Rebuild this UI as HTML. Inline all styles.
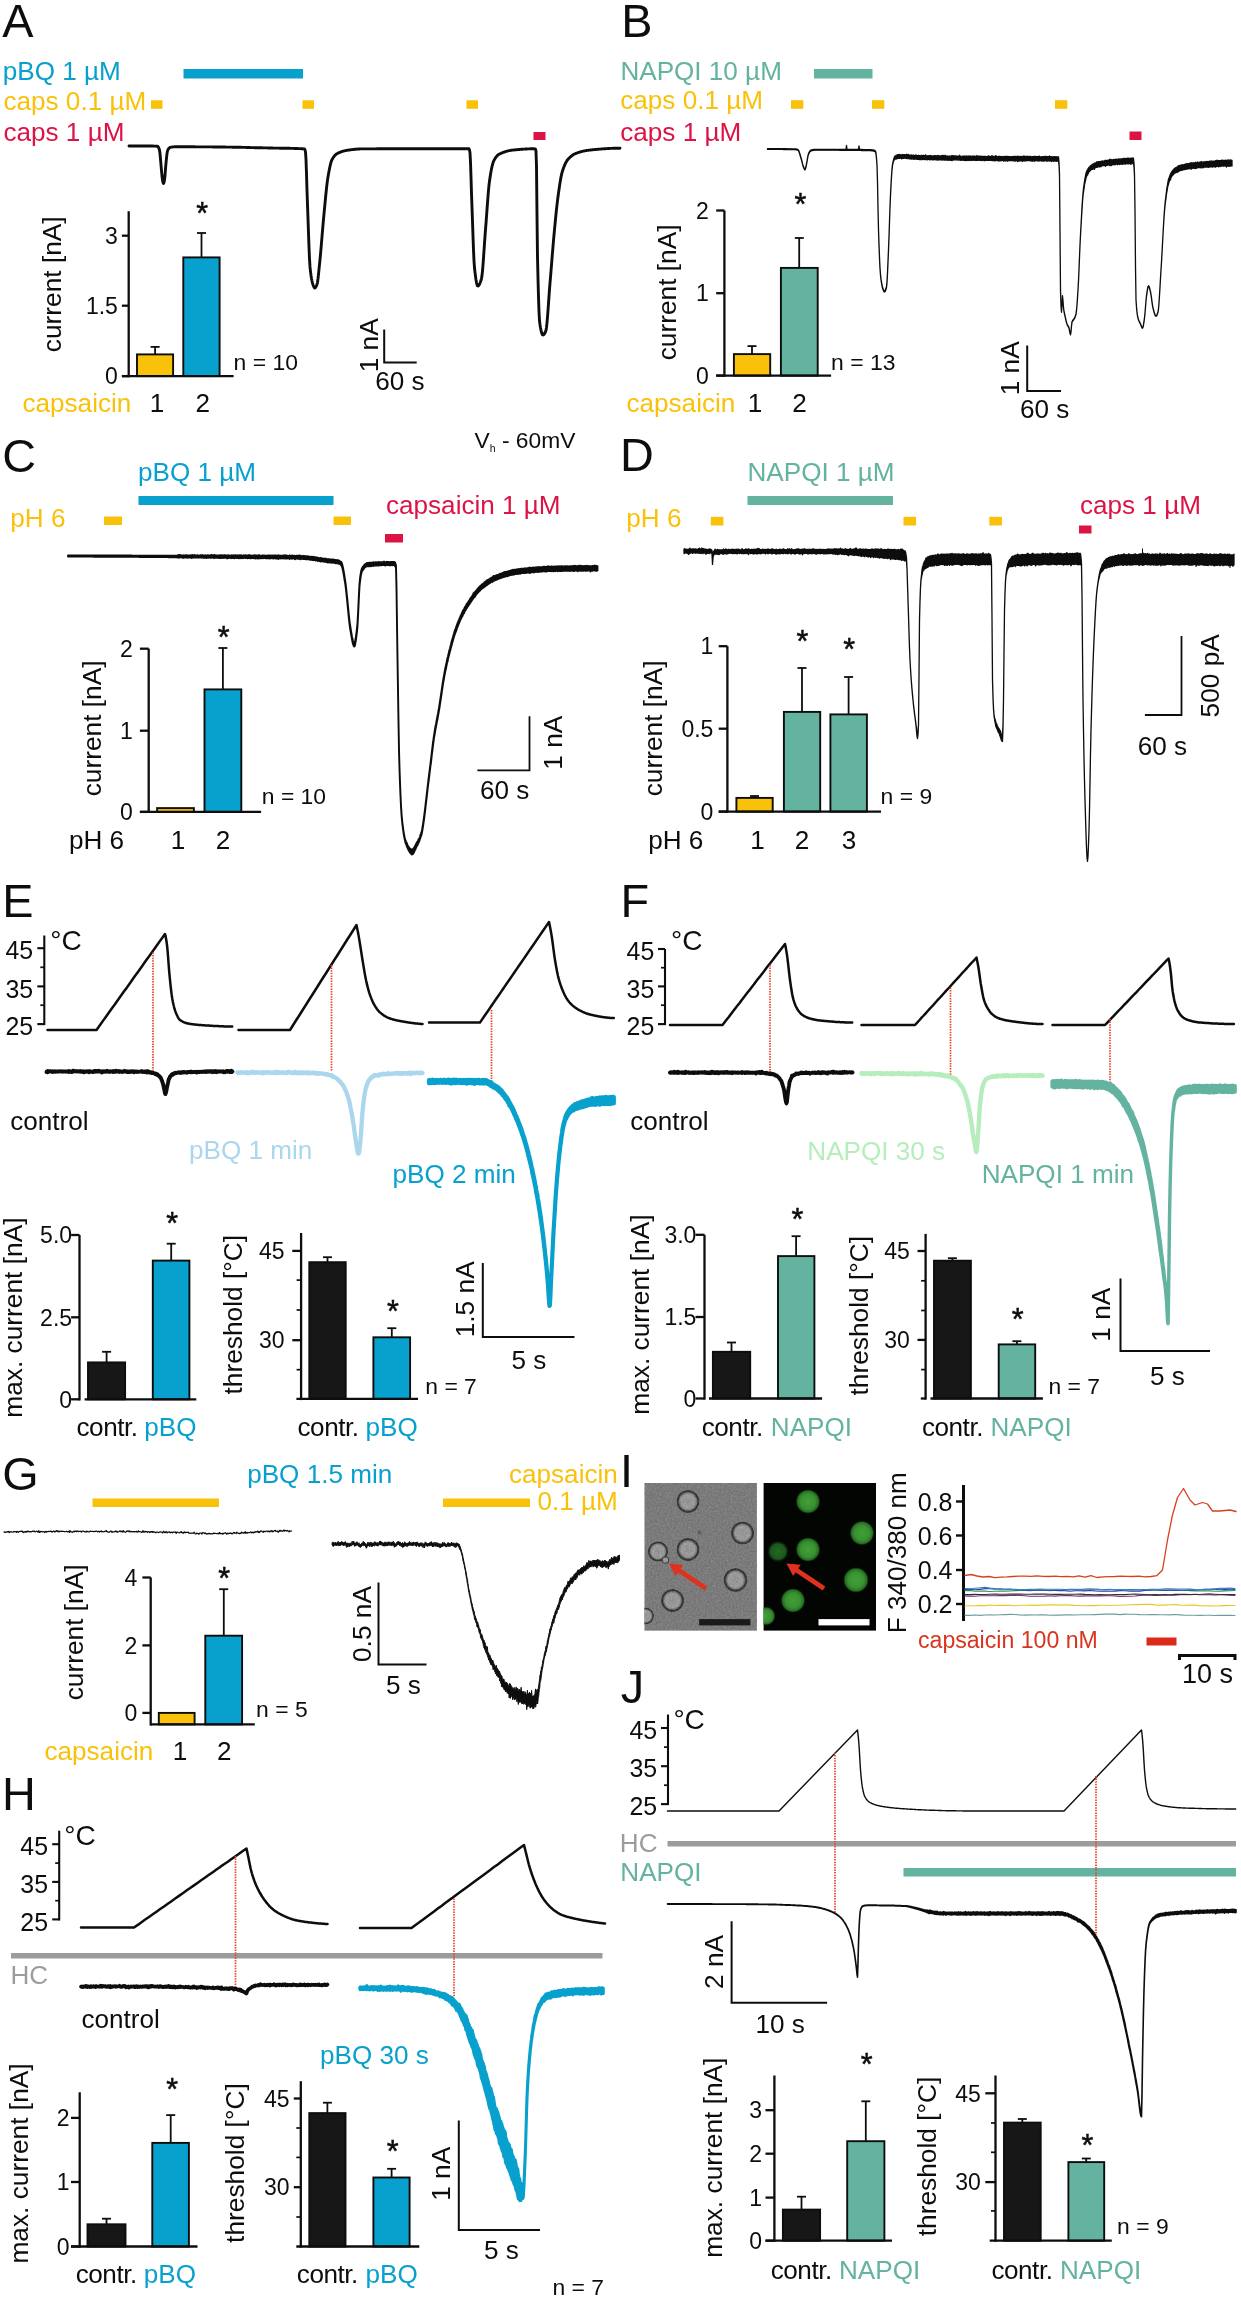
<!DOCTYPE html>
<html lang="en"><head><meta charset="utf-8"><title>Figure</title>
<style>html,body{margin:0;padding:0;background:#fff}svg{display:block;will-change:transform}text{font-family:"Liberation Sans",Arial,sans-serif}</style></head>
<body>
<svg width="1241" height="2300" viewBox="0 0 1241 2300">
<rect width="1241" height="2300" fill="#fff"/>
<g>
<text x="2.3" y="36.7" font-size="46.8" fill="#0d0d0d">A</text>
<text x="2.8" y="79.8" font-size="26.1" fill="#08a0cd">pBQ 1 µM</text>
<text x="3.5" y="109.5" font-size="26.1" fill="#f9c10a">caps 0.1 µM</text>
<text x="3.5" y="141.2" font-size="26.1" fill="#dc1446">caps 1 µM</text>
<rect x="183.5" y="69" width="119.5" height="9.5" fill="#08a0cd"/>
<rect x="151" y="100.3" width="11.5" height="8.5" fill="#f9c10a"/>
<rect x="302.5" y="100.3" width="11.5" height="8.5" fill="#f9c10a"/>
<rect x="466.5" y="100.3" width="11.5" height="8.5" fill="#f9c10a"/>
<rect x="533.5" y="132" width="12" height="8" fill="#dc1446"/>
<polyline points="129,146 129.5,146 130,146 130.5,146 131,146 131.5,146 132,146 132.5,146 133,146 133.5,146 134,146 134.5,146 135,146 135.5,146 136,146 136.5,146 137,146 137.5,146 138,146 138.5,146 139,146 139.5,146 140,146 140.5,146 141,146 141.5,146 142,146 142.5,146 143,146 143.5,146 144,146 144.5,146 145,146 145.5,146 146,146 146.5,146 147,146 147.5,146 148,146 148.5,146 149,146 149.5,146 150,146 150.5,146 151,146 151.5,146 152,146 152.5,146 153,146 153.5,146.1 154,146.1 154.5,146.1 155,146.1 155.5,146.1 156,146.2 156.5,146.2 157,146.3 157.5,146.3 158,146.6 158.5,147.4 159,148.5 159.5,150 160,153.5 160.5,159.2 161,165 161.5,170.6 162,176.1 162.5,180 163,182.4 163.5,183.5 164,182.4 164.5,180 165,175.5 165.5,168.9 166,163 166.5,158.1 167,153.6 167.5,151 168,149.8 168.5,148.9 169,148.2 169.5,147.8 170,147.5 170.5,147.4 171,147.2 171.5,147.1 172,147.1 172.5,147 173,146.9 173.5,146.9 174,146.8 174.5,146.8 175,146.8 175.5,146.8 176,146.8 176.5,146.8 177,146.8 177.5,146.8 178,146.8 178.5,146.8 179,146.8 179.5,146.8 180,146.8 180.5,146.8 181,146.8 181.5,146.8 182,146.8 182.5,146.8 183,146.8 183.5,146.8 184,146.8 184.5,146.8 185,146.8 185.5,146.8 186,146.8 186.5,146.8 187,146.8 187.5,146.8 188,146.8 188.5,146.8 189,146.8 189.5,146.8 190,146.8 190.5,146.8 191,146.8 191.5,146.8 192,146.8 192.5,146.8 193,146.8 193.5,146.8 194,146.8 194.5,146.8 195,146.8 195.5,146.9 196,146.9 196.5,146.9 197,146.9 197.5,146.9 198,146.9 198.5,146.9 199,146.9 199.5,146.9 200,146.9 200.5,146.9 201,146.9 201.5,146.9 202,146.9 202.5,146.9 203,146.9 203.5,146.9 204,146.9 204.5,146.9 205,146.9 205.5,146.9 206,146.9 206.5,146.9 207,146.9 207.5,146.9 208,146.9 208.5,146.9 209,146.9 209.5,146.9 210,146.9 210.5,146.9 211,146.9 211.5,146.9 212,146.9 212.5,146.9 213,147 213.5,147 214,147 214.5,147 215,147 215.5,147 216,147 216.5,147 217,147 217.5,147 218,147 218.5,147 219,147 219.5,147 220,147 220.5,147 221,147 221.5,147 222,147 222.5,147 223,147 223.5,147 224,147 224.5,147 225,147 225.5,147.1 226,147.1 226.5,147.1 227,147.1 227.5,147.1 228,147.1 228.5,147.1 229,147.1 229.5,147.1 230,147.1 230.5,147.1 231,147.1 231.5,147.1 232,147.2 232.5,147.2 233,147.2 233.5,147.2 234,147.2 234.5,147.2 235,147.2 235.5,147.2 236,147.2 236.5,147.2 237,147.2 237.5,147.3 238,147.3 238.5,147.3 239,147.3 239.5,147.3 240,147.3 240.5,147.3 241,147.3 241.5,147.3 242,147.4 242.5,147.4 243,147.4 243.5,147.4 244,147.4 244.5,147.4 245,147.4 245.5,147.4 246,147.4 246.5,147.5 247,147.5 247.5,147.5 248,147.5 248.5,147.5 249,147.5 249.5,147.5 250,147.5 250.5,147.6 251,147.6 251.5,147.6 252,147.6 252.5,147.6 253,147.6 253.5,147.6 254,147.6 254.5,147.7 255,147.7 255.5,147.7 256,147.7 256.5,147.7 257,147.7 257.5,147.7 258,147.7 258.5,147.7 259,147.8 259.5,147.8 260,147.8 260.5,147.8 261,147.8 261.5,147.8 262,147.8 262.5,147.8 263,147.9 263.5,147.9 264,147.9 264.5,147.9 265,147.9 265.5,147.9 266,147.9 266.5,147.9 267,147.9 267.5,147.9 268,148 268.5,148 269,148 269.5,148 270,148 270.5,148 271,148 271.5,148 272,148 272.5,148 273,148.1 273.5,148.1 274,148.1 274.5,148.1 275,148.1 275.5,148.1 276,148.1 276.5,148.1 277,148.1 277.5,148.1 278,148.1 278.5,148.1 279,148.1 279.5,148.2 280,148.2 280.5,148.2 281,148.2 281.5,148.2 282,148.2 282.5,148.2 283,148.2 283.5,148.2 284,148.2 284.5,148.2 285,148.2 285.5,148.3 286,148.3 286.5,148.3 287,148.3 287.5,148.3 288,148.3 288.5,148.3 289,148.3 289.5,148.3 290,148.3 290.5,148.4 291,148.4 291.5,148.4 292,148.4 292.5,148.4 293,148.4 293.5,148.4 294,148.4 294.5,148.5 295,148.5 295.5,148.5 296,148.5 296.5,148.5 297,148.5 297.5,148.5 298,148.6 298.5,148.6 299,148.6 299.5,148.6 300,148.6 300.5,148.6 301,148.7 301.5,148.7 302,148.7 302.5,148.8 303,148.8 303.5,148.9 304,148.9 304.5,149 305,149.9 305.5,152 306,159.5 306.5,173.8 307,190.3 307.5,204.6 308,218.6 308.5,233.2 309,247.1 309.5,258.9 310,266.9 310.5,271.6 311,275.4 311.5,278.5 312,281.1 312.5,283.1 313,284.7 313.5,286 314,287.2 314.5,287.9 315,288 315.5,287.5 316,286.7 316.5,285.7 317,284.4 317.5,282.2 318,278.7 318.5,274.3 319,269.4 319.5,264.4 320,259.6 320.5,254.3 321,248.7 321.5,242.7 322,236.7 322.5,230.7 323,224.8 323.5,219.2 324,213.9 324.5,208.7 325,203.3 325.5,198.1 326,193 326.5,188.3 327,183.9 327.5,180.1 328,176.9 328.5,174 329,171.2 329.5,168.7 330,166.3 330.5,164.2 331,162.3 331.5,160.8 332,159.7 332.5,158.8 333,158 333.5,157.2 334,156.5 334.5,155.9 335,155.3 335.5,154.8 336,154.4 336.5,154 337,153.7 337.5,153.4 338,153.2 338.5,152.9 339,152.7 339.5,152.5 340,152.3 340.5,152.1 341,151.9 341.5,151.7 342,151.5 342.5,151.4 343,151.2 343.5,151.1 344,151 344.5,150.8 345,150.7 345.5,150.6 346,150.5 346.5,150.4 347,150.3 347.5,150.3 348,150.2 348.5,150.1 349,150 349.5,150 350,149.9 350.5,149.8 351,149.8 351.5,149.7 352,149.6 352.5,149.6 353,149.5 353.5,149.5 354,149.4 354.5,149.3 355,149.3 355.5,149.2 356,149.2 356.5,149.2 357,149.1 357.5,149.1 358,149 358.5,149 359,149 359.5,149 360,148.9 360.5,148.9 361,148.9 361.5,148.9 362,148.9 362.5,148.9 363,148.9 363.5,148.9 364,148.9 364.5,148.9 365,148.9 365.5,148.9 366,148.9 366.5,148.9 367,148.9 367.5,148.9 368,148.9 368.5,148.9 369,148.9 369.5,148.9 370,148.9 370.5,148.9 371,148.9 371.5,148.9 372,148.9 372.5,148.9 373,148.9 373.5,148.9 374,148.9 374.5,148.9 375,148.9 375.5,148.9 376,148.9 376.5,148.8 377,148.8 377.5,148.8 378,148.8 378.5,148.8 379,148.8 379.5,148.8 380,148.8 380.5,148.8 381,148.8 381.5,148.8 382,148.8 382.5,148.8 383,148.8 383.5,148.8 384,148.8 384.5,148.8 385,148.8 385.5,148.8 386,148.8 386.5,148.8 387,148.8 387.5,148.8 388,148.8 388.5,148.8 389,148.8 389.5,148.8 390,148.8 390.5,148.8 391,148.8 391.5,148.8 392,148.8 392.5,148.8 393,148.8 393.5,148.8 394,148.8 394.5,148.8 395,148.8 395.5,148.8 396,148.8 396.5,148.8 397,148.8 397.5,148.8 398,148.8 398.5,148.8 399,148.8 399.5,148.8 400,148.8 400.5,148.8 401,148.8 401.5,148.8 402,148.8 402.5,148.8 403,148.8 403.5,148.8 404,148.8 404.5,148.8 405,148.8 405.5,148.8 406,148.8 406.5,148.8 407,148.8 407.5,148.8 408,148.8 408.5,148.8 409,148.8 409.5,148.8 410,148.8 410.5,148.8 411,148.8 411.5,148.8 412,148.8 412.5,148.8 413,148.8 413.5,148.8 414,148.8 414.5,148.8 415,148.8 415.5,148.8 416,148.8 416.5,148.8 417,148.8 417.5,148.8 418,148.8 418.5,148.8 419,148.8 419.5,148.8 420,148.8 420.5,148.8 421,148.8 421.5,148.8 422,148.8 422.5,148.8 423,148.8 423.5,148.8 424,148.8 424.5,148.8 425,148.8 425.5,148.8 426,148.8 426.5,148.8 427,148.8 427.5,148.8 428,148.8 428.5,148.8 429,148.8 429.5,148.8 430,148.8 430.5,148.8 431,148.8 431.5,148.8 432,148.8 432.5,148.8 433,148.8 433.5,148.8 434,148.8 434.5,148.8 435,148.8 435.5,148.8 436,148.8 436.5,148.8 437,148.8 437.5,148.8 438,148.8 438.5,148.8 439,148.8 439.5,148.8 440,148.8 440.5,148.8 441,148.8 441.5,148.8 442,148.8 442.5,148.8 443,148.8 443.5,148.8 444,148.8 444.5,148.8 445,148.8 445.5,148.8 446,148.8 446.5,148.8 447,148.8 447.5,148.8 448,148.8 448.5,148.8 449,148.8 449.5,148.8 450,148.8 450.5,148.8 451,148.8 451.5,148.8 452,148.8 452.5,148.8 453,148.8 453.5,148.8 454,148.8 454.5,148.8 455,148.8 455.5,148.8 456,148.8 456.5,148.8 457,148.8 457.5,148.8 458,148.8 458.5,148.8 459,148.8 459.5,148.8 460,148.8 460.5,148.8 461,148.8 461.5,148.8 462,148.8 462.5,148.8 463,148.8 463.5,148.8 464,148.8 464.5,148.8 465,148.8 465.5,148.8 466,148.8 466.5,148.8 467,148.8 467.5,148.8 468,148.8 468.5,148.8 469,148.8 469.5,150 470,152.8 470.5,162.1 471,177.2 471.5,193.5 472,207.3 472.5,221.5 473,236.2 473.5,249.9 474,260.9 474.5,268 475,272.4 475.5,276.4 476,279.8 476.5,282.6 477,284.7 477.5,285.8 478,286 478.5,285.7 479,285.1 479.5,284.2 480,283.1 480.5,281.8 481,280.3 481.5,278.6 482,275.6 482.5,270.9 483,264.9 483.5,258.1 484,250.7 484.5,243.3 485,236.1 485.5,229.6 486,223.3 486.5,216.6 487,209.7 487.5,202.9 488,196.4 488.5,190.4 489,185.2 489.5,181 490,177.7 490.5,174.5 491,171.6 491.5,169 492,166.6 492.5,164.5 493,162.8 493.5,161.4 494,160.4 494.5,159.5 495,158.6 495.5,157.9 496,157.2 496.5,156.5 497,155.9 497.5,155.4 498,155 498.5,154.6 499,154.3 499.5,154 500,153.8 500.5,153.5 501,153.3 501.5,153.1 502,152.9 502.5,152.7 503,152.5 503.5,152.3 504,152.1 504.5,151.9 505,151.8 505.5,151.6 506,151.4 506.5,151.3 507,151.2 507.5,151 508,150.9 508.5,150.8 509,150.7 509.5,150.6 510,150.5 510.5,150.4 511,150.3 511.5,150.3 512,150.2 512.5,150.1 513,150.1 513.5,150 514,150 514.5,149.9 515,149.9 515.5,149.8 516,149.8 516.5,149.7 517,149.7 517.5,149.6 518,149.6 518.5,149.5 519,149.5 519.5,149.5 520,149.4 520.5,149.4 521,149.3 521.5,149.3 522,149.3 522.5,149.2 523,149.2 523.5,149.1 524,149.1 524.5,149.1 525,149.1 525.5,149 526,149 526.5,149 527,149 527.5,148.9 528,148.9 528.5,148.9 529,148.9 529.5,148.9 530,148.8 530.5,148.8 531,148.8 531.5,148.8 532,148.8 532.5,148.8 533,148.8 533.5,148.8 534,148.8 534.5,148.9 535,148.9 535.5,149.1 536,151.4 536.5,166.2 537,215.2 537.5,257 538,278.5 538.5,297.1 539,311.6 539.5,320.8 540,324.7 540.5,327.7 541,330.3 541.5,332.3 542,333.8 542.5,334.7 543,335 543.5,334.8 544,334.4 544.5,333.7 545,332.8 545.5,331.7 546,330.3 546.5,327.4 547,322.8 547.5,317 548,310.4 548.5,303.3 549,296.2 549.5,289.4 550,283.2 550.5,277.2 551,271.1 551.5,264.8 552,258.5 552.5,252.4 553,246.3 553.5,240.5 554,235 554.5,229.7 555,224.4 555.5,219.2 556,214.2 556.5,209.3 557,204.8 557.5,200.6 558,196.7 558.5,193.1 559,189.5 559.5,186.1 560,182.9 560.5,179.9 561,177.1 561.5,174.7 562,172.7 562.5,171 563,169.5 563.5,168 564,166.7 564.5,165.4 565,164.3 565.5,163.2 566,162.3 566.5,161.4 567,160.6 567.5,159.9 568,159.4 568.5,158.8 569,158.3 569.5,157.7 570,157.3 570.5,156.8 571,156.4 571.5,156 572,155.6 572.5,155.2 573,154.9 573.5,154.6 574,154.3 574.5,154 575,153.8 575.5,153.6 576,153.4 576.5,153.2 577,153 577.5,152.8 578,152.6 578.5,152.5 579,152.3 579.5,152.2 580,152 580.5,151.9 581,151.7 581.5,151.6 582,151.5 582.5,151.3 583,151.2 583.5,151.1 584,151 584.5,150.9 585,150.8 585.5,150.7 586,150.6 586.5,150.5 587,150.4 587.5,150.4 588,150.3 588.5,150.2 589,150.2 589.5,150.1 590,150.1 590.5,150 591,150 591.5,149.9 592,149.8 592.5,149.8 593,149.7 593.5,149.7 594,149.6 594.5,149.6 595,149.5 595.5,149.5 596,149.5 596.5,149.4 597,149.4 597.5,149.3 598,149.3 598.5,149.2 599,149.2 599.5,149.1 600,149.1 600.5,149.1 601,149 601.5,149 602,148.9 602.5,148.9 603,148.9 603.5,148.8 604,148.8 604.5,148.8 605,148.7 605.5,148.7 606,148.7 606.5,148.6 607,148.6 607.5,148.6 608,148.5 608.5,148.5 609,148.5 609.5,148.5 610,148.4 610.5,148.4 611,148.4 611.5,148.4 612,148.4 612.5,148.3 613,148.3 613.5,148.3 614,148.3 614.5,148.3 615,148.3 615.5,148.3 616,148.2 616.5,148.2 617,148.2 617.5,148.2 618,148.2 618.5,148.2 619,148.2 619.5,148.2 620,148.2" fill="none" stroke="#0d0d0d" stroke-width="2.9" stroke-linejoin="round" stroke-linecap="round"/>
<line x1="128.7" y1="211.2" x2="128.7" y2="377.2" stroke="#0d0d0d" stroke-width="2.3"/>
<line x1="121.9" y1="235.7" x2="128.7" y2="235.7" stroke="#0d0d0d" stroke-width="2.3"/>
<line x1="121.9" y1="305.7" x2="128.7" y2="305.7" stroke="#0d0d0d" stroke-width="2.3"/>
<line x1="121.9" y1="376.1" x2="128.7" y2="376.1" stroke="#0d0d0d" stroke-width="2.3"/>
<text x="117.9" y="243.9" font-size="23" fill="#0d0d0d" text-anchor="end">3</text>
<text x="117.9" y="313.9" font-size="23" fill="#0d0d0d" text-anchor="end">1.5</text>
<text x="117.9" y="384.3" font-size="23" fill="#0d0d0d" text-anchor="end">0</text>
<line x1="155.1" y1="346.9" x2="155.1" y2="354.4" stroke="#0d0d0d" stroke-width="1.8"/>
<line x1="150.6" y1="346.9" x2="159.6" y2="346.9" stroke="#0d0d0d" stroke-width="1.8"/>
<rect x="137" y="354.4" width="36.1" height="21.7" fill="#f9c10a" stroke="#0d0d0d" stroke-width="1.9"/>
<line x1="201.5" y1="233" x2="201.5" y2="257.4" stroke="#0d0d0d" stroke-width="1.8"/>
<line x1="197" y1="233" x2="206" y2="233" stroke="#0d0d0d" stroke-width="1.8"/>
<rect x="183.3" y="257.4" width="36.3" height="118.7" fill="#08a0cd" stroke="#0d0d0d" stroke-width="1.9"/>
<line x1="121.9" y1="376.1" x2="233.6" y2="376.1" stroke="#0d0d0d" stroke-width="2.3"/>
<text transform="translate(61.2 284.3) rotate(-90)" font-size="26.3" fill="#0d0d0d" text-anchor="middle">current [nA]</text>
<text x="202.3" y="223.9" font-size="30.5" fill="#0d0d0d" stroke="#0d0d0d" stroke-width="0.5" text-anchor="middle">*</text>
<text x="233.6" y="369.9" font-size="22.9" fill="#0d0d0d">n = 10</text>
<text x="22.5" y="412.3" font-size="26.1" fill="#f9c10a">capsaicin</text>
<text x="156.9" y="412.3" font-size="26.1" fill="#0d0d0d" text-anchor="middle">1</text>
<text x="202.8" y="412.3" font-size="26.1" fill="#0d0d0d" text-anchor="middle">2</text>
<polyline points="384.2,329.5 384.2,362.5 416.7,362.5" fill="none" stroke="#0d0d0d" stroke-width="2"/>
<text transform="translate(378.3 345.3) rotate(-90)" font-size="26.3" fill="#0d0d0d" text-anchor="middle">1 nA</text>
<text x="375.2" y="389.8" font-size="26.1" fill="#0d0d0d">60 s</text>
<text x="474.5" y="447.8" font-size="22.8" fill="#0d0d0d">V<tspan font-size="10.5" dy="4.3">h</tspan><tspan dy="-4.3"> - 60mV</tspan></text>
</g>
<g>
<text x="621.2" y="36.7" font-size="46.8" fill="#0d0d0d">B</text>
<text x="620.4" y="79.6" font-size="26.1" fill="#64b2a0">NAPQI 10 µM</text>
<text x="620.3" y="108.9" font-size="26.1" fill="#f9c10a">caps 0.1 µM</text>
<text x="620.3" y="140.5" font-size="26.1" fill="#dc1446">caps 1 µM</text>
<rect x="814" y="69" width="58.5" height="9.5" fill="#64b2a0"/>
<rect x="791" y="100.2" width="12.3" height="8.6" fill="#f9c10a"/>
<rect x="872" y="100.2" width="12.3" height="8.6" fill="#f9c10a"/>
<rect x="1055" y="100.2" width="12.3" height="8.6" fill="#f9c10a"/>
<rect x="1129.5" y="131.5" width="12" height="8.5" fill="#dc1446"/>
<polygon points="767.5,148.6 768,148.6 768.5,148.6 769,148.6 769.5,148.6 770,148.6 770.5,148.6 771,148.6 771.5,148.6 772,148.6 772.5,148.6 773,148.6 773.5,148.6 774,148.7 774.5,148.7 775,148.7 775.5,148.7 776,148.7 776.5,148.7 777,148.7 777.5,148.7 778,148.7 778.5,148.7 779,148.7 779.5,148.7 780,148.7 780.5,148.7 781,148.7 781.5,148.7 782,148.7 782.5,148.7 783,148.7 783.5,148.7 784,148.7 784.5,148.7 785,148.7 785.5,148.7 786,148.7 786.5,148.7 787,148.7 787.5,148.8 788,148.8 788.5,148.8 789,148.8 789.5,148.8 790,148.8 790.5,148.8 791,148.8 791.5,148.8 792,148.8 792.5,148.9 793,148.9 793.5,148.9 794,148.9 794.5,148.9 795,148.9 795.5,148.9 796,149 796.5,149.1 797,149.2 797.5,149.4 798,149.6 798.5,150.1 799,151.2 799.5,152.6 800,154.3 800.5,156 801,157.6 801.5,159.3 802,161.3 802.5,163.4 803,165.2 803.5,166.6 804,167.7 804.5,168.7 805,169.1 805.5,168.1 806,166 806.5,163.6 807,161.1 807.5,158.1 808,155.4 808.5,153.6 809,152.5 809.5,151.6 810,150.9 810.5,150.4 811,150.1 811.5,149.9 812,149.8 812.5,149.7 813,149.6 813.5,149.5 814,149.4 814.5,149.4 815,149.4 815.5,149.4 816,149.4 816.5,149.4 817,149.4 817.5,149.4 818,149.4 818.5,149.4 819,149.4 819.5,149.4 820,149.4 820.5,149.4 821,149.4 821.5,149.4 822,149.4 822.5,149.4 823,149.4 823.5,149.4 824,149.4 824.5,149.4 825,149.4 825.5,149.4 826,149.4 826.5,149.4 827,149.4 827.5,149.4 828,149.4 828.5,149.4 829,149.4 829.5,149.4 830,149.4 830.5,149.4 831,149.4 831.5,149.4 832,149.4 832.5,149.4 833,149.4 833.5,149.4 834,149.4 834.5,149.4 835,149.4 835.5,149.4 836,149.4 836.5,149.4 837,149.4 837.5,149.4 838,149.4 838.5,149.4 839,149.4 839.5,149.3 840,149.3 840.5,149.3 841,149.3 841.5,149.3 842,149.3 842.5,149.3 843,149.3 843.5,149.3 844,149.3 844.5,149.3 845,149.3 845.5,149.3 846,149.3 846.5,145.5 847,149.3 847.5,149.3 848,149.3 848.5,149.3 849,149.3 849.5,149.3 850,149.3 850.5,149.3 851,149.3 851.5,149.3 852,149.3 852.5,149.3 853,149.3 853.5,149.3 854,149.3 854.5,149.3 855,149.3 855.5,149.3 856,149.3 856.5,149.3 857,149.3 857.5,149.3 858,149.3 858.5,149.3 859,146 859.5,149.3 860,149.4 860.5,149.4 861,149.5 861.5,149.5 862,149.5 862.5,149.5 863,149.6 863.5,149.6 864,149.6 864.5,149.6 865,149.6 865.5,149.6 866,149.6 866.5,149.6 867,149.6 867.5,149.6 868,149.6 868.5,149.6 869,149.7 869.5,149.7 870,149.7 870.5,149.7 871,149.7 871.5,149.8 872,149.8 872.5,149.9 873,149.9 873.5,150 874,150.2 874.5,150.4 875,150.7 875.5,151 876,153 876.5,157.8 877,164.5 877.5,181.3 878,207.6 878.5,229.5 879,244.1 879.5,257.2 880,267.7 880.5,274.5 881,278.7 881.5,282.1 882,284.8 882.5,286.9 883,288.5 883.5,289.6 884,290.6 884.5,290.9 885,290.6 885.5,289.7 886,288.3 886.5,286.4 887,281.6 887.5,272.5 888,261.1 888.5,249.4 889,236.4 889.5,221.2 890,206.4 890.5,194.4 891,184.7 891.5,175.8 892,168.7 892.5,164.4 893,162 893.5,159.9 894,158.1 894.5,157 895,156.1 895.5,156 896,155.5 896.5,155.6 897,155.1 897.5,154.7 898,154.8 898.5,154.4 899,154.9 899.5,154.4 900,155 900.5,154.8 901,154.9 901.5,154.8 902,154.8 902.5,155 903,154.5 903.5,154.9 904,154.8 904.5,154.9 905,154.7 905.5,154.9 906,155 906.5,154.3 907,154.9 907.5,155 908,154.4 908.5,154.6 909,155.3 909.5,155.1 910,155.4 910.5,155.3 911,155 911.5,155 912,155.2 912.5,155.4 913,155.6 913.5,155.1 914,155.3 914.5,155.5 915,155.3 915.5,155 916,155.8 916.5,155.2 917,155.6 917.5,155.7 918,155.8 918.5,155.3 919,155.8 919.5,155.6 920,155.9 920.5,155.9 921,155.4 921.5,155.5 922,155.4 922.5,155.7 923,155.5 923.5,155.5 924,155.9 924.5,155.7 925,155.8 925.5,154.9 926,155.8 926.5,155.8 927,156 927.5,155.8 928,156 928.5,155.8 929,155.7 929.5,155.9 930,156.1 930.5,155.5 931,155.7 931.5,155.9 932,156.1 932.5,156.1 933,156.1 933.5,155.9 934,155.7 934.5,156.1 935,155.6 935.5,156.1 936,155.7 936.5,156.2 937,156.2 937.5,155.5 938,155.8 938.5,155.7 939,156 939.5,155.8 940,156.1 940.5,156.1 941,156 941.5,155.6 942,156 942.5,155.3 943,155.5 943.5,156.3 944,155.4 944.5,156.3 945,156.3 945.5,155.4 946,156.3 946.5,156.3 947,156.1 947.5,156.1 948,156 948.5,156.2 949,156.3 949.5,156.1 950,156.1 950.5,156.4 951,156.2 951.5,156.2 952,155.5 952.5,156.2 953,155.8 953.5,156.4 954,155.7 954.5,156.5 955,156 955.5,155.9 956,156 956.5,156.5 957,156.3 957.5,156.1 958,156.5 958.5,156.4 959,156.1 959.5,155.3 960,155.9 960.5,156.5 961,156.4 961.5,156.4 962,156.5 962.5,156.5 963,156.2 963.5,156.2 964,156.4 964.5,155.9 965,156.2 965.5,156.5 966,156.4 966.5,155.9 967,156.1 967.5,156.5 968,156.3 968.5,156 969,156.4 969.5,156.5 970,155.9 970.5,156.1 971,156.3 971.5,156.3 972,156.4 972.5,156.2 973,156.1 973.5,156.3 974,156 974.5,156.6 975,156.3 975.5,156.5 976,156.4 976.5,156.4 977,155.5 977.5,156.4 978,156.1 978.5,156.5 979,156.4 979.5,156.2 980,156.5 980.5,156.1 981,156.7 981.5,156.4 982,156.5 982.5,156.4 983,156.3 983.5,156.6 984,156.5 984.5,156.5 985,156.4 985.5,156.5 986,156.6 986.5,156.6 987,156.6 987.5,156.5 988,156.4 988.5,155.8 989,156.4 989.5,156.5 990,156.6 990.5,156.4 991,156.6 991.5,156.3 992,155.6 992.5,156.5 993,156.4 993.5,156.7 994,156.5 994.5,156.5 995,156.5 995.5,156 996,155.6 996.5,156.7 997,156.7 997.5,156.8 998,156.7 998.5,156.3 999,156.4 999.5,156.5 1000,156.4 1000.5,156.8 1001,156.5 1001.5,156.8 1002,156.7 1002.5,156.6 1003,156.8 1003.5,156.6 1004,156.8 1004.5,156.4 1005,156.5 1005.5,156.4 1006,156.4 1006.5,156.7 1007,156.5 1007.5,156.4 1008,156.5 1008.5,156.8 1009,156.5 1009.5,156.7 1010,156.6 1010.5,156.6 1011,156.8 1011.5,156.7 1012,156.8 1012.5,156.6 1013,156.6 1013.5,156.5 1014,156.7 1014.5,156.3 1015,156.6 1015.5,156.4 1016,156.8 1016.5,156.4 1017,156.8 1017.5,156.3 1018,156.1 1018.5,156.7 1019,156.8 1019.5,156.5 1020,156.7 1020.5,156.4 1021,156.8 1021.5,156.4 1022,156.8 1022.5,156.5 1023,156.2 1023.5,156.4 1024,156.1 1024.5,156.2 1025,156.8 1025.5,156.5 1026,156.4 1026.5,156.5 1027,156.8 1027.5,156.4 1028,156.2 1028.5,156.6 1029,156.6 1029.5,156.8 1030,156.3 1030.5,156.4 1031,156.7 1031.5,156.8 1032,156.8 1032.5,156.7 1033,156.8 1033.5,156.5 1034,156.4 1034.5,156.8 1035,156.4 1035.5,156.4 1036,156.9 1036.5,156.5 1037,156.8 1037.5,156.7 1038,156.9 1038.5,156.5 1039,156.4 1039.5,156.2 1040,156.8 1040.5,156.9 1041,156.9 1041.5,156.8 1042,156.9 1042.5,156.6 1043,156.6 1043.5,156.9 1044,156.6 1044.5,156.5 1045,156.7 1045.5,156.8 1046,156.2 1046.5,156.5 1047,156.9 1047.5,156.6 1048,156.7 1048.5,156.9 1049,156.5 1049.5,156 1050,156.9 1050.5,156.7 1051,156.8 1051.5,156.7 1052,156.8 1052.5,156.9 1053,156.8 1053.5,157.1 1054,156.6 1054.5,156.8 1055,156.9 1055.5,156.9 1056,156.6 1056.5,157.1 1057,156.9 1057.5,157.1 1058,157 1058.5,156.8 1059,162.1 1059.5,174.3 1060,231.1 1060.5,289.7 1061,305.3 1061.5,311.7 1062,303.7 1062.5,295.7 1063,300.8 1063.5,307.7 1064,310.9 1064.5,313.4 1065,315.7 1065.5,318 1066,320.2 1066.5,322.1 1067,323.7 1067.5,324.8 1068,325.7 1068.5,326.5 1069,327.7 1069.5,330 1070,332.8 1070.5,334.2 1071,331.3 1071.5,325.5 1072,321.7 1072.5,320.7 1073,320 1073.5,319.4 1074,318.7 1074.5,317.8 1075,316.8 1075.5,315.5 1076,313.7 1076.5,310.2 1077,304.5 1077.5,297.4 1078,289.7 1078.5,280.5 1079,269.1 1079.5,256.8 1080,244.9 1080.5,234.6 1081,225.4 1081.5,216.3 1082,207.1 1082.5,199.9 1083,193.5 1083.5,188.2 1084,185 1084.5,181.4 1085,178.3 1085.5,175.9 1086,173.3 1086.5,172.1 1087,170.6 1087.5,170 1088,168.8 1088.5,168 1089,167.4 1089.5,166.9 1090,166.3 1090.5,165.9 1091,165.6 1091.5,165 1092,164.9 1092.5,164.7 1093,163.9 1093.5,163.9 1094,163.8 1094.5,163 1095,163.4 1095.5,163 1096,162.8 1096.5,162.1 1097,161.8 1097.5,162.1 1098,162 1098.5,161.6 1099,162 1099.5,161.9 1100,161.4 1100.5,161.7 1101,161.7 1101.5,161.3 1102,160.9 1102.5,161 1103,161.2 1103.5,161.1 1104,161.1 1104.5,161 1105,160.3 1105.5,160.9 1106,160.4 1106.5,160.7 1107,160.5 1107.5,160.4 1108,160.1 1108.5,160.1 1109,160.3 1109.5,160.1 1110,159.1 1110.5,160.2 1111,159.9 1111.5,159.7 1112,159.8 1112.5,159.8 1113,159.8 1113.5,159.6 1114,159.4 1114.5,159.8 1115,159.4 1115.5,159.7 1116,159.1 1116.5,159.5 1117,159.4 1117.5,159.5 1118,159.4 1118.5,159.1 1119,158.8 1119.5,159 1120,159.2 1120.5,159.2 1121,158.8 1121.5,159.2 1122,158.7 1122.5,159 1123,158.8 1123.5,158.6 1124,158.2 1124.5,158.8 1125,158.7 1125.5,158.8 1126,158.4 1126.5,158.8 1127,158.3 1127.5,158.1 1128,158.7 1128.5,158.1 1129,158.8 1129.5,158.4 1130,158.3 1130.5,158.6 1131,158.2 1131.5,158.7 1132,158.2 1132.5,158.2 1133,157.9 1133.5,158.9 1134,163.5 1134.5,174.2 1135,210.3 1135.5,266.1 1136,299.7 1136.5,306.9 1137,312 1137.5,315.4 1138,317.7 1138.5,319.4 1139,320.7 1139.5,321.7 1140,322.7 1140.5,323.7 1141,324.9 1141.5,326.2 1142,327.3 1142.5,327.7 1143,326.8 1143.5,324.4 1144,321.2 1144.5,317.7 1145,313 1145.5,306.7 1146,300.4 1146.5,295.7 1147,292.2 1147.5,289 1148,286.6 1148.5,285.7 1149,286.3 1149.5,287.7 1150,289.6 1150.5,291.7 1151,294.3 1151.5,297.9 1152,301.7 1152.5,305.1 1153,307.7 1153.5,309.6 1154,311.5 1154.5,313.1 1155,314.5 1155.5,315.4 1156,315.7 1156.5,315.4 1157,314.5 1157.5,313.3 1158,311.7 1158.5,308.5 1159,302.7 1159.5,295.1 1160,286.5 1160.5,277.8 1161,269.7 1161.5,261.7 1162,252.8 1162.5,243.5 1163,234.2 1163.5,225.2 1164,216.9 1164.5,209.7 1165,204 1165.5,199.4 1166,195.4 1166.5,191.3 1167,187.6 1167.5,184.8 1168,181.9 1168.5,179.2 1169,177.9 1169.5,176.5 1170,175.3 1170.5,174 1171,172.9 1171.5,172.2 1172,171.5 1172.5,170.8 1173,170.2 1173.5,169.5 1174,169.1 1174.5,168.8 1175,168.2 1175.5,167.8 1176,167.5 1176.5,167.2 1177,167.2 1177.5,166.9 1178,166.2 1178.5,166.1 1179,165.4 1179.5,165.9 1180,165.7 1180.5,165.3 1181,165.5 1181.5,165 1182,164.7 1182.5,164.8 1183,164.9 1183.5,164.9 1184,164.7 1184.5,164.4 1185,164.5 1185.5,164.1 1186,163.9 1186.5,164.3 1187,163.5 1187.5,163.9 1188,163.8 1188.5,163.7 1189,163.6 1189.5,163.8 1190,163.1 1190.5,162.9 1191,162.9 1191.5,163.2 1192,162.7 1192.5,163.2 1193,163.2 1193.5,162.7 1194,163 1194.5,163 1195,163.1 1195.5,162.3 1196,162.9 1196.5,162.9 1197,162.5 1197.5,162 1198,162.5 1198.5,162.6 1199,162.5 1199.5,162.6 1200,162.2 1200.5,162 1201,162 1201.5,161.6 1202,162.2 1202.5,162.4 1203,162.1 1203.5,162 1204,162 1204.5,161.8 1205,162 1205.5,161.9 1206,161.5 1206.5,161.9 1207,161.6 1207.5,161.7 1208,161.4 1208.5,161.6 1209,161.7 1209.5,161.4 1210,161.1 1210.5,161.2 1211,161.3 1211.5,160.9 1212,161.3 1212.5,161.3 1213,161.2 1213.5,161.1 1214,161.1 1214.5,161.3 1215,161.1 1215.5,160.7 1216,160.8 1216.5,160.7 1217,160.1 1217.5,160.9 1218,160.8 1218.5,160.7 1219,160.9 1219.5,160.6 1220,160.6 1220.5,160.7 1221,160.7 1221.5,160.2 1222,160.7 1222.5,160.2 1223,160.3 1223.5,160.7 1224,160.4 1224.5,160.5 1225,160.6 1225.5,160.1 1226,160.5 1226.5,160.5 1227,160.5 1227.5,160.2 1228,159.8 1228.5,160 1229,160.4 1229.5,160.2 1230,160.2 1230.5,160 1231,160.4 1231.5,160.2 1232,160.3 1232,166 1231.5,165.7 1231,165.9 1230.5,166 1230,166.2 1229.5,166.3 1229,166 1228.5,166.1 1228,166 1227.5,165.9 1227,166 1226.5,167.1 1226,166 1225.5,166 1225,165.8 1224.5,166 1224,165.9 1223.5,166.1 1223,166.1 1222.5,165.9 1222,165.9 1221.5,166 1221,166 1220.5,166 1220,166.7 1219.5,166.5 1219,166.2 1218.5,166.7 1218,166.3 1217.5,166.3 1217,166.4 1216.5,166.5 1216,166.7 1215.5,167.1 1215,166.4 1214.5,166.6 1214,166.9 1213.5,166.4 1213,166.6 1212.5,167 1212,166.5 1211.5,166.8 1211,166.9 1210.5,166.9 1210,166.7 1209.5,167.1 1209,166.9 1208.5,167.3 1208,167.1 1207.5,166.9 1207,167.1 1206.5,167 1206,167 1205.5,167 1205,167.2 1204.5,167.1 1204,167.1 1203.5,167.7 1203,167.8 1202.5,167.5 1202,167.4 1201.5,167.6 1201,167.9 1200.5,167.7 1200,167.6 1199.5,167.7 1199,167.6 1198.5,167.6 1198,167.7 1197.5,167.8 1197,167.9 1196.5,168 1196,168.4 1195.5,167.9 1195,168.6 1194.5,168 1194,168.2 1193.5,168.3 1193,168 1192.5,168.2 1192,168.5 1191.5,169 1191,168.3 1190.5,168.6 1190,168.8 1189.5,168.6 1189,168.7 1188.5,168.7 1188,168.9 1187.5,169 1187,168.9 1186.5,168.9 1186,169.3 1185.5,169.3 1185,169.3 1184.5,169.3 1184,169.8 1183.5,169.5 1183,169.7 1182.5,170.2 1182,169.9 1181.5,170.4 1181,170.4 1180.5,170.2 1180,170.7 1179.5,170.7 1179,171.3 1178.5,171 1178,171.9 1177.5,172 1177,172.5 1176.5,172.3 1176,172.3 1175.5,172.8 1175,173.1 1174.5,173.5 1174,173.7 1173.5,174.4 1173,174.8 1172.5,175.5 1172,176 1171.5,176.8 1171,177.6 1170.5,179.7 1170,180.2 1169.5,180.9 1169,182.1 1168.5,184.2 1168,185.5 1167.5,187.9 1167,191.2 1166.5,194 1166,197.9 1165.5,201.7 1165,205.9 1164.5,211.1 1164,218 1163.5,226 1163,234.8 1162.5,244.1 1162,253.4 1161.5,262.3 1161,270.3 1160.5,278.4 1160,287.1 1159.5,295.7 1159,303.3 1158.5,309.1 1158,312.3 1157.5,313.9 1157,315.1 1156.5,316 1156,316.3 1155.5,316 1155,315.1 1154.5,313.7 1154,312.1 1153.5,310.2 1153,308.3 1152.5,305.7 1152,302.3 1151.5,298.5 1151,294.9 1150.5,292.3 1150,290.2 1149.5,288.3 1149,286.9 1148.5,286.3 1148,287.2 1147.5,289.6 1147,292.8 1146.5,296.3 1146,301 1145.5,307.3 1145,313.6 1144.5,318.3 1144,321.8 1143.5,325 1143,327.4 1142.5,328.3 1142,327.9 1141.5,326.8 1141,325.5 1140.5,324.3 1140,323.3 1139.5,322.3 1139,321.3 1138.5,320 1138,318.3 1137.5,316 1137,312.6 1136.5,307.5 1136,300.3 1135.5,266.7 1135,210.9 1134.5,175.8 1134,167.3 1133.5,162.9 1133,163.3 1132.5,163.4 1132,163.6 1131.5,163.7 1131,164.2 1130.5,164.1 1130,163.4 1129.5,163.7 1129,163.6 1128.5,163.5 1128,164 1127.5,163.7 1127,163.7 1126.5,163.7 1126,163.8 1125.5,164.1 1125,163.9 1124.5,163.9 1124,164.1 1123.5,163.8 1123,164 1122.5,164 1122,164.4 1121.5,163.8 1121,164.1 1120.5,164.1 1120,164.1 1119.5,164.5 1119,164.2 1118.5,164.1 1118,164 1117.5,164.8 1117,164.2 1116.5,164.1 1116,164.2 1115.5,164.3 1115,164.8 1114.5,164.6 1114,164.3 1113.5,164.7 1113,164.4 1112.5,164.8 1112,164.8 1111.5,165.5 1111,164.8 1110.5,164.8 1110,165.6 1109.5,165 1109,165.1 1108.5,164.9 1108,164.9 1107.5,165.2 1107,165.1 1106.5,165.3 1106,165.5 1105.5,166.3 1105,165.2 1104.5,165.5 1104,165.6 1103.5,165.6 1103,165.7 1102.5,165.7 1102,165.8 1101.5,166 1101,166.6 1100.5,166.2 1100,166.7 1099.5,167 1099,166.6 1098.5,166.4 1098,167 1097.5,167.2 1097,167.1 1096.5,167.4 1096,167.2 1095.5,167.4 1095,167.7 1094.5,169.3 1094,168.1 1093.5,168.7 1093,169 1092.5,169.4 1092,169.2 1091.5,169.4 1091,170 1090.5,170.3 1090,170.9 1089.5,171.5 1089,171.9 1088.5,172.6 1088,173.9 1087.5,174.9 1087,175.5 1086.5,176.6 1086,178.1 1085.5,180.4 1085,182.3 1084.5,184.9 1084,188.7 1083.5,191.8 1083,196 1082.5,202 1082,209.6 1081.5,217.7 1081,226.5 1080.5,235.4 1080,245.5 1079.5,257.4 1079,269.7 1078.5,281.1 1078,290.3 1077.5,298 1077,305.1 1076.5,310.8 1076,314.3 1075.5,316.1 1075,317.4 1074.5,318.4 1074,319.3 1073.5,320 1073,320.6 1072.5,321.3 1072,322.3 1071.5,326.1 1071,331.9 1070.5,334.8 1070,333.4 1069.5,330.6 1069,328.3 1068.5,327.1 1068,326.3 1067.5,325.4 1067,324.3 1066.5,322.7 1066,320.8 1065.5,318.6 1065,316.3 1064.5,314 1064,311.5 1063.5,308.3 1063,301.4 1062.5,296.3 1062,304.3 1061.5,312.3 1061,305.9 1060.5,290.3 1060,231.7 1059.5,175.7 1059,164.8 1058.5,160.5 1058,161.1 1057.5,161 1057,161 1056.5,161.3 1056,161.2 1055.5,161 1055,161.1 1054.5,161 1054,160.7 1053.5,161.3 1053,160.9 1052.5,160.7 1052,160.7 1051.5,161.5 1051,160.9 1050.5,160.9 1050,161 1049.5,160.6 1049,160.9 1048.5,160.7 1048,160.8 1047.5,160.8 1047,161.2 1046.5,160.7 1046,160.6 1045.5,160.7 1045,160.8 1044.5,160.8 1044,161.2 1043.5,160.6 1043,160.7 1042.5,161.1 1042,160.5 1041.5,161.1 1041,160.7 1040.5,160.5 1040,160.5 1039.5,160.9 1039,160.6 1038.5,161.1 1038,160.5 1037.5,160.9 1037,160.6 1036.5,160.5 1036,160.8 1035.5,160.7 1035,160.7 1034.5,161.3 1034,160.5 1033.5,160.6 1033,161 1032.5,161 1032,161.2 1031.5,160.8 1031,160.8 1030.5,160.9 1030,160.6 1029.5,160.4 1029,160.6 1028.5,160.6 1028,160.4 1027.5,160.6 1027,160.6 1026.5,160.5 1026,160.4 1025.5,161 1025,160.4 1024.5,160.9 1024,160.7 1023.5,160.5 1023,161 1022.5,161.4 1022,160.7 1021.5,160.9 1021,160.5 1020.5,160.8 1020,161 1019.5,160.4 1019,160.8 1018.5,160.9 1018,161.4 1017.5,161.5 1017,160.4 1016.5,160.5 1016,160.7 1015.5,161.1 1015,160.8 1014.5,160.5 1014,161.1 1013.5,160.3 1013,160.4 1012.5,160.5 1012,160.9 1011.5,160.4 1011,160.3 1010.5,160.4 1010,160.8 1009.5,160.3 1009,160.6 1008.5,160.7 1008,160.4 1007.5,161.3 1007,160.8 1006.5,160.7 1006,160.6 1005.5,161 1005,160.9 1004.5,160.6 1004,160.7 1003.5,161 1003,160.3 1002.5,160.4 1002,160.5 1001.5,160.4 1001,160.7 1000.5,160.8 1000,160.5 999.5,160.4 999,161.1 998.5,160.5 998,160.2 997.5,160.7 997,160.3 996.5,160.4 996,160.4 995.5,160.4 995,161 994.5,160.4 994,160.2 993.5,160.3 993,160.8 992.5,160.4 992,160.2 991.5,160.6 991,160.2 990.5,160.2 990,160.4 989.5,160.1 989,160.1 988.5,160.4 988,160.1 987.5,160.4 987,160.2 986.5,160.3 986,160.3 985.5,160.4 985,160.5 984.5,160.5 984,160.7 983.5,160 983,160.2 982.5,160 982,160.5 981.5,160.1 981,160.3 980.5,160.3 980,160.4 979.5,160.3 979,160 978.5,160.1 978,160.5 977.5,160.1 977,160.4 976.5,160.3 976,160.1 975.5,159.9 975,160.5 974.5,160.3 974,160.1 973.5,160.1 973,160.1 972.5,160.4 972,160.3 971.5,160.3 971,160 970.5,160.2 970,160.5 969.5,159.9 969,160.2 968.5,160.4 968,160.4 967.5,160.4 967,160.1 966.5,160.5 966,160 965.5,160.4 965,160.5 964.5,159.9 964,160.4 963.5,160.1 963,159.9 962.5,160.1 962,159.8 961.5,160.3 961,160.4 960.5,160.2 960,159.8 959.5,159.8 959,160.2 958.5,159.9 958,160 957.5,159.8 957,159.8 956.5,160 956,159.7 955.5,159.8 955,159.8 954.5,159.9 954,159.7 953.5,159.9 953,160.1 952.5,159.8 952,160.5 951.5,160.4 951,160 950.5,160.1 950,160.3 949.5,159.6 949,160.2 948.5,160.2 948,160.1 947.5,159.7 947,160.3 946.5,159.9 946,159.7 945.5,159.9 945,160.1 944.5,160.2 944,159.7 943.5,159.6 943,160 942.5,160 942,159.6 941.5,159.9 941,160 940.5,159.8 940,159.5 939.5,159.6 939,160.1 938.5,159.7 938,159.6 937.5,160.1 937,159.7 936.5,159.6 936,160 935.5,159.7 935,159.6 934.5,159.7 934,159.6 933.5,159.4 933,160 932.5,159.6 932,159.5 931.5,159.6 931,159.4 930.5,159.6 930,159.9 929.5,159.6 929,159.5 928.5,159.3 928,159.4 927.5,159.6 927,159.9 926.5,159.4 926,159.4 925.5,159.3 925,159.8 924.5,159.4 924,159.2 923.5,159.3 923,159.2 922.5,159.6 922,159.5 921.5,159.7 921,159.5 920.5,159.2 920,159.8 919.5,159.1 919,159.2 918.5,159.4 918,159.2 917.5,159.3 917,159.2 916.5,159.2 916,158.9 915.5,159 915,158.9 914.5,158.9 914,159.3 913.5,158.8 913,159.1 912.5,158.9 912,158.6 911.5,159 911,159.1 910.5,158.5 910,158.8 909.5,158.9 909,158.9 908.5,158.4 908,158.4 907.5,158.5 907,158.7 906.5,158.4 906,158.4 905.5,158.2 905,158.2 904.5,158.2 904,158.1 903.5,158.4 903,158.1 902.5,158.5 902,158.1 901.5,158.8 901,158.1 900.5,158.2 900,158.1 899.5,158.4 899,158.3 898.5,158.3 898,158.2 897.5,158.3 897,158.8 896.5,158.7 896,159.1 895.5,158.6 895,159 894.5,159.8 894,160.2 893.5,161.3 893,163.2 892.5,165.6 892,169.9 891.5,177 891,185.9 890.5,195.6 890,207.6 889.5,222.4 889,237.6 888.5,250.6 888,262.2 887.5,273.6 887,282.7 886.5,287.6 886,289.4 885.5,290.8 885,291.7 884.5,292.1 884,291.7 883.5,290.7 883,289.5 882.5,288 882,285.9 881.5,283.2 881,279.7 880.5,275.5 880,268.7 879.5,258.3 879,245.2 878.5,230.5 878,208.6 877.5,182.3 877,165.5 876.5,158.8 876,154 875.5,152 875,151.7 874.5,151.4 874,151.2 873.5,151 873,150.9 872.5,150.8 872,150.8 871.5,150.8 871,150.7 870.5,150.7 870,150.7 869.5,150.7 869,150.6 868.5,150.6 868,150.6 867.5,150.6 867,150.6 866.5,150.6 866,150.6 865.5,150.6 865,150.6 864.5,150.6 864,150.6 863.5,150.5 863,150.5 862.5,150.5 862,150.5 861.5,150.5 861,150.4 860.5,150.4 860,150.3 859.5,150.3 859,147 858.5,150.3 858,150.3 857.5,150.3 857,150.3 856.5,150.3 856,150.3 855.5,150.3 855,150.3 854.5,150.3 854,150.3 853.5,150.3 853,150.3 852.5,150.3 852,150.3 851.5,150.3 851,150.3 850.5,150.3 850,150.3 849.5,150.3 849,150.3 848.5,150.3 848,150.3 847.5,150.3 847,150.3 846.5,146.5 846,150.3 845.5,150.3 845,150.3 844.5,150.3 844,150.3 843.5,150.3 843,150.3 842.5,150.3 842,150.3 841.5,150.3 841,150.3 840.5,150.3 840,150.3 839.5,150.3 839,150.2 838.5,150.2 838,150.2 837.5,150.2 837,150.2 836.5,150.2 836,150.2 835.5,150.2 835,150.2 834.5,150.2 834,150.2 833.5,150.2 833,150.2 832.5,150.2 832,150.2 831.5,150.2 831,150.2 830.5,150.2 830,150.2 829.5,150.2 829,150.2 828.5,150.2 828,150.2 827.5,150.2 827,150.2 826.5,150.2 826,150.2 825.5,150.2 825,150.2 824.5,150.2 824,150.2 823.5,150.2 823,150.2 822.5,150.2 822,150.2 821.5,150.2 821,150.2 820.5,150.2 820,150.2 819.5,150.2 819,150.2 818.5,150.2 818,150.2 817.5,150.2 817,150.2 816.5,150.2 816,150.2 815.5,150.2 815,150.2 814.5,150.2 814,150.3 813.5,150.3 813,150.4 812.5,150.5 812,150.6 811.5,150.8 811,150.9 810.5,151.2 810,151.7 809.5,152.5 809,153.4 808.5,154.4 808,156.2 807.5,158.9 807,161.9 806.5,164.4 806,166.8 805.5,168.9 805,169.9 804.5,169.5 804,168.5 803.5,167.4 803,166 802.5,164.2 802,162.1 801.5,160.1 801,158.4 800.5,156.8 800,155 799.5,153.4 799,152 798.5,150.9 798,150.4 797.5,150.2 797,150 796.5,149.9 796,149.8 795.5,149.7 795,149.7 794.5,149.7 794,149.7 793.5,149.6 793,149.6 792.5,149.6 792,149.6 791.5,149.6 791,149.6 790.5,149.6 790,149.6 789.5,149.6 789,149.5 788.5,149.5 788,149.5 787.5,149.5 787,149.5 786.5,149.5 786,149.5 785.5,149.5 785,149.5 784.5,149.5 784,149.5 783.5,149.5 783,149.4 782.5,149.4 782,149.4 781.5,149.4 781,149.4 780.5,149.4 780,149.4 779.5,149.4 779,149.4 778.5,149.4 778,149.4 777.5,149.4 777,149.4 776.5,149.4 776,149.4 775.5,149.4 775,149.4 774.5,149.4 774,149.4 773.5,149.4 773,149.4 772.5,149.4 772,149.4 771.5,149.4 771,149.4 770.5,149.4 770,149.4 769.5,149.4 769,149.4 768.5,149.4 768,149.4 767.5,149.4" fill="#0d0d0d" stroke="#0d0d0d" stroke-width="1.3" stroke-linejoin="round"/>
<line x1="724.4" y1="210.5" x2="724.4" y2="376.8" stroke="#0d0d0d" stroke-width="2.3"/>
<line x1="716.2" y1="210.5" x2="724.4" y2="210.5" stroke="#0d0d0d" stroke-width="2.3"/>
<line x1="716.2" y1="293.2" x2="724.4" y2="293.2" stroke="#0d0d0d" stroke-width="2.3"/>
<line x1="716.2" y1="375.6" x2="724.4" y2="375.6" stroke="#0d0d0d" stroke-width="2.3"/>
<text x="708.9" y="218.7" font-size="23" fill="#0d0d0d" text-anchor="end">2</text>
<text x="708.9" y="301.4" font-size="23" fill="#0d0d0d" text-anchor="end">1</text>
<text x="708.9" y="383.8" font-size="23" fill="#0d0d0d" text-anchor="end">0</text>
<line x1="752" y1="346.1" x2="752" y2="354.1" stroke="#0d0d0d" stroke-width="1.8"/>
<line x1="747.5" y1="346.1" x2="756.5" y2="346.1" stroke="#0d0d0d" stroke-width="1.8"/>
<rect x="733.9" y="354.1" width="36.3" height="21.5" fill="#f9c10a" stroke="#0d0d0d" stroke-width="1.9"/>
<line x1="799.2" y1="238" x2="799.2" y2="267.9" stroke="#0d0d0d" stroke-width="1.8"/>
<line x1="794.8" y1="238" x2="803.8" y2="238" stroke="#0d0d0d" stroke-width="1.8"/>
<rect x="780.9" y="267.9" width="36.8" height="107.7" fill="#64b2a0" stroke="#0d0d0d" stroke-width="1.9"/>
<line x1="716.2" y1="375.6" x2="831.1" y2="375.6" stroke="#0d0d0d" stroke-width="2.3"/>
<text transform="translate(676.2 292.4) rotate(-90)" font-size="26.3" fill="#0d0d0d" text-anchor="middle">current [nA]</text>
<text x="800.4" y="214.8" font-size="30.5" fill="#0d0d0d" stroke="#0d0d0d" stroke-width="0.5" text-anchor="middle">*</text>
<text x="831.1" y="369.9" font-size="22.9" fill="#0d0d0d">n = 13</text>
<text x="626.5" y="412.3" font-size="26.1" fill="#f9c10a">capsaicin</text>
<text x="754.9" y="412.3" font-size="26.1" fill="#0d0d0d" text-anchor="middle">1</text>
<text x="799.4" y="412.3" font-size="26.1" fill="#0d0d0d" text-anchor="middle">2</text>
<polyline points="1027.2,345.5 1027.2,391 1061,391" fill="none" stroke="#0d0d0d" stroke-width="2"/>
<text transform="translate(1018.6 368.3) rotate(-90)" font-size="26.3" fill="#0d0d0d" text-anchor="middle">1 nA</text>
<text x="1020" y="417.5" font-size="26.1" fill="#0d0d0d">60 s</text>
</g>
<g>
<text x="2.3" y="471.5" font-size="46.8" fill="#0d0d0d">C</text>
<text x="138" y="480.7" font-size="26.1" fill="#08a0cd">pBQ 1 µM</text>
<rect x="138.5" y="496" width="195" height="9" fill="#08a0cd"/>
<text x="10.3" y="527" font-size="26.1" fill="#f9c10a">pH 6</text>
<rect x="104" y="516.5" width="18" height="8.5" fill="#f9c10a"/>
<rect x="333.5" y="516.5" width="17.5" height="8.5" fill="#f9c10a"/>
<text x="386" y="514" font-size="26.1" fill="#dc1446">capsaicin 1 µM</text>
<rect x="385" y="534" width="18" height="8.5" fill="#dc1446"/>
<polygon points="68,555.5 68.5,555.5 69,555.5 69.5,555.5 70,555.5 70.5,555.5 71,555.5 71.5,555.5 72,555.5 72.5,555.5 73,555.5 73.5,555.5 74,555.5 74.5,555.5 75,555.5 75.5,555.5 76,555.5 76.5,555.5 77,555.5 77.5,555.5 78,555.5 78.5,555.5 79,555.5 79.5,555.5 80,555.5 80.5,555.5 81,555.5 81.5,555.5 82,555.5 82.5,555.5 83,555.5 83.5,555.5 84,555.5 84.5,555.5 85,555.5 85.5,555.5 86,555.5 86.5,555.5 87,555.5 87.5,555.5 88,555.5 88.5,555.5 89,555.5 89.5,555.5 90,555.5 90.5,555.5 91,555.5 91.5,555.5 92,555.5 92.5,555.5 93,555.5 93.5,555.5 94,555.5 94.5,555.5 95,555.5 95.5,555.5 96,555.5 96.5,555.5 97,555.5 97.5,555.5 98,555.5 98.5,555.5 99,555.5 99.5,555.5 100,555.5 100.5,555.5 101,555.5 101.5,555.5 102,555.5 102.5,555.5 103,555.5 103.5,555.5 104,555.5 104.5,555.5 105,555.5 105.5,555.5 106,555.5 106.5,555.5 107,555.5 107.5,555.5 108,555.5 108.5,555.5 109,555.5 109.5,555.5 110,555.5 110.5,555.5 111,555.5 111.5,555.5 112,555.5 112.5,555.5 113,555.5 113.5,555.5 114,555.5 114.5,555.5 115,555.5 115.5,555.5 116,555.5 116.5,555.5 117,555.5 117.5,555.5 118,555.5 118.5,555.5 119,555.5 119.5,555.5 120,555.5 120.5,555.5 121,555.5 121.5,555.5 122,555.5 122.5,555.5 123,555.5 123.5,555.5 124,555.5 124.5,555.5 125,555.5 125.5,555.5 126,555.5 126.5,555.5 127,555.5 127.5,555.5 128,555.5 128.5,555.5 129,555.5 129.5,555.5 130,555.5 130.5,555.5 131,555.5 131.5,555.5 132,555.6 132.5,555.6 133,555.6 133.5,555.6 134,555.6 134.5,555.6 135,555.6 135.5,555.6 136,555.6 136.5,555.6 137,555.6 137.5,555.6 138,555.6 138.5,555.6 139,555.6 139.5,555.6 140,555.6 140.5,555.6 141,555.6 141.5,555.6 142,555.6 142.5,555.6 143,555.6 143.5,555.6 144,555.6 144.5,555.6 145,555.6 145.5,555.6 146,555.6 146.5,555.6 147,555.6 147.5,555.6 148,555.6 148.5,555.6 149,555.6 149.5,555.6 150,555.6 150.5,555.6 151,555.6 151.5,555.6 152,555.6 152.5,555.6 153,555.6 153.5,555.6 154,555.6 154.5,555.6 155,555.6 155.5,555.6 156,555.6 156.5,555.6 157,555.6 157.5,555.6 158,555.6 158.5,555.6 159,555.6 159.5,555.6 160,555.6 160.5,555.6 161,555.6 161.5,555.6 162,555.6 162.5,555.6 163,555.6 163.5,555.6 164,555.6 164.5,555.6 165,555.6 165.5,555.6 166,555.6 166.5,555.6 167,555.6 167.5,555.6 168,555.6 168.5,555.6 169,555.6 169.5,555.6 170,555.6 170.5,555.6 171,555.6 171.5,555.6 172,555.6 172.5,555.6 173,555.6 173.5,555.6 174,555.6 174.5,555.6 175,555.6 175.5,555.6 176,555.6 176.5,555.6 177,555.6 177.5,555.5 178,555.2 178.5,555.1 179,555 179.5,555.5 180,554.9 180.5,555.6 181,555.3 181.5,555.5 182,555.5 182.5,555.6 183,555.5 183.5,555.2 184,555.5 184.5,555.4 185,555.5 185.5,555.3 186,555.3 186.5,555.3 187,555.6 187.5,555.6 188,555.3 188.5,555.6 189,555.6 189.5,555.4 190,555.4 190.5,555.4 191,555.2 191.5,555.5 192,555.5 192.5,554.9 193,555.6 193.5,555.5 194,555.4 194.5,555 195,555.4 195.5,555.6 196,555.5 196.5,555.6 197,555.4 197.5,555.3 198,555.3 198.5,555.6 199,555.6 199.5,555.6 200,555.4 200.5,555.2 201,555.3 201.5,555.6 202,555.6 202.5,555 203,555.4 203.5,555.6 204,555.6 204.5,555.6 205,555.2 205.5,555.6 206,555.6 206.5,555.4 207,555.5 207.5,555.2 208,555.3 208.5,555.4 209,555.4 209.5,555.5 210,555.5 210.5,555.5 211,555.6 211.5,554.8 212,555.6 212.5,555.4 213,555.6 213.5,555.2 214,555.5 214.5,555 215,555.2 215.5,555.6 216,555.6 216.5,555.5 217,555.4 217.5,555.4 218,555.4 218.5,555.6 219,555.5 219.5,555.7 220,555.4 220.5,555.7 221,555.1 221.5,555.5 222,555.6 222.5,555.4 223,555.7 223.5,555.3 224,555.6 224.5,555.1 225,555.6 225.5,555.5 226,555.6 226.5,555.6 227,555.3 227.5,555.7 228,555.4 228.5,555.7 229,555.3 229.5,555.5 230,555.6 230.5,555.6 231,555.5 231.5,555.3 232,555.4 232.5,555.6 233,555.5 233.5,555.6 234,555.2 234.5,555.6 235,555.5 235.5,555.7 236,555.3 236.5,555.5 237,555.7 237.5,555.4 238,555.3 238.5,555.7 239,555.7 239.5,555.3 240,555.4 240.5,555.8 241,555.1 241.5,555.3 242,555.8 242.5,555.6 243,555.7 243.5,555.5 244,555.3 244.5,555.5 245,555.7 245.5,555.1 246,555.3 246.5,555.5 247,555.6 247.5,555.7 248,555.2 248.5,555.7 249,555.1 249.5,555.7 250,555.5 250.5,555.8 251,555.3 251.5,555.8 252,555.8 252.5,555.7 253,555.6 253.5,555.8 254,555.4 254.5,555.3 255,555.7 255.5,555.5 256,555.6 256.5,555.4 257,555.6 257.5,555.7 258,555.5 258.5,555.4 259,555.1 259.5,555.4 260,555.6 260.5,555.7 261,555.7 261.5,555.7 262,555.6 262.5,555.4 263,555.6 263.5,555.8 264,555.4 264.5,555.6 265,555.8 265.5,555.8 266,555.6 266.5,555.8 267,555.7 267.5,555.7 268,555.5 268.5,555.7 269,555.4 269.5,555.6 270,555.7 270.5,555.4 271,555.5 271.5,555.6 272,555.7 272.5,555.9 273,555.5 273.5,555.6 274,555.8 274.5,555.4 275,555.7 275.5,555.4 276,555.7 276.5,555.6 277,555.7 277.5,555.5 278,555.9 278.5,555.2 279,555.6 279.5,555.8 280,555.7 280.5,555.6 281,555.8 281.5,555.6 282,555.6 282.5,555.7 283,555.8 283.5,555.7 284,555.3 284.5,555.7 285,555.5 285.5,555.5 286,555.8 286.5,555.5 287,555.6 287.5,555.9 288,556 288.5,555.9 289,555.9 289.5,555.4 290,555.7 290.5,555.7 291,555.7 291.5,556 292,555.5 292.5,555.7 293,555.8 293.5,555.9 294,555.9 294.5,555.7 295,556 295.5,556 296,555.9 296.5,555.7 297,555.7 297.5,556 298,555.9 298.5,555.5 299,555.8 299.5,555.9 300,555.6 300.5,556.1 301,555.8 301.5,556 302,556.1 302.5,556.1 303,556 303.5,555.8 304,556 304.5,556.3 305,556.3 305.5,556.3 306,556.1 306.5,556.2 307,556.5 307.5,556.4 308,556.2 308.5,556.6 309,556.6 309.5,556.7 310,556.9 310.5,556.8 311,557 311.5,556.7 312,556.7 312.5,557.2 313,557 313.5,556.7 314,557.4 314.5,557.3 315,557.3 315.5,557.3 316,557.6 316.5,557.6 317,557.4 317.5,557.9 318,557.7 318.5,558 319,558.2 319.5,558.2 320,558.3 320.5,557.9 321,558.2 321.5,558.1 322,558.3 322.5,558.5 323,558.6 323.5,558.8 324,558.8 324.5,558.8 325,559 325.5,558.4 326,559 326.5,559.2 327,559.1 327.5,559.1 328,559.4 328.5,559.1 329,559.3 329.5,559.5 330,559.3 330.5,559.5 331,559.7 331.5,559.5 332,559.7 332.5,559.7 333,559.4 333.5,559.6 334,559.6 334.5,560 335,560.1 335.5,560 336,560 336.5,560.3 337,560.1 337.5,560.5 338,560.6 338.5,560.2 339,560.6 339.5,560.9 340,561.4 340.5,561.8 341,561.7 341.5,562.3 342,563.6 342.5,565.5 343,567.7 343.5,570.5 344,573.2 344.5,576.5 345,579.6 345.5,582.9 346,586.8 346.5,591.5 347,596.4 347.5,601.2 348,606.3 348.5,611.6 349,616.2 349.5,620.8 350,624.4 350.5,627.7 351,630.9 351.5,633.7 352,636.7 352.5,638.7 353,641 353.5,642.7 354,643.5 354.5,643.3 355,641.8 355.5,639.1 356,636.1 356.5,632.3 357,628.3 357.5,622.8 358,613.6 358.5,603.3 359,592.2 359.5,583.5 360,578.5 360.5,574.9 361,571.8 361.5,569.6 362,568.4 362.5,567.3 363,566.6 363.5,566 364,565.3 364.5,564.9 365,564.5 365.5,563.7 366,563.8 366.5,563.5 367,562.9 367.5,563.2 368,562.9 368.5,563.2 369,562.7 369.5,562.6 370,563 370.5,562.7 371,562.8 371.5,562.9 372,562.8 372.5,562.5 373,562.5 373.5,562.3 374,562.4 374.5,562.5 375,562.5 375.5,562.4 376,562.1 376.5,562.5 377,562.6 377.5,562.4 378,562.3 378.5,562 379,562.2 379.5,562.3 380,562.3 380.5,562.4 381,562.3 381.5,562.3 382,562.3 382.5,562.3 383,562.3 383.5,562.3 384,561.5 384.5,562.1 385,562.2 385.5,562.3 386,562.3 386.5,561.8 387,562 387.5,562 388,562.2 388.5,562 389,562.1 389.5,562.2 390,562.1 390.5,562 391,561.9 391.5,562 392,561.9 392.5,562.2 393,562 393.5,562 394,561.9 394.5,562.2 395,562.4 395.5,563.6 396,565.8 396.5,587.2 397,623.5 397.5,658.4 398,689.6 398.5,721.8 399,749.4 399.5,767.7 400,782.2 400.5,794.8 401,805.2 401.5,813.3 402,819.1 402.5,823.6 403,827.7 403.5,831.2 404,834.3 404.5,836.8 405,839 405.5,840.3 406,841.6 406.5,842.5 407,843.7 407.5,844.9 408,845.9 408.5,846.8 409,847.4 409.5,848.1 410,848.8 410.5,849 411,849.5 411.5,849.5 412,849.7 412.5,849.8 413,849.2 413.5,848.6 414,847.7 414.5,847 415,846.3 415.5,845.2 416,844.3 416.5,843.1 417,842.4 417.5,841.4 418,841 418.5,839.3 419,839.1 419.5,837.9 420,836.5 420.5,834.7 421,833.6 421.5,831.9 422,830 422.5,827.2 423,824.1 423.5,820.8 424,817.2 424.5,813.4 425,809.3 425.5,805.1 426,800.6 426.5,796.4 427,792.1 427.5,787.7 428,783.5 428.5,779.2 429,775.3 429.5,771.4 430,767.3 430.5,763.4 431,759 431.5,755 432,750.6 432.5,746.7 433,742.4 433.5,739.2 434,735.5 434.5,732.5 435,728.9 435.5,726.2 436,723.9 436.5,721.2 437,718.7 437.5,715.9 438,713.5 438.5,710.5 439,707.8 439.5,704.7 440,701.4 440.5,697.9 441,694.7 441.5,691.3 442,687.9 442.5,684.4 443,681.3 443.5,678.2 444,675.3 444.5,672.6 445,669.8 445.5,667.4 446,665 446.5,662.8 447,660.3 447.5,658 448,656.2 448.5,654 449,652 449.5,649.8 450,648.2 450.5,646.2 451,644.3 451.5,642 452,640.4 452.5,638.6 453,637.1 453.5,635.1 454,633.5 454.5,631.6 455,630.2 455.5,629.1 456,627.5 456.5,626 457,624.9 457.5,623.2 458,622.2 458.5,620.9 459,619.8 459.5,618.4 460,617.3 460.5,616 461,615.1 461.5,613.9 462,612.9 462.5,612 463,610.5 463.5,610.1 464,609.2 464.5,608.2 465,606.8 465.5,606.3 466,605.6 466.5,604.3 467,603.6 467.5,603 468,602.4 468.5,601.6 469,600.7 469.5,599.9 470,599 470.5,598.5 471,597.7 471.5,596.9 472,596.3 472.5,595.5 473,594.8 473.5,593.3 474,593.4 474.5,592.2 475,592.2 475.5,591.4 476,591 476.5,590.1 477,589.7 477.5,589.2 478,588.3 478.5,588 479,587.2 479.5,587 480,586.2 480.5,585.8 481,585.5 481.5,585 482,584.4 482.5,584.3 483,583.8 483.5,583.4 484,583.1 484.5,582.4 485,581.8 485.5,581.7 486,581.4 486.5,580.7 487,580.3 487.5,580.2 488,579.9 488.5,579.8 489,579.3 489.5,579 490,578.7 490.5,578.2 491,578.1 491.5,577.6 492,577.5 492.5,577.2 493,577.1 493.5,575.9 494,576.3 494.5,576.4 495,576 495.5,576 496,575.4 496.5,575.3 497,575.2 497.5,575 498,574.8 498.5,574.8 499,574.5 499.5,574.2 500,573.7 500.5,573.7 501,573.7 501.5,573.6 502,573.3 502.5,572.9 503,573 503.5,572.7 504,572.2 504.5,572.6 505,571.9 505.5,572.1 506,571.9 506.5,572 507,571.6 507.5,571.6 508,571.4 508.5,571.3 509,571.2 509.5,571 510,570.8 510.5,570.6 511,570.6 511.5,570.3 512,570.3 512.5,570.3 513,569.7 513.5,570.1 514,569.9 514.5,569.7 515,569.8 515.5,569.6 516,569.7 516.5,569.6 517,569.2 517.5,569.5 518,569.3 518.5,569 519,569.3 519.5,569.2 520,568.9 520.5,569.1 521,568.7 521.5,568.7 522,568.8 522.5,568.6 523,568.7 523.5,568.8 524,568.5 524.5,568.5 525,568.5 525.5,568.3 526,568.5 526.5,568.4 527,568.4 527.5,568.2 528,568.3 528.5,568.1 529,567.9 529.5,567.5 530,568 530.5,567.9 531,568.1 531.5,568 532,568 532.5,567.6 533,567.5 533.5,567.9 534,567.4 534.5,567.6 535,567.7 535.5,567.6 536,567.3 536.5,567.6 537,567.4 537.5,567.4 538,567.3 538.5,567 539,567.1 539.5,567.5 540,567.3 540.5,567.3 541,567.1 541.5,567.1 542,567.2 542.5,567.2 543,567 543.5,567.2 544,566.6 544.5,567 545,567.1 545.5,567 546,566.7 546.5,566.9 547,566.9 547.5,567 548,566.2 548.5,566.4 549,566.9 549.5,566.8 550,566.6 550.5,566.8 551,566.7 551.5,566.5 552,566.7 552.5,566.8 553,566.8 553.5,566.7 554,566.4 554.5,566.6 555,566.7 555.5,566.7 556,566.4 556.5,566.6 557,566.5 557.5,566.7 558,566.3 558.5,566.5 559,566.7 559.5,566.2 560,566.3 560.5,566.4 561,566.6 561.5,566.1 562,566.6 562.5,566.5 563,566.3 563.5,566.5 564,566.5 564.5,566.6 565,566.3 565.5,566.4 566,566.2 566.5,566.5 567,566.5 567.5,566.2 568,566.4 568.5,566.4 569,566.5 569.5,566.5 570,566.1 570.5,566.3 571,566.5 571.5,566.1 572,566.2 572.5,566.2 573,566.1 573.5,565.8 574,566.1 574.5,566.4 575,565.7 575.5,566.4 576,566.3 576.5,566.3 577,566.4 577.5,566.3 578,565.8 578.5,566.2 579,566.2 579.5,566.3 580,565.5 580.5,566.2 581,566 581.5,566.2 582,566.3 582.5,566 583,566.1 583.5,566.3 584,566.3 584.5,566.1 585,565.9 585.5,566.1 586,565.8 586.5,566.2 587,566.3 587.5,566 588,565.8 588.5,566.2 589,566.2 589.5,566.3 590,566.1 590.5,566.3 591,566.2 591.5,566.2 592,566.2 592.5,566.1 593,565.8 593.5,566.3 594,566.1 594.5,565.5 595,565.6 595.5,566.1 596,566 596.5,566.2 597,566 597.5,566.3 597.5,570.6 597,570.4 596.5,570.9 596,570.7 595.5,570.6 595,570.5 594.5,570.5 594,570.4 593.5,570.4 593,570.3 592.5,570.8 592,570.4 591.5,570.7 591,570.5 590.5,571.4 590,570.7 589.5,570.4 589,570.4 588.5,570.5 588,570.4 587.5,570.6 587,570.6 586.5,570.8 586,570.9 585.5,570.8 585,570.3 584.5,570.6 584,570.6 583.5,570.7 583,570.9 582.5,570.5 582,570.4 581.5,570.8 581,570.7 580.5,570.8 580,570.5 579.5,570.5 579,570.7 578.5,570.6 578,571.2 577.5,570.8 577,570.5 576.5,570.6 576,570.8 575.5,570.5 575,570.6 574.5,570.7 574,570.6 573.5,571 573,570.5 572.5,570.9 572,570.7 571.5,570.5 571,570.6 570.5,570.9 570,571 569.5,570.9 569,570.6 568.5,570.6 568,570.9 567.5,570.6 567,570.7 566.5,570.8 566,570.7 565.5,570.7 565,570.6 564.5,570.7 564,570.6 563.5,570.8 563,570.8 562.5,570.8 562,571 561.5,570.8 561,571 560.5,570.8 560,570.8 559.5,571.1 559,570.8 558.5,570.8 558,570.8 557.5,571.2 557,570.8 556.5,570.9 556,570.8 555.5,571 555,571.2 554.5,571 554,571 553.5,571.3 553,570.9 552.5,571.1 552,571.2 551.5,571 551,571.3 550.5,571 550,571.1 549.5,570.9 549,571 548.5,571.1 548,571.1 547.5,571.2 547,571.1 546.5,571.4 546,571.4 545.5,571.7 545,571.2 544.5,571.3 544,571.3 543.5,571.4 543,571.4 542.5,571.4 542,571.6 541.5,571.5 541,571.7 540.5,571.4 540,571.6 539.5,571.9 539,571.7 538.5,571.9 538,571.6 537.5,572.1 537,571.8 536.5,571.8 536,571.9 535.5,571.9 535,572 534.5,571.8 534,572.4 533.5,572 533,572.2 532.5,572 532,572.3 531.5,572.2 531,572.4 530.5,572.7 530,573 529.5,572.6 529,572.4 528.5,572.7 528,572.4 527.5,572.5 527,572.8 526.5,572.7 526,572.9 525.5,573 525,572.7 524.5,573 524,573.1 523.5,572.9 523,572.9 522.5,573 522,573.1 521.5,573.1 521,573.2 520.5,573.6 520,573.8 519.5,573.5 519,573.6 518.5,573.6 518,574 517.5,573.9 517,573.6 516.5,573.8 516,574 515.5,574 515,574 514.5,574.2 514,574.7 513.5,574.5 513,574.6 512.5,574.7 512,574.7 511.5,574.9 511,575 510.5,575 510,575.1 509.5,575.3 509,575.6 508.5,575.8 508,575.6 507.5,576.2 507,576.1 506.5,576.1 506,576.2 505.5,576.3 505,576.8 504.5,576.7 504,577 503.5,577 503,577.2 502.5,577.5 502,577.4 501.5,577.6 501,578 500.5,577.9 500,578.2 499.5,578.5 499,578.7 498.5,578.7 498,579 497.5,579.1 497,579.6 496.5,579.7 496,579.8 495.5,580 495,580.3 494.5,580.6 494,580.8 493.5,580.8 493,581 492.5,581.9 492,581.6 491.5,582 491,582.3 490.5,582.5 490,582.9 489.5,583.2 489,583.3 488.5,584.1 488,584.1 487.5,584.7 487,585.1 486.5,585.2 486,585.6 485.5,586.1 485,586.1 484.5,586.9 484,587.4 483.5,587.4 483,587.9 482.5,588.2 482,588.6 481.5,589 481,589.4 480.5,589.9 480,590.7 479.5,590.9 479,591.3 478.5,591.9 478,592.7 477.5,593.2 477,593.5 476.5,594.2 476,594.9 475.5,595.3 475,596.5 474.5,597.3 474,597.3 473.5,598 473,598.7 472.5,599.5 472,600 471.5,601 471,601.5 470.5,602.5 470,603 469.5,604.1 469,604.7 468.5,605.4 468,606.4 467.5,606.9 467,607.8 466.5,608.4 466,609.3 465.5,610.2 465,610.9 464.5,611.8 464,613.4 463.5,613.6 463,614.5 462.5,616 462,616.5 461.5,617.7 461,618.6 460.5,619.6 460,620.7 459.5,622.1 459,623.2 458.5,624.4 458,625.6 457.5,627.1 457,628.1 456.5,629.9 456,631.3 455.5,632.5 455,633.7 454.5,635.3 454,636.8 453.5,638.5 453,640.2 452.5,642 452,643.8 451.5,645.8 451,647.4 450.5,649.5 450,651.2 449.5,653.1 449,655.2 448.5,657.1 448,659.1 447.5,661.8 447,663.3 446.5,665.7 446,668.6 445.5,670.2 445,673.1 444.5,675.2 444,678.6 443.5,681.1 443,684.1 442.5,687.4 442,690.6 441.5,694.3 441,697.5 440.5,701.1 440,704.1 439.5,707.6 439,710.5 438.5,713.4 438,716 437.5,719.1 437,721.3 436.5,724 436,726.6 435.5,729.1 435,732.4 434.5,735 434,738.2 433.5,741.6 433,745.6 432.5,749.6 432,753.3 431.5,757.7 431,762.5 430.5,765.7 430,770 429.5,774 429,778.1 428.5,782.1 428,785.9 427.5,790.1 427,794.4 426.5,798.8 426,803.1 425.5,807.4 425,811.7 424.5,815.7 424,819.6 423.5,823.2 423,826.5 422.5,829.6 422,832.4 421.5,834.8 421,836 420.5,837.6 420,838.9 419.5,840.4 419,842 418.5,842.6 418,843.8 417.5,845.1 417,845.8 416.5,846.8 416,847.6 415.5,849.3 415,849.9 414.5,851 414,852.3 413.5,852.9 413,853.9 412.5,854.2 412,854.5 411.5,854.3 411,853.6 410.5,853.2 410,852.5 409.5,851.8 409,850.8 408.5,850 408,848.9 407.5,847.9 407,846.6 406.5,845.3 406,843.9 405.5,842.8 405,840.6 404.5,838.4 404,835.8 403.5,832.7 403,829.2 402.5,825.1 402,820.5 401.5,814.8 401,806.6 400.5,796.2 400,783.6 399.5,769 399,750.7 398.5,723.1 398,690.8 397.5,659.6 397,624.7 396.5,588.7 396,568.5 395.5,566.1 395,566.1 394.5,565 394,565 393.5,564.8 393,564.8 392.5,565.2 392,564.9 391.5,564.9 391,565.1 390.5,565.4 390,564.9 389.5,565.2 389,565.1 388.5,565.1 388,565 387.5,565 387,565.2 386.5,565 386,565.1 385.5,565.3 385,565.5 384.5,565.2 384,565 383.5,565.1 383,565.1 382.5,565.1 382,565 381.5,565.2 381,565.2 380.5,565.4 380,565.3 379.5,565.2 379,565.3 378.5,565.5 378,565.3 377.5,565.5 377,565.4 376.5,565.2 376,565.7 375.5,565.4 375,565.3 374.5,565.6 374,565.4 373.5,566 373,565.4 372.5,565.6 372,565.9 371.5,565.9 371,566.3 370.5,565.7 370,565.9 369.5,566.2 369,566.2 368.5,566.2 368,566.3 367.5,566.2 367,566.3 366.5,566.4 366,566.6 365.5,566.9 365,567.4 364.5,567.8 364,568.1 363.5,569.4 363,569.7 362.5,570.7 362,571.2 361.5,572.7 361,574.7 360.5,578 360,581.7 359.5,586.4 359,595.8 358.5,606.4 358,617 357.5,625.8 357,631.6 356.5,635.4 356,639.4 355.5,642.4 355,645.3 354.5,646.5 354,646.3 353.5,645.5 353,644 352.5,642 352,639.3 351.5,636.6 351,633.7 350.5,630.8 350,628 349.5,623.8 349,619.7 348.5,614.6 348,609.5 347.5,604.5 347,599.1 346.5,594.2 346,590 345.5,585.7 345,582.3 344.5,579.6 344,576.2 343.5,573.4 343,570.7 342.5,568.5 342,566.9 341.5,565.7 341,565.1 340.5,564.5 340,564.1 339.5,563.9 339,563.8 338.5,563.6 338,563.5 337.5,563.2 337,563.4 336.5,563 336,563 335.5,563.2 335,563.1 334.5,562.7 334,562.8 333.5,562.8 333,562.5 332.5,562.7 332,562.5 331.5,562.7 331,562.3 330.5,562.6 330,562.6 329.5,562.1 329,562.3 328.5,562.1 328,562.5 327.5,562.5 327,562.2 326.5,562 326,561.9 325.5,561.7 325,561.8 324.5,561.8 324,561.6 323.5,561.6 323,561.3 322.5,561.4 322,561.2 321.5,561.3 321,561.6 320.5,561.4 320,561.3 319.5,560.9 319,561 318.5,560.7 318,561 317.5,560.8 317,560.4 316.5,560.4 316,560.2 315.5,560.6 315,560 314.5,560.1 314,560 313.5,560.1 313,559.9 312.5,560 312,559.9 311.5,559.6 311,559.9 310.5,559.6 310,559.8 309.5,559.3 309,559.3 308.5,559.2 308,559.1 307.5,559.4 307,559.1 306.5,559.1 306,559.4 305.5,559 305,559 304.5,559 304,559.1 303.5,559.1 303,559 302.5,558.9 302,558.8 301.5,558.6 301,558.8 300.5,559.3 300,558.7 299.5,558.9 299,558.7 298.5,558.9 298,558.9 297.5,558.6 297,558.6 296.5,558.4 296,558.6 295.5,558.8 295,559.3 294.5,559 294,558.4 293.5,558.4 293,558.4 292.5,558.3 292,558.8 291.5,558.5 291,558.5 290.5,558.5 290,558.3 289.5,558.9 289,558.3 288.5,558.3 288,558.3 287.5,558.3 287,558.5 286.5,558.3 286,558.5 285.5,558.4 285,558.6 284.5,558.3 284,558.2 283.5,558.2 283,558.6 282.5,558.2 282,558.2 281.5,558.3 281,558.4 280.5,558.5 280,558.2 279.5,558.3 279,558.3 278.5,559.1 278,558.2 277.5,558.5 277,558.6 276.5,558.4 276,558.6 275.5,558.3 275,558.3 274.5,558.2 274,558.2 273.5,558.5 273,558.3 272.5,558.1 272,558.2 271.5,558.1 271,558.1 270.5,558 270,558.6 269.5,558.3 269,558.1 268.5,558.3 268,558 267.5,558.4 267,558.1 266.5,558.1 266,558.2 265.5,558.3 265,558 264.5,558 264,558 263.5,558.3 263,558 262.5,557.9 262,558.3 261.5,558.3 261,558 260.5,558 260,558.4 259.5,558.2 259,558.5 258.5,558.4 258,558.2 257.5,558.5 257,558.1 256.5,557.9 256,558.4 255.5,558.5 255,558.1 254.5,557.9 254,558.3 253.5,557.9 253,558 252.5,557.9 252,558.1 251.5,557.9 251,558.3 250.5,557.9 250,558.3 249.5,558 249,558 248.5,558.1 248,558.1 247.5,558.3 247,558 246.5,557.8 246,557.9 245.5,558.1 245,557.8 244.5,557.8 244,557.9 243.5,557.9 243,558.2 242.5,557.8 242,557.8 241.5,558 241,558 240.5,557.7 240,558.3 239.5,557.8 239,557.8 238.5,558.2 238,557.7 237.5,557.8 237,558 236.5,557.8 236,557.8 235.5,557.8 235,557.8 234.5,558.3 234,557.7 233.5,557.8 233,558 232.5,557.6 232,558 231.5,557.9 231,558.2 230.5,557.6 230,557.6 229.5,557.7 229,557.9 228.5,558.1 228,557.7 227.5,558 227,558.4 226.5,557.6 226,557.7 225.5,557.7 225,557.7 224.5,557.9 224,557.7 223.5,557.7 223,558.1 222.5,557.6 222,557.8 221.5,557.8 221,558 220.5,558 220,557.6 219.5,558.1 219,558 218.5,557.7 218,557.6 217.5,557.7 217,557.7 216.5,557.6 216,557.9 215.5,557.8 215,557.7 214.5,557.7 214,558.2 213.5,557.7 213,557.5 212.5,557.7 212,557.5 211.5,557.6 211,557.8 210.5,557.6 210,557.8 209.5,557.6 209,557.5 208.5,557.7 208,557.8 207.5,557.5 207,557.8 206.5,558 206,557.7 205.5,557.7 205,557.8 204.5,557.6 204,557.4 203.5,557.9 203,557.8 202.5,557.6 202,557.6 201.5,557.6 201,557.4 200.5,557.4 200,557.5 199.5,557.4 199,557.5 198.5,557.8 198,557.5 197.5,557.5 197,557.6 196.5,557.4 196,557.4 195.5,557.6 195,557.6 194.5,557.5 194,557.4 193.5,557.5 193,557.5 192.5,557.7 192,557.3 191.5,557.9 191,557.5 190.5,557.3 190,557.3 189.5,557.5 189,557.6 188.5,557.5 188,557.3 187.5,557.8 187,557.5 186.5,557.4 186,557.6 185.5,557.5 185,557.5 184.5,557.4 184,557.4 183.5,557.8 183,557.4 182.5,557.7 182,557.3 181.5,557.4 181,557.3 180.5,557.3 180,557.4 179.5,557.6 179,557.7 178.5,557.5 178,557.4 177.5,557.6 177,557.2 176.5,557.2 176,557.2 175.5,557.2 175,557.2 174.5,557.2 174,557.2 173.5,557.2 173,557.2 172.5,557.2 172,557.2 171.5,557.2 171,557.2 170.5,557.2 170,557.2 169.5,557.2 169,557.2 168.5,557.2 168,557.1 167.5,557.1 167,557.1 166.5,557.1 166,557.1 165.5,557.1 165,557.1 164.5,557.1 164,557.1 163.5,557.1 163,557.1 162.5,557.1 162,557.1 161.5,557.1 161,557.1 160.5,557.1 160,557.1 159.5,557.1 159,557.1 158.5,557.1 158,557.1 157.5,557.1 157,557.1 156.5,557.1 156,557.1 155.5,557.1 155,557.1 154.5,557.1 154,557.1 153.5,557 153,557 152.5,557 152,557 151.5,557 151,557 150.5,557 150,557 149.5,557 149,557 148.5,557 148,557 147.5,557 147,557 146.5,557 146,557 145.5,557 145,557 144.5,557 144,557 143.5,557 143,557 142.5,557 142,557 141.5,557 141,557 140.5,557 140,557 139.5,557 139,556.9 138.5,556.9 138,556.9 137.5,556.9 137,556.9 136.5,556.9 136,556.9 135.5,556.9 135,556.9 134.5,556.9 134,556.9 133.5,556.9 133,556.9 132.5,556.9 132,556.9 131.5,556.9 131,556.9 130.5,556.9 130,556.9 129.5,556.9 129,556.9 128.5,556.9 128,556.9 127.5,556.9 127,556.9 126.5,556.9 126,556.9 125.5,556.9 125,556.9 124.5,556.9 124,556.8 123.5,556.8 123,556.8 122.5,556.8 122,556.8 121.5,556.8 121,556.8 120.5,556.8 120,556.8 119.5,556.8 119,556.8 118.5,556.8 118,556.8 117.5,556.8 117,556.8 116.5,556.8 116,556.8 115.5,556.8 115,556.8 114.5,556.8 114,556.8 113.5,556.8 113,556.8 112.5,556.8 112,556.8 111.5,556.8 111,556.8 110.5,556.8 110,556.8 109.5,556.8 109,556.8 108.5,556.7 108,556.7 107.5,556.7 107,556.7 106.5,556.7 106,556.7 105.5,556.7 105,556.7 104.5,556.7 104,556.7 103.5,556.7 103,556.7 102.5,556.7 102,556.7 101.5,556.7 101,556.7 100.5,556.7 100,556.7 99.5,556.7 99,556.7 98.5,556.7 98,556.7 97.5,556.7 97,556.7 96.5,556.7 96,556.7 95.5,556.7 95,556.7 94.5,556.7 94,556.7 93.5,556.7 93,556.6 92.5,556.6 92,556.6 91.5,556.6 91,556.6 90.5,556.6 90,556.6 89.5,556.6 89,556.6 88.5,556.6 88,556.6 87.5,556.6 87,556.6 86.5,556.6 86,556.6 85.5,556.6 85,556.6 84.5,556.6 84,556.6 83.5,556.6 83,556.6 82.5,556.6 82,556.6 81.5,556.6 81,556.6 80.5,556.6 80,556.6 79.5,556.6 79,556.6 78.5,556.6 78,556.6 77.5,556.6 77,556.6 76.5,556.5 76,556.5 75.5,556.5 75,556.5 74.5,556.5 74,556.5 73.5,556.5 73,556.5 72.5,556.5 72,556.5 71.5,556.5 71,556.5 70.5,556.5 70,556.5 69.5,556.5 69,556.5 68.5,556.5 68,556.5" fill="#0d0d0d" stroke="#0d0d0d" stroke-width="1.9" stroke-linejoin="round"/>
<line x1="148.7" y1="648.7" x2="148.7" y2="813" stroke="#0d0d0d" stroke-width="2.3"/>
<line x1="139.9" y1="648.7" x2="148.7" y2="648.7" stroke="#0d0d0d" stroke-width="2.3"/>
<line x1="139.9" y1="730.7" x2="148.7" y2="730.7" stroke="#0d0d0d" stroke-width="2.3"/>
<line x1="139.9" y1="811.9" x2="148.7" y2="811.9" stroke="#0d0d0d" stroke-width="2.3"/>
<text x="132.9" y="656.9" font-size="23" fill="#0d0d0d" text-anchor="end">2</text>
<text x="132.9" y="738.9" font-size="23" fill="#0d0d0d" text-anchor="end">1</text>
<text x="132.9" y="820.1" font-size="23" fill="#0d0d0d" text-anchor="end">0</text>
<rect x="157.1" y="808.1" width="36.8" height="3.8" fill="#f9c10a" stroke="#0d0d0d" stroke-width="1.9"/>
<line x1="222.9" y1="648" x2="222.9" y2="689.4" stroke="#0d0d0d" stroke-width="1.8"/>
<line x1="218.4" y1="648" x2="227.4" y2="648" stroke="#0d0d0d" stroke-width="1.8"/>
<rect x="204.5" y="689.4" width="36.8" height="122.5" fill="#08a0cd" stroke="#0d0d0d" stroke-width="1.9"/>
<line x1="139.9" y1="811.9" x2="261.1" y2="811.9" stroke="#0d0d0d" stroke-width="2.3"/>
<text transform="translate(100.5 728.4) rotate(-90)" font-size="26.3" fill="#0d0d0d" text-anchor="middle">current [nA]</text>
<text x="223.6" y="647.8" font-size="30.5" fill="#0d0d0d" stroke="#0d0d0d" stroke-width="0.5" text-anchor="middle">*</text>
<text x="261.8" y="803.6" font-size="22.9" fill="#0d0d0d">n = 10</text>
<text x="69" y="848.6" font-size="26.1" fill="#0d0d0d">pH 6</text>
<text x="177.9" y="848.6" font-size="26.1" fill="#0d0d0d" text-anchor="middle">1</text>
<text x="223.1" y="848.6" font-size="26.1" fill="#0d0d0d" text-anchor="middle">2</text>
<polyline points="477.4,770.3 529.5,770.3 529.5,716.2" fill="none" stroke="#0d0d0d" stroke-width="1.8"/>
<text x="480" y="798.5" font-size="26.1" fill="#0d0d0d">60 s</text>
<text transform="translate(561.7 742.7) rotate(-90)" font-size="26.3" fill="#0d0d0d" text-anchor="middle">1 nA</text>
</g>
<g>
<text x="620" y="471.3" font-size="46.8" fill="#0d0d0d">D</text>
<text x="747.5" y="480.7" font-size="26.1" fill="#64b2a0">NAPQI 1 µM</text>
<rect x="747.5" y="496" width="145.5" height="9" fill="#64b2a0"/>
<text x="626.3" y="527" font-size="26.1" fill="#f9c10a">pH 6</text>
<rect x="710.8" y="516.8" width="12.6" height="8.7" fill="#f9c10a"/>
<rect x="903.5" y="516.8" width="12.6" height="8.7" fill="#f9c10a"/>
<rect x="989.3" y="516.8" width="12.6" height="8.7" fill="#f9c10a"/>
<text x="1080" y="514" font-size="26.1" fill="#dc1446">caps 1 µM</text>
<rect x="1079" y="525.5" width="12.5" height="8" fill="#dc1446"/>
<polygon points="684,549.3 684.5,548.8 685,549.6 685.5,549.1 686,549.1 686.5,549.5 687,549.5 687.5,549.5 688,549.5 688.5,549.4 689,549.6 689.5,548.8 690,548.3 690.5,548.9 691,549.5 691.5,549.4 692,549 692.5,549 693,548.9 693.5,548.9 694,549.4 694.5,549.5 695,548.7 695.5,549 696,549.2 696.5,549.1 697,549.6 697.5,549.4 698,549.4 698.5,548.6 699,549.4 699.5,548.2 700,549.6 700.5,549.2 701,549.6 701.5,548.2 702,549.6 702.5,549.4 703,548.3 703.5,549.3 704,548.9 704.5,549.6 705,548.9 705.5,549.6 706,549.3 706.5,549.6 707,549.6 707.5,549.6 708,549.1 708.5,549.7 709,549.8 709.5,549.2 710,548.8 710.5,549.8 711,549.8 711.5,549.7 712,550.5 712.5,561 713,554.4 713.5,551.5 714,551 714.5,550.6 715,549.2 715.5,549.9 716,550.3 716.5,549.9 717,550.2 717.5,549.5 718,549.5 718.5,550.3 719,550 719.5,550 720,549.9 720.5,550.2 721,549.9 721.5,549.9 722,549.8 722.5,550.1 723,549.9 723.5,549 724,549.9 724.5,549.9 725,549.9 725.5,549 726,549.9 726.5,549.2 727,550 727.5,549.8 728,549.7 728.5,549.3 729,550 729.5,549.6 730,549.8 730.5,549.6 731,549.5 731.5,549.7 732,549.1 732.5,549.7 733,549.4 733.5,549.3 734,549.3 734.5,550 735,549.5 735.5,549.8 736,549.3 736.5,549.4 737,549.2 737.5,549.8 738,549.3 738.5,549.6 739,549.1 739.5,549.9 740,549.9 740.5,549.9 741,549.8 741.5,550 742,548.6 742.5,549.9 743,550 743.5,549.9 744,549.8 744.5,549.6 745,550 745.5,549.2 746,548.8 746.5,549.9 747,549.8 747.5,549.3 748,549.7 748.5,549 749,549.1 749.5,549.5 750,549.7 750.5,549.7 751,549.5 751.5,549.4 752,549.6 752.5,549.4 753,549.9 753.5,549.9 754,549.1 754.5,549.9 755,549.1 755.5,549.6 756,549.6 756.5,549.3 757,548.8 757.5,550 758,548.4 758.5,549.5 759,548.6 759.5,549.6 760,549.7 760.5,549.5 761,549.7 761.5,549.7 762,549.9 762.5,549.1 763,550 763.5,550 764,549.4 764.5,549.4 765,549.4 765.5,549.6 766,549.8 766.5,549.5 767,549.8 767.5,549.2 768,548.9 768.5,549.7 769,549.6 769.5,549.3 770,549.3 770.5,549.9 771,549.7 771.5,549.1 772,548.9 772.5,549 773,550 773.5,549.4 774,549.7 774.5,550 775,549.5 775.5,550 776,549.5 776.5,549.2 777,550 777.5,549.9 778,549.9 778.5,549.6 779,549.9 779.5,549.1 780,549.2 780.5,549.9 781,549.7 781.5,549.6 782,549.6 782.5,549.2 783,549.9 783.5,548.9 784,549.7 784.5,549.4 785,549.9 785.5,549.7 786,549.8 786.5,549.9 787,549.3 787.5,549.2 788,548.9 788.5,549.9 789,549.8 789.5,548.8 790,549.5 790.5,549.8 791,549.9 791.5,548.8 792,549.2 792.5,549.8 793,550 793.5,549.7 794,550 794.5,549.7 795,549.5 795.5,549.7 796,549.4 796.5,549.4 797,548.8 797.5,549.7 798,549.6 798.5,548.7 799,549.7 799.5,549.4 800,549.4 800.5,549.6 801,549.9 801.5,549.3 802,549.7 802.5,549.5 803,549.1 803.5,549.1 804,549.9 804.5,548.7 805,549.6 805.5,549.7 806,549.2 806.5,549.8 807,549.9 807.5,549.6 808,549.1 808.5,550 809,549.9 809.5,550 810,549 810.5,549.8 811,549.4 811.5,549.9 812,549.4 812.5,548.9 813,550 813.5,548.8 814,549.6 814.5,549.8 815,549.2 815.5,549.7 816,549.8 816.5,549.4 817,549.7 817.5,549.5 818,549.8 818.5,549.5 819,549.8 819.5,549.3 820,549.8 820.5,549.7 821,549.3 821.5,549.8 822,549.6 822.5,549.9 823,549.4 823.5,549.5 824,549.8 824.5,549.5 825,549.7 825.5,549.6 826,549.5 826.5,549.3 827,549.8 827.5,549.8 828,548.9 828.5,549 829,549.9 829.5,549.2 830,549 830.5,549.5 831,549.6 831.5,549.7 832,549 832.5,549.8 833,549.1 833.5,549.8 834,549.1 834.5,548.6 835,549.8 835.5,549.6 836,548.8 836.5,549.3 837,548.9 837.5,549.1 838,549.3 838.5,549.5 839,548.8 839.5,549.5 840,549.6 840.5,548.1 841,549.1 841.5,549.5 842,549.4 842.5,548.9 843,549.5 843.5,549.4 844,549.4 844.5,549.3 845,549 845.5,548.7 846,549.6 846.5,549.4 847,549.4 847.5,549.4 848,549.3 848.5,549.6 849,549.5 849.5,549.1 850,549.7 850.5,548.5 851,549.6 851.5,549.6 852,549.6 852.5,549.4 853,549.5 853.5,549.1 854,549.5 854.5,548.9 855,549 855.5,548.2 856,549.1 856.5,548.1 857,549.5 857.5,549.6 858,549.6 858.5,549.4 859,549.6 859.5,549.7 860,548.6 860.5,549.1 861,549.7 861.5,549.4 862,549.5 862.5,549.1 863,549.2 863.5,549.4 864,549.4 864.5,549.8 865,549.3 865.5,549 866,549.5 866.5,549.5 867,549.6 867.5,549.5 868,549.5 868.5,549.6 869,549.7 869.5,549.6 870,549.6 870.5,549.5 871,549.8 871.5,549.4 872,548.8 872.5,549.4 873,549.3 873.5,549.5 874,549.4 874.5,549.7 875,549.1 875.5,549.2 876,548.7 876.5,549.8 877,549.5 877.5,549.2 878,549 878.5,549.5 879,549.2 879.5,549.8 880,549.6 880.5,549.9 881,548.6 881.5,549.7 882,549.4 882.5,549.6 883,549.9 883.5,549.8 884,549.8 884.5,549.4 885,549.5 885.5,549.7 886,550 886.5,549.7 887,549.5 887.5,550.1 888,548.9 888.5,549.7 889,550 889.5,549.3 890,549.5 890.5,549.6 891,549.9 891.5,549.5 892,549.5 892.5,549.8 893,549.8 893.5,550.1 894,549.5 894.5,549.4 895,550.2 895.5,549.7 896,549.8 896.5,550.3 897,550.2 897.5,549.8 898,550.3 898.5,549.7 899,549.7 899.5,550.2 900,550.3 900.5,549.4 901,548.9 901.5,550.2 902,549.5 902.5,549.2 903,550.3 903.5,550.3 904,550.6 904.5,550.8 905,550.9 905.5,552 906,554.5 906.5,558 907,568.1 907.5,583.7 908,599.7 908.5,615.2 909,632 909.5,647.6 910,659.7 910.5,668.5 911,676.2 911.5,683 912,689 912.5,694.5 913,699.7 913.5,704.5 914,708.9 914.5,713 915,716.9 915.5,720.7 916,724.7 916.5,727.9 917,733.1 917.5,734.1 918,733 918.5,724.7 919,675 919.5,619.6 920,600.3 920.5,586.9 921,579.5 921.5,575 922,570 922.5,567.1 923,565.9 923.5,563.7 924,562.6 924.5,561.3 925,560.6 925.5,559.8 926,558 926.5,558.4 927,557.9 927.5,557 928,557.1 928.5,556.6 929,556.7 929.5,556.2 930,555.9 930.5,556.3 931,556 931.5,556 932,555.4 932.5,555.6 933,555.6 933.5,555.3 934,555.8 934.5,555.3 935,555.4 935.5,554.9 936,555 936.5,555.3 937,555.2 937.5,554.9 938,553.9 938.5,555.2 939,555.1 939.5,554.8 940,554.8 940.5,554.8 941,554.3 941.5,553.9 942,554.4 942.5,554.3 943,554.1 943.5,554.5 944,554.3 944.5,554.4 945,554.1 945.5,554.5 946,554.7 946.5,554.8 947,553.8 947.5,554.5 948,554.3 948.5,554.5 949,554.1 949.5,554.5 950,554 950.5,553.7 951,554.3 951.5,554.7 952,553.3 952.5,554 953,554 953.5,554.2 954,554 954.5,553.9 955,554.2 955.5,554.3 956,553.9 956.5,554.4 957,554.1 957.5,554.5 958,553.9 958.5,554 959,554.2 959.5,554 960,554.6 960.5,554.2 961,554.7 961.5,554.4 962,554 962.5,554.5 963,554.6 963.5,553.6 964,554.3 964.5,554.3 965,554.5 965.5,554.6 966,554.5 966.5,554 967,554.4 967.5,553.9 968,554.1 968.5,554.4 969,554.4 969.5,554.3 970,554.4 970.5,554.5 971,553.9 971.5,553.8 972,553.8 972.5,553.8 973,553.8 973.5,554.1 974,554.3 974.5,554 975,554.5 975.5,554.3 976,553.8 976.5,554 977,554.5 977.5,554.3 978,554.4 978.5,554.2 979,554.2 979.5,554.4 980,553.9 980.5,554.4 981,553.7 981.5,554.1 982,554.5 982.5,554.4 983,552.7 983.5,554 984,554.4 984.5,554.1 985,554.4 985.5,554.2 986,554.5 986.5,553.9 987,554.3 987.5,554.3 988,554.4 988.5,553.4 989,553.8 989.5,554 990,554.3 990.5,554.5 991,558.1 991.5,563.6 992,618.5 992.5,679.6 993,696.8 993.5,708.3 994,714.4 994.5,717.6 995,719.1 995.5,720.9 996,722.7 996.5,723.6 997,724.9 997.5,726.7 998,727.1 998.5,728.3 999,728.5 999.5,729.9 1000,730.4 1000.5,731.2 1001,733.2 1001.5,734.7 1002,735.5 1002.5,735.8 1003,724.7 1003.5,699.7 1004,652.7 1004.5,609.6 1005,592.7 1005.5,580.9 1006,574.5 1006.5,570.9 1007,567.7 1007.5,565.6 1008,563.5 1008.5,562.4 1009,560.8 1009.5,559.8 1010,559.7 1010.5,558.9 1011,558.2 1011.5,557.4 1012,556.5 1012.5,556.6 1013,556.2 1013.5,556.1 1014,556 1014.5,555.6 1015,555.3 1015.5,555.4 1016,555 1016.5,555.4 1017,555.5 1017.5,554.1 1018,554.9 1018.5,554.6 1019,555 1019.5,555.2 1020,555.1 1020.5,555.1 1021,554.7 1021.5,554.9 1022,554.7 1022.5,554.4 1023,554.9 1023.5,554.6 1024,554.7 1024.5,554.5 1025,554.9 1025.5,554.8 1026,554.6 1026.5,554.9 1027,553.8 1027.5,553.3 1028,553.5 1028.5,554.2 1029,554.6 1029.5,554.4 1030,554.5 1030.5,554.8 1031,554.6 1031.5,554.5 1032,553.6 1032.5,553.4 1033,553.4 1033.5,554.1 1034,554.5 1034.5,554.4 1035,554.7 1035.5,554.4 1036,554.4 1036.5,554.2 1037,554 1037.5,554.3 1038,554.2 1038.5,554.4 1039,554.1 1039.5,554.3 1040,554.4 1040.5,554.4 1041,554.5 1041.5,553.8 1042,554.2 1042.5,554.4 1043,553.2 1043.5,553.8 1044,553.8 1044.5,554.2 1045,554.3 1045.5,553.4 1046,554.3 1046.5,553.9 1047,554.3 1047.5,553.8 1048,554.2 1048.5,554.1 1049,554.2 1049.5,553.2 1050,554.1 1050.5,553.3 1051,553.2 1051.5,554.1 1052,553.8 1052.5,553.4 1053,553.8 1053.5,554.1 1054,554.2 1054.5,554.1 1055,554.1 1055.5,554.2 1056,553.6 1056.5,553.8 1057,554.1 1057.5,553.5 1058,552.9 1058.5,554.2 1059,554 1059.5,554.1 1060,553.4 1060.5,554.2 1061,553.4 1061.5,554.2 1062,553.8 1062.5,554.2 1063,554.1 1063.5,553.9 1064,553.9 1064.5,553.7 1065,553.7 1065.5,554.1 1066,554.2 1066.5,552.6 1067,554.2 1067.5,553.1 1068,553.7 1068.5,553.8 1069,554 1069.5,554.1 1070,553.4 1070.5,554.2 1071,553.5 1071.5,554.1 1072,553.7 1072.5,553.4 1073,553.4 1073.5,554.1 1074,553.6 1074.5,553.9 1075,553.3 1075.5,553.7 1076,553.4 1076.5,554.1 1077,552.6 1077.5,554.2 1078,553.1 1078.5,553.8 1079,553.6 1079.5,554 1080,553.2 1080.5,553.9 1081,557.5 1081.5,563.3 1082,594.8 1082.5,651.4 1083,699.7 1083.5,730.5 1084,757.7 1084.5,780.8 1085,799.7 1085.5,816.7 1086,833.1 1086.5,847.2 1087,857 1087.5,860.7 1088,855.8 1088.5,844.1 1089,829.7 1089.5,809.5 1090,782 1090.5,753.3 1091,729.6 1091.5,711.2 1092,694.1 1092.5,678.4 1093,664 1093.5,651.1 1094,639.6 1094.5,629 1095,618.9 1095.5,609.5 1096,601.3 1096.5,594.6 1097,589.6 1097.5,585.8 1098,582.4 1098.5,579.1 1099,576.1 1099.5,573.5 1100,571.1 1100.5,569.4 1101,568.2 1101.5,567 1102,565.3 1102.5,563.8 1103,563.7 1103.5,562.8 1104,561.4 1104.5,561.2 1105,560.5 1105.5,560.1 1106,559.2 1106.5,558.9 1107,558.6 1107.5,558.3 1108,557.9 1108.5,557.9 1109,557.6 1109.5,557.4 1110,556.9 1110.5,556.9 1111,557.2 1111.5,557.1 1112,556.3 1112.5,556.5 1113,556.5 1113.5,556.5 1114,556.4 1114.5,556.2 1115,555.6 1115.5,555.6 1116,555.6 1116.5,555.8 1117,555.6 1117.5,555.4 1118,555.1 1118.5,554.7 1119,554.9 1119.5,555.3 1120,555.3 1120.5,555.2 1121,554.7 1121.5,555.2 1122,554.8 1122.5,554.7 1123,554.8 1123.5,554.8 1124,553.7 1124.5,554.8 1125,555 1125.5,554.8 1126,554.6 1126.5,554.9 1127,554.9 1127.5,555.1 1128,554.7 1128.5,553.9 1129,553.9 1129.5,554.9 1130,554.6 1130.5,555.1 1131,554.6 1131.5,554.7 1132,555 1132.5,555 1133,554.8 1133.5,554.3 1134,554.4 1134.5,554.8 1135,554 1135.5,553.9 1136,554.9 1136.5,554.7 1137,554.9 1137.5,554.9 1138,554.7 1138.5,554.4 1139,554.3 1139.5,553.9 1140,554.8 1140.5,554.3 1141,553.5 1141.5,554.4 1142,554.9 1142.5,554.5 1143,554.2 1143.5,553.3 1144,554.7 1144.5,553.9 1145,553.9 1145.5,553.6 1146,554.3 1146.5,554.4 1147,554.1 1147.5,553.5 1148,554.7 1148.5,554.6 1149,554 1149.5,554.1 1150,554.7 1150.5,554.8 1151,554.8 1151.5,554.2 1152,554.8 1152.5,554.2 1153,554 1153.5,554.8 1154,554.6 1154.5,554.3 1155,554.5 1155.5,554 1156,554.5 1156.5,554.4 1157,554 1157.5,554.7 1158,554.7 1158.5,554.5 1159,554.2 1159.5,554.8 1160,553.2 1160.5,554.1 1161,554.1 1161.5,554.8 1162,554.2 1162.5,554.3 1163,554.4 1163.5,554.7 1164,553.9 1164.5,553.9 1165,554.3 1165.5,554.5 1166,554.8 1166.5,554.4 1167,553.7 1167.5,553.7 1168,554.5 1168.5,554.5 1169,554.6 1169.5,554.1 1170,554.7 1170.5,554.8 1171,554.6 1171.5,553.8 1172,553.8 1172.5,554.6 1173,554.5 1173.5,554.1 1174,554.3 1174.5,554.4 1175,554.1 1175.5,554.7 1176,554.4 1176.5,554.7 1177,554.4 1177.5,554.7 1178,554.6 1178.5,554.6 1179,554.6 1179.5,554.8 1180,554.3 1180.5,553.6 1181,554.6 1181.5,554 1182,554.6 1182.5,554.8 1183,554.8 1183.5,554.8 1184,554.5 1184.5,554.2 1185,554.6 1185.5,554.2 1186,554.3 1186.5,554.2 1187,554.7 1187.5,554.8 1188,553.7 1188.5,554.5 1189,554.7 1189.5,554.2 1190,554.3 1190.5,554.8 1191,554.6 1191.5,554.8 1192,553.9 1192.5,554.6 1193,554.3 1193.5,554.3 1194,554.8 1194.5,554.8 1195,554.5 1195.5,554.6 1196,554.8 1196.5,554.5 1197,553.6 1197.5,554.8 1198,554.5 1198.5,554.1 1199,554 1199.5,554.7 1200,554.3 1200.5,553.6 1201,554.6 1201.5,554.8 1202,553.5 1202.5,554.7 1203,553.8 1203.5,554.8 1204,554.7 1204.5,554.6 1205,554.2 1205.5,554.6 1206,554.2 1206.5,554 1207,554.8 1207.5,554.2 1208,554.7 1208.5,554.6 1209,554.7 1209.5,554.6 1210,553.8 1210.5,554 1211,554.7 1211.5,554.6 1212,554.8 1212.5,554.9 1213,554.5 1213.5,554.3 1214,554.2 1214.5,554.2 1215,554.4 1215.5,554.4 1216,554.9 1216.5,554.3 1217,555 1217.5,554.7 1218,554.6 1218.5,554.3 1219,554.9 1219.5,554.5 1220,553.6 1220.5,554.5 1221,554.3 1221.5,554 1222,554.1 1222.5,554.9 1223,554.8 1223.5,554.4 1224,555 1224.5,554.6 1225,554 1225.5,554.9 1226,554.6 1226.5,554.9 1227,555 1227.5,554.2 1228,554.7 1228.5,554.9 1229,554 1229.5,554.6 1230,554.8 1230.5,555.1 1231,554.9 1231.5,555 1232,555.1 1232.5,554.9 1233,554.9 1233.5,554.6 1234,554.2 1234,565 1233.5,565.2 1233,566.3 1232.5,564.8 1232,565.2 1231.5,565 1231,565.1 1230.5,565.5 1230,565.5 1229.5,565.2 1229,565.4 1228.5,565.9 1228,564.8 1227.5,565 1227,564.9 1226.5,564.7 1226,565.4 1225.5,564.7 1225,564.7 1224.5,565.2 1224,564.9 1223.5,565.3 1223,565.7 1222.5,564.8 1222,564.6 1221.5,564.9 1221,565 1220.5,564.9 1220,565.5 1219.5,565.6 1219,564.7 1218.5,564.9 1218,564.7 1217.5,565.3 1217,564.6 1216.5,565.3 1216,565.5 1215.5,564.9 1215,564.7 1214.5,565.8 1214,564.5 1213.5,565.6 1213,564.9 1212.5,564.5 1212,565 1211.5,565 1211,565.3 1210.5,564.9 1210,564.7 1209.5,564.6 1209,565 1208.5,565.2 1208,565.6 1207.5,564.6 1207,565.4 1206.5,565.3 1206,564.9 1205.5,565.3 1205,565 1204.5,565.1 1204,565.3 1203.5,564.9 1203,564.7 1202.5,565 1202,564.6 1201.5,564.7 1201,564.7 1200.5,564.5 1200,564.9 1199.5,564.8 1199,565.2 1198.5,564.7 1198,565 1197.5,564.7 1197,564.6 1196.5,565.2 1196,564.3 1195.5,564.7 1195,564.5 1194.5,564.5 1194,564.4 1193.5,564.5 1193,564.4 1192.5,565.1 1192,564.7 1191.5,564.5 1191,565.3 1190.5,565 1190,564.9 1189.5,564.3 1189,565.3 1188.5,564.5 1188,564.7 1187.5,564.7 1187,564.4 1186.5,564.3 1186,564.4 1185.5,564.6 1185,564.9 1184.5,564.7 1184,564.5 1183.5,564.8 1183,564.4 1182.5,564.5 1182,564.4 1181.5,564.6 1181,564.7 1180.5,564.9 1180,564.9 1179.5,565.1 1179,564.4 1178.5,564.5 1178,565.1 1177.5,564.8 1177,564.5 1176.5,564.3 1176,564.9 1175.5,564.6 1175,564.6 1174.5,564.8 1174,564.8 1173.5,564.6 1173,565.1 1172.5,564.8 1172,564.2 1171.5,564.3 1171,564.4 1170.5,564.4 1170,564.4 1169.5,564.4 1169,564.5 1168.5,564.3 1168,564.4 1167.5,564.3 1167,564.5 1166.5,564.7 1166,564.5 1165.5,564.3 1165,565.3 1164.5,564.3 1164,564.3 1163.5,564.8 1163,565.2 1162.5,564.4 1162,564.4 1161.5,564.8 1161,565.8 1160.5,564.3 1160,564.6 1159.5,564.7 1159,564.6 1158.5,564.5 1158,565.2 1157.5,565.1 1157,564.3 1156.5,565.1 1156,564.3 1155.5,565.1 1155,564.8 1154.5,564.6 1154,564.4 1153.5,565.1 1153,564.4 1152.5,564.6 1152,564.5 1151.5,564.9 1151,564.9 1150.5,565 1150,564.2 1149.5,564.7 1149,564.2 1148.5,564.3 1148,564.9 1147.5,564.8 1147,564.6 1146.5,564.4 1146,564.4 1145.5,564.3 1145,564.5 1144.5,564.6 1144,564.9 1143.5,564.7 1143,565.3 1142.5,565.1 1142,565.2 1141.5,564.5 1141,564.6 1140.5,564.4 1140,564.5 1139.5,564.9 1139,565.5 1138.5,564.2 1138,564.6 1137.5,564.3 1137,564.3 1136.5,564.6 1136,564.6 1135.5,564.5 1135,564.5 1134.5,564.5 1134,564.7 1133.5,564.4 1133,564.4 1132.5,564.8 1132,565.2 1131.5,564.4 1131,564.9 1130.5,565 1130,564.8 1129.5,565 1129,564.4 1128.5,564.5 1128,564.6 1127.5,564.5 1127,565.4 1126.5,564.6 1126,564.7 1125.5,564.9 1125,564.6 1124.5,564.7 1124,564.6 1123.5,565.4 1123,564.9 1122.5,565.1 1122,564.8 1121.5,564.7 1121,564.9 1120.5,564.8 1120,564.8 1119.5,564.8 1119,565.1 1118.5,564.7 1118,565.5 1117.5,565 1117,565.1 1116.5,565.3 1116,565.6 1115.5,565.7 1115,565.4 1114.5,566.2 1114,565.3 1113.5,565.5 1113,565.6 1112.5,566.5 1112,566.5 1111.5,566.6 1111,565.8 1110.5,566.3 1110,567.2 1109.5,566.5 1109,567.4 1108.5,566.8 1108,566.7 1107.5,566.9 1107,567.9 1106.5,567.9 1106,568.3 1105.5,568 1105,567.9 1104.5,568.4 1104,569 1103.5,569.3 1103,570.6 1102.5,570.1 1102,571.7 1101.5,571.4 1101,572.7 1100.5,572.7 1100,574.3 1099.5,576.4 1099,578.6 1098.5,580.4 1098,583.2 1097.5,586.6 1097,590.4 1096.5,595.3 1096,602.1 1095.5,610.3 1095,619.6 1094.5,629.8 1094,640.4 1093.5,651.8 1093,664.8 1092.5,679.1 1092,694.8 1091.5,711.9 1091,730.4 1090.5,754 1090,782.7 1089.5,810.2 1089,830.3 1088.5,844.8 1088,856.5 1087.5,861.3 1087,857.6 1086.5,847.8 1086,833.8 1085.5,817.3 1085,800.3 1084.5,781.5 1084,758.3 1083.5,731.1 1083,700.3 1082.5,652 1082,595.4 1081.5,566.4 1081,563.3 1080.5,562.7 1080,564.7 1079.5,564 1079,564.2 1078.5,564.7 1078,564 1077.5,564.6 1077,564.3 1076.5,564.2 1076,564.2 1075.5,563.8 1075,564.2 1074.5,563.9 1074,564.5 1073.5,563.8 1073,564.3 1072.5,564.2 1072,564.2 1071.5,564.5 1071,565.7 1070.5,564.7 1070,564.2 1069.5,564 1069,564 1068.5,564.6 1068,563.9 1067.5,564.8 1067,564.4 1066.5,564.6 1066,564.1 1065.5,564.2 1065,564.6 1064.5,564.3 1064,564.6 1063.5,565 1063,563.9 1062.5,563.9 1062,564.7 1061.5,564.1 1061,564.2 1060.5,564.1 1060,564.1 1059.5,564.5 1059,564.3 1058.5,564.2 1058,564.2 1057.5,563.8 1057,564.6 1056.5,564.8 1056,564.6 1055.5,564 1055,564.5 1054.5,564.4 1054,564.4 1053.5,564 1053,564.1 1052.5,564.2 1052,563.9 1051.5,563.8 1051,564.8 1050.5,564.4 1050,564.8 1049.5,564.5 1049,563.9 1048.5,564.3 1048,565 1047.5,563.9 1047,564.1 1046.5,564.4 1046,564.6 1045.5,563.9 1045,563.9 1044.5,564 1044,564.3 1043.5,564.2 1043,564.6 1042.5,564 1042,564 1041.5,564.9 1041,564.4 1040.5,564.9 1040,564.2 1039.5,564.7 1039,564 1038.5,565 1038,564.3 1037.5,564.1 1037,564.7 1036.5,564 1036,565 1035.5,565.9 1035,564.3 1034.5,564.2 1034,564.4 1033.5,564.4 1033,564.1 1032.5,564.9 1032,564.3 1031.5,565.1 1031,565.3 1030.5,565.2 1030,564.2 1029.5,564.4 1029,564.5 1028.5,564.6 1028,564.6 1027.5,565.3 1027,565.9 1026.5,564.5 1026,564.9 1025.5,564.3 1025,565.5 1024.5,565.9 1024,565 1023.5,564.8 1023,564.5 1022.5,565.4 1022,564.8 1021.5,565.9 1021,564.8 1020.5,565.8 1020,565 1019.5,565.7 1019,565.1 1018.5,565.1 1018,565.4 1017.5,565.4 1017,564.9 1016.5,565 1016,565.5 1015.5,566.6 1015,565.3 1014.5,565.6 1014,565.5 1013.5,566.1 1013,566.3 1012.5,566 1012,566.7 1011.5,566.6 1011,566.1 1010.5,566.6 1010,566.7 1009.5,566.8 1009,566.9 1008.5,567.7 1008,568.2 1007.5,569.7 1007,570.7 1006.5,573.7 1006,575.5 1005.5,581.8 1005,593.5 1004.5,610.4 1004,653.4 1003.5,700.3 1003,727.5 1002.5,741.5 1002,741.2 1001.5,740.6 1001,738.9 1000.5,737.2 1000,736 999.5,734.3 999,733 998.5,732.3 998,731.6 997.5,730 997,729 996.5,727.4 996,727 995.5,724.2 995,721.9 994.5,719 994,715.6 993.5,709.3 993,697.7 992.5,680.4 992,619.1 991.5,566.5 991,563.4 990.5,563.1 990,564.6 989.5,564.4 989,564.7 988.5,564.2 988,564.5 987.5,564.8 987,564.5 986.5,564.2 986,564.4 985.5,564.9 985,564.5 984.5,564.6 984,564.5 983.5,564.3 983,564.5 982.5,564.4 982,564.5 981.5,564.7 981,564.5 980.5,564.6 980,564.9 979.5,565.4 979,564.2 978.5,564.1 978,565.4 977.5,564.3 977,564.5 976.5,564.6 976,564.1 975.5,565.1 975,564.3 974.5,564.4 974,564.4 973.5,564.3 973,564 972.5,564.6 972,564.1 971.5,564.2 971,564.6 970.5,564.5 970,564.4 969.5,564.6 969,564.4 968.5,564.1 968,564.3 967.5,564.7 967,564.2 966.5,564.6 966,564.1 965.5,564.1 965,564.4 964.5,564.2 964,564.4 963.5,564.4 963,564.5 962.5,565.3 962,564 961.5,565.5 961,564.4 960.5,565.1 960,564.5 959.5,564.2 959,564.6 958.5,564.1 958,564.2 957.5,564.4 957,564.2 956.5,564.1 956,564.2 955.5,564.5 955,564.1 954.5,564.4 954,564.5 953.5,564.1 953,564.9 952.5,564.7 952,565.2 951.5,564.4 951,564.1 950.5,564.7 950,564.7 949.5,565.2 949,564.1 948.5,564.1 948,564.4 947.5,565.2 947,565.4 946.5,564.6 946,565.1 945.5,564.4 945,564.6 944.5,565.4 944,564.4 943.5,564.2 943,564.2 942.5,564.7 942,564.5 941.5,564.3 941,564.7 940.5,564.3 940,564.4 939.5,564.7 939,565.2 938.5,564.6 938,565.3 937.5,565.4 937,564.6 936.5,565.6 936,564.7 935.5,564.7 935,564.8 934.5,565.3 934,566 933.5,565 933,565.1 932.5,565.9 932,566.2 931.5,565.6 931,566.1 930.5,565.9 930,566 929.5,566.1 929,566.1 928.5,566.2 928,567.2 927.5,566.8 927,567.6 926.5,568 926,568 925.5,568.5 925,568.3 924.5,568.8 924,570 923.5,570.2 923,570.9 922.5,572.9 922,574.8 921.5,577.2 921,580.5 920.5,587.8 920,601.2 919.5,620.4 919,675.7 918.5,725.3 918,734.4 917.5,738.5 917,736.3 916.5,730.9 916,725.3 915.5,721.3 915,717.5 914.5,713.6 914,709.5 913.5,705.1 913,700.3 912.5,695.1 912,689.6 911.5,683.6 911,676.8 910.5,669.1 910,660.3 909.5,648.2 909,632.6 908.5,615.8 908,600.3 907.5,584.3 907,568.7 906.5,561.6 906,560.1 905.5,560.1 905,561 904.5,560.8 904,559.9 903.5,560.2 903,559.8 902.5,560.1 902,559.7 901.5,560.3 901,559.8 900.5,559.3 900,559.5 899.5,559.6 899,559.4 898.5,559.5 898,559.3 897.5,559.1 897,559.1 896.5,559.2 896,559 895.5,559.4 895,559.1 894.5,558.9 894,559.1 893.5,558.7 893,558.8 892.5,558.8 892,559 891.5,558.4 891,558.3 890.5,559.6 890,558.3 889.5,558.2 889,558.1 888.5,558.1 888,558.5 887.5,558.5 887,557.8 886.5,557.9 886,558.3 885.5,557.9 885,558.1 884.5,558.1 884,558.3 883.5,558 883,558 882.5,557.7 882,557.9 881.5,557.4 881,557.3 880.5,557.4 880,557.9 879.5,558.1 879,557.6 878.5,557.6 878,557.2 877.5,557.6 877,557.2 876.5,556.9 876,556.8 875.5,557.3 875,556.9 874.5,556.9 874,556.6 873.5,557.6 873,556.5 872.5,556.5 872,556.6 871.5,556.6 871,557 870.5,557.5 870,556.3 869.5,556.4 869,556.3 868.5,556.9 868,556.2 867.5,556.7 867,556.1 866.5,556.4 866,556 865.5,555.8 865,555.9 864.5,556.7 864,556.2 863.5,555.9 863,555.6 862.5,556 862,556.1 861.5,556.3 861,556.3 860.5,555.9 860,555.4 859.5,555.3 859,555.8 858.5,555.3 858,555.6 857.5,555.3 857,555 856.5,555.3 856,555.3 855.5,554.9 855,555 854.5,555.2 854,555.6 853.5,555.2 853,555.1 852.5,554.7 852,554.8 851.5,554.7 851,554.9 850.5,554.6 850,554.7 849.5,554.6 849,555 848.5,555.7 848,555.4 847.5,554.2 847,554.5 846.5,554.5 846,554 845.5,554.2 845,554.4 844.5,554.7 844,554.1 843.5,554.4 843,554.1 842.5,554 842,553.9 841.5,554.3 841,553.8 840.5,553.6 840,553.7 839.5,553.6 839,554.4 838.5,553.7 838,553.7 837.5,554.7 837,554.1 836.5,554.1 836,553.3 835.5,554.3 835,554.2 834.5,553.9 834,553.4 833.5,553.3 833,554.1 832.5,553.8 832,553.3 831.5,553.1 831,553.5 830.5,553.5 830,553.4 829.5,553.3 829,553.6 828.5,553.5 828,553.8 827.5,553.1 827,553.5 826.5,553.8 826,553.7 825.5,553 825,554 824.5,553.7 824,553.5 823.5,553.8 823,553.8 822.5,553.5 822,553.1 821.5,553.3 821,553.3 820.5,553.9 820,553.6 819.5,553.3 819,553.4 818.5,553.4 818,553.6 817.5,553.6 817,553.8 816.5,553.5 816,554.2 815.5,553.2 815,553.1 814.5,553.6 814,553.3 813.5,553.4 813,553.6 812.5,553.3 812,553.3 811.5,553.8 811,553.7 810.5,553.3 810,553.1 809.5,553.6 809,553.1 808.5,553.1 808,554.1 807.5,553.5 807,553.1 806.5,553.3 806,553 805.5,553.2 805,553.6 804.5,553 804,553.3 803.5,553.1 803,553.5 802.5,554.9 802,553.5 801.5,553.5 801,553.1 800.5,553.4 800,554 799.5,553 799,553.9 798.5,553.3 798,553 797.5,553 797,553.4 796.5,553.3 796,553.2 795.5,553.4 795,554.3 794.5,553.5 794,553.4 793.5,553.4 793,553 792.5,553.3 792,553.5 791.5,553.3 791,554 790.5,553.1 790,553 789.5,553.2 789,553.2 788.5,553.1 788,553.9 787.5,553.1 787,553.1 786.5,553.5 786,553.3 785.5,553.6 785,553 784.5,553.2 784,553.2 783.5,553.2 783,553.9 782.5,553.4 782,553.1 781.5,553.2 781,553.4 780.5,553.1 780,554 779.5,553.6 779,553.1 778.5,553.7 778,553 777.5,553 777,553.8 776.5,553.2 776,554.3 775.5,553.1 775,553.4 774.5,553 774,553.4 773.5,553.3 773,553.2 772.5,553.3 772,553.9 771.5,553.9 771,553 770.5,553.1 770,553.1 769.5,553.3 769,553 768.5,553 768,553.8 767.5,553.4 767,553.1 766.5,553.2 766,553 765.5,553.9 765,553.5 764.5,553.2 764,553.1 763.5,553.2 763,553 762.5,553.3 762,553 761.5,553.4 761,553.9 760.5,553.1 760,553.6 759.5,553 759,553.2 758.5,553.6 758,553.5 757.5,553.4 757,554 756.5,553.7 756,553.2 755.5,553.3 755,553.8 754.5,553.2 754,553 753.5,554.1 753,553.8 752.5,553.4 752,553.2 751.5,553.5 751,553.3 750.5,553.6 750,553 749.5,553 749,553.2 748.5,554.6 748,553.7 747.5,553.5 747,553.3 746.5,553.5 746,553.2 745.5,553.5 745,553 744.5,553.4 744,553.7 743.5,553.4 743,553.6 742.5,553.3 742,553.7 741.5,553.3 741,553.4 740.5,553 740,553 739.5,553.6 739,553 738.5,553.1 738,553.1 737.5,553.5 737,553.9 736.5,553.4 736,553.5 735.5,553.3 735,553.4 734.5,553.5 734,553.5 733.5,553.2 733,553.3 732.5,553.6 732,553.4 731.5,553 731,553.4 730.5,553.1 730,553 729.5,553.2 729,553 728.5,553.5 728,553.2 727.5,553.1 727,554.1 726.5,553.2 726,553.9 725.5,553.3 725,553.3 724.5,553.6 724,554.1 723.5,554.2 723,553.4 722.5,554 722,553.6 721.5,553.2 721,553.6 720.5,553.4 720,553.4 719.5,554 719,554.6 718.5,553.3 718,554.4 717.5,554.1 717,553.5 716.5,554.1 716,553.8 715.5,554.2 715,553.4 714.5,553.8 714,554.9 713.5,554.6 713,557.9 712.5,564.4 712,554 711.5,552.8 711,552.8 710.5,553 710,553 709.5,553.5 709,552.8 708.5,552.8 708,553.3 707.5,553.4 707,552.9 706.5,552.9 706,554.4 705.5,552.9 705,552.6 704.5,553.1 704,553 703.5,552.8 703,553.5 702.5,552.7 702,552.7 701.5,553.5 701,552.6 700.5,553.2 700,552.8 699.5,553.1 699,553.4 698.5,552.8 698,553.2 697.5,552.9 697,552.7 696.5,552.9 696,553.1 695.5,553.2 695,553.1 694.5,552.7 694,552.9 693.5,552.8 693,552.5 692.5,553.4 692,553 691.5,552.6 691,552.4 690.5,552.8 690,553.3 689.5,553.9 689,552.6 688.5,554.3 688,553.6 687.5,552.6 687,553.2 686.5,552.4 686,552.9 685.5,552.6 685,553.1 684.5,553.6 684,553" fill="#0d0d0d" stroke="#0d0d0d" stroke-width="1.3" stroke-linejoin="round"/>
<line x1="1142.5" y1="559" x2="1142.5" y2="548.5" stroke="#0d0d0d" stroke-width="1"/>
<line x1="1230" y1="559" x2="1230" y2="568" stroke="#0d0d0d" stroke-width="1"/>
<line x1="1196" y1="559" x2="1196" y2="567" stroke="#0d0d0d" stroke-width="1"/>
<line x1="727.4" y1="646.2" x2="727.4" y2="812.8" stroke="#0d0d0d" stroke-width="2.3"/>
<line x1="718.7" y1="646.2" x2="727.4" y2="646.2" stroke="#0d0d0d" stroke-width="2.3"/>
<line x1="718.7" y1="728.7" x2="727.4" y2="728.7" stroke="#0d0d0d" stroke-width="2.3"/>
<line x1="718.7" y1="811.6" x2="727.4" y2="811.6" stroke="#0d0d0d" stroke-width="2.3"/>
<text x="713.4" y="654.4" font-size="23" fill="#0d0d0d" text-anchor="end">1</text>
<text x="713.4" y="736.9" font-size="23" fill="#0d0d0d" text-anchor="end">0.5</text>
<text x="713.4" y="819.8" font-size="23" fill="#0d0d0d" text-anchor="end">0</text>
<line x1="754.5" y1="796" x2="754.5" y2="797.9" stroke="#0d0d0d" stroke-width="1.8"/>
<line x1="750" y1="796" x2="759" y2="796" stroke="#0d0d0d" stroke-width="1.8"/>
<rect x="736.4" y="797.9" width="36.3" height="13.7" fill="#f9c10a" stroke="#0d0d0d" stroke-width="1.9"/>
<line x1="802" y1="668" x2="802" y2="711.9" stroke="#0d0d0d" stroke-width="1.8"/>
<line x1="797.5" y1="668" x2="806.5" y2="668" stroke="#0d0d0d" stroke-width="1.8"/>
<rect x="783.9" y="711.9" width="36.3" height="99.7" fill="#64b2a0" stroke="#0d0d0d" stroke-width="1.9"/>
<line x1="848.6" y1="677" x2="848.6" y2="714.4" stroke="#0d0d0d" stroke-width="1.8"/>
<line x1="844.1" y1="677" x2="853.1" y2="677" stroke="#0d0d0d" stroke-width="1.8"/>
<rect x="830.4" y="714.4" width="36.5" height="97.2" fill="#64b2a0" stroke="#0d0d0d" stroke-width="1.9"/>
<line x1="718.7" y1="811.6" x2="881" y2="811.6" stroke="#0d0d0d" stroke-width="2.3"/>
<text transform="translate(662 728.4) rotate(-90)" font-size="26.3" fill="#0d0d0d" text-anchor="middle">current [nA]</text>
<text x="802.4" y="651.5" font-size="30.5" fill="#0d0d0d" stroke="#0d0d0d" stroke-width="0.5" text-anchor="middle">*</text>
<text x="849.3" y="659.8" font-size="30.5" fill="#0d0d0d" stroke="#0d0d0d" stroke-width="0.5" text-anchor="middle">*</text>
<text x="880.6" y="803.6" font-size="22.9" fill="#0d0d0d">n = 9</text>
<text x="648.2" y="848.6" font-size="26.1" fill="#0d0d0d">pH 6</text>
<text x="757.4" y="848.6" font-size="26.1" fill="#0d0d0d" text-anchor="middle">1</text>
<text x="801.9" y="848.6" font-size="26.1" fill="#0d0d0d" text-anchor="middle">2</text>
<text x="849.1" y="848.6" font-size="26.1" fill="#0d0d0d" text-anchor="middle">3</text>
<polyline points="1144.9,715 1181.5,715 1181.5,636" fill="none" stroke="#0d0d0d" stroke-width="1.8"/>
<text transform="translate(1218.6 675.8) rotate(-90)" font-size="26.3" fill="#0d0d0d" text-anchor="middle">500 pA</text>
<text x="1137.8" y="754.9" font-size="26.1" fill="#0d0d0d">60 s</text>
</g>
<g>
<text x="2.3" y="917.2" font-size="46.8" fill="#0d0d0d">E</text>
<line x1="44.3" y1="935.5" x2="44.3" y2="1025.1" stroke="#0d0d0d" stroke-width="2.1"/>
<line x1="37.3" y1="948.2" x2="44.3" y2="948.2" stroke="#0d0d0d" stroke-width="2.1"/>
<line x1="37.3" y1="986.4" x2="44.3" y2="986.4" stroke="#0d0d0d" stroke-width="2.1"/>
<line x1="37.3" y1="1024.1" x2="44.3" y2="1024.1" stroke="#0d0d0d" stroke-width="2.1"/>
<line x1="40.3" y1="967.3" x2="44.3" y2="967.3" stroke="#0d0d0d" stroke-width="1.7"/>
<line x1="40.3" y1="1005.2" x2="44.3" y2="1005.2" stroke="#0d0d0d" stroke-width="1.7"/>
<text x="33.2" y="959.3" font-size="24.9" fill="#0d0d0d" text-anchor="end">45</text>
<text x="33.2" y="997.5" font-size="24.9" fill="#0d0d0d" text-anchor="end">35</text>
<text x="33.2" y="1035.2" font-size="24.9" fill="#0d0d0d" text-anchor="end">25</text>
<text x="50.3" y="950.2" font-size="28" fill="#0d0d0d">°C</text>
<polyline points="47.5,1030 96.5,1030 98.8,1026.8 101.1,1023.6 103.3,1020.4 105.6,1017.2 107.9,1014 110.2,1010.8 112.5,1007.6 114.8,1004.4 117,1001.2 119.3,998 121.6,994.8 123.9,991.6 126.2,988.4 128.5,985.2 130.8,982 133,978.8 135.3,975.6 137.6,972.4 139.9,969.2 142.2,966 144.4,962.8 146.7,959.6 149,956.4 151.3,953.2 153.6,950 155.9,946.8 158.2,943.6 160.4,940.4 162.7,937.2 165,934 165.6,936.2 166.2,939.5 166.8,943.5 167.4,948.6 168,955.9 168.6,964 169.2,971.7 169.8,978 170.4,983.8 171,989.3 171.6,994.2 172.2,998.3 172.8,1001.5 173.4,1004.3 174,1006.8 174.6,1009 175.2,1010.9 175.8,1012.5 176.4,1013.9 177,1015.3 177.6,1016.6 178.2,1017.7 178.8,1018.7 179.4,1019.4 180,1020 180.6,1020.4 181.2,1020.8 181.8,1021.2 182.4,1021.5 183,1021.8 183.6,1022.1 184.2,1022.4 184.8,1022.6 185.4,1022.8 186,1023 186.6,1023.2 187.2,1023.3 187.8,1023.5 188.4,1023.6 189,1023.7 189.6,1023.8 190.2,1023.9 190.8,1024 191.4,1024.1 192,1024.2 192.6,1024.3 193.2,1024.3 193.8,1024.4 194.4,1024.5 195,1024.6 195.6,1024.6 196.2,1024.7 196.8,1024.7 197.4,1024.8 198,1024.8 198.6,1024.9 199.2,1024.9 199.8,1025 200.4,1025 201,1025.1 201.6,1025.1 202.2,1025.2 202.8,1025.2 203.4,1025.2 204,1025.3 204.6,1025.3 205.2,1025.4 205.8,1025.4 206.4,1025.5 207,1025.5 207.6,1025.5 208.2,1025.6 208.8,1025.6 209.4,1025.6 210,1025.7 210.6,1025.7 211.2,1025.8 211.8,1025.8 212.4,1025.8 213,1025.9 213.6,1025.9 214.2,1025.9 214.8,1026 215.4,1026 216,1026 216.6,1026.1 217.2,1026.1 217.8,1026.1 218.4,1026.1 219,1026.2 219.6,1026.2 220.2,1026.2 220.8,1026.3 221.4,1026.3 222,1026.3 222.6,1026.3 223.2,1026.3 223.8,1026.4 224.4,1026.4 225,1026.4 225.6,1026.4 226.2,1026.4 226.8,1026.4 227.4,1026.4 228,1026.5 228.6,1026.5 229.2,1026.5 229.8,1026.5 230.4,1026.5 231,1026.5 231.6,1026.5 232.2,1026.5" fill="none" stroke="#0d0d0d" stroke-width="2.5" stroke-linejoin="round" stroke-linecap="round"/>
<polyline points="238.5,1030 290,1030 292.2,1026.5 294.4,1023 296.6,1019.5 298.9,1016 301.1,1012.5 303.3,1009 305.5,1005.5 307.7,1002 309.9,998.5 312.2,995 314.4,991.5 316.6,988 318.8,984.5 321,981 323.2,977.5 325.5,974 327.7,970.5 329.9,967 332.1,963.5 334.3,960 336.6,956.5 338.8,953 341,949.5 343.2,946 345.4,942.5 347.6,939 349.9,935.5 352.1,932 354.3,928.5 356.5,925 357.1,927.9 357.7,931 358.3,934.1 358.9,937.4 359.5,940.9 360.1,944.7 360.7,948.5 361.3,952.4 361.9,956.3 362.5,960 363.1,963.6 363.7,967.3 364.3,970.9 364.9,974.4 365.5,977.6 366.1,980.5 366.7,983.1 367.3,985.6 367.9,988 368.5,990.2 369.1,992.3 369.7,994.1 370.3,995.8 370.9,997.4 371.5,998.9 372.1,1000.3 372.7,1001.7 373.3,1002.9 373.9,1004.1 374.5,1005.2 375.1,1006.2 375.7,1007.1 376.3,1008 376.9,1008.9 377.5,1009.7 378.1,1010.5 378.7,1011.2 379.3,1011.8 379.9,1012.4 380.5,1012.9 381.1,1013.4 381.7,1013.9 382.3,1014.3 382.9,1014.8 383.5,1015.2 384.1,1015.6 384.7,1015.9 385.3,1016.3 385.9,1016.6 386.5,1017 387.1,1017.3 387.7,1017.6 388.3,1017.8 388.9,1018.1 389.5,1018.3 390.1,1018.5 390.7,1018.7 391.3,1018.9 391.9,1019.1 392.5,1019.3 393.1,1019.5 393.7,1019.6 394.3,1019.8 394.9,1019.9 395.5,1020.1 396.1,1020.2 396.7,1020.4 397.3,1020.5 397.9,1020.6 398.5,1020.7 399.1,1020.8 399.7,1020.9 400.3,1021.1 400.9,1021.2 401.5,1021.3 402.1,1021.4 402.7,1021.5 403.3,1021.6 403.9,1021.7 404.5,1021.8 405.1,1021.9 405.7,1022 406.3,1022.1 406.9,1022.2 407.5,1022.3 408.1,1022.4 408.7,1022.5 409.3,1022.6 409.9,1022.7 410.5,1022.8 411.1,1022.8 411.7,1022.9 412.3,1023 412.9,1023.1 413.5,1023.2 414.1,1023.2 414.7,1023.3 415.3,1023.4 415.9,1023.5 416.5,1023.5 417.1,1023.6 417.7,1023.6 418.3,1023.7 418.9,1023.7 419.5,1023.8 420.1,1023.8 420.7,1023.9 421.3,1023.9 421.9,1024 422.5,1024" fill="none" stroke="#0d0d0d" stroke-width="2.5" stroke-linejoin="round" stroke-linecap="round"/>
<polyline points="429,1022.5 480,1022.5 482.3,1019.1 484.6,1015.8 486.9,1012.5 489.2,1009.1 491.5,1005.8 493.8,1002.4 496.1,999 498.4,995.7 500.7,992.4 503,989 505.3,985.6 507.6,982.3 509.9,979 512.2,975.6 514.5,972.2 516.8,968.9 519.1,965.5 521.4,962.2 523.7,958.9 526,955.5 528.3,952.1 530.6,948.8 532.9,945.5 535.2,942.1 537.5,938.8 539.8,935.4 542.1,932 544.4,928.7 546.7,925.4 549,922 549.6,924.8 550.2,927.7 550.8,931 551.4,934.4 552,938.2 552.6,942.5 553.2,947.1 553.8,951.7 554.4,956.1 555,960 555.6,963.5 556.2,967 556.8,970.2 557.4,973.2 558,976 558.6,978.4 559.2,980.5 559.8,982.5 560.4,984.4 561,986.1 561.6,987.7 562.2,989.3 562.8,990.7 563.4,992.1 564,993.4 564.6,994.7 565.2,995.9 565.8,997 566.4,998.1 567,999 567.6,999.9 568.2,1000.7 568.8,1001.5 569.4,1002.3 570,1003 570.6,1003.6 571.2,1004.2 571.8,1004.8 572.4,1005.4 573,1005.9 573.6,1006.4 574.2,1006.8 574.8,1007.3 575.4,1007.7 576,1008.1 576.6,1008.5 577.2,1008.9 577.8,1009.3 578.4,1009.6 579,1010 579.6,1010.3 580.2,1010.6 580.8,1010.9 581.4,1011.2 582,1011.5 582.6,1011.8 583.2,1012.1 583.8,1012.3 584.4,1012.6 585,1012.9 585.6,1013.1 586.2,1013.3 586.8,1013.6 587.4,1013.8 588,1014 588.6,1014.1 589.2,1014.3 589.8,1014.5 590.4,1014.6 591,1014.7 591.6,1014.9 592.2,1015 592.8,1015.1 593.4,1015.3 594,1015.4 594.6,1015.5 595.2,1015.7 595.8,1015.8 596.4,1015.9 597,1016 597.6,1016.1 598.2,1016.3 598.8,1016.4 599.4,1016.5 600,1016.6 600.6,1016.7 601.2,1016.8 601.8,1016.9 602.4,1017 603,1017.1 603.6,1017.2 604.2,1017.3 604.8,1017.3 605.4,1017.4 606,1017.5 606.6,1017.6 607.2,1017.6 607.8,1017.7 608.4,1017.7 609,1017.8 609.6,1017.8 610.2,1017.9 610.8,1017.9 611.4,1017.9 612,1018 612.6,1018 613.2,1018 613.8,1018" fill="none" stroke="#0d0d0d" stroke-width="2.5" stroke-linejoin="round" stroke-linecap="round"/>
<line x1="153" y1="952.5" x2="153" y2="1070" stroke="#e8442c" stroke-width="1.7" stroke-dasharray="1.5 1.1"/>
<line x1="331.5" y1="965" x2="331.5" y2="1071" stroke="#e8442c" stroke-width="1.7" stroke-dasharray="1.5 1.1"/>
<line x1="491.5" y1="1010" x2="491.5" y2="1082" stroke="#e8442c" stroke-width="1.7" stroke-dasharray="1.5 1.1"/>
<polyline points="46.5,1071.9 47,1071.3 47.5,1072.2 48,1071.1 48.5,1071.4 49,1071.8 49.5,1071.4 50,1071.3 50.5,1071.1 51,1071.5 51.5,1071.7 52,1071.4 52.5,1071.2 53,1071.9 53.5,1071.7 54,1071.7 54.5,1071.4 55,1071.2 55.5,1071.8 56,1071.5 56.5,1071.4 57,1071.4 57.5,1071.6 58,1071.7 58.5,1071.5 59,1071.4 59.5,1071.1 60,1071.4 60.5,1071.4 61,1071.6 61.5,1071.5 62,1071.3 62.5,1071.5 63,1071.7 63.5,1071.5 64,1071.4 64.5,1071.4 65,1071.4 65.5,1071.6 66,1071.7 66.5,1071.4 67,1071.4 67.5,1071.6 68,1071.7 68.5,1071.9 69,1071.1 69.5,1071.7 70,1071.3 70.5,1071.7 71,1071.8 71.5,1072 72,1071.3 72.5,1071.8 73,1070.8 73.5,1071.5 74,1070.8 74.5,1071.3 75,1071.2 75.5,1071.1 76,1071.5 76.5,1071.2 77,1071.1 77.5,1071.2 78,1071.3 78.5,1071.6 79,1071.4 79.5,1071.2 80,1071 80.5,1071.7 81,1071.6 81.5,1071.7 82,1071.3 82.5,1071.8 83,1071.6 83.5,1072.2 84,1071.4 84.5,1071.7 85,1072 85.5,1071.4 86,1071.5 86.5,1071.3 87,1071.4 87.5,1071.7 88,1071.5 88.5,1071.2 89,1072.2 89.5,1071.3 90,1071.8 90.5,1071.5 91,1071.7 91.5,1071.7 92,1071.7 92.5,1071.7 93,1072 93.5,1071.3 94,1071.1 94.5,1071 95,1070.9 95.5,1071.6 96,1071 96.5,1071 97,1071.6 97.5,1071.4 98,1071.5 98.5,1070.7 99,1071.1 99.5,1071 100,1071.5 100.5,1071.5 101,1071.6 101.5,1071.8 102,1072.5 102.5,1071.3 103,1071.7 103.5,1071.8 104,1071.5 104.5,1071.2 105,1071.7 105.5,1071.8 106,1071.7 106.5,1071.3 107,1070.8 107.5,1071.2 108,1071.8 108.5,1071.8 109,1071.2 109.5,1071.6 110,1071.9 110.5,1071.9 111,1071.2 111.5,1071.4 112,1071.5 112.5,1071.2 113,1072 113.5,1071 114,1071.6 114.5,1071.8 115,1071.6 115.5,1071.7 116,1070.8 116.5,1071.5 117,1071.6 117.5,1071.6 118,1071.1 118.5,1071.4 119,1071.2 119.5,1071.9 120,1071.3 120.5,1071.5 121,1071.4 121.5,1071.4 122,1072 122.5,1071.9 123,1071.6 123.5,1071.4 124,1071.4 124.5,1070.9 125,1071.5 125.5,1071.6 126,1071.4 126.5,1071.2 127,1071.9 127.5,1071.7 128,1071.5 128.5,1072 129,1071.6 129.5,1072 130,1071.4 130.5,1071.5 131,1071.3 131.5,1071.8 132,1071.4 132.5,1071.6 133,1071.5 133.5,1071.3 134,1072.2 134.5,1071.8 135,1071.4 135.5,1071.8 136,1071.6 136.5,1071.4 137,1072 137.5,1071.8 138,1071.7 138.5,1071.7 139,1071.7 139.5,1071.7 140,1071.6 140.5,1071.6 141,1071.6 141.5,1071.1 142,1071.5 142.5,1071.9 143,1072.1 143.5,1071.7 144,1071.4 144.5,1072 145,1071.5 145.5,1071.5 146,1071.4 146.5,1071.3 147,1072.5 147.5,1072 148,1071.2 148.5,1071.9 149,1071.7 149.5,1072.5 150,1072.1 150.5,1072.1 151,1072.6 151.5,1073 152,1072.4 152.5,1072.8 153,1072.6 153.5,1073.3 154,1073.3 154.5,1073.4 155,1073.4 155.5,1074.2 156,1073.9 156.5,1074.6 157,1074.9 157.5,1074.4 158,1075.1 158.5,1075.6 159,1075.6 159.5,1076.5 160,1077.2 160.5,1077.3 161,1078.4 161.5,1079.6 162,1080.7 162.5,1082.3 163,1083.8 163.5,1086 164,1088.3 164.5,1090.8 165,1093.5 165.5,1094 166,1092.5 166.5,1090.3 167,1087.2 167.5,1085.1 168,1082.9 168.5,1080.3 169,1078.7 169.5,1078.4 170,1076.4 170.5,1076 171,1075.9 171.5,1074.7 172,1074.7 172.5,1074 173,1074.7 173.5,1073.7 174,1073.8 174.5,1073 175,1073.4 175.5,1073.3 176,1072.8 176.5,1073.1 177,1072.7 177.5,1072.9 178,1072.5 178.5,1072.5 179,1072.2 179.5,1072.7 180,1072.4 180.5,1072.2 181,1072.9 181.5,1072.4 182,1072.3 182.5,1072.1 183,1072.6 183.5,1072.3 184,1072 184.5,1072.1 185,1072.3 185.5,1072.2 186,1072.5 186.5,1072.4 187,1072.7 187.5,1071.9 188,1072 188.5,1072 189,1072 189.5,1072 190,1071.9 190.5,1072.3 191,1071.6 191.5,1072 192,1072.1 192.5,1072.2 193,1071.9 193.5,1072 194,1071.9 194.5,1072.1 195,1071.8 195.5,1072.1 196,1072.3 196.5,1072.5 197,1071.8 197.5,1072.1 198,1071.9 198.5,1072 199,1071.7 199.5,1071.9 200,1072 200.5,1071.8 201,1071.7 201.5,1072.1 202,1071.8 202.5,1071.7 203,1071.8 203.5,1071.7 204,1071.5 204.5,1071.9 205,1071.7 205.5,1071.3 206,1072 206.5,1071.6 207,1071.3 207.5,1071.7 208,1071.5 208.5,1071.7 209,1071.3 209.5,1071.5 210,1071.2 210.5,1071.2 211,1071.7 211.5,1071.5 212,1072.1 212.5,1071.4 213,1071.7 213.5,1071.2 214,1072 214.5,1071.6 215,1071.1 215.5,1071.7 216,1071.4 216.5,1072.2 217,1071.9 217.5,1071.3 218,1071.8 218.5,1071.7 219,1071.4 219.5,1071.5 220,1071.5 220.5,1071.3 221,1071.6 221.5,1071.4 222,1071.5 222.5,1071.4 223,1071.3 223.5,1072.1 224,1071.6 224.5,1071.7 225,1072.3 225.5,1071.5 226,1071.3 226.5,1071 227,1071.1 227.5,1071.7 228,1071.1 228.5,1070.9 229,1071.5 229.5,1071.5 230,1072 230.5,1071.1 231,1071.8 231.5,1070.8 232,1071.9 232.5,1071.6" fill="none" stroke="#0d0d0d" stroke-width="3.9" stroke-linejoin="round" stroke-linecap="round"/>
<polyline points="237.5,1072.2 238,1072.9 238.5,1072.6 239,1072.7 239.5,1072.5 240,1072.8 240.5,1072.7 241,1072.2 241.5,1072.2 242,1072.3 242.5,1072.7 243,1072.7 243.5,1072.6 244,1072.4 244.5,1072.3 245,1072.6 245.5,1072.8 246,1072.7 246.5,1073 247,1073 247.5,1072.4 248,1073.3 248.5,1073 249,1072.6 249.5,1072.6 250,1072.7 250.5,1072.4 251,1072.3 251.5,1072.5 252,1072.4 252.5,1071.7 253,1072.7 253.5,1072 254,1072.6 254.5,1072.4 255,1072.3 255.5,1072.7 256,1072.3 256.5,1072.2 257,1072.6 257.5,1072.6 258,1072.3 258.5,1072.3 259,1072.3 259.5,1072.6 260,1072.7 260.5,1072.8 261,1072.5 261.5,1072.3 262,1072.7 262.5,1073.3 263,1073 263.5,1072.2 264,1072.8 264.5,1072.5 265,1072.5 265.5,1072.5 266,1072.3 266.5,1072.1 267,1072.7 267.5,1072.2 268,1072.4 268.5,1072.4 269,1072.6 269.5,1072.4 270,1072.5 270.5,1072.4 271,1072.6 271.5,1072.7 272,1073 272.5,1072.7 273,1072.4 273.5,1072.7 274,1072.8 274.5,1072.4 275,1072.4 275.5,1071.9 276,1073 276.5,1072.6 277,1073 277.5,1072.1 278,1071.9 278.5,1072.7 279,1072.3 279.5,1072.6 280,1072.4 280.5,1072.8 281,1072.5 281.5,1072.6 282,1072.7 282.5,1072.5 283,1072.5 283.5,1073 284,1072.6 284.5,1072.7 285,1072.8 285.5,1072.7 286,1072.8 286.5,1073.2 287,1073 287.5,1072.2 288,1072 288.5,1072.4 289,1071.9 289.5,1071.8 290,1072.3 290.5,1072.4 291,1072.7 291.5,1072.8 292,1073.3 292.5,1072.5 293,1072.5 293.5,1072.7 294,1073 294.5,1072.6 295,1072.4 295.5,1071.9 296,1072.9 296.5,1072.6 297,1073.2 297.5,1073.2 298,1073.3 298.5,1072.8 299,1073 299.5,1072.3 300,1072.8 300.5,1072.6 301,1073 301.5,1072.6 302,1072.7 302.5,1072.5 303,1073.3 303.5,1072.8 304,1072.5 304.5,1072.6 305,1072.4 305.5,1073.1 306,1073.1 306.5,1072.8 307,1072.9 307.5,1072.3 308,1073.2 308.5,1072.8 309,1073.4 309.5,1072.6 310,1072.9 310.5,1073.1 311,1073.1 311.5,1072.8 312,1073.2 312.5,1073 313,1072.9 313.5,1072.6 314,1073.3 314.5,1073 315,1073.1 315.5,1073 316,1073.2 316.5,1073 317,1073.9 317.5,1073.7 318,1073.4 318.5,1073.3 319,1073.5 319.5,1073.1 320,1073.6 320.5,1073.4 321,1073.4 321.5,1073.4 322,1073.4 322.5,1073.8 323,1073.7 323.5,1073.6 324,1074 324.5,1074 325,1074 325.5,1074.5 326,1074.1 326.5,1073.9 327,1074.4 327.5,1074.2 328,1074.9 328.5,1074.9 329,1074.8 329.5,1075.2 330,1075.2 330.5,1075.3 331,1075.1 331.5,1075.2 332,1075.9 332.5,1076.8 333,1076.2 333.5,1076.7 334,1076.8 334.5,1077.4 335,1077.3 335.5,1077.7 336,1078.2 336.5,1078.3 337,1078.7 337.5,1079.1 338,1079.8 338.5,1080.2 339,1080.8 339.5,1081.2 340,1081.3 340.5,1082 341,1082.9 341.5,1083.4 342,1084.3 342.5,1084.3 343,1085.2 343.5,1086.1 344,1087.3 344.5,1088 345,1089 345.5,1090.5 346,1091.4 346.5,1092.5 347,1094.3 347.5,1095.5 348,1097.1 348.5,1098.8 349,1100.3 349.5,1102.5 350,1104.8 350.5,1107.4 351,1109.7 351.5,1112.6 352,1114.8 352.5,1117.9 353,1121.5 353.5,1124.1 354,1127.7 354.5,1131.7 355,1135.1 355.5,1138.3 356,1141.5 356.5,1145.1 357,1148.1 357.5,1151.2 358,1153.4 358.5,1153.6 359,1152.3 359.5,1149.2 360,1145.1 360.5,1140.2 361,1133.6 361.5,1126.1 362,1118.2 362.5,1112 363,1107.1 363.5,1102.4 364,1098 364.5,1095 365,1092.3 365.5,1089.5 366,1087.7 366.5,1086.3 367,1084.5 367.5,1083.2 368,1081.8 368.5,1081.4 369,1079.9 369.5,1079.8 370,1079.5 370.5,1078.2 371,1078.3 371.5,1077.7 372,1076.9 372.5,1076.8 373,1076.9 373.5,1076.1 374,1075.9 374.5,1075 375,1075.2 375.5,1075.4 376,1075.3 376.5,1075.4 377,1075.3 377.5,1075.5 378,1075 378.5,1075.6 379,1074.9 379.5,1075 380,1074.3 380.5,1074.6 381,1074.7 381.5,1074.6 382,1074.2 382.5,1074.2 383,1073.8 383.5,1074.2 384,1073.8 384.5,1074.3 385,1074.1 385.5,1074.2 386,1074.1 386.5,1074 387,1074.1 387.5,1073.9 388,1073.3 388.5,1074.1 389,1073.5 389.5,1074 390,1073.9 390.5,1073.8 391,1073.7 391.5,1073.7 392,1073.7 392.5,1073.6 393,1073.5 393.5,1073.6 394,1073.7 394.5,1073.4 395,1073.6 395.5,1073.1 396,1073.2 396.5,1073 397,1073.4 397.5,1073.5 398,1073.6 398.5,1073 399,1073.6 399.5,1073.1 400,1073.2 400.5,1073.2 401,1073.8 401.5,1073.4 402,1073.9 402.5,1073.6 403,1073.2 403.5,1073.4 404,1073.6 404.5,1073 405,1073.1 405.5,1073.2 406,1073.1 406.5,1073.1 407,1073.7 407.5,1073.2 408,1073.1 408.5,1073 409,1072.8 409.5,1073.4 410,1072.9 410.5,1074.1 411,1073.2 411.5,1072.9 412,1072.7 412.5,1072.9 413,1073.2 413.5,1072.9 414,1073.2 414.5,1073.3 415,1073.2 415.5,1073.2 416,1073 416.5,1072.8 417,1072.7 417.5,1072.6 418,1072.9 418.5,1073.2 419,1073 419.5,1072.7 420,1073.3 420.5,1072.7 421,1072.7 421.5,1072.7 422,1072.8 422.5,1073" fill="none" stroke="#aad6ee" stroke-width="4.3" stroke-linejoin="round" stroke-linecap="round"/>
<polygon points="428.9,1079.9 429.4,1079.8 429.9,1080.2 430.4,1080.3 430.9,1080.2 431.4,1080.1 431.9,1080.4 432.4,1079.7 432.9,1080.3 433.4,1080.4 433.9,1079.9 434.4,1080.2 434.9,1080.3 435.4,1080.4 435.9,1079.9 436.4,1080.1 436.9,1080.3 437.4,1080.2 437.9,1079.9 438.4,1080.1 438.9,1080.3 439.4,1080.2 439.9,1080.3 440.4,1079.7 440.9,1079.7 441.4,1080.2 441.9,1080.1 442.4,1080.2 442.9,1080.3 443.4,1080.3 443.9,1079.6 444.4,1080.3 444.9,1080 445.4,1080.2 445.9,1080.1 446.4,1080 446.9,1079.8 447.4,1080 447.9,1080.2 448.4,1079.5 448.9,1080.2 449.4,1080.3 449.9,1080.3 450.4,1079.9 450.9,1080.2 451.4,1080 451.9,1080 452.4,1080.2 452.9,1079.7 453.4,1080.2 453.9,1080.1 454.4,1079.5 454.9,1080.1 455.4,1080.3 455.9,1080 456.4,1079.5 456.9,1079.9 457.4,1080.1 457.9,1080.3 458.4,1080.2 458.9,1080.2 459.4,1079.8 459.9,1080.1 460.4,1080.1 460.9,1080 461.4,1080 461.9,1080.1 462.4,1080 462.9,1080.3 463.4,1080.2 463.9,1079.8 464.4,1080.3 464.9,1079.9 465.4,1080.1 465.9,1080 466.4,1080.2 466.9,1080.2 467.4,1079.7 467.9,1079.9 468.4,1079.8 468.9,1080.3 469.4,1080.4 469.9,1080.1 470.4,1079.8 470.9,1080.2 471.4,1080.3 471.9,1079.8 472.4,1080.3 472.9,1080.3 473.4,1079.8 473.9,1080.2 474.4,1080.2 474.9,1079.9 475.4,1080.1 475.9,1080.4 476.4,1079.9 476.9,1080 477.4,1080 477.9,1079.8 478.4,1079.8 478.9,1080.3 479.4,1079.8 479.9,1080.2 480.4,1080.2 480.9,1080.3 481.4,1080.4 481.9,1080 482.4,1080.4 482.9,1079.8 483.4,1079.9 483.9,1080.3 484.4,1080.2 484.9,1080.5 485.4,1079.9 485.9,1080.3 486.4,1080.7 486.9,1080.4 487.4,1081 487.9,1080.9 488.4,1081.2 488.9,1081.6 489.4,1082 489.9,1082.3 490.4,1082 490.9,1082.8 491.4,1082.5 491.9,1083.2 492.4,1083.6 492.9,1083.8 493.4,1084.2 493.9,1084.6 494.4,1085 494.9,1085.2 495.4,1085.5 495.9,1086 496.4,1086 496.9,1086.3 497.4,1086.9 497.9,1087.3 498.4,1087.3 498.9,1087.9 499.4,1088.3 499.9,1088.8 500.4,1089.1 500.9,1089.8 501.4,1090.4 501.9,1090.6 502.4,1091.6 502.9,1092.3 503.4,1092.9 503.9,1093.5 504.4,1094.2 504.9,1095 505.4,1095.6 505.9,1096.4 506.4,1096.9 506.9,1097.1 507.4,1098.5 507.9,1098.7 508.4,1100 508.9,1100.8 509.4,1101.9 509.9,1102.9 510.4,1103.4 510.9,1104.7 511.4,1105.6 511.9,1106.6 512.4,1106.8 512.9,1108.7 513.4,1109.4 513.9,1110.3 514.4,1111.9 514.9,1112.9 515.4,1114.1 515.9,1115.2 516.4,1116 516.9,1117.6 517.4,1118.6 517.9,1119.8 518.4,1121 518.9,1122.5 519.4,1123.6 519.9,1124.9 520.4,1126.4 520.9,1127.4 521.4,1128.8 521.9,1130.5 522.4,1132.1 522.9,1133.6 523.4,1134.9 523.9,1136.8 524.4,1137.9 524.9,1140.1 525.4,1141.7 525.9,1143.3 526.4,1145 526.9,1146.8 527.4,1148.9 527.9,1150.6 528.4,1152.6 528.9,1154.8 529.4,1156.2 529.9,1158.7 530.4,1160.8 530.9,1163 531.4,1165.4 531.9,1167.5 532.4,1169.2 532.9,1172.2 533.4,1174.5 533.9,1176.8 534.4,1179.2 534.9,1181.9 535.4,1184.7 535.9,1186.4 536.4,1190 536.9,1192.7 537.4,1194.4 537.9,1198.6 538.4,1201.1 538.9,1204.2 539.4,1207.7 539.9,1210.7 540.4,1214 540.9,1217 541.4,1221.1 541.9,1224.9 542.4,1228.7 542.9,1232.5 543.4,1236.6 543.9,1241.3 544.4,1245.3 544.9,1250 545.4,1254.9 545.9,1259.3 546.4,1264.7 546.9,1269.5 547.4,1274.9 547.9,1281.9 548.4,1290 548.9,1297.7 549.4,1302.5 549.9,1302 550.4,1294.6 550.9,1282.8 551.4,1272.3 551.9,1262.6 552.4,1252.2 552.9,1242.6 553.4,1232.6 553.9,1224.3 554.4,1216 554.9,1207.7 555.4,1199.6 555.9,1192.3 556.4,1185.5 556.9,1179 557.4,1173 557.9,1167.2 558.4,1161.9 558.9,1156.9 559.4,1151.9 559.9,1147.9 560.4,1143.7 560.9,1139.6 561.4,1136 561.9,1132.8 562.4,1128.7 562.9,1126.3 563.4,1123.9 563.9,1122 564.4,1120.2 564.9,1118.6 565.4,1116.6 565.9,1115.6 566.4,1114.2 566.9,1113.5 567.4,1112.4 567.9,1111.6 568.4,1110.8 568.9,1110.2 569.4,1109.1 569.9,1108.9 570.4,1108.4 570.9,1107.5 571.4,1107.1 571.9,1106.8 572.4,1106.4 572.9,1105.5 573.4,1105.6 573.9,1105.2 574.4,1105.1 574.9,1104 575.4,1104.1 575.9,1104.1 576.4,1103.8 576.9,1103.4 577.4,1103 577.9,1103.1 578.4,1102.9 578.9,1102.5 579.4,1102.5 579.9,1102.2 580.4,1101.9 580.9,1101.7 581.4,1101.6 581.9,1101.3 582.4,1101.4 582.9,1101.3 583.4,1101.3 583.9,1100.9 584.4,1100.8 584.9,1100.9 585.4,1100.7 585.9,1100.3 586.4,1100 586.9,1100.3 587.4,1099.9 587.9,1099.7 588.4,1099.4 588.9,1099.4 589.4,1099.7 589.9,1099.5 590.4,1099.4 590.9,1099.5 591.4,1098.2 591.9,1098.5 592.4,1099 592.9,1098.1 593.4,1098.5 593.9,1098.7 594.4,1098.8 594.9,1098.7 595.4,1098.5 595.9,1098.5 596.4,1097.9 596.9,1098.5 597.4,1098.2 597.9,1097.8 598.4,1098.4 598.9,1098.3 599.4,1097.9 599.9,1097.4 600.4,1098.2 600.9,1098.2 601.4,1097.6 601.9,1098.1 602.4,1097.4 602.9,1097.7 603.4,1097.6 603.9,1097.3 604.4,1097.4 604.9,1097.3 605.4,1097.8 605.9,1097.7 606.4,1096.9 606.9,1097.5 607.4,1097.2 607.9,1097.3 608.4,1097.3 608.9,1097.3 609.4,1097.4 609.9,1097.1 610.4,1097 610.9,1096.9 611.4,1097.3 611.9,1097.2 612.4,1096.7 612.9,1096.6 613.4,1097 613.9,1097 613.9,1103.4 613.4,1103.3 612.9,1103.4 612.4,1103.3 611.9,1103.6 611.4,1103.9 610.9,1103.4 610.4,1103.4 609.9,1104.1 609.4,1103.7 608.9,1103.3 608.4,1103.5 607.9,1104 607.4,1103.6 606.9,1103.6 606.4,1104 605.9,1104.1 605.4,1103.6 604.9,1103.8 604.4,1104.1 603.9,1103.6 603.4,1103.9 602.9,1104 602.4,1104 601.9,1104 601.4,1103.8 600.9,1104.2 600.4,1103.7 599.9,1104.7 599.4,1104 598.9,1104.1 598.4,1104.3 597.9,1104.5 597.4,1103.9 596.9,1104.1 596.4,1104.2 595.9,1104.5 595.4,1104.9 594.9,1104.9 594.4,1104.3 593.9,1104.6 593.4,1104.4 592.9,1104.5 592.4,1104.8 591.9,1104.8 591.4,1104.7 590.9,1104.8 590.4,1104.8 589.9,1105.1 589.4,1105.1 588.9,1105.1 588.4,1105.2 587.9,1105.4 587.4,1105.6 586.9,1105.9 586.4,1105.9 585.9,1105.9 585.4,1106.4 584.9,1106.6 584.4,1106.5 583.9,1106.4 583.4,1106.5 582.9,1107.2 582.4,1107 581.9,1107.2 581.4,1106.9 580.9,1107.4 580.4,1107.6 579.9,1107.8 579.4,1108.1 578.9,1107.8 578.4,1107.9 577.9,1108.4 577.4,1108.8 576.9,1108.4 576.4,1108.5 575.9,1109 575.4,1108.9 574.9,1109.2 574.4,1109.4 573.9,1110.3 573.4,1109.9 572.9,1110.6 572.4,1110.5 571.9,1111 571.4,1111.2 570.9,1112 570.4,1112.1 569.9,1112.9 569.4,1113.2 568.9,1113.8 568.4,1114.6 567.9,1115.5 567.4,1116 566.9,1116.5 566.4,1118.5 565.9,1118.6 565.4,1120.2 564.9,1121.3 564.4,1123.3 563.9,1125 563.4,1127.1 562.9,1129.6 562.4,1132.5 561.9,1135.3 561.4,1138.9 560.9,1142.9 560.4,1146.3 559.9,1150.7 559.4,1154.7 558.9,1159.7 558.4,1164.4 557.9,1170.4 557.4,1175.9 556.9,1181.3 556.4,1188.2 555.9,1194.7 555.4,1202.2 554.9,1210.6 554.4,1218.6 553.9,1226.8 553.4,1235.7 552.9,1245.4 552.4,1255.2 551.9,1265.6 551.4,1275.1 550.9,1285.9 550.4,1298.2 549.9,1305.7 549.4,1305.9 548.9,1300.8 548.4,1293.7 547.9,1285.4 547.4,1279.4 546.9,1273.3 546.4,1267.9 545.9,1263.1 545.4,1258.3 544.9,1253.5 544.4,1248.9 543.9,1245 543.4,1240.3 542.9,1236 542.4,1232.3 541.9,1228.1 541.4,1224.4 540.9,1220.9 540.4,1218.2 539.9,1214.4 539.4,1210.8 538.9,1208.1 538.4,1204.8 537.9,1201.6 537.4,1198.7 536.9,1196 536.4,1193.6 535.9,1190.8 535.4,1187.6 534.9,1185.4 534.4,1182.9 533.9,1180.3 533.4,1178 532.9,1175.4 532.4,1173.9 531.9,1170.6 531.4,1168.3 530.9,1166.1 530.4,1164.1 529.9,1162.1 529.4,1160.3 528.9,1157.9 528.4,1156.3 527.9,1153.9 527.4,1151.9 526.9,1150.2 526.4,1148.4 525.9,1146.4 525.4,1145.1 524.9,1142.9 524.4,1141.7 523.9,1139.6 523.4,1138.5 522.9,1136.6 522.4,1135.3 521.9,1134 521.4,1132.3 520.9,1130.7 520.4,1129.6 519.9,1127.9 519.4,1126.9 518.9,1125.3 518.4,1124.4 517.9,1122.7 517.4,1121.6 516.9,1120.3 516.4,1119.6 515.9,1118.5 515.4,1116.9 514.9,1115.7 514.4,1115 513.9,1113.5 513.4,1112.4 512.9,1111.5 512.4,1110.3 511.9,1109.4 511.4,1108.4 510.9,1107.5 510.4,1106.4 509.9,1105.7 509.4,1105.8 508.9,1103.9 508.4,1102.9 507.9,1102.7 507.4,1101.3 506.9,1100.5 506.4,1099.8 505.9,1099.4 505.4,1098.3 504.9,1098.2 504.4,1096.9 503.9,1096.6 503.4,1095.9 502.9,1095.3 502.4,1095.1 501.9,1093.7 501.4,1093.2 500.9,1093.3 500.4,1092.4 499.9,1091.9 499.4,1091.3 498.9,1091.5 498.4,1090.6 497.9,1090.4 497.4,1089.9 496.9,1089.4 496.4,1089 495.9,1088.5 495.4,1088.3 494.9,1088.2 494.4,1087.6 493.9,1087.7 493.4,1086.9 492.9,1087.3 492.4,1086.6 491.9,1086.4 491.4,1085.9 490.9,1086 490.4,1085.3 489.9,1085 489.4,1085 488.9,1084.4 488.4,1084 487.9,1084.1 487.4,1084 486.9,1083.9 486.4,1083.4 485.9,1083.4 485.4,1083.1 484.9,1083.2 484.4,1083.3 483.9,1082.9 483.4,1083.7 482.9,1083.4 482.4,1083.2 481.9,1082.9 481.4,1082.8 480.9,1082.9 480.4,1083.5 479.9,1082.9 479.4,1083.4 478.9,1082.9 478.4,1082.8 477.9,1083 477.4,1082.9 476.9,1083.1 476.4,1083 475.9,1083.3 475.4,1082.9 474.9,1083.8 474.4,1082.9 473.9,1082.9 473.4,1083.6 472.9,1082.7 472.4,1083.1 471.9,1082.9 471.4,1083.2 470.9,1082.9 470.4,1083.1 469.9,1083 469.4,1082.7 468.9,1082.8 468.4,1082.9 467.9,1082.7 467.4,1083.6 466.9,1083.3 466.4,1082.7 465.9,1083.5 465.4,1082.6 464.9,1083 464.4,1083 463.9,1082.9 463.4,1082.7 462.9,1083.2 462.4,1082.8 461.9,1083 461.4,1083.1 460.9,1083.1 460.4,1082.9 459.9,1083.1 459.4,1082.8 458.9,1082.8 458.4,1082.7 457.9,1082.8 457.4,1082.5 456.9,1082.9 456.4,1082.7 455.9,1082.8 455.4,1083.2 454.9,1082.5 454.4,1082.9 453.9,1082.7 453.4,1082.9 452.9,1082.8 452.4,1082.7 451.9,1082.8 451.4,1083.6 450.9,1083.1 450.4,1082.9 449.9,1082.7 449.4,1083.2 448.9,1082.7 448.4,1082.6 447.9,1082.6 447.4,1082.5 446.9,1082.8 446.4,1083 445.9,1082.5 445.4,1082.7 444.9,1082.7 444.4,1082.5 443.9,1082.6 443.4,1082.8 442.9,1082.5 442.4,1082.9 441.9,1082.9 441.4,1082.5 440.9,1082.5 440.4,1082.5 439.9,1082.7 439.4,1082.6 438.9,1082.9 438.4,1082.8 437.9,1082.6 437.4,1082.4 436.9,1082.5 436.4,1082.6 435.9,1083 435.4,1082.6 434.9,1082.9 434.4,1083.2 433.9,1082.5 433.4,1082.6 432.9,1083 432.4,1082.9 431.9,1082.5 431.4,1083.1 430.9,1082.8 430.4,1082.8 429.9,1083 429.4,1082.5 428.9,1083.3" fill="#08a0cd" stroke="#08a0cd" stroke-width="4" stroke-linejoin="round"/>
<text x="10.2" y="1130" font-size="26.1" fill="#0d0d0d">control</text>
<text x="189" y="1158.5" font-size="26.1" fill="#aad6ee">pBQ 1 min</text>
<text x="392.5" y="1182.5" font-size="26.1" fill="#08a0cd">pBQ 2 min</text>
<line x1="79.5" y1="1235" x2="79.5" y2="1400.5" stroke="#0d0d0d" stroke-width="2.3"/>
<line x1="71.1" y1="1235" x2="79.5" y2="1235" stroke="#0d0d0d" stroke-width="2.3"/>
<line x1="71.1" y1="1317.3" x2="79.5" y2="1317.3" stroke="#0d0d0d" stroke-width="2.3"/>
<line x1="71.1" y1="1399.3" x2="79.5" y2="1399.3" stroke="#0d0d0d" stroke-width="2.3"/>
<text x="72.1" y="1243.2" font-size="23" fill="#0d0d0d" text-anchor="end">5.0</text>
<text x="72.1" y="1325.5" font-size="23" fill="#0d0d0d" text-anchor="end">2.5</text>
<text x="72.1" y="1407.5" font-size="23" fill="#0d0d0d" text-anchor="end">0</text>
<line x1="106.6" y1="1351.8" x2="106.6" y2="1362.4" stroke="#0d0d0d" stroke-width="1.8"/>
<line x1="102.1" y1="1351.8" x2="111.1" y2="1351.8" stroke="#0d0d0d" stroke-width="1.8"/>
<rect x="88" y="1362.4" width="37.1" height="36.9" fill="#171717" stroke="#0d0d0d" stroke-width="1.9"/>
<line x1="171.2" y1="1243.7" x2="171.2" y2="1260.6" stroke="#0d0d0d" stroke-width="1.8"/>
<line x1="166.7" y1="1243.7" x2="175.7" y2="1243.7" stroke="#0d0d0d" stroke-width="1.8"/>
<rect x="152.8" y="1260.6" width="36.6" height="138.7" fill="#08a0cd" stroke="#0d0d0d" stroke-width="1.9"/>
<line x1="84.6" y1="1399.3" x2="196.3" y2="1399.3" stroke="#0d0d0d" stroke-width="2.3"/>
<text transform="translate(22 1317.6) rotate(-90)" font-size="26.3" fill="#0d0d0d" text-anchor="middle">max. current [nA]</text>
<text x="172.1" y="1234.2" font-size="30.5" fill="#0d0d0d" stroke="#0d0d0d" stroke-width="0.5" text-anchor="middle">*</text>
<text x="76.5" y="1435.5" font-size="26.1" fill="#0d0d0d" letter-spacing="-0.45">contr.</text>
<text x="144.3" y="1435.5" font-size="26.1" fill="#08a0cd">pBQ</text>
<line x1="301.1" y1="1233" x2="301.1" y2="1400.1" stroke="#0d0d0d" stroke-width="2.3"/>
<line x1="292.3" y1="1250.9" x2="301.1" y2="1250.9" stroke="#0d0d0d" stroke-width="2.3"/>
<line x1="292.3" y1="1340.2" x2="301.1" y2="1340.2" stroke="#0d0d0d" stroke-width="2.3"/>
<line x1="296.6" y1="1280.1" x2="301.1" y2="1280.1" stroke="#0d0d0d" stroke-width="1.7"/>
<line x1="296.6" y1="1310" x2="301.1" y2="1310" stroke="#0d0d0d" stroke-width="1.7"/>
<line x1="296.6" y1="1369.7" x2="301.1" y2="1369.7" stroke="#0d0d0d" stroke-width="1.7"/>
<text x="284.6" y="1259.1" font-size="23" fill="#0d0d0d" text-anchor="end">45</text>
<text x="284.6" y="1348.4" font-size="23" fill="#0d0d0d" text-anchor="end">30</text>
<line x1="327.5" y1="1257.2" x2="327.5" y2="1262.2" stroke="#0d0d0d" stroke-width="1.8"/>
<line x1="323" y1="1257.2" x2="332" y2="1257.2" stroke="#0d0d0d" stroke-width="1.8"/>
<rect x="309.3" y="1262.2" width="36.4" height="136.7" fill="#171717" stroke="#0d0d0d" stroke-width="1.9"/>
<line x1="391.8" y1="1328.2" x2="391.8" y2="1337.3" stroke="#0d0d0d" stroke-width="1.8"/>
<line x1="387.3" y1="1328.2" x2="396.3" y2="1328.2" stroke="#0d0d0d" stroke-width="1.8"/>
<rect x="373.4" y="1337.3" width="36.7" height="61.6" fill="#08a0cd" stroke="#0d0d0d" stroke-width="1.9"/>
<line x1="296.4" y1="1398.9" x2="418" y2="1398.9" stroke="#0d0d0d" stroke-width="2.3"/>
<text transform="translate(242.4 1314.7) rotate(-90)" font-size="26.3" fill="#0d0d0d" text-anchor="middle">threshold [°C]</text>
<text x="392.9" y="1321.5" font-size="30.5" fill="#0d0d0d" stroke="#0d0d0d" stroke-width="0.5" text-anchor="middle">*</text>
<text x="425.3" y="1394.2" font-size="22.9" fill="#0d0d0d">n = 7</text>
<text x="297.5" y="1435.5" font-size="26.1" fill="#0d0d0d" letter-spacing="-0.45">contr.</text>
<text x="365.5" y="1435.5" font-size="26.1" fill="#08a0cd">pBQ</text>
<polyline points="482.8,1262.9 482.8,1337 574.5,1337" fill="none" stroke="#0d0d0d" stroke-width="2"/>
<text transform="translate(474 1299.3) rotate(-90)" font-size="26.3" fill="#0d0d0d" text-anchor="middle">1.5 nA</text>
<text x="511.5" y="1368.5" font-size="26.1" fill="#0d0d0d">5 s</text>
</g>
<g>
<text x="620.5" y="917" font-size="46.8" fill="#0d0d0d">F</text>
<line x1="665" y1="949" x2="665" y2="1025.1" stroke="#0d0d0d" stroke-width="2.1"/>
<line x1="658" y1="949" x2="665" y2="949" stroke="#0d0d0d" stroke-width="2.1"/>
<line x1="658" y1="986.4" x2="665" y2="986.4" stroke="#0d0d0d" stroke-width="2.1"/>
<line x1="658" y1="1024.1" x2="665" y2="1024.1" stroke="#0d0d0d" stroke-width="2.1"/>
<line x1="661" y1="967.7" x2="665" y2="967.7" stroke="#0d0d0d" stroke-width="1.7"/>
<line x1="661" y1="1005.2" x2="665" y2="1005.2" stroke="#0d0d0d" stroke-width="1.7"/>
<text x="654.3" y="960.1" font-size="24.9" fill="#0d0d0d" text-anchor="end">45</text>
<text x="654.3" y="997.5" font-size="24.9" fill="#0d0d0d" text-anchor="end">35</text>
<text x="654.3" y="1035.2" font-size="24.9" fill="#0d0d0d" text-anchor="end">25</text>
<text x="671" y="950.2" font-size="28" fill="#0d0d0d">°C</text>
<polyline points="670,1025 722.5,1025 724.6,1022.3 726.7,1019.6 728.8,1016.9 730.8,1014.2 732.9,1011.5 735,1008.8 737.1,1006.1 739.2,1003.4 741.2,1000.7 743.3,998 745.4,995.3 747.5,992.6 749.6,989.9 751.7,987.2 753.8,984.5 755.8,981.8 757.9,979.1 760,976.4 762.1,973.7 764.2,971 766.2,968.3 768.3,965.6 770.4,962.9 772.5,960.2 774.6,957.5 776.7,954.8 778.8,952.1 780.8,949.4 782.9,946.7 785,944 785.6,946.8 786.2,950.1 786.8,953.7 787.4,957.9 788,962.8 788.6,968.2 789.2,973.6 789.8,978.5 790.4,982.8 791,986.9 791.6,990.8 792.2,994.3 792.8,997.2 793.4,999.4 794,1001.4 794.6,1003.2 795.2,1004.8 795.8,1006.2 796.4,1007.4 797,1008.5 797.6,1009.5 798.2,1010.4 798.8,1011.2 799.4,1012 800,1012.7 800.6,1013.4 801.2,1014 801.8,1014.5 802.4,1014.9 803,1015.3 803.6,1015.7 804.2,1016.1 804.8,1016.4 805.4,1016.7 806,1017 806.6,1017.3 807.2,1017.5 807.8,1017.8 808.4,1018 809,1018.2 809.6,1018.4 810.2,1018.6 810.8,1018.7 811.4,1018.9 812,1019 812.6,1019.2 813.2,1019.3 813.8,1019.5 814.4,1019.6 815,1019.7 815.6,1019.8 816.2,1020 816.8,1020.1 817.4,1020.2 818,1020.3 818.6,1020.3 819.2,1020.4 819.8,1020.5 820.4,1020.5 821,1020.6 821.6,1020.7 822.2,1020.7 822.8,1020.8 823.4,1020.8 824,1020.9 824.6,1021 825.2,1021 825.8,1021.1 826.4,1021.1 827,1021.2 827.6,1021.2 828.2,1021.3 828.8,1021.3 829.4,1021.4 830,1021.4 830.6,1021.5 831.2,1021.5 831.8,1021.6 832.4,1021.6 833,1021.7 833.6,1021.7 834.2,1021.8 834.8,1021.8 835.4,1021.9 836,1021.9 836.6,1021.9 837.2,1022 837.8,1022 838.4,1022.1 839,1022.1 839.6,1022.1 840.2,1022.2 840.8,1022.2 841.4,1022.2 842,1022.2 842.6,1022.3 843.2,1022.3 843.8,1022.3 844.4,1022.3 845,1022.4 845.6,1022.4 846.2,1022.4 846.8,1022.4 847.4,1022.4 848,1022.5 848.6,1022.5 849.2,1022.5 849.8,1022.5 850.4,1022.5 851,1022.5 851.6,1022.5 852.2,1022.5" fill="none" stroke="#0d0d0d" stroke-width="2.5" stroke-linejoin="round" stroke-linecap="round"/>
<polyline points="861.5,1025 915,1025 917,1022.8 919.1,1020.5 921.1,1018.2 923.2,1016 925.2,1013.8 927.3,1011.5 929.4,1009.2 931.4,1007 933.5,1004.8 935.5,1002.5 937.5,1000.2 939.6,998 941.6,995.8 943.7,993.5 945.8,991.2 947.8,989 949.9,986.8 951.9,984.5 954,982.2 956,980 958,977.8 960.1,975.5 962.1,973.2 964.2,971 966.2,968.8 968.3,966.5 970.4,964.2 972.4,962 974.5,959.8 976.5,957.5 977.1,960.4 977.7,963.5 978.3,966.8 978.9,970.5 979.5,974.7 980.1,979.1 980.7,983.2 981.3,986.7 981.9,990.2 982.5,993.5 983.1,996.5 983.7,999 984.3,1000.9 984.9,1002.6 985.5,1004.1 986.1,1005.4 986.7,1006.6 987.3,1007.7 987.9,1008.7 988.5,1009.6 989.1,1010.5 989.7,1011.4 990.3,1012.2 990.9,1012.9 991.5,1013.5 992.1,1014.1 992.7,1014.6 993.3,1015.1 993.9,1015.6 994.5,1016 995.1,1016.5 995.7,1016.8 996.3,1017.2 996.9,1017.5 997.5,1017.8 998.1,1018 998.7,1018.3 999.3,1018.5 999.9,1018.7 1000.5,1018.9 1001.1,1019.1 1001.7,1019.2 1002.3,1019.4 1002.9,1019.6 1003.5,1019.7 1004.1,1019.9 1004.7,1020 1005.3,1020.2 1005.9,1020.3 1006.5,1020.4 1007.1,1020.5 1007.7,1020.6 1008.3,1020.7 1008.9,1020.8 1009.5,1020.9 1010.1,1021 1010.7,1021.1 1011.3,1021.2 1011.9,1021.3 1012.5,1021.4 1013.1,1021.4 1013.7,1021.5 1014.3,1021.6 1014.9,1021.7 1015.5,1021.8 1016.1,1021.9 1016.7,1021.9 1017.3,1022 1017.9,1022.1 1018.5,1022.2 1019.1,1022.3 1019.7,1022.3 1020.3,1022.4 1020.9,1022.5 1021.5,1022.6 1022.1,1022.6 1022.7,1022.7 1023.3,1022.8 1023.9,1022.8 1024.5,1022.9 1025.1,1023 1025.7,1023 1026.3,1023.1 1026.9,1023.2 1027.5,1023.2 1028.1,1023.3 1028.7,1023.3 1029.3,1023.4 1029.9,1023.4 1030.5,1023.5 1031.1,1023.5 1031.7,1023.6 1032.3,1023.6 1032.9,1023.7 1033.5,1023.7 1034.1,1023.7 1034.7,1023.8 1035.3,1023.8 1035.9,1023.8 1036.5,1023.9 1037.1,1023.9 1037.7,1023.9 1038.3,1023.9 1038.9,1023.9 1039.5,1024 1040.1,1024 1040.7,1024 1041.3,1024 1041.9,1024 1042.5,1024" fill="none" stroke="#0d0d0d" stroke-width="2.5" stroke-linejoin="round" stroke-linecap="round"/>
<polyline points="1052.5,1025 1105,1025 1107.1,1022.8 1109.2,1020.6 1111.3,1018.4 1113.5,1016.1 1115.6,1013.9 1117.7,1011.7 1119.8,1009.5 1121.9,1007.3 1124,1005 1126.2,1002.8 1128.3,1000.6 1130.4,998.4 1132.5,996.2 1134.6,994 1136.8,991.8 1138.9,989.5 1141,987.3 1143.1,985.1 1145.2,982.9 1147.3,980.7 1149.5,978.5 1151.6,976.2 1153.7,974 1155.8,971.8 1157.9,969.6 1160,967.4 1162.2,965.1 1164.3,962.9 1166.4,960.7 1168.5,958.5 1169.1,961.1 1169.7,964.5 1170.3,968.6 1170.9,973.5 1171.5,980.1 1172.1,986.6 1172.7,991.4 1173.3,995.1 1173.9,998.3 1174.5,1001.1 1175.1,1003.4 1175.7,1005.3 1176.3,1007.1 1176.9,1008.7 1177.5,1010 1178.1,1011.2 1178.7,1012.2 1179.3,1013.2 1179.9,1014.1 1180.5,1014.9 1181.1,1015.6 1181.7,1016.2 1182.3,1016.7 1182.9,1017.2 1183.5,1017.7 1184.1,1018.1 1184.7,1018.5 1185.3,1018.8 1185.9,1019.1 1186.5,1019.4 1187.1,1019.7 1187.7,1019.9 1188.3,1020.1 1188.9,1020.3 1189.5,1020.5 1190.1,1020.6 1190.7,1020.8 1191.3,1021 1191.9,1021.1 1192.5,1021.3 1193.1,1021.4 1193.7,1021.5 1194.3,1021.7 1194.9,1021.8 1195.5,1021.9 1196.1,1022 1196.7,1022.1 1197.3,1022.2 1197.9,1022.3 1198.5,1022.4 1199.1,1022.4 1199.7,1022.5 1200.3,1022.5 1200.9,1022.6 1201.5,1022.6 1202.1,1022.7 1202.7,1022.7 1203.3,1022.8 1203.9,1022.8 1204.5,1022.8 1205.1,1022.9 1205.7,1022.9 1206.3,1023 1206.9,1023 1207.5,1023.1 1208.1,1023.1 1208.7,1023.1 1209.3,1023.2 1209.9,1023.2 1210.5,1023.2 1211.1,1023.3 1211.7,1023.3 1212.3,1023.4 1212.9,1023.4 1213.5,1023.4 1214.1,1023.5 1214.7,1023.5 1215.3,1023.5 1215.9,1023.5 1216.5,1023.6 1217.1,1023.6 1217.7,1023.6 1218.3,1023.7 1218.9,1023.7 1219.5,1023.7 1220.1,1023.7 1220.7,1023.7 1221.3,1023.8 1221.9,1023.8 1222.5,1023.8 1223.1,1023.8 1223.7,1023.8 1224.3,1023.9 1224.9,1023.9 1225.5,1023.9 1226.1,1023.9 1226.7,1023.9 1227.3,1023.9 1227.9,1023.9 1228.5,1024 1229.1,1024 1229.7,1024 1230.3,1024 1230.9,1024 1231.5,1024 1232.1,1024 1232.7,1024 1233.3,1024 1233.9,1024" fill="none" stroke="#0d0d0d" stroke-width="2.5" stroke-linejoin="round" stroke-linecap="round"/>
<line x1="770" y1="965" x2="770" y2="1072.5" stroke="#e8442c" stroke-width="1.7" stroke-dasharray="1.5 1.1"/>
<line x1="950.5" y1="987.5" x2="950.5" y2="1075" stroke="#e8442c" stroke-width="1.7" stroke-dasharray="1.5 1.1"/>
<line x1="1110" y1="1019" x2="1110" y2="1083" stroke="#e8442c" stroke-width="1.7" stroke-dasharray="1.5 1.1"/>
<polyline points="670,1072.7 670.5,1072.2 671,1072.8 671.5,1072.5 672,1072.2 672.5,1072.5 673,1072.5 673.5,1072.9 674,1072.7 674.5,1071.8 675,1072.1 675.5,1072.8 676,1072.6 676.5,1072.2 677,1072.4 677.5,1073 678,1071.8 678.5,1072.9 679,1072.8 679.5,1072.3 680,1072.4 680.5,1072.6 681,1072.5 681.5,1072.6 682,1072.9 682.5,1072.3 683,1072.5 683.5,1072.7 684,1072.4 684.5,1072.5 685,1073 685.5,1071.9 686,1072.6 686.5,1072.4 687,1072.2 687.5,1072.4 688,1072.6 688.5,1072.8 689,1072.3 689.5,1072.7 690,1073 690.5,1072.6 691,1072.7 691.5,1072.7 692,1072.7 692.5,1072.2 693,1072.9 693.5,1072.7 694,1073.1 694.5,1072.8 695,1072.3 695.5,1072.9 696,1072.9 696.5,1072.8 697,1072.4 697.5,1072.4 698,1072.9 698.5,1072.3 699,1072.8 699.5,1072.6 700,1072.3 700.5,1072.4 701,1072.4 701.5,1072.7 702,1072.3 702.5,1072.5 703,1072.5 703.5,1072.7 704,1072.8 704.5,1072.1 705,1072.7 705.5,1072.3 706,1072.5 706.5,1072.5 707,1073 707.5,1073 708,1072.5 708.5,1072.5 709,1073 709.5,1072.7 710,1073.1 710.5,1072.3 711,1072.9 711.5,1072.4 712,1071.7 712.5,1072.8 713,1072.3 713.5,1072.8 714,1072.5 714.5,1072.9 715,1072.1 715.5,1072.1 716,1073 716.5,1072.9 717,1072.6 717.5,1072.1 718,1072.8 718.5,1073.3 719,1072.4 719.5,1072.4 720,1072.3 720.5,1072.7 721,1072.5 721.5,1072.1 722,1072.3 722.5,1072.8 723,1072.2 723.5,1072.6 724,1072.9 724.5,1072.8 725,1072 725.5,1072.7 726,1072.2 726.5,1072 727,1072.7 727.5,1072.1 728,1072.5 728.5,1072.9 729,1072.7 729.5,1072.5 730,1072.9 730.5,1072.6 731,1072.8 731.5,1072.9 732,1072.3 732.5,1073.1 733,1072.5 733.5,1072.6 734,1072.6 734.5,1072.5 735,1072.5 735.5,1072.7 736,1072.4 736.5,1072.7 737,1072.8 737.5,1072.4 738,1072.5 738.5,1072.8 739,1072.6 739.5,1072.8 740,1072.6 740.5,1072.5 741,1072.5 741.5,1072.7 742,1073 742.5,1072.1 743,1072.5 743.5,1072.5 744,1072.4 744.5,1072.5 745,1073 745.5,1072.9 746,1072.4 746.5,1072.2 747,1072.8 747.5,1072.8 748,1072.3 748.5,1072.7 749,1072.8 749.5,1072.8 750,1072.5 750.5,1072.8 751,1072.6 751.5,1072.9 752,1072.7 752.5,1072.8 753,1072.7 753.5,1072.6 754,1072.7 754.5,1072.9 755,1072.6 755.5,1072.8 756,1073.4 756.5,1072.5 757,1072.3 757.5,1072.4 758,1072.6 758.5,1072.7 759,1072 759.5,1072.1 760,1072.9 760.5,1072.3 761,1072.9 761.5,1073.1 762,1071.8 762.5,1072.9 763,1072.8 763.5,1072.7 764,1073 764.5,1072.9 765,1073.1 765.5,1073.5 766,1073.1 766.5,1072.7 767,1073.5 767.5,1073.5 768,1073.7 768.5,1073.4 769,1073.6 769.5,1074 770,1073.5 770.5,1073.4 771,1074.1 771.5,1073.7 772,1074.2 772.5,1073.9 773,1074.1 773.5,1074.5 774,1074.7 774.5,1074.5 775,1075.5 775.5,1075.1 776,1075.7 776.5,1075.5 777,1075.8 777.5,1076.2 778,1076.8 778.5,1077.2 779,1077.8 779.5,1078.3 780,1079.2 780.5,1080 781,1080.4 781.5,1081.6 782,1083 782.5,1084.6 783,1086.3 783.5,1087.9 784,1089.9 784.5,1092.7 785,1096.4 785.5,1099.4 786,1102.1 786.5,1103.4 787,1101.3 787.5,1096.2 788,1091.9 788.5,1088.5 789,1085.8 789.5,1082.3 790,1081 790.5,1079.5 791,1078.5 791.5,1077.5 792,1075.7 792.5,1076.3 793,1075.7 793.5,1075.6 794,1075.1 794.5,1074.9 795,1074.5 795.5,1074.6 796,1073.6 796.5,1073.8 797,1073.4 797.5,1073.8 798,1073.6 798.5,1073.9 799,1073.4 799.5,1073.3 800,1073.2 800.5,1073 801,1072.6 801.5,1073.2 802,1073 802.5,1073 803,1072.7 803.5,1073.1 804,1072.7 804.5,1073.1 805,1072.9 805.5,1072.8 806,1072.4 806.5,1073 807,1073.1 807.5,1072.8 808,1072.7 808.5,1073 809,1073.1 809.5,1072.7 810,1073.6 810.5,1073.2 811,1073.2 811.5,1072.9 812,1072.9 812.5,1072.5 813,1072.7 813.5,1072.8 814,1073 814.5,1072.6 815,1072.5 815.5,1073.1 816,1072.8 816.5,1073 817,1072.7 817.5,1072.5 818,1072.7 818.5,1072 819,1073 819.5,1072.8 820,1073 820.5,1072.6 821,1073.2 821.5,1073 822,1072.1 822.5,1072.1 823,1072.7 823.5,1072.2 824,1072.6 824.5,1072.6 825,1072.5 825.5,1073.1 826,1072.8 826.5,1072.8 827,1072.7 827.5,1073.5 828,1073 828.5,1072.4 829,1072.8 829.5,1072.4 830,1072.5 830.5,1072.6 831,1072.2 831.5,1072 832,1072.2 832.5,1072.7 833,1071.7 833.5,1072.7 834,1071.9 834.5,1072.3 835,1072.4 835.5,1072.8 836,1072.5 836.5,1072.2 837,1072.4 837.5,1072.6 838,1072.9 838.5,1072.6 839,1072.5 839.5,1072.4 840,1073 840.5,1072.3 841,1072.4 841.5,1072.6 842,1072.9 842.5,1072 843,1072.8 843.5,1072.9 844,1072.6 844.5,1071.9 845,1072.3 845.5,1072.5 846,1072.6 846.5,1072.1 847,1072.4 847.5,1072.7 848,1072.3 848.5,1072.4 849,1072.4 849.5,1072.1 850,1072.4 850.5,1072.4 851,1072.7 851.5,1072.3 852,1072.1 852.5,1072.4" fill="none" stroke="#0d0d0d" stroke-width="3.9" stroke-linejoin="round" stroke-linecap="round"/>
<polyline points="861.5,1073.2 862,1073.7 862.5,1073.3 863,1073 863.5,1073.7 864,1073.5 864.5,1073.6 865,1073.6 865.5,1073.8 866,1073.2 866.5,1073.7 867,1073.5 867.5,1073.5 868,1073.5 868.5,1073.4 869,1073.6 869.5,1073.5 870,1073.7 870.5,1073.9 871,1073.2 871.5,1074.1 872,1073.8 872.5,1073.2 873,1073.5 873.5,1073.5 874,1073.9 874.5,1073.2 875,1074 875.5,1073.2 876,1073.4 876.5,1073.3 877,1073.1 877.5,1073.2 878,1073.3 878.5,1073.4 879,1073.3 879.5,1073.2 880,1072.8 880.5,1073.4 881,1074.1 881.5,1074 882,1073.9 882.5,1073.4 883,1073.7 883.5,1073.4 884,1073.4 884.5,1073.6 885,1073.9 885.5,1073.4 886,1073.4 886.5,1073.5 887,1073.1 887.5,1073.8 888,1073.9 888.5,1073.9 889,1073.8 889.5,1073.4 890,1073.5 890.5,1073.3 891,1073.7 891.5,1074.2 892,1073.3 892.5,1073.8 893,1074 893.5,1073.3 894,1074.2 894.5,1073.4 895,1073.6 895.5,1073.7 896,1073.9 896.5,1073.9 897,1073.5 897.5,1073.4 898,1072.9 898.5,1073.5 899,1074 899.5,1073.4 900,1073.8 900.5,1073.9 901,1073.7 901.5,1073.5 902,1073.5 902.5,1073.6 903,1073.1 903.5,1074.1 904,1073.4 904.5,1073.5 905,1073.5 905.5,1073.6 906,1073.8 906.5,1074.1 907,1073.8 907.5,1074.2 908,1073.6 908.5,1073.9 909,1074 909.5,1073.8 910,1073.9 910.5,1073.4 911,1074.1 911.5,1074 912,1073.8 912.5,1073.7 913,1074 913.5,1073.4 914,1074 914.5,1074.1 915,1074.5 915.5,1073.8 916,1074.2 916.5,1074 917,1073.3 917.5,1073.4 918,1073.7 918.5,1074.2 919,1074.3 919.5,1073.8 920,1074 920.5,1073.9 921,1073.1 921.5,1074.2 922,1074.3 922.5,1073.2 923,1073.6 923.5,1073.9 924,1073.9 924.5,1074.2 925,1074.3 925.5,1073.8 926,1074.1 926.5,1073.8 927,1073.9 927.5,1074 928,1074.1 928.5,1073.8 929,1074.6 929.5,1074.1 930,1074 930.5,1074.2 931,1073.8 931.5,1074.1 932,1073.3 932.5,1073.6 933,1074 933.5,1074 934,1074.1 934.5,1074 935,1074.4 935.5,1074.7 936,1074.2 936.5,1074.7 937,1074.5 937.5,1074.1 938,1074.1 938.5,1074.6 939,1075 939.5,1074.4 940,1074.1 940.5,1075.1 941,1075.3 941.5,1074.9 942,1075.4 942.5,1075.7 943,1074.9 943.5,1075.2 944,1075.2 944.5,1075.8 945,1075.3 945.5,1075.5 946,1076.1 946.5,1076.1 947,1076.2 947.5,1075.7 948,1076.3 948.5,1076.1 949,1076.7 949.5,1076.8 950,1077 950.5,1076.9 951,1077.2 951.5,1077.4 952,1077.5 952.5,1077.9 953,1077.7 953.5,1077.9 954,1078 954.5,1078.7 955,1079.3 955.5,1079.4 956,1079.1 956.5,1080.2 957,1080.5 957.5,1080.9 958,1081.6 958.5,1082.2 959,1083.1 959.5,1083.7 960,1084.6 960.5,1084.9 961,1085.3 961.5,1086.6 962,1086.7 962.5,1088.1 963,1088.5 963.5,1089.8 964,1091.5 964.5,1092.2 965,1094 965.5,1095.4 966,1096.7 966.5,1098.5 967,1100.2 967.5,1101.9 968,1103.8 968.5,1106.6 969,1108.8 969.5,1111.5 970,1114.4 970.5,1117.1 971,1120.1 971.5,1123.2 972,1126.6 972.5,1130.2 973,1134.1 973.5,1136.9 974,1139.9 974.5,1142.6 975,1145.3 975.5,1149 976,1150.9 976.5,1151.9 977,1148.2 977.5,1141.9 978,1134.8 978.5,1128.3 979,1119.6 979.5,1111.2 980,1105 980.5,1100.4 981,1095.6 981.5,1092.3 982,1088.9 982.5,1087 983,1085.6 983.5,1084 984,1082.5 984.5,1081.5 985,1081 985.5,1079.9 986,1079.1 986.5,1079 987,1078.6 987.5,1078.4 988,1078.1 988.5,1077.8 989,1077.5 989.5,1077.7 990,1077.4 990.5,1077.4 991,1077 991.5,1076.8 992,1076.9 992.5,1076.3 993,1076.3 993.5,1076.8 994,1076.4 994.5,1076.2 995,1076.1 995.5,1076.4 996,1075.9 996.5,1076.6 997,1076.2 997.5,1075.6 998,1075.9 998.5,1075.8 999,1076.2 999.5,1076.2 1000,1075.9 1000.5,1075.8 1001,1076.1 1001.5,1075.8 1002,1076.3 1002.5,1075.7 1003,1076 1003.5,1075.3 1004,1076 1004.5,1075.7 1005,1076 1005.5,1076.2 1006,1075.8 1006.5,1075.1 1007,1075.2 1007.5,1075.8 1008,1075.5 1008.5,1075.5 1009,1076.1 1009.5,1075.7 1010,1076 1010.5,1076 1011,1075.6 1011.5,1075.8 1012,1075.4 1012.5,1075.8 1013,1075.7 1013.5,1076.2 1014,1075.9 1014.5,1075.6 1015,1075.5 1015.5,1075.6 1016,1075.7 1016.5,1075.9 1017,1075.9 1017.5,1075.3 1018,1075.3 1018.5,1075.7 1019,1075.3 1019.5,1075.6 1020,1075.1 1020.5,1075.5 1021,1075.5 1021.5,1075.5 1022,1075.4 1022.5,1075.7 1023,1075.8 1023.5,1075.8 1024,1075.5 1024.5,1075.5 1025,1075.4 1025.5,1075.3 1026,1075.5 1026.5,1075.5 1027,1075.5 1027.5,1075.6 1028,1075.8 1028.5,1075.3 1029,1075.5 1029.5,1075.7 1030,1075.6 1030.5,1075.3 1031,1075.2 1031.5,1075.7 1032,1075.2 1032.5,1075.6 1033,1075.2 1033.5,1076 1034,1075.2 1034.5,1076 1035,1075.7 1035.5,1075.9 1036,1075.9 1036.5,1075.7 1037,1075.4 1037.5,1076.2 1038,1075.4 1038.5,1075.6 1039,1075.1 1039.5,1075.5 1040,1075.7 1040.5,1075.3 1041,1075.5 1041.5,1075.4 1042,1075.4 1042.5,1075.7" fill="none" stroke="#b6edbc" stroke-width="4.4" stroke-linejoin="round" stroke-linecap="round"/>
<polygon points="1052.1,1081.1 1052.6,1081.1 1053.1,1080.7 1053.6,1081.2 1054.1,1081 1054.6,1081.2 1055.1,1081.1 1055.6,1081 1056.1,1080.5 1056.6,1081.2 1057.1,1080.6 1057.6,1081.3 1058.1,1081.3 1058.6,1081 1059.1,1080.6 1059.6,1081.3 1060.1,1081.3 1060.6,1080.7 1061.1,1081.1 1061.6,1080.3 1062.1,1081.3 1062.6,1081.1 1063.1,1081.2 1063.6,1081.4 1064.1,1081.2 1064.6,1081.2 1065.1,1080.6 1065.6,1080.8 1066.1,1081.3 1066.6,1081.2 1067.1,1080.8 1067.6,1081 1068.1,1081 1068.6,1081.1 1069.1,1081 1069.6,1081.2 1070.1,1080.9 1070.6,1080.9 1071.1,1081.3 1071.6,1081.1 1072.1,1080.9 1072.6,1081 1073.1,1081.4 1073.6,1081 1074.1,1081 1074.6,1081 1075.1,1081.4 1075.6,1080.4 1076.1,1080.8 1076.6,1080.9 1077.1,1081 1077.6,1081.4 1078.1,1081.2 1078.6,1081.3 1079.1,1081.1 1079.6,1080.7 1080.1,1081.3 1080.6,1081.1 1081.1,1081.2 1081.6,1081.3 1082.1,1081.4 1082.6,1081.2 1083.1,1081.5 1083.6,1081.4 1084.1,1081.6 1084.6,1081.4 1085.1,1081.6 1085.6,1081.1 1086.1,1081.3 1086.6,1081.4 1087.1,1081.4 1087.6,1081.4 1088.1,1081.5 1088.6,1081.5 1089.1,1081.4 1089.6,1081.2 1090.1,1081.7 1090.6,1081.6 1091.1,1081.5 1091.6,1081.6 1092.1,1081.4 1092.6,1081.7 1093.1,1081.2 1093.6,1081.6 1094.1,1081.6 1094.6,1081.7 1095.1,1081.5 1095.6,1081.7 1096.1,1081.8 1096.6,1081.5 1097.1,1081.8 1097.6,1081.6 1098.1,1081.2 1098.6,1081.5 1099.1,1081.6 1099.6,1081.7 1100.1,1081.7 1100.6,1081.7 1101.1,1081.7 1101.6,1081.6 1102.1,1081.5 1102.6,1081.8 1103.1,1081.7 1103.6,1081.7 1104.1,1082.2 1104.6,1082.2 1105.1,1082.4 1105.6,1082.6 1106.1,1082.2 1106.6,1082.7 1107.1,1083 1107.6,1083.3 1108.1,1083.3 1108.6,1083.4 1109.1,1083.8 1109.6,1084 1110.1,1084.2 1110.6,1083.6 1111.1,1084.6 1111.6,1084.5 1112.1,1085.2 1112.6,1085.4 1113.1,1086 1113.6,1085.8 1114.1,1086.9 1114.6,1087.2 1115.1,1087.8 1115.6,1088.3 1116.1,1088.4 1116.6,1089.2 1117.1,1089.5 1117.6,1090.3 1118.1,1090.7 1118.6,1091.3 1119.1,1091.8 1119.6,1092 1120.1,1092.5 1120.6,1093.7 1121.1,1094.4 1121.6,1095 1122.1,1095.8 1122.6,1096.4 1123.1,1096.8 1123.6,1097.3 1124.1,1098.2 1124.6,1099.5 1125.1,1099.7 1125.6,1100.9 1126.1,1101.5 1126.6,1102.6 1127.1,1103.1 1127.6,1104 1128.1,1104.3 1128.6,1106 1129.1,1106.6 1129.6,1108 1130.1,1108.9 1130.6,1109.7 1131.1,1110.9 1131.6,1111.9 1132.1,1112 1132.6,1113.2 1133.1,1115.3 1133.6,1116.3 1134.1,1117.2 1134.6,1118.3 1135.1,1119.7 1135.6,1120.5 1136.1,1121.6 1136.6,1123.4 1137.1,1124.5 1137.6,1125.6 1138.1,1127.1 1138.6,1128.7 1139.1,1130 1139.6,1131.4 1140.1,1133.2 1140.6,1134.6 1141.1,1136.3 1141.6,1137.7 1142.1,1139.6 1142.6,1141.2 1143.1,1143.1 1143.6,1144.7 1144.1,1146.7 1144.6,1149.1 1145.1,1151.3 1145.6,1153.3 1146.1,1155.6 1146.6,1157.9 1147.1,1160.4 1147.6,1162.4 1148.1,1164.9 1148.6,1167.2 1149.1,1169.9 1149.6,1172.3 1150.1,1175.3 1150.6,1177.9 1151.1,1180.6 1151.6,1183.5 1152.1,1186.5 1152.6,1189.5 1153.1,1192.6 1153.6,1195.4 1154.1,1199 1154.6,1202.3 1155.1,1205.7 1155.6,1209.2 1156.1,1212.5 1156.6,1215.8 1157.1,1218.9 1157.6,1222.9 1158.1,1226.4 1158.6,1229.8 1159.1,1233.5 1159.6,1237.4 1160.1,1240.8 1160.6,1245.1 1161.1,1249.1 1161.6,1253.4 1162.1,1256.9 1162.6,1261.8 1163.1,1265.7 1163.6,1268.8 1164.1,1274 1164.6,1278.2 1165.1,1281.9 1165.6,1286.6 1166.1,1291.7 1166.6,1299.6 1167.1,1309.9 1167.6,1319.3 1168.1,1320.9 1168.6,1290.8 1169.1,1251.2 1169.6,1210.9 1170.1,1185.8 1170.6,1165.4 1171.1,1149.2 1171.6,1136.2 1172.1,1125 1172.6,1116.6 1173.1,1111.2 1173.6,1106.3 1174.1,1102.2 1174.6,1099.5 1175.1,1097.4 1175.6,1095.6 1176.1,1094.5 1176.6,1093.5 1177.1,1092.3 1177.6,1091.5 1178.1,1090.5 1178.6,1089.8 1179.1,1089.6 1179.6,1089.1 1180.1,1088.7 1180.6,1088.8 1181.1,1088.6 1181.6,1088 1182.1,1087.5 1182.6,1087.8 1183.1,1087.5 1183.6,1087.3 1184.1,1086.9 1184.6,1087.1 1185.1,1086.7 1185.6,1086.7 1186.1,1087 1186.6,1086.6 1187.1,1086.8 1187.6,1086.6 1188.1,1086.6 1188.6,1086 1189.1,1086.3 1189.6,1086.4 1190.1,1086.3 1190.6,1086.1 1191.1,1086.4 1191.6,1086.4 1192.1,1086.3 1192.6,1086.1 1193.1,1085.5 1193.6,1085.9 1194.1,1086.2 1194.6,1086.1 1195.1,1085.3 1195.6,1086 1196.1,1085.7 1196.6,1085.9 1197.1,1085.9 1197.6,1085.7 1198.1,1085.9 1198.6,1086 1199.1,1085.3 1199.6,1085.7 1200.1,1085.4 1200.6,1085.8 1201.1,1085.7 1201.6,1085.8 1202.1,1086 1202.6,1085.6 1203.1,1085.7 1203.6,1085.8 1204.1,1085.6 1204.6,1086 1205.1,1085.6 1205.6,1085.9 1206.1,1085.4 1206.6,1085.5 1207.1,1085.9 1207.6,1085.5 1208.1,1085.6 1208.6,1085.6 1209.1,1085.8 1209.6,1085.6 1210.1,1085.9 1210.6,1085.6 1211.1,1085.4 1211.6,1085.5 1212.1,1085.7 1212.6,1085.3 1213.1,1085.5 1213.6,1085.7 1214.1,1085.8 1214.6,1085.7 1215.1,1085.4 1215.6,1085.4 1216.1,1085.9 1216.6,1085.8 1217.1,1085.7 1217.6,1085.5 1218.1,1085.4 1218.6,1085.7 1219.1,1085.7 1219.6,1085.4 1220.1,1085 1220.6,1085.6 1221.1,1085.9 1221.6,1085.7 1222.1,1085.9 1222.6,1085.8 1223.1,1085.8 1223.6,1085.4 1224.1,1085.9 1224.6,1085.9 1225.1,1085.1 1225.6,1085.4 1226.1,1085.8 1226.6,1085.5 1227.1,1085.9 1227.6,1085.6 1228.1,1085.9 1228.6,1085.5 1229.1,1085.5 1229.6,1085.7 1230.1,1085.9 1230.6,1085.7 1231.1,1085.4 1231.6,1085.7 1232.1,1085.6 1232.6,1085.3 1233.1,1085.6 1233.6,1085.9 1234.1,1085.8 1234.6,1085.9 1235.1,1085.8 1235.1,1092.1 1234.6,1092 1234.1,1092.2 1233.6,1092.1 1233.1,1092.2 1232.6,1092 1232.1,1092.6 1231.6,1092.5 1231.1,1092 1230.6,1092 1230.1,1092.2 1229.6,1092.1 1229.1,1092.3 1228.6,1092.3 1228.1,1092.5 1227.6,1092.2 1227.1,1092 1226.6,1092 1226.1,1092.1 1225.6,1092.1 1225.1,1092 1224.6,1092.3 1224.1,1091.9 1223.6,1091.8 1223.1,1092.2 1222.6,1092 1222.1,1092.3 1221.6,1092.4 1221.1,1091.9 1220.6,1092 1220.1,1091.9 1219.6,1091.9 1219.1,1091.9 1218.6,1091.9 1218.1,1092 1217.6,1092.2 1217.1,1091.8 1216.6,1092 1216.1,1092.5 1215.6,1091.9 1215.1,1091.9 1214.6,1092.1 1214.1,1092.2 1213.6,1092.9 1213.1,1091.9 1212.6,1092.1 1212.1,1092 1211.6,1092 1211.1,1092 1210.6,1092.8 1210.1,1092.3 1209.6,1092.3 1209.1,1092.1 1208.6,1092.9 1208.1,1091.9 1207.6,1092 1207.1,1092.5 1206.6,1091.9 1206.1,1092.2 1205.6,1092.2 1205.1,1092 1204.6,1092.4 1204.1,1092.5 1203.6,1091.9 1203.1,1092.3 1202.6,1092 1202.1,1092.2 1201.6,1092.2 1201.1,1092.1 1200.6,1092 1200.1,1092 1199.6,1091.8 1199.1,1091.9 1198.6,1092 1198.1,1092.2 1197.6,1092.3 1197.1,1092.1 1196.6,1092.2 1196.1,1092.4 1195.6,1092 1195.1,1092.3 1194.6,1092.2 1194.1,1092.1 1193.6,1092.1 1193.1,1092.1 1192.6,1092.1 1192.1,1092.7 1191.6,1092.5 1191.1,1092.1 1190.6,1092.6 1190.1,1092.7 1189.6,1092.6 1189.1,1092.5 1188.6,1092.7 1188.1,1092.8 1187.6,1092.8 1187.1,1092.6 1186.6,1092.6 1186.1,1092.6 1185.6,1092.4 1185.1,1092.7 1184.6,1093.1 1184.1,1093 1183.6,1092.8 1183.1,1093.3 1182.6,1093.1 1182.1,1093.3 1181.6,1093.8 1181.1,1094 1180.6,1093.9 1180.1,1095 1179.6,1094.4 1179.1,1095.2 1178.6,1095.2 1178.1,1095.6 1177.6,1096.4 1177.1,1097.1 1176.6,1097.8 1176.1,1098.5 1175.6,1099.2 1175.1,1100.5 1174.6,1102.8 1174.1,1105 1173.6,1109.1 1173.1,1112.4 1172.6,1117.8 1172.1,1126.3 1171.6,1137.5 1171.1,1150.7 1170.6,1166.9 1170.1,1187.4 1169.6,1212.8 1169.1,1253.3 1168.6,1292.9 1168.1,1323.8 1167.6,1321.6 1167.1,1312.5 1166.6,1302.4 1166.1,1296 1165.6,1290.8 1165.1,1286.2 1164.6,1282.3 1164.1,1279.2 1163.6,1275.7 1163.1,1271.6 1162.6,1267.7 1162.1,1263.9 1161.6,1260.2 1161.1,1256.6 1160.6,1253.2 1160.1,1249.7 1159.6,1246.1 1159.1,1241.9 1158.6,1238.6 1158.1,1235.1 1157.6,1231.3 1157.1,1227.7 1156.6,1224.7 1156.1,1220.9 1155.6,1218 1155.1,1214.1 1154.6,1211.6 1154.1,1208 1153.6,1204.8 1153.1,1201.6 1152.6,1198.2 1152.1,1195.2 1151.6,1192.3 1151.1,1189.9 1150.6,1187.1 1150.1,1184.5 1149.6,1181.4 1149.1,1179 1148.6,1177 1148.1,1174 1147.6,1171.8 1147.1,1169.1 1146.6,1166.8 1146.1,1164.7 1145.6,1162.6 1145.1,1160.4 1144.6,1158.2 1144.1,1156.4 1143.6,1154.6 1143.1,1152.8 1142.6,1150.7 1142.1,1148.7 1141.6,1147.6 1141.1,1145.4 1140.6,1144.2 1140.1,1142.4 1139.6,1141 1139.1,1139.9 1138.6,1137.9 1138.1,1136.3 1137.6,1135.4 1137.1,1133.6 1136.6,1132.6 1136.1,1131.2 1135.6,1129.9 1135.1,1128.5 1134.6,1127.3 1134.1,1126.3 1133.6,1124.8 1133.1,1124 1132.6,1122.5 1132.1,1121.4 1131.6,1120.2 1131.1,1119.5 1130.6,1118.4 1130.1,1117.3 1129.6,1116.3 1129.1,1114.9 1128.6,1114.2 1128.1,1113.4 1127.6,1112.9 1127.1,1111.5 1126.6,1110.8 1126.1,1109.7 1125.6,1108.6 1125.1,1107.7 1124.6,1106.9 1124.1,1106.4 1123.6,1105.7 1123.1,1105.3 1122.6,1103.7 1122.1,1103.2 1121.6,1102.4 1121.1,1101.5 1120.6,1100.6 1120.1,1100.5 1119.6,1099.4 1119.1,1099 1118.6,1098.5 1118.1,1097.7 1117.6,1097.3 1117.1,1096.4 1116.6,1096.4 1116.1,1095.2 1115.6,1095.4 1115.1,1094.5 1114.6,1094.2 1114.1,1093.4 1113.6,1092.6 1113.1,1092.8 1112.6,1092.3 1112.1,1092.4 1111.6,1091.7 1111.1,1090.7 1110.6,1090.5 1110.1,1090.4 1109.6,1090.7 1109.1,1089.6 1108.6,1089.7 1108.1,1089.8 1107.6,1089 1107.1,1089.3 1106.6,1088.8 1106.1,1089.1 1105.6,1088.6 1105.1,1088.4 1104.6,1088.4 1104.1,1087.9 1103.6,1088.2 1103.1,1088.1 1102.6,1088 1102.1,1087.8 1101.6,1088.1 1101.1,1088.2 1100.6,1087.6 1100.1,1087.9 1099.6,1087.7 1099.1,1087.5 1098.6,1087.8 1098.1,1087.5 1097.6,1088.4 1097.1,1087.5 1096.6,1087.4 1096.1,1087.7 1095.6,1087.6 1095.1,1087.5 1094.6,1088.4 1094.1,1087.5 1093.6,1087.7 1093.1,1087.5 1092.6,1087.8 1092.1,1087.2 1091.6,1087.3 1091.1,1087.2 1090.6,1087.6 1090.1,1088.1 1089.6,1087.3 1089.1,1087.1 1088.6,1087.4 1088.1,1087.2 1087.6,1087.2 1087.1,1087.8 1086.6,1087.2 1086.1,1087.3 1085.6,1087.1 1085.1,1087.1 1084.6,1087.1 1084.1,1087.6 1083.6,1087.1 1083.1,1087.8 1082.6,1087.4 1082.1,1087.7 1081.6,1087 1081.1,1087.6 1080.6,1087.3 1080.1,1087.5 1079.6,1087 1079.1,1086.9 1078.6,1087.3 1078.1,1087.1 1077.6,1087.4 1077.1,1086.9 1076.6,1087.5 1076.1,1087.3 1075.6,1087.6 1075.1,1087.1 1074.6,1086.9 1074.1,1086.9 1073.6,1087.2 1073.1,1087.1 1072.6,1087.3 1072.1,1086.9 1071.6,1087 1071.1,1087 1070.6,1086.8 1070.1,1086.9 1069.6,1087.1 1069.1,1086.9 1068.6,1086.7 1068.1,1086.7 1067.6,1087.2 1067.1,1087.1 1066.6,1087.7 1066.1,1087 1065.6,1086.9 1065.1,1086.9 1064.6,1086.8 1064.1,1087.1 1063.6,1087.1 1063.1,1086.9 1062.6,1086.7 1062.1,1086.7 1061.6,1086.8 1061.1,1086.7 1060.6,1086.7 1060.1,1087.2 1059.6,1087.3 1059.1,1086.7 1058.6,1086.9 1058.1,1087.1 1057.6,1086.7 1057.1,1087 1056.6,1086.8 1056.1,1086.8 1055.6,1087.2 1055.1,1087.6 1054.6,1087.9 1054.1,1086.9 1053.6,1086.8 1053.1,1086.7 1052.6,1087.1 1052.1,1086.7" fill="#64b2a0" stroke="#64b2a0" stroke-width="3.4" stroke-linejoin="round"/>
<text x="630.2" y="1130" font-size="26.1" fill="#0d0d0d">control</text>
<text x="807.3" y="1160" font-size="26.1" fill="#b6edbc">NAPQI 30 s</text>
<text x="981.7" y="1182.5" font-size="26.1" fill="#64b2a0">NAPQI 1 min</text>
<line x1="704.5" y1="1234.8" x2="704.5" y2="1399.7" stroke="#0d0d0d" stroke-width="2.3"/>
<line x1="695.5" y1="1234.8" x2="704.5" y2="1234.8" stroke="#0d0d0d" stroke-width="2.3"/>
<line x1="695.5" y1="1317" x2="704.5" y2="1317" stroke="#0d0d0d" stroke-width="2.3"/>
<line x1="695.5" y1="1398.5" x2="704.5" y2="1398.5" stroke="#0d0d0d" stroke-width="2.3"/>
<text x="696.4" y="1243" font-size="23" fill="#0d0d0d" text-anchor="end">3.0</text>
<text x="696.4" y="1325.2" font-size="23" fill="#0d0d0d" text-anchor="end">1.5</text>
<text x="696.4" y="1406.7" font-size="23" fill="#0d0d0d" text-anchor="end">0</text>
<line x1="731.5" y1="1342.5" x2="731.5" y2="1351.8" stroke="#0d0d0d" stroke-width="1.8"/>
<line x1="727" y1="1342.5" x2="736" y2="1342.5" stroke="#0d0d0d" stroke-width="1.8"/>
<rect x="712.9" y="1351.8" width="37.3" height="46.7" fill="#171717" stroke="#0d0d0d" stroke-width="1.9"/>
<line x1="796.1" y1="1236.2" x2="796.1" y2="1256.1" stroke="#0d0d0d" stroke-width="1.8"/>
<line x1="791.6" y1="1236.2" x2="800.6" y2="1236.2" stroke="#0d0d0d" stroke-width="1.8"/>
<rect x="778" y="1256.1" width="36.4" height="142.4" fill="#64b2a0" stroke="#0d0d0d" stroke-width="1.9"/>
<line x1="709" y1="1398.5" x2="822.1" y2="1398.5" stroke="#0d0d0d" stroke-width="2.3"/>
<text transform="translate(648.6 1314.6) rotate(-90)" font-size="26.3" fill="#0d0d0d" text-anchor="middle">max. current [nA]</text>
<text x="797.5" y="1230.3" font-size="30.5" fill="#0d0d0d" stroke="#0d0d0d" stroke-width="0.5" text-anchor="middle">*</text>
<text x="701.7" y="1435.7" font-size="26.1" fill="#0d0d0d" letter-spacing="-0.45">contr.</text>
<text x="770.8" y="1435.7" font-size="26.1" fill="#64b2a0">NAPQI</text>
<line x1="925.6" y1="1233.9" x2="925.6" y2="1399.7" stroke="#0d0d0d" stroke-width="2.3"/>
<line x1="917.5" y1="1251" x2="925.6" y2="1251" stroke="#0d0d0d" stroke-width="2.3"/>
<line x1="917.5" y1="1339.9" x2="925.6" y2="1339.9" stroke="#0d0d0d" stroke-width="2.3"/>
<line x1="921.1" y1="1280.8" x2="925.6" y2="1280.8" stroke="#0d0d0d" stroke-width="1.7"/>
<line x1="921.1" y1="1310.5" x2="925.6" y2="1310.5" stroke="#0d0d0d" stroke-width="1.7"/>
<line x1="921.1" y1="1369.6" x2="925.6" y2="1369.6" stroke="#0d0d0d" stroke-width="1.7"/>
<line x1="920.8" y1="1398.5" x2="925.6" y2="1398.5" stroke="#0d0d0d" stroke-width="2.3"/>
<text x="909.8" y="1259.2" font-size="23" fill="#0d0d0d" text-anchor="end">45</text>
<text x="909.8" y="1348.1" font-size="23" fill="#0d0d0d" text-anchor="end">30</text>
<line x1="952.4" y1="1258.2" x2="952.4" y2="1260.7" stroke="#0d0d0d" stroke-width="1.8"/>
<line x1="947.9" y1="1258.2" x2="956.9" y2="1258.2" stroke="#0d0d0d" stroke-width="1.8"/>
<rect x="934" y="1260.7" width="36.9" height="137.8" fill="#171717" stroke="#0d0d0d" stroke-width="1.9"/>
<line x1="1016.9" y1="1341.2" x2="1016.9" y2="1344.4" stroke="#0d0d0d" stroke-width="1.8"/>
<line x1="1012.4" y1="1341.2" x2="1021.4" y2="1341.2" stroke="#0d0d0d" stroke-width="1.8"/>
<rect x="998.7" y="1344.4" width="36.5" height="54.1" fill="#64b2a0" stroke="#0d0d0d" stroke-width="1.9"/>
<line x1="930.5" y1="1398.5" x2="1042.9" y2="1398.5" stroke="#0d0d0d" stroke-width="2.3"/>
<text transform="translate(867.5 1315.7) rotate(-90)" font-size="26.3" fill="#0d0d0d" text-anchor="middle">threshold [°C]</text>
<text x="1017.7" y="1330" font-size="30.5" fill="#0d0d0d" stroke="#0d0d0d" stroke-width="0.5" text-anchor="middle">*</text>
<text x="1048.4" y="1393.9" font-size="22.9" fill="#0d0d0d">n = 7</text>
<text x="921.9" y="1435.7" font-size="26.1" fill="#0d0d0d" letter-spacing="-0.45">contr.</text>
<text x="990.5" y="1435.7" font-size="26.1" fill="#64b2a0">NAPQI</text>
<polyline points="1120.5,1278.5 1120.5,1350.9 1210,1350.9" fill="none" stroke="#0d0d0d" stroke-width="2"/>
<text transform="translate(1109.8 1314.7) rotate(-90)" font-size="26.3" fill="#0d0d0d" text-anchor="middle">1 nA</text>
<text x="1150" y="1384.8" font-size="26.1" fill="#0d0d0d">5 s</text>
</g>
<g>
<text x="2.3" y="1489.5" font-size="46.8" fill="#0d0d0d">G</text>
<text x="247.2" y="1482.5" font-size="26.1" fill="#08a0cd">pBQ 1.5 min</text>
<text x="617.8" y="1482.5" font-size="26.1" fill="#f9c10a" text-anchor="end">capsaicin</text>
<text x="617.8" y="1510" font-size="26.1" fill="#f9c10a" text-anchor="end">0.1 µM</text>
<rect x="92.5" y="1498.5" width="126.5" height="8.5" fill="#f9c10a"/>
<rect x="443" y="1498.5" width="87" height="8.5" fill="#f9c10a"/>
<polyline points="4,1532.1 4.6,1531.9 5.2,1532.5 5.8,1532.1 6.4,1532.2 7,1531.7 7.6,1531.7 8.2,1532.1 8.8,1531.3 9.4,1532.6 10,1531.8 10.6,1531.8 11.2,1531.7 11.8,1532 12.4,1532.2 13,1532.2 13.6,1531.6 14.2,1531.4 14.8,1531.8 15.4,1531.8 16,1531.5 16.6,1532.4 17.2,1531.4 17.8,1531.5 18.4,1532.3 19,1531.7 19.6,1531.7 20.2,1531.4 20.8,1531.3 21.4,1531.5 22,1531 22.6,1532.1 23.2,1531.9 23.8,1532.6 24.4,1531.7 25,1531.5 25.6,1532.2 26.2,1531.5 26.8,1532.2 27.4,1531.5 28,1530.9 28.6,1531.6 29.2,1531.6 29.8,1531.9 30.4,1531.5 31,1531.8 31.6,1531.8 32.2,1531.3 32.8,1531.2 33.4,1531.3 34,1530.9 34.6,1531.7 35.2,1531.9 35.8,1531.5 36.4,1531.3 37,1531.1 37.6,1531.9 38.2,1532.1 38.8,1530.6 39.4,1532.5 40,1532.3 40.6,1531.4 41.2,1531.6 41.8,1531.7 42.4,1531.8 43,1531.4 43.6,1531.8 44.2,1531.9 44.8,1532.6 45.4,1531.5 46,1531.3 46.6,1532 47.2,1531.5 47.8,1531.6 48.4,1531.6 49,1531.4 49.6,1531.3 50.2,1531.3 50.8,1531.2 51.4,1531.3 52,1532.3 52.6,1531.5 53.2,1531.2 53.8,1531.1 54.4,1532 55,1531.3 55.6,1531.6 56.2,1530.8 56.8,1530.6 57.4,1531.6 58,1530.8 58.6,1531.6 59.2,1531.9 59.8,1531.1 60.4,1531.3 61,1531.3 61.6,1531.2 62.2,1531.3 62.8,1531.3 63.4,1531.4 64,1531.5 64.6,1531.7 65.2,1531.7 65.8,1531.5 66.4,1531.2 67,1531.7 67.6,1531.9 68.2,1531.6 68.8,1531.3 69.4,1532.4 70,1530.5 70.6,1531.8 71.2,1531.6 71.8,1532.2 72.4,1532.3 73,1531.8 73.6,1531.3 74.2,1531.8 74.8,1531 75.4,1531.5 76,1531.2 76.6,1531.7 77.2,1530.8 77.8,1531.4 78.4,1531.6 79,1531.4 79.6,1531.4 80.2,1531.2 80.8,1531.4 81.4,1532.1 82,1531.3 82.6,1531 83.2,1531.1 83.8,1531.3 84.4,1531.8 85,1531.4 85.6,1531.8 86.2,1532.1 86.8,1531.1 87.4,1531.6 88,1531.4 88.6,1531.9 89.2,1531.9 89.8,1531.7 90.4,1531 91,1531.4 91.6,1531.5 92.2,1531.5 92.8,1531.2 93.4,1531.6 94,1531.7 94.6,1531.6 95.2,1531.2 95.8,1531.3 96.4,1531 97,1531.2 97.6,1531.8 98.2,1531.4 98.8,1531.4 99.4,1532 100,1531.3 100.6,1531.5 101.2,1530.9 101.8,1531.9 102.4,1531.4 103,1531.8 103.6,1531.8 104.2,1531.5 104.8,1531.7 105.4,1530.9 106,1531.3 106.6,1530.7 107.2,1531.9 107.8,1531.8 108.4,1532.1 109,1532.1 109.6,1532.2 110.2,1531.4 110.8,1530.9 111.4,1531.3 112,1532.4 112.6,1531.7 113.2,1532 113.8,1531.8 114.4,1531.8 115,1531.4 115.6,1531 116.2,1531.9 116.8,1531.1 117.4,1532.2 118,1531.8 118.6,1531.8 119.2,1531.5 119.8,1530.8 120.4,1531.1 121,1531.9 121.6,1531 122.2,1531 122.8,1532.2 123.4,1530.6 124,1531.5 124.6,1531.7 125.2,1532.4 125.8,1532 126.4,1531.7 127,1530.8 127.6,1531.4 128.2,1530.8 128.8,1531.7 129.4,1531 130,1532 130.6,1531.8 131.2,1531.3 131.8,1531.8 132.4,1531.7 133,1531.6 133.6,1531.6 134.2,1531.9 134.8,1531.6 135.4,1531.5 136,1531.8 136.6,1531.3 137.2,1532.2 137.8,1532 138.4,1530.8 139,1531.6 139.6,1531.6 140.2,1531.7 140.8,1531.9 141.4,1532.3 142,1532.4 142.6,1530.9 143.2,1532.1 143.8,1530.9 144.4,1532.2 145,1532 145.6,1531.4 146.2,1531.6 146.8,1531.6 147.4,1532.4 148,1531.6 148.6,1531.7 149.2,1532 149.8,1532.6 150.4,1531.6 151,1532 151.6,1531.6 152.2,1532.4 152.8,1531.4 153.4,1532.1 154,1532.1 154.6,1531.8 155.2,1532.5 155.8,1532.8 156.4,1532 157,1532.2 157.6,1532.1 158.2,1532.6 158.8,1532.4 159.4,1532.1 160,1532.1 160.6,1531.8 161.2,1532 161.8,1532.1 162.4,1532.9 163,1532.5 163.6,1531.2 164.2,1532 164.8,1532.7 165.4,1532.7 166,1531.4 166.6,1532.2 167.2,1532.9 167.8,1532 168.4,1532.1 169,1532.3 169.6,1531.8 170.2,1532.8 170.8,1532.4 171.4,1532.4 172,1532.1 172.6,1532.8 173.2,1532.2 173.8,1532.1 174.4,1532.3 175,1531.9 175.6,1532.2 176.2,1533.5 176.8,1532.1 177.4,1532.1 178,1532.5 178.6,1532.7 179.2,1532.8 179.8,1532.7 180.4,1531.9 181,1532.4 181.6,1531.7 182.2,1533 182.8,1532.9 183.4,1533.1 184,1532.1 184.6,1531.9 185.2,1532.8 185.8,1532.4 186.4,1532.3 187,1532.5 187.6,1532.2 188.2,1532.1 188.8,1533.1 189.4,1533.1 190,1533.3 190.6,1533.2 191.2,1533.1 191.8,1533.3 192.4,1533 193,1533.2 193.6,1533.1 194.2,1532.2 194.8,1533.3 195.4,1534 196,1533.9 196.6,1533.1 197.2,1533.4 197.8,1533.4 198.4,1534.1 199,1534.1 199.6,1533 200.2,1533 200.8,1533.2 201.4,1533.1 202,1534.1 202.6,1532.6 203.2,1532.9 203.8,1532.8 204.4,1533.2 205,1533.7 205.6,1533 206.2,1533.8 206.8,1534.2 207.4,1533.6 208,1534 208.6,1533.4 209.2,1533.7 209.8,1533.4 210.4,1534 211,1533.6 211.6,1533.8 212.2,1533.9 212.8,1534 213.4,1533.1 214,1533.6 214.6,1533.2 215.2,1533.3 215.8,1533.5 216.4,1533.7 217,1533.5 217.6,1533.4 218.2,1534 218.8,1533.7 219.4,1532.5 220,1533.6 220.6,1533.2 221.2,1533.7 221.8,1533.7 222.4,1534.1 223,1533.2 223.6,1533.8 224.2,1533.3 224.8,1533.1 225.4,1532.7 226,1533.5 226.6,1534 227.2,1533.2 227.8,1533.8 228.4,1533.3 229,1533.6 229.6,1533.2 230.2,1533.5 230.8,1532.8 231.4,1533.6 232,1534 232.6,1533.7 233.2,1533 233.8,1532.3 234.4,1533.2 235,1532.6 235.6,1533.1 236.2,1533.6 236.8,1532.1 237.4,1533 238,1533 238.6,1533.4 239.2,1533.2 239.8,1533.8 240.4,1533.2 241,1533.3 241.6,1532.1 242.2,1532.9 242.8,1532.7 243.4,1532.8 244,1533.3 244.6,1532.2 245.2,1531.6 245.8,1533.5 246.4,1532.5 247,1532.4 247.6,1533.1 248.2,1532.8 248.8,1532.5 249.4,1532.5 250,1532.6 250.6,1531.8 251.2,1532.2 251.8,1533 252.4,1532.3 253,1532.1 253.6,1532.8 254.2,1532 254.8,1532.6 255.4,1531.9 256,1531.6 256.6,1531.9 257.2,1531.8 257.8,1531 258.4,1532.5 259,1531.8 259.6,1532.5 260.2,1531.2 260.8,1531.3 261.4,1530.9 262,1531.4 262.6,1531.7 263.2,1532.4 263.8,1531.2 264.4,1531.3 265,1531.8 265.6,1531.6 266.2,1531.1 266.8,1531.2 267.4,1531 268,1531.9 268.6,1531.1 269.2,1531.2 269.8,1531.8 270.4,1531 271,1531.7 271.6,1530.6 272.2,1530.9 272.8,1531.8 273.4,1531.5 274,1530.8 274.6,1530.7 275.2,1530.4 275.8,1531.3 276.4,1531 277,1531.3 277.6,1531.1 278.2,1532.4 278.8,1531.7 279.4,1530.4 280,1531.2 280.6,1530.5 281.2,1531.2 281.8,1530.9 282.4,1531.2 283,1530.9 283.6,1530.1 284.2,1531.3 284.8,1530.2 285.4,1530.6 286,1530.7 286.6,1531.1 287.2,1530.5 287.8,1531 288.4,1531.1 289,1531.9 289.6,1530.7 290.2,1531.1 290.8,1531.3 291.4,1530.9" fill="none" stroke="#0d0d0d" stroke-width="1.2" stroke-linejoin="round" stroke-linecap="round"/>
<polygon points="332.1,1542.7 332.5,1542.7 332.8,1542 333.2,1542.1 333.5,1542.4 333.9,1542.5 334.2,1542.8 334.6,1543.1 334.9,1542.9 335.3,1542.2 335.6,1542.7 336,1542.6 336.3,1542.9 336.7,1543.1 337,1542.7 337.4,1542.5 337.7,1542.6 338.1,1541.3 338.4,1543.2 338.8,1542.7 339.1,1542.7 339.5,1542.5 339.8,1543.3 340.2,1542.3 340.5,1542.5 340.9,1542 341.2,1542.3 341.6,1541.4 341.9,1541.6 342.3,1542.4 342.6,1542.2 343,1542.3 343.3,1542.6 343.7,1543.3 344,1542.2 344.4,1542.9 344.7,1543 345.1,1541.6 345.4,1541.7 345.8,1542.7 346.1,1543.5 346.5,1544 346.8,1543 347.2,1542.8 347.5,1544.2 347.9,1544.1 348.2,1543.4 348.6,1543.4 348.9,1543.1 349.3,1543.4 349.6,1543.4 350,1543 350.3,1543 350.7,1543.2 351,1543.5 351.4,1543.3 351.7,1542.5 352.1,1541.4 352.4,1542.7 352.8,1542.5 353.1,1541.3 353.5,1541.9 353.8,1541.3 354.2,1542.3 354.5,1543.5 354.9,1542.8 355.2,1543.2 355.6,1543.1 355.9,1542.9 356.3,1542.5 356.6,1541.9 357,1541.8 357.3,1542.1 357.7,1542.4 358,1542.9 358.4,1543.7 358.7,1543.4 359.1,1542.8 359.4,1544.7 359.8,1545 360.1,1544 360.5,1544.5 360.8,1544 361.2,1544.4 361.5,1543.2 361.9,1543.5 362.2,1543 362.6,1542.8 362.9,1542.6 363.3,1541.4 363.6,1542.7 364,1543.1 364.3,1542.3 364.7,1543 365,1544 365.4,1543.4 365.7,1544.9 366.1,1544.8 366.4,1544.4 366.8,1544.7 367.1,1543.9 367.5,1542.4 367.8,1543.3 368.2,1543.5 368.5,1542.5 368.9,1542.8 369.2,1542.5 369.6,1543.7 369.9,1543.1 370.3,1542.4 370.6,1542.3 371,1543.4 371.3,1543.3 371.7,1542.5 372,1543.4 372.4,1543 372.7,1543.2 373.1,1543.2 373.4,1542.9 373.8,1542.8 374.1,1542.4 374.5,1542 374.8,1541.7 375.2,1542.2 375.5,1543 375.9,1542.3 376.2,1542.7 376.6,1543.2 376.9,1542.9 377.3,1542.5 377.6,1543.3 378,1543.2 378.3,1543.5 378.7,1542.7 379,1542 379.4,1542.1 379.7,1541 380.1,1541.5 380.4,1541.1 380.8,1541.3 381.1,1541.7 381.5,1542.1 381.8,1542.1 382.2,1543.2 382.5,1542.4 382.9,1543.3 383.2,1543.3 383.6,1543 383.9,1543.1 384.3,1543.1 384.6,1542.5 385,1541.8 385.3,1542.6 385.7,1542.3 386,1542.3 386.4,1542.8 386.7,1542.6 387.1,1542.7 387.4,1542.5 387.8,1542.6 388.1,1541.7 388.5,1542.7 388.8,1542.7 389.2,1542.3 389.5,1542.6 389.9,1541.8 390.2,1542.5 390.6,1542.8 390.9,1542.7 391.3,1542.5 391.6,1542.6 392,1543 392.3,1541.8 392.7,1542.4 393,1542.1 393.4,1541.4 393.7,1542.2 394.1,1542.7 394.4,1542.6 394.8,1544 395.1,1544.2 395.5,1543.7 395.8,1543.9 396.2,1543.9 396.5,1543.2 396.9,1542.1 397.2,1542.1 397.6,1542.2 397.9,1541.4 398.3,1541.4 398.6,1541.7 399,1541.9 399.3,1541.9 399.7,1542.8 400,1541.9 400.4,1542.6 400.7,1543.1 401.1,1543.2 401.4,1543.5 401.8,1543.2 402.1,1543.9 402.5,1542.5 402.8,1545 403.2,1544 403.5,1543.4 403.9,1543.3 404.2,1543.3 404.6,1541.8 404.9,1542.9 405.3,1543.2 405.6,1542.7 406,1543 406.3,1543.4 406.7,1543 407,1543.9 407.4,1543.8 407.7,1543 408.1,1543.2 408.4,1542.7 408.8,1542.8 409.1,1542.6 409.5,1541.5 409.8,1542.2 410.2,1542.4 410.5,1542.6 410.9,1542.8 411.2,1542.9 411.6,1542.8 411.9,1543 412.3,1542.6 412.6,1542.8 413,1542.8 413.3,1543.2 413.7,1542 414,1542.2 414.4,1542.5 414.7,1543.2 415.1,1543 415.4,1542.8 415.8,1542.3 416.1,1542 416.5,1542.9 416.8,1542.2 417.2,1542.5 417.5,1541.9 417.9,1543.3 418.2,1543.2 418.6,1544.4 418.9,1543.6 419.3,1543.2 419.6,1544.1 420,1543.4 420.3,1542.9 420.7,1542.8 421,1543.4 421.4,1543.8 421.7,1542.8 422.1,1542.7 422.4,1543.7 422.8,1544.4 423.1,1544.9 423.5,1543.6 423.8,1543.9 424.2,1543.6 424.5,1543.5 424.9,1543.4 425.2,1541.9 425.6,1542.9 425.9,1542.7 426.3,1542.7 426.6,1543.3 427,1543.3 427.3,1543.5 427.7,1544 428,1543.3 428.4,1544.1 428.7,1543.3 429.1,1543 429.4,1543.2 429.8,1542.4 430.1,1542.5 430.5,1542.2 430.8,1542.7 431.2,1543.1 431.5,1541.6 431.9,1542.9 432.2,1543.7 432.6,1543 432.9,1542.9 433.3,1542.7 433.6,1543.5 434,1543.6 434.3,1542.3 434.7,1542.9 435,1543.9 435.4,1543.6 435.7,1542.4 436.1,1542.9 436.4,1542.7 436.8,1543.6 437.1,1542.7 437.5,1543.5 437.8,1543 438.2,1543.1 438.5,1543.8 438.9,1544.5 439.2,1544.1 439.6,1544.1 439.9,1543.6 440.3,1544 440.6,1544.2 441,1544 441.3,1544.3 441.7,1543.7 442,1543.8 442.4,1543.7 442.7,1542.1 443.1,1543.6 443.4,1543.3 443.8,1542.8 444.1,1542.6 444.5,1542.7 444.8,1543.3 445.2,1543.3 445.5,1543.9 445.9,1544.4 446.2,1544 446.6,1544.6 446.9,1544.5 447.3,1543.4 447.6,1543.9 448,1542.5 448.3,1543.4 448.7,1542.8 449,1543.8 449.4,1543.4 449.7,1543 450.1,1544.2 450.4,1543.8 450.8,1543.4 451.1,1543.4 451.5,1542.1 451.8,1543 452.2,1543.3 452.5,1543 452.9,1543.1 453.2,1543.4 453.6,1543.7 453.9,1542.8 454.3,1543.3 454.6,1543 455,1543.9 455.3,1544.1 455.7,1543.6 456,1544.3 456.4,1542.7 456.7,1543.3 457.1,1543.7 457.4,1543.2 457.8,1543.2 458.1,1543.8 458.5,1543.8 458.8,1545.2 459.2,1544.2 459.5,1545.7 459.9,1545.7 460.2,1547 460.6,1548.1 460.9,1549.5 461.3,1549.7 461.6,1551.7 462,1552.6 462.3,1553.8 462.7,1555.3 463,1557.5 463.4,1558.4 463.7,1560.9 464.1,1562.2 464.4,1563.7 464.8,1565.6 465.1,1567.5 465.5,1569.5 465.8,1570.8 466.2,1572.5 466.5,1574.8 466.9,1577.1 467.2,1579 467.6,1580.3 467.9,1583.3 468.3,1585.9 468.6,1587.9 469,1589.5 469.3,1590.7 469.7,1593.2 470,1595 470.4,1596.3 470.7,1597.2 471.1,1600.3 471.4,1601.7 471.8,1603 472.1,1603.8 472.5,1606.9 472.8,1607 473.2,1608.8 473.5,1610.2 473.9,1611.1 474.2,1611.4 474.6,1614.3 474.9,1615.6 475.3,1615.9 475.6,1617.9 476,1619.1 476.3,1618.7 476.7,1620.5 477,1622 477.4,1622.2 477.7,1622 478.1,1623.8 478.4,1624.8 478.8,1626.1 479.1,1628.3 479.5,1628.5 479.8,1630 480.2,1629.5 480.5,1632.2 480.9,1633.4 481.2,1633.9 481.6,1634.2 481.9,1634.4 482.3,1636 482.6,1637.2 483,1638.6 483.3,1639.3 483.7,1640.6 484,1640.1 484.4,1641.6 484.7,1643.7 485.1,1642.7 485.4,1646.1 485.8,1647.2 486.1,1645.9 486.5,1648.6 486.8,1649.4 487.2,1646.6 487.5,1649 487.9,1652.6 488.2,1652.4 488.6,1654.1 488.9,1653.5 489.3,1655.5 489.6,1656.7 490,1655.3 490.3,1657.2 490.7,1657.3 491,1658.8 491.4,1658.7 491.7,1660 492.1,1660.8 492.4,1660.8 492.8,1660 493.1,1661.2 493.5,1662.7 493.8,1663.5 494.2,1664.4 494.5,1664.6 494.9,1665.8 495.2,1666.9 495.6,1666.6 495.9,1667.9 496.3,1665.3 496.6,1668.1 497,1668.4 497.3,1668.3 497.7,1668.6 498,1669.6 498.4,1669.9 498.7,1670.8 499.1,1671.7 499.4,1671 499.8,1672.3 500.1,1673.3 500.5,1673.7 500.8,1675.4 501.2,1675.7 501.5,1675.5 501.9,1675.8 502.2,1677.8 502.6,1678.8 502.9,1679.5 503.3,1678.8 503.6,1681 504,1679.4 504.3,1681.6 504.7,1682.5 505,1681.6 505.4,1682.6 505.7,1683.5 506.1,1683.6 506.4,1682.2 506.8,1684.5 507.1,1683.2 507.5,1683.2 507.8,1684.6 508.2,1684.8 508.5,1685.5 508.9,1686.8 509.2,1685.9 509.6,1683.5 509.9,1685.4 510.3,1683.8 510.6,1685.3 511,1685.4 511.3,1685.9 511.7,1686.1 512,1688.5 512.4,1688.6 512.7,1687.7 513.1,1688.5 513.4,1688.9 513.8,1689.4 514.1,1687.4 514.5,1688.9 514.8,1688.5 515.2,1689.2 515.5,1690.3 515.9,1688.9 516.2,1686.9 516.6,1690.7 516.9,1690.4 517.3,1689.5 517.6,1688.2 518,1688.9 518.3,1690.4 518.7,1690.7 519,1690 519.4,1689.3 519.7,1691.6 520.1,1690.4 520.4,1690.1 520.8,1692.5 521.1,1687.3 521.5,1692.9 521.8,1691 522.2,1692 522.5,1693.2 522.9,1691.8 523.2,1692.1 523.6,1691.6 523.9,1691.2 524.3,1693.7 524.6,1693.4 525,1692.7 525.3,1691.8 525.7,1692.9 526,1694.6 526.4,1694.8 526.7,1694.3 527.1,1694.5 527.4,1690.3 527.8,1694.5 528.1,1694 528.5,1695.2 528.8,1693.3 529.2,1694.6 529.5,1692.1 529.9,1695.1 530.2,1694.7 530.6,1693.3 530.9,1694.4 531.3,1697.3 531.6,1690.4 532,1696 532.3,1697.3 532.7,1696.2 533,1696.1 533.4,1696 533.7,1695.7 534.1,1695.9 534.4,1694.8 534.8,1694.8 535.1,1692.4 535.5,1688.9 535.8,1694.4 536.2,1692.8 536.5,1691.9 536.9,1689.5 537.2,1689.6 537.6,1689.5 537.9,1690 538.3,1689.1 538.6,1686.2 539,1683.5 539.3,1681.4 539.7,1678.3 540,1674.8 540.4,1674.5 540.7,1671 541.1,1671.2 541.4,1667 541.8,1667.6 542.1,1665.6 542.5,1663.8 542.8,1660.5 543.2,1659.5 543.5,1658.4 543.9,1656.7 544.2,1654.9 544.6,1652.6 544.9,1651.8 545.3,1650.7 545.6,1649 546,1646 546.3,1646.4 546.7,1645.4 547,1643.9 547.4,1640.7 547.7,1640.9 548.1,1637.5 548.4,1637.1 548.8,1634.9 549.1,1632.8 549.5,1632.4 549.8,1629.1 550.2,1629.4 550.5,1627.6 550.9,1626.3 551.2,1625.8 551.6,1623.8 551.9,1621.9 552.3,1621.4 552.6,1620 553,1618.6 553.3,1618.3 553.7,1616.1 554,1615.3 554.4,1614.8 554.7,1613.8 555.1,1612.1 555.4,1611 555.8,1610.5 556.1,1609.6 556.5,1608.9 556.8,1607.7 557.2,1607.6 557.5,1605.4 557.9,1605.4 558.2,1604.6 558.6,1603.9 558.9,1602.9 559.3,1600.7 559.6,1599.8 560,1597.8 560.3,1598.6 560.7,1596.2 561,1595.7 561.4,1596.3 561.7,1594.5 562.1,1594.7 562.4,1593.9 562.8,1593.9 563.1,1591.7 563.5,1591 563.8,1589.7 564.2,1588.6 564.5,1588.1 564.9,1587.2 565.2,1587.8 565.6,1587.4 565.9,1586.9 566.3,1585.6 566.6,1585.1 567,1585 567.3,1584.4 567.7,1582.7 568,1581.2 568.4,1582.3 568.7,1581.8 569.1,1581 569.4,1580.8 569.8,1580.6 570.1,1580.2 570.5,1577.9 570.8,1578.1 571.2,1578.6 571.5,1578.5 571.9,1577.7 572.2,1576.7 572.6,1577.8 572.9,1577.3 573.3,1576.2 573.6,1575.7 574,1574.7 574.3,1574.1 574.7,1574.9 575,1574 575.4,1573.2 575.7,1573.9 576.1,1572.7 576.4,1573.2 576.8,1572.6 577.1,1571.5 577.5,1570.6 577.8,1571.6 578.2,1569.7 578.5,1570.3 578.9,1570.8 579.2,1570.3 579.6,1569.7 579.9,1569.6 580.3,1569 580.6,1568.4 581,1568.1 581.3,1568.4 581.7,1567.4 582,1568.6 582.4,1567.2 582.7,1567.7 583.1,1567.6 583.4,1566.8 583.8,1565.7 584.1,1566.4 584.5,1566.5 584.8,1566.4 585.2,1565.9 585.5,1565.4 585.9,1565.4 586.2,1564.1 586.6,1564.4 586.9,1562.5 587.3,1564.3 587.6,1562.8 588,1563.6 588.3,1562.8 588.7,1560.5 589,1561.9 589.4,1562.4 589.7,1561.5 590.1,1560.8 590.4,1561.8 590.8,1560.9 591.1,1561.6 591.5,1561.5 591.8,1561.3 592.2,1561 592.5,1560.6 592.9,1561.2 593.2,1561.2 593.6,1560.1 593.9,1561.6 594.3,1560.3 594.6,1561 595,1561.3 595.3,1560.3 595.7,1560.6 596,1562.1 596.4,1559.9 596.7,1561.8 597.1,1561.2 597.4,1561.4 597.8,1559.1 598.1,1560.4 598.5,1560.5 598.8,1560.3 599.2,1560 599.5,1560.4 599.9,1560.9 600.2,1560.7 600.6,1562.6 600.9,1562.3 601.3,1562.1 601.6,1561.7 602,1561.9 602.3,1560.6 602.7,1560.9 603,1561.9 603.4,1561.3 603.7,1562.4 604.1,1562.7 604.4,1560.3 604.8,1561.5 605.1,1560.3 605.5,1560.6 605.8,1561.8 606.2,1561.2 606.5,1561.7 606.9,1561.4 607.2,1562.4 607.6,1562.1 607.9,1562 608.3,1561.5 608.6,1562.8 609,1561.9 609.3,1559.9 609.7,1559.4 610,1560 610.4,1560.5 610.7,1559.4 611.1,1559.6 611.4,1557.4 611.8,1559.3 612.1,1559.3 612.5,1559 612.8,1557.9 613.2,1557.5 613.5,1558.1 613.9,1557.7 614.2,1556.3 614.6,1557.1 614.9,1557.4 615.3,1556.7 615.6,1558 616,1557.8 616.3,1558.1 616.7,1558 617,1556.6 617.4,1556.7 617.7,1555.8 618.1,1556.6 618.4,1556.8 618.8,1555.3 619.1,1556.2 619.5,1554.9 619.5,1560.1 619.1,1560.9 618.8,1561.2 618.4,1562.1 618.1,1562.4 617.7,1562.7 617.4,1562.5 617,1561.4 616.7,1562.8 616.3,1561.9 616,1562.9 615.6,1562.6 615.3,1562.2 614.9,1562.2 614.6,1562.8 614.2,1562.5 613.9,1564.5 613.5,1562.2 613.2,1562.5 612.8,1563.7 612.5,1563.5 612.1,1564.3 611.8,1563.2 611.4,1564.3 611.1,1564.2 610.7,1564.8 610.4,1564.9 610,1565.4 609.7,1565.5 609.3,1566.4 609,1566.4 608.6,1566.9 608.3,1569.1 607.9,1566.9 607.6,1566.8 607.2,1566.8 606.9,1566.9 606.5,1567.4 606.2,1565.6 605.8,1567.5 605.5,1566.2 605.1,1565.6 604.8,1565.7 604.4,1565.9 604.1,1566.5 603.7,1567 603.4,1566 603,1566.6 602.7,1567.7 602.3,1566.8 602,1566.3 601.6,1567.4 601.3,1565.9 600.9,1566.6 600.6,1566.8 600.2,1566.1 599.9,1565.6 599.5,1565.2 599.2,1565.7 598.8,1565.7 598.5,1565.6 598.1,1566.1 597.8,1566.4 597.4,1566.3 597.1,1567.9 596.7,1568.2 596.4,1567.4 596,1567.1 595.7,1566.6 595.3,1566.5 595,1566.5 594.6,1565.8 594.3,1565.9 593.9,1566.2 593.6,1566.7 593.2,1567.1 592.9,1565.6 592.5,1566.2 592.2,1565.4 591.8,1565.2 591.5,1566.4 591.1,1566.2 590.8,1567.1 590.4,1565.9 590.1,1566.6 589.7,1566 589.4,1567.5 589,1566.5 588.7,1566.2 588.3,1567.8 588,1569.2 587.6,1569 587.3,1568.4 586.9,1569 586.6,1569.4 586.2,1569.1 585.9,1570.9 585.5,1570.9 585.2,1570.2 584.8,1571.3 584.5,1570.6 584.1,1570.7 583.8,1570.7 583.4,1572.6 583.1,1571.5 582.7,1572.7 582.4,1573.1 582,1574 581.7,1573.9 581.3,1574.2 581,1573 580.6,1573.9 580.3,1573.4 579.9,1574.1 579.6,1575.3 579.2,1574.8 578.9,1574.9 578.5,1574.7 578.2,1575 577.8,1575.5 577.5,1575.9 577.1,1577.5 576.8,1578.3 576.4,1576.9 576.1,1577.6 575.7,1580 575.4,1578 575,1578.4 574.7,1579.6 574.3,1579.5 574,1579.6 573.6,1581.4 573.3,1582 572.9,1582.2 572.6,1583.4 572.2,1583 571.9,1582.8 571.5,1583.8 571.2,1583.2 570.8,1582.9 570.5,1583.6 570.1,1584.8 569.8,1585.6 569.4,1585 569.1,1587.2 568.7,1585.8 568.4,1586.8 568,1587.3 567.7,1588.4 567.3,1588.2 567,1589.4 566.6,1590.2 566.3,1591.4 565.9,1592.2 565.6,1592.3 565.2,1591.8 564.9,1592 564.5,1594.1 564.2,1595.1 563.8,1595.9 563.5,1596 563.1,1597.3 562.8,1597.7 562.4,1599.8 562.1,1598.7 561.7,1599.4 561.4,1601 561,1601 560.7,1602.4 560.3,1603.1 560,1604.2 559.6,1605.1 559.3,1607.3 558.9,1607.5 558.6,1609.5 558.2,1609.4 557.9,1609.5 557.5,1610.3 557.2,1611.9 556.8,1613.7 556.5,1613.4 556.1,1614.4 555.8,1614.9 555.4,1616.6 555.1,1618.2 554.7,1618 554.4,1619.7 554,1621.9 553.7,1623.3 553.3,1622.4 553,1622.8 552.6,1624.6 552.3,1626.3 551.9,1626.4 551.6,1628.1 551.2,1630.1 550.9,1630.5 550.5,1631.9 550.2,1633.7 549.8,1634.6 549.5,1636.9 549.1,1637.3 548.8,1639.1 548.4,1641.2 548.1,1643.4 547.7,1645.1 547.4,1646 547,1648.5 546.7,1649.7 546.3,1652 546,1651.1 545.6,1654.1 545.3,1655.6 544.9,1656.2 544.6,1657 544.2,1658.8 543.9,1659.9 543.5,1663.5 543.2,1664.1 542.8,1667.3 542.5,1668 542.1,1670 541.8,1672.5 541.4,1675.5 541.1,1677.9 540.7,1680.6 540.4,1680.9 540,1683.4 539.7,1688.1 539.3,1689.4 539,1692.5 538.6,1696.7 538.3,1697.1 537.9,1701.7 537.6,1703.9 537.2,1701.7 536.9,1701.1 536.5,1703.7 536.2,1702.9 535.8,1706.8 535.5,1706.8 535.1,1707.3 534.8,1704.9 534.4,1705.9 534.1,1706.5 533.7,1708.5 533.4,1705.9 533,1709 532.7,1707.3 532.3,1706.9 532,1707 531.6,1707 531.3,1707 530.9,1707.2 530.6,1705 530.2,1708.2 529.9,1705.7 529.5,1706.4 529.2,1705.7 528.8,1704.7 528.5,1704.1 528.1,1706.6 527.8,1705.7 527.4,1706.5 527.1,1704.9 526.7,1709.6 526.4,1703.9 526,1705 525.7,1701.8 525.3,1703.3 525,1704.1 524.6,1703.2 524.3,1703.1 523.9,1702 523.6,1704.3 523.2,1703.1 522.9,1703.7 522.5,1703.3 522.2,1703.5 521.8,1703.9 521.5,1703.3 521.1,1702.6 520.8,1701.3 520.4,1701.6 520.1,1699.7 519.7,1702.5 519.4,1699.9 519,1700.3 518.7,1698.9 518.3,1704.5 518,1700.9 517.6,1700.2 517.3,1700 516.9,1701.8 516.6,1698.3 516.2,1697.7 515.9,1699 515.5,1698.6 515.2,1698.5 514.8,1700.1 514.5,1697.3 514.1,1698.7 513.8,1697.5 513.4,1698.2 513.1,1696.2 512.7,1699.9 512.4,1697.8 512,1695.7 511.7,1695.8 511.3,1696.1 511,1696.8 510.6,1695.2 510.3,1698.4 509.9,1695.4 509.6,1694.7 509.2,1698 508.9,1694.3 508.5,1693.2 508.2,1694.1 507.8,1691.7 507.5,1692.6 507.1,1693.2 506.8,1690.8 506.4,1691 506.1,1691.3 505.7,1692 505.4,1691.2 505,1690 504.7,1689.1 504.3,1689.7 504,1689.7 503.6,1688.4 503.3,1687.4 502.9,1687.5 502.6,1686.3 502.2,1684.7 501.9,1687 501.5,1685.8 501.2,1681.6 500.8,1683.3 500.5,1680.1 500.1,1679.7 499.8,1681.1 499.4,1678.4 499.1,1677.8 498.7,1677.6 498.4,1675.8 498,1677.2 497.7,1675.6 497.3,1675 497,1675 496.6,1675.8 496.3,1673.6 495.9,1673 495.6,1674 495.2,1672.3 494.9,1672.1 494.5,1669.9 494.2,1669.3 493.8,1669.5 493.5,1668.1 493.1,1669.7 492.8,1667.3 492.4,1666.1 492.1,1665.7 491.7,1665 491.4,1664.2 491,1663.6 490.7,1664.6 490.3,1663.1 490,1662.7 489.6,1661.3 489.3,1660 488.9,1659 488.6,1660.1 488.2,1657.8 487.9,1657.3 487.5,1655.9 487.2,1654.8 486.8,1654.4 486.5,1653.6 486.1,1652.2 485.8,1652.3 485.4,1651.2 485.1,1648.9 484.7,1649.4 484.4,1648.2 484,1648.2 483.7,1645.9 483.3,1645.6 483,1643.1 482.6,1641.9 482.3,1640.6 481.9,1640.4 481.6,1639.1 481.2,1638.2 480.9,1638.3 480.5,1636.9 480.2,1634.5 479.8,1633.8 479.5,1633.4 479.1,1632.1 478.8,1630.7 478.4,1629.1 478.1,1628.2 477.7,1627 477.4,1625.5 477,1626.9 476.7,1624.4 476.3,1623.2 476,1622.7 475.6,1621.6 475.3,1620.1 474.9,1619.4 474.6,1619.4 474.2,1616.3 473.9,1615.2 473.5,1614.2 473.2,1612.4 472.8,1610.9 472.5,1610.3 472.1,1608 471.8,1606.2 471.4,1605 471.1,1603.5 470.7,1600.8 470.4,1599.5 470,1597.6 469.7,1596.1 469.3,1594.7 469,1592.7 468.6,1591.1 468.3,1589 467.9,1585.8 467.6,1583.7 467.2,1583.3 466.9,1579.6 466.5,1578.3 466.2,1576.4 465.8,1574 465.5,1571.7 465.1,1569.9 464.8,1568.5 464.4,1566.5 464.1,1564.6 463.7,1563.8 463.4,1561.8 463,1561 462.7,1558.2 462.3,1556.5 462,1555.3 461.6,1553.8 461.3,1552.7 460.9,1551.6 460.6,1550.6 460.2,1550.1 459.9,1549.9 459.5,1548.9 459.2,1547.7 458.8,1547.4 458.5,1545.8 458.1,1546.3 457.8,1545.6 457.4,1545.6 457.1,1545.8 456.7,1546.3 456.4,1547 456,1546.9 455.7,1546.5 455.3,1547.6 455,1546.4 454.6,1546.1 454.3,1546.9 453.9,1545.9 453.6,1545.6 453.2,1546.1 452.9,1545.6 452.5,1545.9 452.2,1545.4 451.8,1545.8 451.5,1545.1 451.1,1545.7 450.8,1545.8 450.4,1546.1 450.1,1546.3 449.7,1546.4 449.4,1545.9 449,1546.1 448.7,1546.6 448.3,1546.2 448,1545.6 447.6,1545.9 447.3,1546.3 446.9,1546.8 446.6,1546.8 446.2,1546.6 445.9,1547.1 445.5,1546.3 445.2,1545.7 444.8,1546.2 444.5,1545 444.1,1545.6 443.8,1545.3 443.4,1546.1 443.1,1546.2 442.7,1546.4 442.4,1546.6 442,1546.4 441.7,1547 441.3,1546.7 441,1546.8 440.6,1546.9 440.3,1547.9 439.9,1547 439.6,1547.4 439.2,1546.8 438.9,1546.7 438.5,1546.8 438.2,1545.6 437.8,1546.6 437.5,1547 437.1,1545.7 436.8,1546 436.4,1545.5 436.1,1546.5 435.7,1545.9 435.4,1546.2 435,1545.8 434.7,1545.8 434.3,1545.7 434,1545.7 433.6,1546.2 433.3,1547 432.9,1546.1 432.6,1546.9 432.2,1546.4 431.9,1545.3 431.5,1545.1 431.2,1545.7 430.8,1545.8 430.5,1544.8 430.1,1545.4 429.8,1544.4 429.4,1545.9 429.1,1546.1 428.7,1545.3 428.4,1546 428,1546.3 427.7,1546.5 427.3,1546.4 427,1545.7 426.6,1545.9 426.3,1545.8 425.9,1544.7 425.6,1544.9 425.2,1545.1 424.9,1546.3 424.5,1547.9 424.2,1546.3 423.8,1546.6 423.5,1546.5 423.1,1547.6 422.8,1547.2 422.4,1546.7 422.1,1545.3 421.7,1546.1 421.4,1545.8 421,1545.6 420.7,1546.1 420.3,1545.6 420,1545.7 419.6,1546.7 419.3,1546.2 418.9,1545.7 418.6,1546.5 418.2,1545.8 417.9,1545.4 417.5,1545.3 417.2,1544.8 416.8,1545.2 416.5,1546.5 416.1,1545.9 415.8,1545.3 415.4,1545.8 415.1,1545.7 414.7,1545.3 414.4,1544.8 414,1544.5 413.7,1545.1 413.3,1545.6 413,1545.1 412.6,1546 412.3,1545.2 411.9,1545.3 411.6,1545.1 411.2,1545.6 410.9,1545.4 410.5,1545 410.2,1545.2 409.8,1545.6 409.5,1544.6 409.1,1545.2 408.8,1545.6 408.4,1545.3 408.1,1545.9 407.7,1545.6 407.4,1546.3 407,1546.8 406.7,1546 406.3,1545.5 406,1545 405.6,1545.2 405.3,1546.2 404.9,1545.1 404.6,1546.1 404.2,1546.4 403.9,1546.1 403.5,1546.9 403.2,1546.1 402.8,1547.6 402.5,1546.7 402.1,1547 401.8,1545.8 401.4,1546.3 401.1,1545.5 400.7,1545.9 400.4,1544.6 400,1544.9 399.7,1545.8 399.3,1545.1 399,1544.5 398.6,1544.4 398.3,1544.9 397.9,1544.3 397.6,1544.9 397.2,1545.3 396.9,1545.5 396.5,1545.4 396.2,1546.2 395.8,1546.2 395.5,1546.5 395.1,1546.8 394.8,1546.4 394.4,1547.3 394.1,1546.4 393.7,1545 393.4,1545.2 393,1545.1 392.7,1544.4 392.3,1545.6 392,1545.6 391.6,1545.2 391.3,1545.7 390.9,1545.6 390.6,1545.5 390.2,1544.9 389.9,1545 389.5,1544.5 389.2,1545.6 388.8,1544.8 388.5,1544.9 388.1,1545.3 387.8,1545.1 387.4,1545.9 387.1,1545.8 386.7,1545.3 386.4,1544.9 386,1546.2 385.7,1545.9 385.3,1544.6 385,1545.3 384.6,1546.2 384.3,1545.2 383.9,1546.1 383.6,1545.7 383.2,1545.9 382.9,1546.1 382.5,1545.6 382.2,1545.2 381.8,1544.3 381.5,1544.6 381.1,1545.3 380.8,1544.7 380.4,1544.7 380.1,1543.8 379.7,1544.9 379.4,1544.8 379,1545.1 378.7,1544.8 378.3,1545.8 378,1545.8 377.6,1546.1 377.3,1545.2 376.9,1545.8 376.6,1545.3 376.2,1545.6 375.9,1545.1 375.5,1545 375.2,1544.9 374.8,1544.7 374.5,1546 374.1,1545.9 373.8,1545 373.4,1545.3 373.1,1546 372.7,1546.2 372.4,1546.3 372,1546.4 371.7,1546.2 371.3,1546.7 371,1545.6 370.6,1545.3 370.3,1545.1 369.9,1546 369.6,1546.7 369.2,1545.1 368.9,1545.4 368.5,1545.4 368.2,1545.6 367.8,1546.3 367.5,1545.3 367.1,1546.1 366.8,1547.6 366.4,1548.3 366.1,1547.4 365.7,1547.1 365.4,1546.2 365,1546.2 364.7,1545.8 364.3,1545.2 364,1545.2 363.6,1545.9 363.3,1545.8 362.9,1545.1 362.6,1545.2 362.2,1545.2 361.9,1545.9 361.5,1546 361.2,1546.9 360.8,1546.4 360.5,1547.4 360.1,1547.2 359.8,1547 359.4,1547 359.1,1546.3 358.7,1546.4 358.4,1546 358,1545.5 357.7,1545.3 357.3,1545.2 357,1544.1 356.6,1545.2 356.3,1545.2 355.9,1545 355.6,1546.1 355.2,1545.2 354.9,1546.1 354.5,1546.3 354.2,1545.2 353.8,1544.9 353.5,1544.3 353.1,1544.2 352.8,1544.7 352.4,1544.7 352.1,1545.2 351.7,1544.6 351.4,1545.8 351,1546.3 350.7,1546 350.3,1545.4 350,1545.4 349.6,1545.8 349.3,1546.9 348.9,1545.3 348.6,1545.9 348.2,1545.8 347.9,1546.8 347.5,1546.8 347.2,1545.4 346.8,1546 346.5,1547.4 346.1,1545.7 345.8,1545 345.4,1545.3 345.1,1544.3 344.7,1545.1 344.4,1545.3 344,1545.3 343.7,1545.8 343.3,1545 343,1545.3 342.6,1545 342.3,1545 341.9,1544 341.6,1544.5 341.2,1544.6 340.9,1545.5 340.5,1545.4 340.2,1545.3 339.8,1545.3 339.5,1545.5 339.1,1546.1 338.8,1546 338.4,1545.5 338.1,1544.9 337.7,1545.1 337.4,1544.8 337,1545 336.7,1546 336.3,1545.2 336,1544.8 335.6,1545.5 335.3,1544.7 334.9,1545.3 334.6,1545.1 334.2,1545.6 333.9,1545.5 333.5,1545.7 333.2,1546.6 332.8,1545.1 332.5,1545.5 332.1,1544.9" fill="#0d0d0d" stroke="#0d0d0d" stroke-width="1" stroke-linejoin="round"/>
<line x1="150.7" y1="1577.5" x2="150.7" y2="1725.6" stroke="#0d0d0d" stroke-width="2.3"/>
<line x1="142.4" y1="1577.5" x2="150.7" y2="1577.5" stroke="#0d0d0d" stroke-width="2.3"/>
<line x1="142.4" y1="1645.4" x2="150.7" y2="1645.4" stroke="#0d0d0d" stroke-width="2.3"/>
<line x1="142.4" y1="1712.9" x2="150.7" y2="1712.9" stroke="#0d0d0d" stroke-width="2.3"/>
<text x="137.2" y="1585.7" font-size="23" fill="#0d0d0d" text-anchor="end">4</text>
<text x="137.2" y="1653.6" font-size="23" fill="#0d0d0d" text-anchor="end">2</text>
<text x="137.2" y="1721.1" font-size="23" fill="#0d0d0d" text-anchor="end">0</text>
<rect x="158.8" y="1712.9" width="35.8" height="11.5" fill="#f9c10a" stroke="#0d0d0d" stroke-width="1.9"/>
<line x1="223.8" y1="1589.2" x2="223.8" y2="1635.7" stroke="#0d0d0d" stroke-width="1.8"/>
<line x1="219.2" y1="1589.2" x2="228.2" y2="1589.2" stroke="#0d0d0d" stroke-width="1.8"/>
<rect x="205.3" y="1635.7" width="36.8" height="88.7" fill="#08a0cd" stroke="#0d0d0d" stroke-width="1.9"/>
<line x1="150.7" y1="1724.4" x2="254.8" y2="1724.4" stroke="#0d0d0d" stroke-width="2.3"/>
<text transform="translate(82.5 1632.4) rotate(-90)" font-size="26.3" fill="#0d0d0d" text-anchor="middle">current [nA]</text>
<text x="224.3" y="1589" font-size="30.5" fill="#0d0d0d" stroke="#0d0d0d" stroke-width="0.5" text-anchor="middle">*</text>
<text x="256.1" y="1716.9" font-size="22.9" fill="#0d0d0d">n = 5</text>
<text x="44.5" y="1760.3" font-size="26.1" fill="#f9c10a">capsaicin</text>
<text x="179.9" y="1760.3" font-size="26.1" fill="#0d0d0d" text-anchor="middle">1</text>
<text x="224.3" y="1760.3" font-size="26.1" fill="#0d0d0d" text-anchor="middle">2</text>
<polyline points="378.5,1582.5 378.5,1664.5 426.5,1664.5" fill="none" stroke="#0d0d0d" stroke-width="2"/>
<text transform="translate(371.3 1624) rotate(-90)" font-size="26.3" fill="#0d0d0d" text-anchor="middle">0.5 nA</text>
<text x="386" y="1693.5" font-size="26.1" fill="#0d0d0d">5 s</text>
</g>
<g>
<text x="2" y="1810" font-size="46.8" fill="#0d0d0d">H</text>
<line x1="59.2" y1="1830.7" x2="59.2" y2="1920.5" stroke="#0d0d0d" stroke-width="2.1"/>
<line x1="52.2" y1="1844.2" x2="59.2" y2="1844.2" stroke="#0d0d0d" stroke-width="2.1"/>
<line x1="52.2" y1="1881.9" x2="59.2" y2="1881.9" stroke="#0d0d0d" stroke-width="2.1"/>
<line x1="52.2" y1="1919.4" x2="59.2" y2="1919.4" stroke="#0d0d0d" stroke-width="2.1"/>
<line x1="55.2" y1="1863.1" x2="59.2" y2="1863.1" stroke="#0d0d0d" stroke-width="1.7"/>
<line x1="55.2" y1="1900.7" x2="59.2" y2="1900.7" stroke="#0d0d0d" stroke-width="1.7"/>
<text x="48" y="1855.3" font-size="24.9" fill="#0d0d0d" text-anchor="end">45</text>
<text x="48" y="1893" font-size="24.9" fill="#0d0d0d" text-anchor="end">35</text>
<text x="48" y="1930.5" font-size="24.9" fill="#0d0d0d" text-anchor="end">25</text>
<text x="64.3" y="1844.9" font-size="28" fill="#0d0d0d">°C</text>
<polyline points="81,1927.5 134,1927.5 137.8,1924.9 141.5,1922.2 145.2,1919.6 149,1917 152.8,1914.3 156.5,1911.7 160.2,1909.1 164,1906.4 167.8,1903.8 171.5,1901.2 175.2,1898.5 179,1895.9 182.8,1893.3 186.5,1890.6 190.2,1888 194,1885.4 197.8,1882.7 201.5,1880.1 205.2,1877.5 209,1874.8 212.8,1872.2 216.5,1869.6 220.2,1866.9 224,1864.3 227.8,1861.7 231.5,1859 235.2,1856.4 239,1853.8 242.8,1851.1 246.5,1848.5 247.1,1851.3 247.7,1854.2 248.3,1857 248.9,1860 249.5,1863 250.1,1866 250.7,1868.8 251.3,1871.1 251.9,1873.3 252.5,1875.3 253.1,1877.2 253.7,1879 254.3,1880.7 254.9,1882.2 255.5,1883.7 256.1,1885.2 256.7,1886.5 257.3,1887.8 257.9,1889.1 258.5,1890.2 259.1,1891.4 259.7,1892.5 260.3,1893.5 260.9,1894.5 261.5,1895.5 262.1,1896.5 262.7,1897.4 263.3,1898.3 263.9,1899.2 264.5,1900 265.1,1900.8 265.7,1901.6 266.3,1902.4 266.9,1903.1 267.5,1903.8 268.1,1904.6 268.7,1905.2 269.3,1905.9 269.9,1906.6 270.5,1907.2 271.1,1907.8 271.7,1908.3 272.3,1908.8 272.9,1909.3 273.5,1909.8 274.1,1910.2 274.7,1910.7 275.3,1911.1 275.9,1911.5 276.5,1911.9 277.1,1912.3 277.7,1912.7 278.3,1913 278.9,1913.4 279.5,1913.7 280.1,1914 280.7,1914.3 281.3,1914.7 281.9,1915 282.5,1915.2 283.1,1915.5 283.7,1915.8 284.3,1916.1 284.9,1916.4 285.5,1916.6 286.1,1916.9 286.7,1917.2 287.3,1917.4 287.9,1917.7 288.5,1917.9 289.1,1918.1 289.7,1918.4 290.3,1918.6 290.9,1918.8 291.5,1919 292.1,1919.2 292.7,1919.4 293.3,1919.6 293.9,1919.7 294.5,1919.9 295.1,1920 295.7,1920.2 296.3,1920.3 296.9,1920.4 297.5,1920.6 298.1,1920.7 298.7,1920.8 299.3,1920.9 299.9,1921 300.5,1921.1 301.1,1921.2 301.7,1921.3 302.3,1921.4 302.9,1921.5 303.5,1921.6 304.1,1921.7 304.7,1921.8 305.3,1921.9 305.9,1922 306.5,1922.1 307.1,1922.1 307.7,1922.2 308.3,1922.3 308.9,1922.4 309.5,1922.4 310.1,1922.5 310.7,1922.6 311.3,1922.6 311.9,1922.7 312.5,1922.8 313.1,1922.8 313.7,1922.9 314.3,1923 314.9,1923 315.5,1923.1 316.1,1923.2 316.7,1923.2 317.3,1923.3 317.9,1923.3 318.5,1923.4 319.1,1923.4 319.7,1923.5 320.3,1923.5 320.9,1923.6 321.5,1923.6 322.1,1923.7 322.7,1923.7 323.3,1923.8 323.9,1923.8 324.5,1923.8 325.1,1923.9 325.7,1923.9 326.3,1923.9 326.9,1924 327.5,1924" fill="none" stroke="#0d0d0d" stroke-width="2.5" stroke-linejoin="round" stroke-linecap="round"/>
<polyline points="360,1928 411.5,1928 415.2,1925.2 419,1922.5 422.8,1919.7 426.5,1916.9 430.2,1914.2 434,1911.4 437.8,1908.6 441.5,1905.9 445.2,1903.1 449,1900.3 452.8,1897.6 456.5,1894.8 460.2,1892 464,1889.3 467.8,1886.5 471.5,1883.7 475.2,1881 479,1878.2 482.8,1875.4 486.5,1872.7 490.2,1869.9 494,1867.1 497.8,1864.4 501.5,1861.6 505.2,1858.8 509,1856.1 512.8,1853.3 516.5,1850.5 520.2,1847.8 524,1845 524.6,1847.4 525.2,1849.8 525.8,1852.2 526.4,1854.6 527,1857 527.6,1859.5 528.2,1862 528.8,1864.3 529.4,1866.4 530,1868.4 530.6,1870.3 531.2,1872.2 531.8,1874 532.4,1875.7 533,1877.4 533.6,1879 534.2,1880.5 534.8,1882 535.4,1883.5 536,1884.9 536.6,1886.2 537.2,1887.6 537.8,1888.9 538.4,1890.1 539,1891.4 539.6,1892.5 540.2,1893.7 540.8,1894.7 541.4,1895.8 542,1896.7 542.6,1897.6 543.2,1898.5 543.8,1899.4 544.4,1900.2 545,1901 545.6,1901.8 546.2,1902.5 546.8,1903.3 547.4,1904 548,1904.7 548.6,1905.3 549.2,1905.9 549.8,1906.6 550.4,1907.1 551,1907.7 551.6,1908.2 552.2,1908.8 552.8,1909.2 553.4,1909.7 554,1910.2 554.6,1910.6 555.2,1911.1 555.8,1911.5 556.4,1911.9 557,1912.3 557.6,1912.7 558.2,1913.1 558.8,1913.4 559.4,1913.8 560,1914.1 560.6,1914.4 561.2,1914.7 561.8,1914.9 562.4,1915.2 563,1915.4 563.6,1915.6 564.2,1915.8 564.8,1916 565.4,1916.2 566,1916.4 566.6,1916.6 567.2,1916.8 567.8,1916.9 568.4,1917.1 569,1917.2 569.6,1917.4 570.2,1917.6 570.8,1917.7 571.4,1917.8 572,1918 572.6,1918.1 573.2,1918.3 573.8,1918.4 574.4,1918.6 575,1918.7 575.6,1918.8 576.2,1918.9 576.8,1919.1 577.4,1919.2 578,1919.3 578.6,1919.5 579.2,1919.6 579.8,1919.7 580.4,1919.8 581,1919.9 581.6,1920 582.2,1920.2 582.8,1920.3 583.4,1920.4 584,1920.5 584.6,1920.6 585.2,1920.7 585.8,1920.8 586.4,1920.9 587,1921 587.6,1921.1 588.2,1921.2 588.8,1921.3 589.4,1921.4 590,1921.5 590.6,1921.6 591.2,1921.7 591.8,1921.8 592.4,1921.9 593,1922 593.6,1922.1 594.2,1922.1 594.8,1922.2 595.4,1922.3 596,1922.4 596.6,1922.5 597.2,1922.6 597.8,1922.6 598.4,1922.7 599,1922.8 599.6,1922.9 600.2,1922.9 600.8,1923 601.4,1923.1 602,1923.2 602.6,1923.2 603.2,1923.3 603.8,1923.4 604.4,1923.4 605,1923.5" fill="none" stroke="#0d0d0d" stroke-width="2.5" stroke-linejoin="round" stroke-linecap="round"/>
<rect x="11" y="1953" width="591.5" height="5.5" fill="#9c9c9c"/>
<text x="10.5" y="1983.6" font-size="26.1" fill="#9c9c9c">HC</text>
<line x1="235.5" y1="1856" x2="235.5" y2="1987" stroke="#e8442c" stroke-width="1.7" stroke-dasharray="1.5 1.1"/>
<line x1="454" y1="1898.5" x2="454" y2="1996" stroke="#e8442c" stroke-width="1.7" stroke-dasharray="1.5 1.1"/>
<polyline points="81,1986.7 81.5,1987 82,1986.5 82.5,1986.9 83,1987.2 83.5,1986.5 84,1986.2 84.5,1986.4 85,1986.6 85.5,1986.8 86,1985.8 86.5,1986.4 87,1986.3 87.5,1987.1 88,1986.2 88.5,1986.7 89,1986.5 89.5,1986.8 90,1987.1 90.5,1986.4 91,1986.1 91.5,1987 92,1986.3 92.5,1986.6 93,1986.7 93.5,1986 94,1986.3 94.5,1986.6 95,1986.3 95.5,1987.1 96,1986 96.5,1986.8 97,1986.3 97.5,1986.5 98,1986.3 98.5,1986.7 99,1986.9 99.5,1986.7 100,1986.5 100.5,1985.7 101,1986.6 101.5,1985.8 102,1986.9 102.5,1986.1 103,1985.9 103.5,1986 104,1986.5 104.5,1986.2 105,1986.5 105.5,1986.1 106,1986.8 106.5,1987 107,1986.5 107.5,1986.2 108,1986.1 108.5,1986.2 109,1986.9 109.5,1986.3 110,1986 110.5,1987.4 111,1987.1 111.5,1987 112,1986.3 112.5,1986.8 113,1986.2 113.5,1986.3 114,1986.7 114.5,1986.1 115,1986.5 115.5,1986.1 116,1986.8 116.5,1986.4 117,1986.6 117.5,1986.6 118,1986.2 118.5,1986.3 119,1986.2 119.5,1985.7 120,1986.6 120.5,1986.8 121,1986.9 121.5,1986.5 122,1986.8 122.5,1986.2 123,1986.4 123.5,1985.9 124,1986.3 124.5,1986.7 125,1986 125.5,1986.5 126,1987.4 126.5,1986.9 127,1986.6 127.5,1987 128,1986.8 128.5,1986.4 129,1987.6 129.5,1986.9 130,1986.9 130.5,1987 131,1986.3 131.5,1986.5 132,1986.9 132.5,1986.5 133,1986.6 133.5,1986.4 134,1986.4 134.5,1987 135,1986.4 135.5,1987.1 136,1986.8 136.5,1986.1 137,1986.3 137.5,1986.4 138,1987.1 138.5,1986.5 139,1986.9 139.5,1987.1 140,1986.7 140.5,1986.3 141,1986.7 141.5,1986.9 142,1986.6 142.5,1986.9 143,1986.4 143.5,1986.2 144,1986.5 144.5,1986.7 145,1986.1 145.5,1986.7 146,1986.4 146.5,1986.1 147,1986.7 147.5,1987.1 148,1986.1 148.5,1987.5 149,1986.7 149.5,1986.3 150,1986.8 150.5,1986 151,1986.7 151.5,1986.7 152,1985.8 152.5,1985.9 153,1986.2 153.5,1986.5 154,1986.7 154.5,1986.5 155,1986.3 155.5,1986.8 156,1986.8 156.5,1986.6 157,1986.5 157.5,1986.2 158,1986.6 158.5,1987.2 159,1986.8 159.5,1987 160,1986.1 160.5,1986.7 161,1986.2 161.5,1986.9 162,1986.8 162.5,1986.8 163,1987.1 163.5,1986.6 164,1987.1 164.5,1986.7 165,1986.5 165.5,1986.6 166,1987 166.5,1986.5 167,1987 167.5,1986.8 168,1986.5 168.5,1985.9 169,1986.8 169.5,1987.1 170,1986.6 170.5,1987.1 171,1986.5 171.5,1987.2 172,1987.4 172.5,1986.9 173,1987 173.5,1986.4 174,1987.4 174.5,1986.6 175,1987.1 175.5,1987.6 176,1987 176.5,1987 177,1987.1 177.5,1986.7 178,1986.7 178.5,1987.4 179,1986.7 179.5,1986.9 180,1986.5 180.5,1987.1 181,1986.6 181.5,1986.9 182,1986.9 182.5,1987 183,1986.8 183.5,1987 184,1987.5 184.5,1987.4 185,1987.3 185.5,1987.3 186,1986.6 186.5,1987.1 187,1987.3 187.5,1987.3 188,1987.4 188.5,1986.7 189,1987.3 189.5,1987 190,1987.3 190.5,1987.8 191,1987.4 191.5,1987.3 192,1987 192.5,1987.6 193,1986.6 193.5,1987 194,1986.5 194.5,1987.3 195,1987.1 195.5,1987.2 196,1987 196.5,1988.1 197,1987.7 197.5,1987.7 198,1987.2 198.5,1987.7 199,1987.5 199.5,1987.4 200,1987 200.5,1987.5 201,1986.6 201.5,1987.3 202,1986.7 202.5,1987.7 203,1987.8 203.5,1987.9 204,1987.1 204.5,1988 205,1988.3 205.5,1987.5 206,1987.4 206.5,1987.5 207,1987.5 207.5,1988 208,1987.5 208.5,1987.9 209,1987.8 209.5,1987.5 210,1987.8 210.5,1987.9 211,1987.9 211.5,1988 212,1987.8 212.5,1988.1 213,1987.3 213.5,1987.8 214,1988.4 214.5,1988.1 215,1987.9 215.5,1987.8 216,1987.9 216.5,1988 217,1987.5 217.5,1988 218,1988.1 218.5,1987.4 219,1987.6 219.5,1988.2 220,1988.1 220.5,1988.9 221,1989 221.5,1987.3 222,1988.1 222.5,1988.8 223,1988.5 223.5,1988.9 224,1988.9 224.5,1988.4 225,1988.9 225.5,1988.5 226,1988.1 226.5,1988.6 227,1989 227.5,1988.9 228,1988.5 228.5,1989.1 229,1989.1 229.5,1989.1 230,1988 230.5,1988.4 231,1988.5 231.5,1988.5 232,1988 232.5,1988.6 233,1989.2 233.5,1988.5 234,1989.7 234.5,1988.6 235,1989.1 235.5,1989 236,1988.7 236.5,1989.3 237,1989.4 237.5,1989.4 238,1990 238.5,1990 239,1989.3 239.5,1990.4 240,1989.8 240.5,1989.6 241,1990.8 241.5,1991.1 242,1990.6 242.5,1991.2 243,1991.2 243.5,1991.9 244,1991.8 244.5,1992.4 245,1992.2 245.5,1993.1 246,1993 246.5,1993.5 247,1992.3 247.5,1990.8 248,1989.9 248.5,1989.9 249,1988.7 249.5,1988.7 250,1988.4 250.5,1988.2 251,1987.8 251.5,1987.4 252,1986.7 252.5,1986.5 253,1986.3 253.5,1986.7 254,1985.9 254.5,1985.9 255,1986.1 255.5,1985.3 256,1985.5 256.5,1985.6 257,1985.4 257.5,1985.3 258,1985.5 258.5,1985 259,1985.5 259.5,1985.1 260,1984.6 260.5,1984.2 261,1984.8 261.5,1985.2 262,1985 262.5,1984.8 263,1985 263.5,1985.1 264,1984.9 264.5,1984.6 265,1985.4 265.5,1985 266,1985.1 266.5,1984.8 267,1985 267.5,1985.3 268,1984.7 268.5,1984.9 269,1984.9 269.5,1984.6 270,1985.6 270.5,1984.6 271,1985.2 271.5,1984.7 272,1984.9 272.5,1984.8 273,1984.7 273.5,1984.9 274,1984.2 274.5,1984.7 275,1985 275.5,1985.5 276,1985 276.5,1984.7 277,1985.3 277.5,1985.1 278,1984.6 278.5,1984.7 279,1984.5 279.5,1985.3 280,1984.6 280.5,1984.5 281,1985 281.5,1985.3 282,1984.7 282.5,1985.2 283,1984.5 283.5,1985.2 284,1985 284.5,1985 285,1984.2 285.5,1985.3 286,1985 286.5,1985 287,1984.6 287.5,1985.4 288,1984.8 288.5,1985.1 289,1984.9 289.5,1984.8 290,1985.2 290.5,1985.1 291,1985.4 291.5,1984.8 292,1985.2 292.5,1984.6 293,1985 293.5,1984.4 294,1985 294.5,1984.9 295,1984.7 295.5,1984.7 296,1984.9 296.5,1985.4 297,1984.9 297.5,1985 298,1985.1 298.5,1985.4 299,1985.3 299.5,1985.2 300,1984.4 300.5,1985.2 301,1984.8 301.5,1985.1 302,1984.7 302.5,1985.2 303,1984.8 303.5,1984.8 304,1985.1 304.5,1984.5 305,1985.4 305.5,1985 306,1984.9 306.5,1984.7 307,1985.2 307.5,1984.6 308,1985.4 308.5,1984.7 309,1985 309.5,1984.7 310,1985 310.5,1985.3 311,1984.8 311.5,1984.6 312,1984.9 312.5,1984.7 313,1985 313.5,1984.5 314,1984.8 314.5,1985.2 315,1985 315.5,1984.6 316,1984.9 316.5,1985 317,1985.2 317.5,1984.6 318,1985 318.5,1984.6 319,1984.4 319.5,1985.3 320,1985.2 320.5,1985.2 321,1985.3 321.5,1984.9 322,1985.4 322.5,1985.3 323,1984.7 323.5,1984.8 324,1984.4 324.5,1984.3 325,1985.2 325.5,1985.2 326,1984.7 326.5,1985.2 327,1985 327.5,1984.5" fill="none" stroke="#0d0d0d" stroke-width="3.6" stroke-linejoin="round" stroke-linecap="round"/>
<polygon points="359.8,1987.5 360.3,1986.8 360.8,1987.4 361.3,1987.3 361.8,1987.3 362.3,1987.2 362.8,1987.3 363.3,1986.8 363.8,1987.4 364.3,1986.8 364.8,1987.3 365.3,1986.8 365.8,1986.9 366.3,1986.8 366.8,1985.6 367.3,1987.2 367.8,1987 368.3,1986.9 368.8,1986.9 369.3,1987.2 369.8,1987.1 370.3,1987.5 370.8,1987.1 371.3,1986.7 371.8,1987.4 372.3,1987.1 372.8,1986.6 373.3,1986.7 373.8,1986.9 374.3,1987.4 374.8,1986.7 375.3,1987.4 375.8,1987.4 376.3,1987.1 376.8,1986.7 377.3,1987 377.8,1986.9 378.3,1987.4 378.8,1986.6 379.3,1987.3 379.8,1987.1 380.3,1986.7 380.8,1986 381.3,1986.6 381.8,1987 382.3,1987.1 382.8,1987 383.3,1987.6 383.8,1987.3 384.3,1987.4 384.8,1987.2 385.3,1987.3 385.8,1987 386.3,1987 386.8,1986.6 387.3,1987.5 387.8,1987.1 388.3,1986.6 388.8,1987.3 389.3,1986.9 389.8,1986.1 390.3,1987.4 390.8,1987.6 391.3,1987 391.8,1986.6 392.3,1987.4 392.8,1986.7 393.3,1987.3 393.8,1987.2 394.3,1986.9 394.8,1987.3 395.3,1986.8 395.8,1987 396.3,1987.3 396.8,1987.4 397.3,1987.6 397.8,1987.1 398.3,1985.9 398.8,1987.6 399.3,1986.9 399.8,1987.5 400.3,1986.8 400.8,1986.8 401.3,1987.1 401.8,1986.3 402.3,1987.5 402.8,1987.2 403.3,1986.4 403.8,1987.4 404.3,1986.9 404.8,1987 405.3,1987 405.8,1987.4 406.3,1987.6 406.8,1987.3 407.3,1987.6 407.8,1986.7 408.3,1987.4 408.8,1987.6 409.3,1986.9 409.8,1987.9 410.3,1987.9 410.8,1987.9 411.3,1987.3 411.8,1988.1 412.3,1987.9 412.8,1987.6 413.3,1987.4 413.8,1987.4 414.3,1988.2 414.8,1987.8 415.3,1988.1 415.8,1988.4 416.3,1987.9 416.8,1988.5 417.3,1987.6 417.8,1988.7 418.3,1988.5 418.8,1988.8 419.3,1988.4 419.8,1988.7 420.3,1988.4 420.8,1988.7 421.3,1988.7 421.8,1988.9 422.3,1988.3 422.8,1988.7 423.3,1988.9 423.8,1988.4 424.3,1989.5 424.8,1988.9 425.3,1988.8 425.8,1989.1 426.3,1989.8 426.8,1989.6 427.3,1988.8 427.8,1989.9 428.3,1989.4 428.8,1989.8 429.3,1989.8 429.8,1990.1 430.3,1989.6 430.8,1989.7 431.3,1990.6 431.8,1990.6 432.3,1990.5 432.8,1990.5 433.3,1990.3 433.8,1990.4 434.3,1990.4 434.8,1991.2 435.3,1991.8 435.8,1991.9 436.3,1991.9 436.8,1992.1 437.3,1992 437.8,1991.9 438.3,1991.8 438.8,1992.6 439.3,1992.7 439.8,1993.1 440.3,1992.8 440.8,1992.7 441.3,1993.3 441.8,1993.5 442.3,1993.5 442.8,1993.3 443.3,1994.1 443.8,1994.1 444.3,1993.4 444.8,1994.2 445.3,1994.3 445.8,1994 446.3,1994.6 446.8,1995.5 447.3,1995.7 447.8,1995.2 448.3,1996 448.8,1996.7 449.3,1996.7 449.8,1996.6 450.3,1996.8 450.8,1996.9 451.3,1998.2 451.8,1998.3 452.3,1997.6 452.8,1998.8 453.3,1998.7 453.8,2000.2 454.3,2000 454.8,2000.8 455.3,2001.2 455.8,2002.3 456.3,2002.4 456.8,2002.7 457.3,2003.7 457.8,2004.5 458.3,2004.3 458.8,2004.6 459.3,2004.3 459.8,2005.6 460.3,2007.3 460.8,2007.4 461.3,2008.5 461.8,2008.8 462.3,2010.9 462.8,2011.2 463.3,2012.5 463.8,2013 464.3,2013.9 464.8,2014.3 465.3,2014.8 465.8,2016.1 466.3,2015.9 466.8,2018.7 467.3,2018.8 467.8,2021.7 468.3,2023 468.8,2023.8 469.3,2024.8 469.8,2027.2 470.3,2027.4 470.8,2028.2 471.3,2029.6 471.8,2030.9 472.3,2030.2 472.8,2032.6 473.3,2034.6 473.8,2036.6 474.3,2038.5 474.8,2039.4 475.3,2040.6 475.8,2040.6 476.3,2043.3 476.8,2043.8 477.3,2045.1 477.8,2046.8 478.3,2048.1 478.8,2048.3 479.3,2050.6 479.8,2051 480.3,2053.7 480.8,2054.2 481.3,2058.2 481.8,2059.7 482.3,2061.4 482.8,2062.6 483.3,2063.2 483.8,2066.2 484.3,2066 484.8,2069.8 485.3,2071.3 485.8,2072.6 486.3,2074 486.8,2075.8 487.3,2078.4 487.8,2079.2 488.3,2081.9 488.8,2083.9 489.3,2085.8 489.8,2087.4 490.3,2088 490.8,2088.1 491.3,2090 491.8,2092.5 492.3,2093.8 492.8,2097.8 493.3,2096.6 493.8,2099.1 494.3,2102.8 494.8,2106.1 495.3,2107.4 495.8,2108.9 496.3,2108.5 496.8,2110.1 497.3,2111.4 497.8,2112.3 498.3,2114.1 498.8,2116.3 499.3,2117.5 499.8,2120 500.3,2122 500.8,2121 501.3,2123.2 501.8,2123.5 502.3,2126.3 502.8,2127.4 503.3,2128.8 503.8,2130.6 504.3,2131 504.8,2130.9 505.3,2132.6 505.8,2137.8 506.3,2138.4 506.8,2140.7 507.3,2141.9 507.8,2143.4 508.3,2143.2 508.8,2144.1 509.3,2144.7 509.8,2146.9 510.3,2148.8 510.8,2150.8 511.3,2149.4 511.8,2152.6 512.3,2155.9 512.8,2155.5 513.3,2157 513.8,2158 514.3,2159.6 514.8,2159.9 515.3,2159.9 515.8,2162.9 516.3,2165.3 516.8,2167.2 517.3,2169 517.8,2168.9 518.3,2173.5 518.8,2176.6 519.3,2178.2 519.8,2179.3 520.3,2182.6 520.8,2182.8 521.3,2185.7 521.8,2188.3 522.3,2189.8 522.8,2192 523.3,2190.7 523.8,2185.5 524.3,2175.1 524.8,2163.4 525.3,2151.5 525.8,2137.2 526.3,2119 526.8,2102.4 527.3,2089.2 527.8,2080 528.3,2071.9 528.8,2064.9 529.3,2058.9 529.8,2053.5 530.3,2048.5 530.8,2043.6 531.3,2039.9 531.8,2035.4 532.3,2032.5 532.8,2029.2 533.3,2025.1 533.8,2023.1 534.3,2020.6 534.8,2017.3 535.3,2015 535.8,2014.2 536.3,2012.5 536.8,2010.4 537.3,2008.7 537.8,2007.4 538.3,2005.9 538.8,2004.3 539.3,2003.8 539.8,2003.2 540.3,2002.1 540.8,2001.3 541.3,2000.2 541.8,1999 542.3,1998 542.8,1998.2 543.3,1997.4 543.8,1996.9 544.3,1996 544.8,1995.9 545.3,1995.5 545.8,1993.9 546.3,1993.9 546.8,1994 547.3,1993.8 547.8,1993.1 548.3,1993.8 548.8,1993.4 549.3,1993.5 549.8,1993.1 550.3,1993.3 550.8,1992.3 551.3,1993 551.8,1991.8 552.3,1992.4 552.8,1992.4 553.3,1991.7 553.8,1991.8 554.3,1991.2 554.8,1991.9 555.3,1991.7 555.8,1991.6 556.3,1991.1 556.8,1991.2 557.3,1991.1 557.8,1991.4 558.3,1991.4 558.8,1990.3 559.3,1990.7 559.8,1991.4 560.3,1990.6 560.8,1990.6 561.3,1990.4 561.8,1990.8 562.3,1990.6 562.8,1990.6 563.3,1989.5 563.8,1989.7 564.3,1990.1 564.8,1990.3 565.3,1990.2 565.8,1990.2 566.3,1990 566.8,1990.2 567.3,1990.3 567.8,1989.4 568.3,1989.9 568.8,1989.7 569.3,1989.3 569.8,1990 570.3,1990.1 570.8,1989.3 571.3,1989.6 571.8,1989.3 572.3,1989.2 572.8,1989 573.3,1989.7 573.8,1989.5 574.3,1989.3 574.8,1989.1 575.3,1989.5 575.8,1988.7 576.3,1989.4 576.8,1989.1 577.3,1989.3 577.8,1989.5 578.3,1988.6 578.8,1988.9 579.3,1989.2 579.8,1989.1 580.3,1989.1 580.8,1988.5 581.3,1989.3 581.8,1989.2 582.3,1988.7 582.8,1988.9 583.3,1988.9 583.8,1988.2 584.3,1988.8 584.8,1989 585.3,1988.3 585.8,1989.3 586.3,1989.1 586.8,1988.8 587.3,1989.2 587.8,1989.2 588.3,1988.8 588.8,1989 589.3,1988.9 589.8,1988.5 590.3,1988.8 590.8,1988.7 591.3,1988.3 591.8,1988.5 592.3,1988.6 592.8,1988.5 593.3,1989 593.8,1988.5 594.3,1988.7 594.8,1989 595.3,1988.5 595.8,1988.6 596.3,1988.4 596.8,1988.5 597.3,1989 597.8,1988.8 598.3,1988.2 598.8,1987.6 599.3,1988.5 599.8,1988.9 600.3,1988.1 600.8,1988.5 601.3,1987.9 601.8,1988.6 602.3,1988.4 602.8,1987.8 603.3,1988.4 603.3,1993.6 602.8,1992.7 602.3,1992.7 601.8,1993.7 601.3,1994.1 600.8,1992.9 600.3,1993 599.8,1992.9 599.3,1992.9 598.8,1993.2 598.3,1993.1 597.8,1993.6 597.3,1993 596.8,1993.4 596.3,1993.4 595.8,1993.2 595.3,1993.6 594.8,1993.1 594.3,1993 593.8,1993.9 593.3,1993.4 592.8,1993.2 592.3,1992.9 591.8,1994 591.3,1993 590.8,1993.9 590.3,1993 589.8,1994.4 589.3,1993.2 588.8,1993.8 588.3,1993.3 587.8,1993.6 587.3,1993.9 586.8,1993.4 586.3,1993.4 585.8,1993.3 585.3,1993.2 584.8,1993.8 584.3,1994.2 583.8,1993.7 583.3,1994.2 582.8,1993.2 582.3,1993.6 581.8,1994 581.3,1993.8 580.8,1993.3 580.3,1994 579.8,1993.5 579.3,1994.2 578.8,1994 578.3,1993.9 577.8,1993.5 577.3,1993.6 576.8,1993.3 576.3,1993.6 575.8,1994 575.3,1993.5 574.8,1993.5 574.3,1993.8 573.8,1993.9 573.3,1993.8 572.8,1994.9 572.3,1993.9 571.8,1993.9 571.3,1994.1 570.8,1994 570.3,1994.3 569.8,1994.5 569.3,1994.3 568.8,1994.4 568.3,1994.4 567.8,1994.3 567.3,1994.3 566.8,1994.6 566.3,1995.2 565.8,1994.4 565.3,1994.7 564.8,1995.3 564.3,1994.9 563.8,1994.7 563.3,1994.9 562.8,1994.7 562.3,1994.6 561.8,1995.1 561.3,1994.9 560.8,1995.5 560.3,1995.7 559.8,1996.2 559.3,1995.9 558.8,1995.3 558.3,1995.7 557.8,1996.1 557.3,1995.8 556.8,1996.5 556.3,1996.4 555.8,1995.7 555.3,1996.7 554.8,1996.3 554.3,1996.6 553.8,1996.6 553.3,1996.6 552.8,1996.5 552.3,1997.1 551.8,1996.9 551.3,1997.4 550.8,1998 550.3,1998.3 549.8,1997.8 549.3,1997.9 548.8,1997.9 548.3,1997.8 547.8,1998.4 547.3,1998 546.8,1998.4 546.3,1998.7 545.8,1999.6 545.3,1999.7 544.8,1999.5 544.3,2001.3 543.8,2000.8 543.3,2001.3 542.8,2001.7 542.3,2002.5 541.8,2002.9 541.3,2004.6 540.8,2004.6 540.3,2005.3 539.8,2006.7 539.3,2007.3 538.8,2009 538.3,2009.6 537.8,2010.7 537.3,2012.4 536.8,2013.8 536.3,2015.4 535.8,2017.9 535.3,2019.3 534.8,2022.1 534.3,2023.6 533.8,2026.5 533.3,2029.2 532.8,2031.7 532.3,2035.2 531.8,2038.4 531.3,2042.3 530.8,2046.8 530.3,2050.8 529.8,2055.9 529.3,2062 528.8,2067.9 528.3,2074.6 527.8,2083 527.3,2091.8 526.8,2104.9 526.3,2121.5 525.8,2139.2 525.3,2154.9 524.8,2167.1 524.3,2179.4 523.8,2189.7 523.3,2197 522.8,2198.5 522.3,2198.1 521.8,2199.1 521.3,2198.4 520.8,2200.6 520.3,2198.4 519.8,2200.7 519.3,2197.9 518.8,2198.6 518.3,2198.9 517.8,2195.9 517.3,2194 516.8,2191.4 516.3,2190.8 515.8,2189.7 515.3,2187.4 514.8,2184.6 514.3,2184.8 513.8,2183.4 513.3,2181.2 512.8,2180.2 512.3,2180.3 511.8,2178.5 511.3,2177 510.8,2175.1 510.3,2174.5 509.8,2171.6 509.3,2171.4 508.8,2170 508.3,2167.6 507.8,2168.2 507.3,2166.8 506.8,2164.7 506.3,2162.9 505.8,2163.5 505.3,2161 504.8,2156.8 504.3,2155.8 503.8,2156.9 503.3,2153.6 502.8,2150.8 502.3,2151.4 501.8,2149.4 501.3,2148.1 500.8,2144.7 500.3,2145.2 499.8,2143.3 499.3,2143.5 498.8,2138.9 498.3,2138 497.8,2135.6 497.3,2134.7 496.8,2132.3 496.3,2133.5 495.8,2130.5 495.3,2130.2 494.8,2129.1 494.3,2125.7 493.8,2124 493.3,2120.9 492.8,2119.7 492.3,2117 491.8,2114.8 491.3,2113.2 490.8,2110.8 490.3,2108.4 489.8,2108.9 489.3,2106.9 488.8,2105.3 488.3,2102.4 487.8,2100.1 487.3,2098.5 486.8,2096.5 486.3,2095.3 485.8,2092.4 485.3,2091.5 484.8,2089.3 484.3,2087.7 483.8,2085 483.3,2083.8 482.8,2082.2 482.3,2080.6 481.8,2079.2 481.3,2078.2 480.8,2074.5 480.3,2072.1 479.8,2070.9 479.3,2068.7 478.8,2066.6 478.3,2067.3 477.8,2065.7 477.3,2064.8 476.8,2060.6 476.3,2059.9 475.8,2058.7 475.3,2057.7 474.8,2055.9 474.3,2054.9 473.8,2052.8 473.3,2050.1 472.8,2048.7 472.3,2047 471.8,2046.6 471.3,2044.6 470.8,2043.7 470.3,2042.8 469.8,2041.5 469.3,2039.5 468.8,2038.5 468.3,2036.1 467.8,2035.4 467.3,2033 466.8,2031 466.3,2029.5 465.8,2029.9 465.3,2026.5 464.8,2025.8 464.3,2025.4 463.8,2023.4 463.3,2022.5 462.8,2021 462.3,2020.9 461.8,2019.8 461.3,2017.8 460.8,2017.3 460.3,2016.4 459.8,2014.4 459.3,2013.6 458.8,2012.5 458.3,2011.8 457.8,2011.2 457.3,2010.7 456.8,2009.8 456.3,2010.2 455.8,2008.6 455.3,2007.5 454.8,2007.1 454.3,2005.8 453.8,2005.7 453.3,2004.3 452.8,2003.9 452.3,2005.1 451.8,2002.9 451.3,2003.6 450.8,2002.4 450.3,2002.2 449.8,2002.1 449.3,2001.3 448.8,2000.9 448.3,2000.4 447.8,2000.4 447.3,1999.9 446.8,1999.5 446.3,1999.3 445.8,1999.4 445.3,1999.1 444.8,1998.6 444.3,1997.9 443.8,1997.4 443.3,1997.1 442.8,1997.5 442.3,1997.1 441.8,1996.8 441.3,1996.5 440.8,1996.8 440.3,1996.3 439.8,1996.8 439.3,1995.6 438.8,1995.1 438.3,1995 437.8,1995 437.3,1995.3 436.8,1994.7 436.3,1995 435.8,1994.5 435.3,1994.9 434.8,1994.4 434.3,1994.6 433.8,1994 433.3,1994.2 432.8,1993.6 432.3,1993.9 431.8,1993.2 431.3,1993 430.8,1993.6 430.3,1993.5 429.8,1993 429.3,1993.2 428.8,1992.6 428.3,1993 427.8,1992.3 427.3,1992.5 426.8,1992.5 426.3,1993.5 425.8,1992 425.3,1992.2 424.8,1992.1 424.3,1992.8 423.8,1992.1 423.3,1992.3 422.8,1992.2 422.3,1991.9 421.8,1991.5 421.3,1991.4 420.8,1991.6 420.3,1991.2 419.8,1991.1 419.3,1991.1 418.8,1991.3 418.3,1991.5 417.8,1991.1 417.3,1991 416.8,1991.2 416.3,1991.1 415.8,1991 415.3,1991 414.8,1990.6 414.3,1990.5 413.8,1990.4 413.3,1990.7 412.8,1990.8 412.3,1991.1 411.8,1990.5 411.3,1991.1 410.8,1990.7 410.3,1990.5 409.8,1990.9 409.3,1990.1 408.8,1990.5 408.3,1989.9 407.8,1990.3 407.3,1990.9 406.8,1990.1 406.3,1989.8 405.8,1990.4 405.3,1990.3 404.8,1990 404.3,1989.9 403.8,1990.6 403.3,1990.1 402.8,1990 402.3,1989.8 401.8,1990.1 401.3,1989.9 400.8,1991.3 400.3,1990 399.8,1989.9 399.3,1990 398.8,1989.9 398.3,1989.6 397.8,1989.9 397.3,1989.8 396.8,1989.6 396.3,1990.2 395.8,1989.8 395.3,1990 394.8,1990.1 394.3,1990 393.8,1989.7 393.3,1990 392.8,1990.5 392.3,1990.2 391.8,1989.6 391.3,1989.8 390.8,1990.2 390.3,1989.7 389.8,1990.3 389.3,1989.7 388.8,1989.4 388.3,1989.8 387.8,1989.6 387.3,1990.3 386.8,1990.2 386.3,1989.7 385.8,1990.2 385.3,1989.7 384.8,1989.5 384.3,1989.6 383.8,1990.2 383.3,1990.4 382.8,1989.9 382.3,1989.7 381.8,1990 381.3,1989.8 380.8,1989.4 380.3,1989.4 379.8,1990.4 379.3,1990 378.8,1989.7 378.3,1989.9 377.8,1990.4 377.3,1989.5 376.8,1989.3 376.3,1989.4 375.8,1989.4 375.3,1989.6 374.8,1989.2 374.3,1989.2 373.8,1989.9 373.3,1989.7 372.8,1989.9 372.3,1989.4 371.8,1989.4 371.3,1989.3 370.8,1989.4 370.3,1989.8 369.8,1989.9 369.3,1989.3 368.8,1989.8 368.3,1989.4 367.8,1989.3 367.3,1989.4 366.8,1989.8 366.3,1989.3 365.8,1989.2 365.3,1989.5 364.8,1989.5 364.3,1989.2 363.8,1989.5 363.3,1989.4 362.8,1989.7 362.3,1989.3 361.8,1989.4 361.3,1989.4 360.8,1989.5 360.3,1989.7 359.8,1989.1" fill="#08a0cd" stroke="#08a0cd" stroke-width="3" stroke-linejoin="round"/>
<text x="81.4" y="2027.5" font-size="26.1" fill="#0d0d0d">control</text>
<text x="320" y="2063.5" font-size="26.1" fill="#08a0cd">pBQ 30 s</text>
<line x1="79.7" y1="2092.3" x2="79.7" y2="2247.7" stroke="#0d0d0d" stroke-width="2.3"/>
<line x1="71" y1="2117.9" x2="79.7" y2="2117.9" stroke="#0d0d0d" stroke-width="2.3"/>
<line x1="71" y1="2182" x2="79.7" y2="2182" stroke="#0d0d0d" stroke-width="2.3"/>
<line x1="71" y1="2246.5" x2="79.7" y2="2246.5" stroke="#0d0d0d" stroke-width="2.3"/>
<text x="69.6" y="2126.1" font-size="23" fill="#0d0d0d" text-anchor="end">2</text>
<text x="69.6" y="2190.2" font-size="23" fill="#0d0d0d" text-anchor="end">1</text>
<text x="69.6" y="2254.7" font-size="23" fill="#0d0d0d" text-anchor="end">0</text>
<line x1="106.5" y1="2218.7" x2="106.5" y2="2224.3" stroke="#0d0d0d" stroke-width="1.8"/>
<line x1="102" y1="2218.7" x2="111" y2="2218.7" stroke="#0d0d0d" stroke-width="1.8"/>
<rect x="87.5" y="2224.3" width="38" height="22.2" fill="#171717" stroke="#0d0d0d" stroke-width="1.9"/>
<line x1="170.7" y1="2115.1" x2="170.7" y2="2142.9" stroke="#0d0d0d" stroke-width="1.8"/>
<line x1="166.2" y1="2115.1" x2="175.2" y2="2115.1" stroke="#0d0d0d" stroke-width="1.8"/>
<rect x="152.3" y="2142.9" width="36.6" height="103.6" fill="#08a0cd" stroke="#0d0d0d" stroke-width="1.9"/>
<line x1="71" y1="2246.5" x2="197.5" y2="2246.5" stroke="#0d0d0d" stroke-width="2.3"/>
<text transform="translate(27.7 2163.5) rotate(-90)" font-size="26.3" fill="#0d0d0d" text-anchor="middle">max. current [nA]</text>
<text x="172.2" y="2099.9" font-size="30.5" fill="#0d0d0d" stroke="#0d0d0d" stroke-width="0.5" text-anchor="middle">*</text>
<text x="75.7" y="2282.8" font-size="26.1" fill="#0d0d0d" letter-spacing="-0.45">contr.</text>
<text x="143.8" y="2282.8" font-size="26.1" fill="#08a0cd">pBQ</text>
<line x1="300.8" y1="2081.2" x2="300.8" y2="2247.7" stroke="#0d0d0d" stroke-width="2.3"/>
<line x1="293.8" y1="2098.5" x2="300.8" y2="2098.5" stroke="#0d0d0d" stroke-width="2.3"/>
<line x1="293.8" y1="2187.2" x2="300.8" y2="2187.2" stroke="#0d0d0d" stroke-width="2.3"/>
<line x1="296.3" y1="2128" x2="300.8" y2="2128" stroke="#0d0d0d" stroke-width="1.7"/>
<line x1="296.3" y1="2157.4" x2="300.8" y2="2157.4" stroke="#0d0d0d" stroke-width="1.7"/>
<line x1="296.3" y1="2217" x2="300.8" y2="2217" stroke="#0d0d0d" stroke-width="1.7"/>
<text x="289.6" y="2106.7" font-size="23" fill="#0d0d0d" text-anchor="end">45</text>
<text x="289.6" y="2195.4" font-size="23" fill="#0d0d0d" text-anchor="end">30</text>
<line x1="327.4" y1="2102.7" x2="327.4" y2="2113.1" stroke="#0d0d0d" stroke-width="1.8"/>
<line x1="322.9" y1="2102.7" x2="331.9" y2="2102.7" stroke="#0d0d0d" stroke-width="1.8"/>
<rect x="309.3" y="2113.1" width="36.2" height="133.4" fill="#171717" stroke="#0d0d0d" stroke-width="1.9"/>
<line x1="391.6" y1="2168.8" x2="391.6" y2="2177.5" stroke="#0d0d0d" stroke-width="1.8"/>
<line x1="387.1" y1="2168.8" x2="396.1" y2="2168.8" stroke="#0d0d0d" stroke-width="1.8"/>
<rect x="373.4" y="2177.5" width="36.2" height="69" fill="#08a0cd" stroke="#0d0d0d" stroke-width="1.9"/>
<line x1="296.3" y1="2246.5" x2="419.3" y2="2246.5" stroke="#0d0d0d" stroke-width="2.3"/>
<text transform="translate(243.6 2163.1) rotate(-90)" font-size="26.3" fill="#0d0d0d" text-anchor="middle">threshold [°C]</text>
<text x="392.6" y="2162.2" font-size="30.5" fill="#0d0d0d" stroke="#0d0d0d" stroke-width="0.5" text-anchor="middle">*</text>
<text x="296.8" y="2282.8" font-size="26.1" fill="#0d0d0d" letter-spacing="-0.45">contr.</text>
<text x="365.6" y="2282.8" font-size="26.1" fill="#08a0cd">pBQ</text>
<polyline points="458.8,2120.5 458.8,2230 540,2230" fill="none" stroke="#0d0d0d" stroke-width="2"/>
<text transform="translate(450.1 2173.8) rotate(-90)" font-size="26.3" fill="#0d0d0d" text-anchor="middle">1 nA</text>
<text x="484" y="2258.5" font-size="26.1" fill="#0d0d0d">5 s</text>
<text x="552.5" y="2295" font-size="22.9" fill="#0d0d0d">n = 7</text>
</g>
<g>
<text x="620" y="1487.3" font-size="46.8" fill="#0d0d0d">I</text>
<defs><filter id="gn" x="0" y="0" width="100%" height="100%" color-interpolation-filters="sRGB"><feTurbulence type="fractalNoise" baseFrequency="0.55" numOctaves="2" seed="3"/><feColorMatrix type="matrix" values="1 0 0 0 0  1 0 0 0 0  1 0 0 0 0  0 0 0 0 0.16"/></filter><radialGradient id="cg"><stop offset="0" stop-color="#969696"/><stop offset="0.6" stop-color="#a0a0a0"/><stop offset="0.74" stop-color="#7a7a7a"/><stop offset="0.86" stop-color="#262626"/><stop offset="0.95" stop-color="#2e2e2e"/><stop offset="1" stop-color="#686868"/></radialGradient><radialGradient id="gg"><stop offset="0" stop-color="#40a037"/><stop offset="0.6" stop-color="#389131"/><stop offset="0.85" stop-color="#266b22"/><stop offset="1" stop-color="#0a2a0a" stop-opacity="0"/></radialGradient><radialGradient id="gd"><stop offset="0" stop-color="#226a22"/><stop offset="0.7" stop-color="#1c561c"/><stop offset="1" stop-color="#072007" stop-opacity="0"/></radialGradient><clipPath id="c1"><rect x="644.5" y="1483" width="112.4" height="147.6"/></clipPath><clipPath id="c2"><rect x="763.6" y="1483" width="112.4" height="147.6"/></clipPath></defs>
<rect x="644.5" y="1483" width="112.4" height="147.6" fill="#7a7a7a"/>
<g clip-path="url(#c1)">
<circle cx="688" cy="1501.5" r="11.6" fill="url(#cg)"/>
<circle cx="742.5" cy="1533" r="11.6" fill="url(#cg)"/>
<circle cx="688" cy="1549.5" r="11.6" fill="url(#cg)"/>
<circle cx="658" cy="1551.5" r="10.2" fill="url(#cg)"/>
<circle cx="735.5" cy="1580" r="12" fill="url(#cg)"/>
<circle cx="672.5" cy="1600.5" r="11.6" fill="url(#cg)"/>
<circle cx="645.5" cy="1616" r="8.5" fill="url(#cg)"/>
<circle cx="665.5" cy="1560" r="3.2" fill="#a0a0a0" stroke="#3c3c3c" stroke-width="1.2"/>
<circle cx="699.5" cy="1532.5" r="2" fill="#555"/>
<rect x="644.5" y="1483" width="112.4" height="147.6" filter="url(#gn)"/>
</g>
<rect x="699.2" y="1619.1" width="51.2" height="6.3" fill="#1a1a1a"/>
<line x1="706" y1="1588.5" x2="677.7" y2="1569.4" stroke="#e0311f" stroke-width="4.8"/>
<polygon points="669,1563.5 683.2,1564.9 675.6,1576.1" fill="#e0311f"/>
<rect x="763.6" y="1483" width="112.4" height="147.6" fill="#030503"/>
<g clip-path="url(#c2)">
<circle cx="808" cy="1501.5" r="12.5" fill="url(#gg)"/>
<circle cx="862" cy="1533" r="12.5" fill="url(#gg)"/>
<circle cx="808" cy="1549.5" r="12.5" fill="url(#gg)"/>
<circle cx="778" cy="1551.5" r="11" fill="url(#gd)"/>
<circle cx="856" cy="1580" r="13" fill="url(#gg)"/>
<circle cx="793" cy="1600.5" r="12.5" fill="url(#gg)"/>
<circle cx="766" cy="1616" r="9.5" fill="url(#gg)"/>
</g>
<rect x="818.5" y="1619.1" width="51" height="6.3" fill="#ffffff"/>
<line x1="824" y1="1588.5" x2="795.2" y2="1569.3" stroke="#e0311f" stroke-width="4.8"/>
<polygon points="786.5,1563.5 800.7,1564.8 793.1,1576.1" fill="#e0311f"/>
<text transform="translate(906 1552.8) rotate(-90)" font-size="26.1" fill="#0d0d0d" text-anchor="middle">F 340/380 nm</text>
<line x1="963.5" y1="1485" x2="963.5" y2="1621" stroke="#0d0d0d" stroke-width="3"/>
<line x1="956" y1="1501.5" x2="963.5" y2="1501.5" stroke="#0d0d0d" stroke-width="2.4"/>
<text x="952.5" y="1510.5" font-size="25" fill="#0d0d0d" text-anchor="end">0.8</text>
<line x1="956" y1="1535.5" x2="963.5" y2="1535.5" stroke="#0d0d0d" stroke-width="2.4"/>
<text x="952.5" y="1544.5" font-size="25" fill="#0d0d0d" text-anchor="end">0.6</text>
<line x1="956" y1="1570" x2="963.5" y2="1570" stroke="#0d0d0d" stroke-width="2.4"/>
<text x="952.5" y="1579" font-size="25" fill="#0d0d0d" text-anchor="end">0.4</text>
<line x1="956" y1="1604" x2="963.5" y2="1604" stroke="#0d0d0d" stroke-width="2.4"/>
<text x="952.5" y="1613" font-size="25" fill="#0d0d0d" text-anchor="end">0.2</text>
<polyline points="965,1575.5 971,1574.5 977,1576 983,1577 989,1576.5 995,1577.7 1001,1577.1 1007,1576.9 1013,1576.5 1019,1576.1 1025,1576.1 1031,1576.3 1037,1575.9 1043,1576.3 1049,1576.5 1055,1576.1 1061,1576.7 1067,1576.3 1073,1576.9 1079,1575.9 1085,1577.1 1091,1575.7 1097,1577.5 1103,1576.9 1109,1576.7 1115,1576.5 1121,1576.1 1127,1576.3 1133,1576.5 1139,1576.1 1145,1576.9 1151,1576.5 1157,1575.7 1158,1574.5 1162.5,1570 1167.5,1540 1172.5,1515 1177.5,1497.5 1183.5,1488.5 1190,1500 1195,1505 1202.5,1502.5 1207.5,1504 1212.5,1511 1220,1511 1230,1510 1236,1511.5" fill="none" stroke="#d8401f" stroke-width="1.3" stroke-linejoin="round" stroke-linecap="round"/>
<polyline points="965,1606 970,1605.8 975,1605.7 980,1605.4 985,1605.6 990,1605 995,1605.5 1000,1605.3 1005,1605.4 1010,1605.4 1015,1605.8 1020,1605.2 1025,1605.2 1030,1605.1 1035,1605.4 1040,1605.1 1045,1605.1 1050,1604.8 1055,1604.9 1060,1605.1 1065,1604.8 1070,1605.1 1075,1605.4 1080,1605.5 1085,1605.8 1090,1605.6 1095,1605.6 1100,1605.3 1105,1605.3 1110,1605.5 1115,1605.3 1120,1605.2 1125,1605 1130,1604.8 1135,1604.6 1140,1604.6 1145,1604.3 1150,1604.4 1155,1604.9 1160,1605.1 1165,1605.1 1170,1604.8 1175,1604.6 1180,1605.1 1185,1605.2 1190,1605 1195,1605.1 1200,1605.7 1205,1605.7 1210,1605.9 1215,1606 1220,1605.9 1225,1605.6 1230,1605.5 1235,1605.5" fill="none" stroke="#e9c81e" stroke-width="1.1" stroke-linejoin="round" stroke-linecap="round"/>
<polyline points="965,1615.4 970,1615.4 975,1615 980,1615.4 985,1615 990,1614.9 995,1615 1000,1614.8 1005,1614.6 1010,1614.4 1015,1614.5 1020,1615 1025,1615.1 1030,1614.9 1035,1615 1040,1614.9 1045,1614.9 1050,1615.2 1055,1615.1 1060,1615.1 1065,1614.9 1070,1614.9 1075,1615 1080,1614.8 1085,1614.8 1090,1614.7 1095,1614.6 1100,1614.4 1105,1614.1 1110,1614.1 1115,1614.1 1120,1614.6 1125,1614.1 1130,1614.2 1135,1614.3 1140,1614.6 1145,1614.7 1150,1614.5 1155,1614.6 1160,1614.7 1165,1614.7 1170,1614.9 1175,1614.5 1180,1614.9 1185,1615.2 1190,1615.2 1195,1615.3 1200,1615.4 1205,1615.2 1210,1615.2 1215,1615.5 1220,1615.4 1225,1615.4 1230,1615.4 1235,1615.5" fill="none" stroke="#6f9c9c" stroke-width="1.1" stroke-linejoin="round" stroke-linecap="round"/>
<polyline points="965,1595.9 970,1596.1 975,1596.2 980,1595.7 985,1595.7 990,1595.7 995,1595.7 1000,1595.6 1005,1595.6 1010,1595.5 1015,1595.2 1020,1595.5 1025,1595.8 1030,1596.2 1035,1596.3 1040,1596.2 1045,1596.1 1050,1595.8 1055,1596.1 1060,1595.8 1065,1595.6 1070,1595.6 1075,1596 1080,1596.1 1085,1595.9 1090,1595.7 1095,1595.9 1100,1595.9 1105,1595.8 1110,1595.8 1115,1596 1120,1596.5 1125,1596.3 1130,1596.2 1135,1596 1140,1595.4 1145,1595.3 1150,1595.1 1155,1595.4 1160,1595.4 1165,1595 1170,1595.2 1175,1595.2 1180,1594.8 1185,1594.7 1190,1594.6 1195,1594.4 1200,1594.5 1205,1594 1210,1593.9 1215,1594.2 1220,1594.5 1225,1594.8 1230,1595.1 1235,1595.5" fill="none" stroke="#7b2a7b" stroke-width="1.1" stroke-linejoin="round" stroke-linecap="round"/>
<polyline points="965,1594.5 970,1594.6 975,1594.4 980,1594.5 985,1594.5 990,1594.2 995,1594.1 1000,1594.2 1005,1594.2 1010,1594 1015,1594.1 1020,1594.1 1025,1594.2 1030,1594.3 1035,1594 1040,1594.1 1045,1594 1050,1594.3 1055,1594.4 1060,1594.4 1065,1594.2 1070,1594.2 1075,1594.3 1080,1594.1 1085,1594.4 1090,1594.5 1095,1594.8 1100,1594.6 1105,1594.9 1110,1594.7 1115,1594.5 1120,1594.6 1125,1594.6 1130,1594.2 1135,1594 1140,1594.2 1145,1594.5 1150,1594.7 1155,1594.6 1160,1594.8 1165,1594.6 1170,1594.7 1175,1594.4 1180,1594.4 1185,1594.4 1190,1594.5 1195,1594.5 1200,1594.7 1205,1594.7 1210,1594.8 1215,1595 1220,1594.6 1225,1594.6 1230,1594.6 1235,1594.5" fill="none" stroke="#303030" stroke-width="1.1" stroke-linejoin="round" stroke-linecap="round"/>
<polyline points="965,1590.6 970,1590.5 975,1591.2 980,1591.1 985,1591.1 990,1591.5 995,1591.2 1000,1591.1 1005,1591.1 1010,1591 1015,1590.6 1020,1590.5 1025,1590.4 1030,1590.6 1035,1590.1 1040,1589.9 1045,1590.2 1050,1590.7 1055,1590.2 1060,1590.4 1065,1590.1 1070,1589.8 1075,1589.6 1080,1589.4 1085,1589.7 1090,1589.9 1095,1589.9 1100,1589.7 1105,1589.7 1110,1589.7 1115,1589.9 1120,1589.7 1125,1589.7 1130,1589.6 1135,1589.6 1140,1589.6 1145,1589.7 1150,1590 1155,1590 1160,1590.4 1165,1590.3 1170,1590.1 1175,1590.1 1180,1590.2 1185,1590.3 1190,1590.6 1195,1590.9 1200,1591 1205,1590.9 1210,1590.9 1215,1591.2 1220,1591.3 1225,1590.9 1230,1590.7 1235,1590.5" fill="none" stroke="#2f9a4f" stroke-width="1.1" stroke-linejoin="round" stroke-linecap="round"/>
<polyline points="965,1589.4 970,1589.6 975,1589.7 980,1589.4 985,1588.6 990,1588.8 995,1589.2 1000,1588.7 1005,1589.2 1010,1589 1015,1589.8 1020,1590 1025,1589.9 1030,1590.2 1035,1590.3 1040,1590.3 1045,1590.3 1050,1590.2 1055,1590.4 1060,1590.6 1065,1590.7 1070,1591.3 1075,1590.8 1080,1590.7 1085,1590.9 1090,1590.5 1095,1591 1100,1591.2 1105,1591.1 1110,1591.3 1115,1591.1 1120,1590.6 1125,1590.8 1130,1591.1 1135,1591.1 1140,1591.1 1145,1590.4 1150,1590.1 1155,1590 1160,1590 1165,1590.4 1170,1590.2 1175,1590 1180,1590.3 1185,1590.2 1190,1589.8 1195,1590.1 1200,1589.8 1205,1589.6 1210,1589.3 1215,1589.4 1220,1589.7 1225,1589.6 1230,1589.7 1235,1589.5" fill="none" stroke="#2b3fb0" stroke-width="1.1" stroke-linejoin="round" stroke-linecap="round"/>
<polyline points="965,1588.5 970,1588.8 975,1588.3 980,1587.9 985,1587.3 990,1588 995,1588.5 1000,1589.1 1005,1589.3 1010,1589.6 1015,1589.3 1020,1589.8 1025,1589.5 1030,1589.4 1035,1589.3 1040,1589 1045,1589.3 1050,1589.2 1055,1589.2 1060,1589.2 1065,1589.6 1070,1589.4 1075,1589.4 1080,1589.5 1085,1589 1090,1588.9 1095,1589.1 1100,1589.4 1105,1589.5 1110,1589.3 1115,1589.7 1120,1589.6 1125,1589.7 1130,1589.7 1135,1589.7 1140,1589.6 1145,1589.7 1150,1589.4 1155,1589.3 1160,1589.2 1165,1588.9 1170,1588.9 1175,1589 1180,1589 1185,1589 1190,1589.1 1195,1589.6 1200,1589.9 1205,1589.1 1210,1589.4 1215,1588.9 1220,1588.4 1225,1588.4 1230,1588.1 1235,1588.5" fill="none" stroke="#3a7fc0" stroke-width="1.1" stroke-linejoin="round" stroke-linecap="round"/>
<text x="918" y="1647.5" font-size="23.1" fill="#d8341f">capsaicin 100 nM</text>
<rect x="1146.5" y="1637.5" width="30" height="8" fill="#dc2a1c"/>
<polyline points="1179.5,1660 1179.5,1655.5 1235,1655.5 1235,1660" fill="none" stroke="#0d0d0d" stroke-width="3"/>
<text x="1182" y="1682.5" font-size="27" fill="#0d0d0d">10 s</text>
</g>
<g>
<text x="620.8" y="1702.8" font-size="46.8" fill="#0d0d0d">J</text>
<line x1="668" y1="1714.5" x2="668" y2="1805.1" stroke="#0d0d0d" stroke-width="2.1"/>
<line x1="661" y1="1728" x2="668" y2="1728" stroke="#0d0d0d" stroke-width="2.1"/>
<line x1="661" y1="1766.2" x2="668" y2="1766.2" stroke="#0d0d0d" stroke-width="2.1"/>
<line x1="661" y1="1804.1" x2="668" y2="1804.1" stroke="#0d0d0d" stroke-width="2.1"/>
<line x1="664" y1="1747.1" x2="668" y2="1747.1" stroke="#0d0d0d" stroke-width="1.7"/>
<line x1="664" y1="1785.2" x2="668" y2="1785.2" stroke="#0d0d0d" stroke-width="1.7"/>
<text x="657.2" y="1739.1" font-size="24.9" fill="#0d0d0d" text-anchor="end">45</text>
<text x="657.2" y="1777.3" font-size="24.9" fill="#0d0d0d" text-anchor="end">35</text>
<text x="657.2" y="1815.2" font-size="24.9" fill="#0d0d0d" text-anchor="end">25</text>
<text x="673.4" y="1729.4" font-size="28" fill="#0d0d0d">°C</text>
<polyline points="667.5,1811 779,1811 857.5,1730 858.1,1734.9 858.7,1741.4 859.3,1749.4 859.9,1760.4 860.5,1770 861.1,1776.7 861.7,1782.4 862.3,1786.9 862.9,1790 863.5,1792.6 864.1,1794.8 864.7,1796.4 865.3,1797.5 865.9,1798.5 866.5,1799.3 867.1,1800.1 867.7,1800.7 868.3,1801.3 868.9,1801.8 869.5,1802.2 870.1,1802.6 870.7,1802.9 871.3,1803.2 871.9,1803.5 872.5,1803.7 873.1,1804 873.7,1804.2 874.3,1804.5 874.9,1804.7 875.5,1804.9 876.1,1805.1 876.7,1805.2 877.3,1805.4 877.9,1805.5 878.5,1805.7 879.1,1805.8 879.7,1805.9 880.3,1806.1 880.9,1806.2 881.5,1806.3 882.1,1806.4 882.7,1806.5 883.3,1806.6 883.9,1806.7 884.5,1806.8 885.1,1806.9 885.7,1807 886.3,1807.1 886.9,1807.1 887.5,1807.2 888.1,1807.3 888.7,1807.4 889.3,1807.5 889.9,1807.5 890.5,1807.6 891.1,1807.7 891.7,1807.7 892.3,1807.8 892.9,1807.9 893.5,1807.9 894.1,1808 894.7,1808.1 895.3,1808.1 895.9,1808.2 896.5,1808.2 897.1,1808.3 897.7,1808.3 898.3,1808.4 898.9,1808.4 899.5,1808.5 900.1,1808.5 900.7,1808.6 901.3,1808.6 901.9,1808.6 902.5,1808.7 903.1,1808.7 903.7,1808.8 904.3,1808.8 904.9,1808.9 905.5,1808.9 906.1,1808.9 906.7,1809 907.3,1809 907.9,1809.1 908.5,1809.1 909.1,1809.1 909.7,1809.2 910.3,1809.2 910.9,1809.2 911.5,1809.3 912.1,1809.3 912.7,1809.4 913.3,1809.4 913.9,1809.4 914.5,1809.5 915.1,1809.5 915.7,1809.5 916.3,1809.6 916.9,1809.6 917.5,1809.6 918.1,1809.7 918.7,1809.7 919.3,1809.7 919.9,1809.7 920.5,1809.8 921.1,1809.8 921.7,1809.8 922.3,1809.9 922.9,1809.9 923.5,1809.9 924.1,1809.9 924.7,1810 925.3,1810 925.9,1810 926.5,1810.1 927.1,1810.1 927.7,1810.1 928.3,1810.1 928.9,1810.1 929.5,1810.2 930.1,1810.2 930.7,1810.2 931.3,1810.2 931.9,1810.3 932.5,1810.3 933.1,1810.3 933.7,1810.3 934.3,1810.3 934.9,1810.4 935.5,1810.4 936.1,1810.4 936.7,1810.4 937.3,1810.4 937.9,1810.4 938.5,1810.5 939.1,1810.5 939.7,1810.5 940.3,1810.5 940.9,1810.5 941.5,1810.5 942.1,1810.6 942.7,1810.6 943.3,1810.6 943.9,1810.6 944.5,1810.6 945.1,1810.6 945.7,1810.6 946.3,1810.7 946.9,1810.7 947.5,1810.7 948.1,1810.7 948.7,1810.7 949.3,1810.7 949.9,1810.7 950.5,1810.7 951.1,1810.8 951.7,1810.8 952.3,1810.8 952.9,1810.8 953.5,1810.8 954.1,1810.8 954.7,1810.8 955.3,1810.8 955.9,1810.8 956.5,1810.9 957.1,1810.9 957.7,1810.9 958.3,1810.9 958.9,1810.9 959.5,1810.9 960.1,1810.9 960.7,1810.9 961.3,1810.9 961.9,1810.9 962.5,1810.9 963.1,1811 963.7,1811 964.3,1811 964.9,1811 965.5,1811 966.1,1811 966.7,1811 967.3,1811 967.9,1811 968.5,1811 969.1,1811 969.7,1811 1064,1811 1141.5,1730 1142.1,1734.9 1142.7,1741.4 1143.3,1749.4 1143.9,1760.4 1144.5,1770 1145.1,1776.7 1145.7,1782.4 1146.3,1786.9 1146.9,1790 1147.5,1792.6 1148.1,1794.8 1148.7,1796.4 1149.3,1797.5 1149.9,1798.5 1150.5,1799.3 1151.1,1800.1 1151.7,1800.7 1152.3,1801.3 1152.9,1801.8 1153.5,1802.2 1154.1,1802.6 1154.7,1802.9 1155.3,1803.2 1155.9,1803.5 1156.5,1803.8 1157.1,1804 1157.7,1804.3 1158.3,1804.5 1158.9,1804.7 1159.5,1804.9 1160.1,1805.1 1160.7,1805.3 1161.3,1805.4 1161.9,1805.6 1162.5,1805.7 1163.1,1805.8 1163.7,1805.9 1164.3,1806 1164.9,1806.1 1165.5,1806.2 1166.1,1806.3 1166.7,1806.4 1167.3,1806.5 1167.9,1806.6 1168.5,1806.7 1169.1,1806.8 1169.7,1806.8 1170.3,1806.9 1170.9,1807 1171.5,1807.1 1172.1,1807.1 1172.7,1807.2 1173.3,1807.3 1173.9,1807.3 1174.5,1807.4 1175.1,1807.4 1175.7,1807.5 1176.3,1807.5 1176.9,1807.6 1177.5,1807.6 1178.1,1807.7 1178.7,1807.7 1179.3,1807.8 1179.9,1807.8 1180.5,1807.8 1181.1,1807.9 1181.7,1807.9 1182.3,1807.9 1182.9,1808 1183.5,1808 1184.1,1808 1184.7,1808 1185.3,1808 1185.9,1808.1 1186.5,1808.1 1187.1,1808.1 1187.7,1808.1 1188.3,1808.1 1188.9,1808.2 1189.5,1808.2 1190.1,1808.2 1190.7,1808.2 1191.3,1808.2 1191.9,1808.3 1192.5,1808.3 1193.1,1808.3 1193.7,1808.3 1194.3,1808.3 1194.9,1808.4 1195.5,1808.4 1196.1,1808.4 1196.7,1808.4 1197.3,1808.4 1197.9,1808.4 1198.5,1808.5 1199.1,1808.5 1199.7,1808.5 1200.3,1808.5 1200.9,1808.5 1201.5,1808.5 1202.1,1808.6 1202.7,1808.6 1203.3,1808.6 1203.9,1808.6 1204.5,1808.6 1205.1,1808.6 1205.7,1808.6 1206.3,1808.7 1206.9,1808.7 1207.5,1808.7 1208.1,1808.7 1208.7,1808.7 1209.3,1808.7 1209.9,1808.7 1210.5,1808.7 1211.1,1808.8 1211.7,1808.8 1212.3,1808.8 1212.9,1808.8 1213.5,1808.8 1214.1,1808.8 1214.7,1808.8 1215.3,1808.8 1215.9,1808.8 1216.5,1808.8 1217.1,1808.9 1217.7,1808.9 1218.3,1808.9 1218.9,1808.9 1219.5,1808.9 1220.1,1808.9 1220.7,1808.9 1221.3,1808.9 1221.9,1808.9 1222.5,1808.9 1223.1,1808.9 1223.7,1808.9 1224.3,1808.9 1224.9,1808.9 1225.5,1809 1226.1,1809 1226.7,1809 1227.3,1809 1227.9,1809 1228.5,1809 1229.1,1809 1229.7,1809 1230.3,1809 1230.9,1809 1231.5,1809 1232.1,1809 1232.7,1809 1233.3,1809 1233.9,1809 1234.5,1809 1235.1,1809 1235.7,1809" fill="none" stroke="#0d0d0d" stroke-width="1.4" stroke-linejoin="round" stroke-linecap="round"/>
<text x="619.8" y="1852.4" font-size="26.1" fill="#9c9c9c">HC</text>
<rect x="667.5" y="1841" width="568.5" height="5.5" fill="#9c9c9c"/>
<text x="620.3" y="1881.1" font-size="26.1" fill="#64b2a0">NAPQI</text>
<rect x="903.5" y="1868" width="332.5" height="8.5" fill="#64b2a0"/>
<line x1="835" y1="1752.5" x2="835" y2="1912.5" stroke="#e8442c" stroke-width="1.7" stroke-dasharray="1.5 1.1"/>
<line x1="1096" y1="1776" x2="1096" y2="1935" stroke="#e8442c" stroke-width="1.7" stroke-dasharray="1.5 1.1"/>
<polygon points="667.5,1903.9 668,1903.9 668.5,1903.9 669,1903.9 669.5,1903.9 670,1903.9 670.5,1903.9 671,1903.9 671.5,1903.9 672,1903.9 672.5,1903.9 673,1903.9 673.5,1903.9 674,1903.9 674.5,1903.9 675,1903.9 675.5,1903.9 676,1903.9 676.5,1903.9 677,1903.9 677.5,1903.9 678,1903.9 678.5,1903.9 679,1903.9 679.5,1903.9 680,1903.9 680.5,1903.9 681,1903.9 681.5,1903.9 682,1903.9 682.5,1903.9 683,1903.9 683.5,1903.9 684,1903.9 684.5,1903.9 685,1903.9 685.5,1903.9 686,1903.9 686.5,1903.9 687,1903.9 687.5,1903.9 688,1903.9 688.5,1903.9 689,1903.9 689.5,1903.9 690,1903.9 690.5,1903.9 691,1903.9 691.5,1903.9 692,1903.9 692.5,1903.9 693,1903.9 693.5,1903.9 694,1903.9 694.5,1903.9 695,1903.9 695.5,1903.9 696,1903.9 696.5,1903.9 697,1903.9 697.5,1903.9 698,1903.9 698.5,1903.9 699,1903.9 699.5,1903.9 700,1903.9 700.5,1903.9 701,1903.9 701.5,1903.9 702,1903.9 702.5,1903.9 703,1903.9 703.5,1903.9 704,1903.9 704.5,1903.9 705,1903.9 705.5,1903.9 706,1903.9 706.5,1903.9 707,1903.9 707.5,1903.9 708,1903.9 708.5,1903.9 709,1903.9 709.5,1903.9 710,1903.9 710.5,1903.9 711,1903.9 711.5,1903.9 712,1903.9 712.5,1904 713,1904 713.5,1904 714,1904 714.5,1904 715,1904 715.5,1904 716,1904 716.5,1904 717,1904 717.5,1904 718,1904 718.5,1904 719,1904 719.5,1904 720,1904 720.5,1904 721,1904 721.5,1904 722,1904 722.5,1904 723,1904 723.5,1904 724,1904 724.5,1904 725,1904 725.5,1904 726,1904 726.5,1904 727,1904 727.5,1904 728,1904 728.5,1904 729,1904 729.5,1904 730,1904 730.5,1904 731,1904 731.5,1904 732,1904 732.5,1904 733,1904 733.5,1904 734,1904 734.5,1904 735,1904 735.5,1904 736,1904 736.5,1904 737,1904 737.5,1904 738,1904 738.5,1904 739,1904 739.5,1904 740,1904.1 740.5,1904.1 741,1904.1 741.5,1904.1 742,1904.1 742.5,1904.1 743,1904.1 743.5,1904.1 744,1904.1 744.5,1904.1 745,1904.1 745.5,1904.1 746,1904.1 746.5,1904.1 747,1904.1 747.5,1904.1 748,1904.1 748.5,1904.1 749,1904.1 749.5,1904.1 750,1904.1 750.5,1904.1 751,1904.1 751.5,1904.1 752,1904.1 752.5,1904.1 753,1904.1 753.5,1904.1 754,1904.1 754.5,1904.1 755,1904.1 755.5,1904.1 756,1904.1 756.5,1904.1 757,1904.1 757.5,1904.1 758,1904.1 758.5,1904.2 759,1904.2 759.5,1904.2 760,1904.2 760.5,1904.2 761,1904.2 761.5,1904.2 762,1904.2 762.5,1904.2 763,1904.2 763.5,1904.2 764,1904.2 764.5,1904.2 765,1904.2 765.5,1904.2 766,1904.2 766.5,1904.2 767,1904.2 767.5,1904.2 768,1904.3 768.5,1904.3 769,1904.3 769.5,1904.3 770,1904.3 770.5,1904.3 771,1904.3 771.5,1904.3 772,1904.3 772.5,1904.4 773,1904.4 773.5,1904.4 774,1904.4 774.5,1904.4 775,1904.4 775.5,1904.4 776,1904.4 776.5,1904.5 777,1904.5 777.5,1904.5 778,1904.5 778.5,1904.5 779,1904.5 779.5,1904.5 780,1904.6 780.5,1904.6 781,1904.6 781.5,1904.6 782,1904.6 782.5,1904.6 783,1904.7 783.5,1904.7 784,1904.7 784.5,1904.7 785,1904.7 785.5,1904.8 786,1904.8 786.5,1904.8 787,1904.8 787.5,1904.8 788,1904.9 788.5,1904.9 789,1904.9 789.5,1904.9 790,1904.9 790.5,1905 791,1905 791.5,1905 792,1905 792.5,1905 793,1905.1 793.5,1905.1 794,1905.1 794.5,1905.1 795,1905.1 795.5,1905.2 796,1905.2 796.5,1905.2 797,1905.2 797.5,1905.3 798,1905.3 798.5,1905.3 799,1905.4 799.5,1905.4 800,1905.4 800.5,1905.4 801,1905.5 801.5,1905.5 802,1905.5 802.5,1905.6 803,1905.6 803.5,1905.7 804,1905.7 804.5,1905.7 805,1905.8 805.5,1905.8 806,1905.9 806.5,1905.9 807,1905.9 807.5,1906 808,1906 808.5,1906.1 809,1906.1 809.5,1906.2 810,1906.2 810.5,1906.3 811,1906.4 811.5,1906.4 812,1906.5 812.5,1906.5 813,1906.6 813.5,1906.6 814,1906.7 814.5,1906.8 815,1906.8 815.5,1906.9 816,1907 816.5,1907.1 817,1907.1 817.5,1907.2 818,1907.3 818.5,1907.4 819,1907.5 819.5,1907.6 820,1907.7 820.5,1907.9 821,1908 821.5,1908.1 822,1908.2 822.5,1908.4 823,1908.5 823.5,1908.7 824,1908.8 824.5,1908.9 825,1909.1 825.5,1909.3 826,1909.4 826.5,1909.6 827,1909.8 827.5,1909.9 828,1910.1 828.5,1910.3 829,1910.5 829.5,1910.6 830,1910.8 830.5,1911 831,1911.2 831.5,1911.4 832,1911.7 832.5,1911.9 833,1912.1 833.5,1912.4 834,1912.7 834.5,1912.9 835,1913.2 835.5,1913.5 836,1913.8 836.5,1914.2 837,1914.5 837.5,1914.8 838,1915.2 838.5,1915.6 839,1916 839.5,1916.4 840,1916.8 840.5,1917.3 841,1917.8 841.5,1918.3 842,1918.9 842.5,1919.5 843,1920.1 843.5,1920.8 844,1921.6 844.5,1922.3 845,1923.1 845.5,1924 846,1924.9 846.5,1925.8 847,1926.8 847.5,1927.8 848,1928.8 848.5,1930 849,1931.2 849.5,1932.6 850,1934.1 850.5,1935.7 851,1937.4 851.5,1939.3 852,1941.2 852.5,1943.3 853,1945.5 853.5,1947.8 854,1950.5 854.5,1953.6 855,1957 855.5,1960.7 856,1964.5 856.5,1968.6 857,1974 857.5,1976.8 858,1961.9 858.5,1943.5 859,1928.9 859.5,1920 860,1913.4 860.5,1909.8 861,1908.5 861.5,1907.4 862,1906.6 862.5,1906.1 863,1905.8 863.5,1905.7 864,1905.5 864.5,1905.4 865,1905.3 865.5,1905.3 866,1905.2 866.5,1905.2 867,1905.1 867.5,1905.1 868,1905.1 868.5,1905.1 869,1905.1 869.5,1905.1 870,1905.1 870.5,1905.1 871,1905.1 871.5,1905.1 872,1905.1 872.5,1905.1 873,1905.1 873.5,1905.1 874,1905.1 874.5,1905.1 875,1905.1 875.5,1905.1 876,1905.1 876.5,1905.1 877,1905.2 877.5,1905.2 878,1905.2 878.5,1905.2 879,1905.2 879.5,1905.2 880,1905.2 880.5,1905.2 881,1905.2 881.5,1905.2 882,1905.2 882.5,1905.2 883,1905.2 883.5,1905.2 884,1905.2 884.5,1905.2 885,1905.2 885.5,1905.3 886,1905.3 886.5,1905.3 887,1905.3 887.5,1905.3 888,1905.3 888.5,1905.3 889,1905.3 889.5,1905.3 890,1905.3 890.5,1905.4 891,1905.4 891.5,1905.4 892,1905.4 892.5,1905.4 893,1905.4 893.5,1905.4 894,1905.4 894.5,1905.4 895,1905.5 895.5,1905.5 896,1905.5 896.5,1905.5 897,1905.5 897.5,1905.5 898,1905.6 898.5,1905.6 899,1905.6 899.5,1905.6 900,1905.6 900.5,1905.6 901,1905.6 901.5,1905.7 902,1905.7 902.5,1905.7 903,1905.7 903.5,1905.7 904,1905.8 904.5,1905.8 905,1905.8 905.5,1905.8 906,1905.8 906.5,1905.9 907,1905.9 907.5,1906 908,1906.1 908.5,1906.1 909,1906.2 909.5,1906.3 910,1906.4 910.5,1906.5 911,1906.6 911.5,1906.8 912,1906.9 912.5,1907 913,1907.1 913.5,1907.2 914,1907.3 914.5,1907.4 915,1907.5 915.5,1907.6 916,1907.7 916.5,1907.8 917,1908 917.5,1908.1 918,1908.2 918.5,1908.3 919,1908.5 919.5,1908.6 920,1908.8 920.5,1908.9 921,1909 921.5,1909.2 922,1909.3 922.5,1909.5 923,1909.6 923.5,1909.7 924,1909.9 924.5,1910 925,1910.1 925.5,1910.3 926,1910.4 926.5,1910.1 927,1910.1 927.5,1910.6 928,1910.8 928.5,1910.6 929,1910.4 929.5,1910.8 930,1910.1 930.5,1910.7 931,1911.2 931.5,1910.8 932,1911 932.5,1911.2 933,1911.4 933.5,1911.2 934,1911.5 934.5,1911.7 935,1911.3 935.5,1911.6 936,1911.8 936.5,1911.7 937,1911.2 937.5,1912.1 938,1912 938.5,1912.2 939,1912.2 939.5,1912.2 940,1911.9 940.5,1912.3 941,1912.2 941.5,1912.4 942,1912.4 942.5,1912.2 943,1911.9 943.5,1911.6 944,1912.6 944.5,1912.1 945,1912 945.5,1912.4 946,1912.4 946.5,1912.5 947,1912.5 947.5,1912.3 948,1912.4 948.5,1912.5 949,1912.3 949.5,1912.4 950,1912.2 950.5,1912.5 951,1912.4 951.5,1912.3 952,1912.4 952.5,1912.2 953,1912.5 953.5,1912.6 954,1912.4 954.5,1912.1 955,1912.5 955.5,1912.4 956,1912.1 956.5,1912.4 957,1912.3 957.5,1912.4 958,1912.3 958.5,1911.9 959,1912.3 959.5,1912.2 960,1912.2 960.5,1912 961,1912.3 961.5,1912.6 962,1912.5 962.5,1912.6 963,1912.4 963.5,1912.4 964,1912.5 964.5,1912 965,1912.5 965.5,1911.5 966,1912.5 966.5,1912.4 967,1912.2 967.5,1912.3 968,1912.3 968.5,1912.1 969,1912.1 969.5,1912.5 970,1912.4 970.5,1912.1 971,1912.5 971.5,1912.4 972,1912.2 972.5,1912.3 973,1912 973.5,1911.8 974,1912.2 974.5,1912.5 975,1912 975.5,1912.3 976,1912.2 976.5,1912.4 977,1911.7 977.5,1912 978,1912.4 978.5,1912.4 979,1912.3 979.5,1912.3 980,1912.2 980.5,1912.3 981,1911.9 981.5,1912.2 982,1912.4 982.5,1912.2 983,1912.4 983.5,1912.3 984,1912.5 984.5,1912 985,1912.2 985.5,1912.3 986,1912.4 986.5,1912.5 987,1912.6 987.5,1912.3 988,1912.1 988.5,1912.2 989,1912.2 989.5,1912.2 990,1911.6 990.5,1912.3 991,1912.1 991.5,1912.5 992,1912.5 992.5,1912.2 993,1912.4 993.5,1912 994,1912.2 994.5,1912.3 995,1912.4 995.5,1912.3 996,1912.4 996.5,1912.2 997,1912.4 997.5,1912.5 998,1911.8 998.5,1912.1 999,1912.4 999.5,1912.3 1000,1912.3 1000.5,1912.3 1001,1912.2 1001.5,1911.9 1002,1912.1 1002.5,1912.1 1003,1912.4 1003.5,1912.2 1004,1912.5 1004.5,1912.2 1005,1912.2 1005.5,1912.1 1006,1912.1 1006.5,1912.3 1007,1912.5 1007.5,1912.4 1008,1912.2 1008.5,1912.3 1009,1912.3 1009.5,1912.4 1010,1912.5 1010.5,1911.9 1011,1912.4 1011.5,1912.2 1012,1912 1012.5,1912.4 1013,1912.4 1013.5,1912.4 1014,1912.1 1014.5,1912.5 1015,1912.5 1015.5,1912.2 1016,1912.1 1016.5,1912.3 1017,1912.2 1017.5,1912.4 1018,1912 1018.5,1911.7 1019,1912.1 1019.5,1911.9 1020,1912.4 1020.5,1912.3 1021,1912 1021.5,1912.2 1022,1912.5 1022.5,1912.5 1023,1912.4 1023.5,1912.5 1024,1912.4 1024.5,1912.5 1025,1912.2 1025.5,1912.4 1026,1911.7 1026.5,1912.3 1027,1912.5 1027.5,1912.4 1028,1912.4 1028.5,1912.4 1029,1911.5 1029.5,1912.1 1030,1912.2 1030.5,1912.2 1031,1911.9 1031.5,1912.5 1032,1912.2 1032.5,1912.4 1033,1912.1 1033.5,1912.1 1034,1912.2 1034.5,1912.5 1035,1912.3 1035.5,1912.5 1036,1912.4 1036.5,1912.5 1037,1912.1 1037.5,1912 1038,1912.3 1038.5,1912.1 1039,1912.5 1039.5,1912 1040,1912.5 1040.5,1912.2 1041,1912.4 1041.5,1911.9 1042,1912.1 1042.5,1912.1 1043,1911.9 1043.5,1912.4 1044,1912.4 1044.5,1912.4 1045,1912.4 1045.5,1912.4 1046,1912.2 1046.5,1912.5 1047,1912.5 1047.5,1912.2 1048,1912.4 1048.5,1911.9 1049,1911.6 1049.5,1912.1 1050,1912.3 1050.5,1912.3 1051,1912.4 1051.5,1912.1 1052,1912.4 1052.5,1912.2 1053,1912.1 1053.5,1911.9 1054,1911.7 1054.5,1912.4 1055,1912.3 1055.5,1912.5 1056,1912.1 1056.5,1912 1057,1911.7 1057.5,1912.5 1058,1911.8 1058.5,1912.1 1059,1911.8 1059.5,1912.5 1060,1912.3 1060.5,1912.1 1061,1912.2 1061.5,1911.8 1062,1912.6 1062.5,1912.6 1063,1912.2 1063.5,1912.7 1064,1912.6 1064.5,1913 1065,1912.8 1065.5,1912.8 1066,1913.4 1066.5,1913.6 1067,1913.4 1067.5,1913.8 1068,1913.5 1068.5,1914.2 1069,1914 1069.5,1914.4 1070,1914.8 1070.5,1914.9 1071,1914.9 1071.5,1915.2 1072,1915.6 1072.5,1915.9 1073,1916.1 1073.5,1916 1074,1916.4 1074.5,1916.9 1075,1917.1 1075.5,1917.5 1076,1917.4 1076.5,1917.9 1077,1917.9 1077.5,1918.6 1078,1918.7 1078.5,1919 1079,1919.2 1079.5,1919.4 1080,1919.5 1080.5,1920.2 1081,1920.2 1081.5,1920.8 1082,1921 1082.5,1921.5 1083,1921.6 1083.5,1921.7 1084,1922.6 1084.5,1922.6 1085,1923.3 1085.5,1923.3 1086,1924.1 1086.5,1924.8 1087,1925.2 1087.5,1925.2 1088,1926 1088.5,1926.6 1089,1926.8 1089.5,1927.2 1090,1928.3 1090.5,1928.7 1091,1929.2 1091.5,1929.7 1092,1930.4 1092.5,1930.8 1093,1931.5 1093.5,1931.9 1094,1932.7 1094.5,1933.6 1095,1934.5 1095.5,1935.4 1096,1936.1 1096.5,1936.6 1097,1937.6 1097.5,1938.5 1098,1939.3 1098.5,1940.2 1099,1941.3 1099.5,1942.2 1100,1942.8 1100.5,1944.3 1101,1945.1 1101.5,1946.4 1102,1947 1102.5,1948.3 1103,1949.9 1103.5,1951 1104,1951.8 1104.5,1953.2 1105,1954.6 1105.5,1955.8 1106,1957.3 1106.5,1958.4 1107,1959.8 1107.5,1961 1108,1962.7 1108.5,1964.2 1109,1965.5 1109.5,1966.4 1110,1968.2 1110.5,1969.9 1111,1970.9 1111.5,1972.4 1112,1974.3 1112.5,1976 1113,1977.4 1113.5,1979.3 1114,1980.8 1114.5,1982.5 1115,1984.1 1115.5,1985.4 1116,1987.2 1116.5,1989.5 1117,1991 1117.5,1992.9 1118,1994.9 1118.5,1996.8 1119,1998.3 1119.5,2000.3 1120,2002.5 1120.5,2004.5 1121,2006.2 1121.5,2008.6 1122,2010.3 1122.5,2012.8 1123,2014.9 1123.5,2017.1 1124,2019.3 1124.5,2021.4 1125,2023.5 1125.5,2026.6 1126,2029 1126.5,2031.3 1127,2033.8 1127.5,2036.1 1128,2038.6 1128.5,2040.7 1129,2043.7 1129.5,2046.1 1130,2048.5 1130.5,2050.9 1131,2053.4 1131.5,2056 1132,2058.6 1132.5,2060.9 1133,2063.8 1133.5,2066.5 1134,2069 1134.5,2071.4 1135,2074.2 1135.5,2077.2 1136,2079.7 1136.5,2082.3 1137,2085.7 1137.5,2088.7 1138,2091.8 1138.5,2096.1 1139,2100.1 1139.5,2104.7 1140,2108.3 1140.5,2112 1141,2114.1 1141.5,2115.3 1142,2093.9 1142.5,2059.6 1143,2033.7 1143.5,2009.1 1144,1989.7 1144.5,1974.9 1145,1961.9 1145.5,1951.5 1146,1944.6 1146.5,1940 1147,1935.9 1147.5,1932.3 1148,1929.1 1148.5,1926.5 1149,1924.4 1149.5,1922.9 1150,1921.8 1150.5,1921.1 1151,1920.4 1151.5,1919.7 1152,1919.1 1152.5,1918.5 1153,1917.5 1153.5,1917.4 1154,1917.1 1154.5,1916.6 1155,1916.2 1155.5,1916 1156,1915.1 1156.5,1915.2 1157,1915 1157.5,1914.4 1158,1914.5 1158.5,1914.3 1159,1913.8 1159.5,1914.2 1160,1913.8 1160.5,1913.6 1161,1913.8 1161.5,1913.8 1162,1913.4 1162.5,1913.5 1163,1913.2 1163.5,1913.4 1164,1913.2 1164.5,1913.1 1165,1912.8 1165.5,1913.1 1166,1912.3 1166.5,1913.1 1167,1912.9 1167.5,1912.8 1168,1912.7 1168.5,1912.3 1169,1912.7 1169.5,1912.5 1170,1912.3 1170.5,1912.6 1171,1912.3 1171.5,1912.4 1172,1912.1 1172.5,1912.3 1173,1912.1 1173.5,1912.3 1174,1912.3 1174.5,1912.1 1175,1911.5 1175.5,1912.1 1176,1911.7 1176.5,1911.7 1177,1911.6 1177.5,1911.6 1178,1911.5 1178.5,1911.7 1179,1911.6 1179.5,1911.7 1180,1911.7 1180.5,1911.5 1181,1910.8 1181.5,1911.7 1182,1911.7 1182.5,1911.5 1183,1911.5 1183.5,1911.5 1184,1911.5 1184.5,1911.4 1185,1911.3 1185.5,1911.1 1186,1910.9 1186.5,1911.5 1187,1910.7 1187.5,1911.3 1188,1911.4 1188.5,1910.9 1189,1911.3 1189.5,1911 1190,1911.2 1190.5,1911.3 1191,1911.2 1191.5,1911.2 1192,1910.5 1192.5,1911 1193,1911.1 1193.5,1911 1194,1911.1 1194.5,1911.1 1195,1911 1195.5,1910.9 1196,1910.3 1196.5,1910.5 1197,1910.9 1197.5,1910.8 1198,1910.5 1198.5,1910.5 1199,1910.1 1199.5,1910.6 1200,1910.1 1200.5,1910.5 1201,1910.8 1201.5,1910.6 1202,1910.7 1202.5,1910.6 1203,1910.2 1203.5,1910.7 1204,1910.6 1204.5,1910.5 1205,1910.2 1205.5,1910.3 1206,1910.4 1206.5,1910.5 1207,1910.3 1207.5,1909.9 1208,1910.1 1208.5,1910.2 1209,1910.2 1209.5,1910.4 1210,1910.3 1210.5,1910.1 1211,1910.3 1211.5,1910.3 1212,1910 1212.5,1910.3 1213,1910 1213.5,1910.2 1214,1910.1 1214.5,1910 1215,1910.1 1215.5,1910.1 1216,1910 1216.5,1909.9 1217,1910 1217.5,1909.6 1218,1910.2 1218.5,1910.1 1219,1910.1 1219.5,1910.1 1220,1910 1220.5,1909.8 1221,1909.8 1221.5,1910.1 1222,1909.7 1222.5,1909.3 1223,1909.7 1223.5,1909.9 1224,1909.9 1224.5,1909.3 1225,1909.8 1225.5,1909.6 1226,1909.8 1226.5,1909.8 1227,1909.7 1227.5,1909.8 1228,1909.7 1228.5,1909.9 1229,1909.7 1229.5,1909.9 1230,1909.8 1230.5,1909.9 1231,1909.3 1231.5,1909.9 1232,1909.5 1232.5,1909.4 1233,1909.4 1233.5,1909.8 1234,1909.6 1234.5,1909.8 1235,1909.5 1235.5,1909.7 1236,1909.8 1236,1912.4 1235.5,1912.2 1235,1912.7 1234.5,1912.2 1234,1912.2 1233.5,1912.1 1233,1912.5 1232.5,1912.5 1232,1912.1 1231.5,1912.3 1231,1912.2 1230.5,1912.2 1230,1912.1 1229.5,1912.3 1229,1912.2 1228.5,1912.8 1228,1912.2 1227.5,1912.5 1227,1912.4 1226.5,1912.5 1226,1912.4 1225.5,1912.5 1225,1912.3 1224.5,1913.1 1224,1912.4 1223.5,1912.2 1223,1912.2 1222.5,1912.6 1222,1912.3 1221.5,1912.3 1221,1912.4 1220.5,1912.2 1220,1912.7 1219.5,1912.7 1219,1912.4 1218.5,1912.5 1218,1912.8 1217.5,1912.6 1217,1913 1216.5,1912.6 1216,1913.3 1215.5,1913.7 1215,1912.4 1214.5,1912.5 1214,1912.6 1213.5,1912.6 1213,1912.7 1212.5,1913 1212,1912.5 1211.5,1912.4 1211,1912.5 1210.5,1912.6 1210,1913 1209.5,1912.7 1209,1912.7 1208.5,1912.7 1208,1912.6 1207.5,1912.8 1207,1913 1206.5,1912.8 1206,1912.9 1205.5,1912.6 1205,1912.8 1204.5,1912.7 1204,1913.2 1203.5,1913.3 1203,1913.3 1202.5,1912.7 1202,1912.9 1201.5,1913 1201,1912.9 1200.5,1912.8 1200,1913.1 1199.5,1913.1 1199,1912.9 1198.5,1913.6 1198,1912.9 1197.5,1913 1197,1913 1196.5,1913.1 1196,1913.3 1195.5,1913 1195,1913.1 1194.5,1913.2 1194,1913.1 1193.5,1913.1 1193,1913.5 1192.5,1913.3 1192,1913.2 1191.5,1913.9 1191,1913.4 1190.5,1913.2 1190,1913.7 1189.5,1913.5 1189,1913.9 1188.5,1913.5 1188,1913.5 1187.5,1913.6 1187,1913.4 1186.5,1913.4 1186,1913.7 1185.5,1913.6 1185,1913.6 1184.5,1913.9 1184,1913.7 1183.5,1913.8 1183,1913.7 1182.5,1913.7 1182,1913.8 1181.5,1914.1 1181,1913.9 1180.5,1913.8 1180,1913.7 1179.5,1913.8 1179,1914.1 1178.5,1913.9 1178,1914.3 1177.5,1914 1177,1914.6 1176.5,1914.3 1176,1914 1175.5,1914 1175,1914.1 1174.5,1914.3 1174,1914.7 1173.5,1914.3 1173,1914.4 1172.5,1914.3 1172,1914.6 1171.5,1914.3 1171,1914.7 1170.5,1914.6 1170,1914.5 1169.5,1914.7 1169,1915.3 1168.5,1914.6 1168,1914.7 1167.5,1914.8 1167,1915.2 1166.5,1914.8 1166,1915.5 1165.5,1915.2 1165,1915.6 1164.5,1915.2 1164,1915.4 1163.5,1915.5 1163,1915.6 1162.5,1915.7 1162,1915.9 1161.5,1915.6 1161,1915.9 1160.5,1915.8 1160,1916.2 1159.5,1916.1 1159,1916.6 1158.5,1916.2 1158,1917.1 1157.5,1916.6 1157,1916.9 1156.5,1917.4 1156,1917.6 1155.5,1917.9 1155,1918.2 1154.5,1918.5 1154,1918.8 1153.5,1919.6 1153,1919.7 1152.5,1920.2 1152,1920.7 1151.5,1921.2 1151,1921.8 1150.5,1922.5 1150,1923.2 1149.5,1924.1 1149,1925.6 1148.5,1927.7 1148,1930.2 1147.5,1933.3 1147,1936.8 1146.5,1940.9 1146,1945.4 1145.5,1952.2 1145,1962.5 1144.5,1975.5 1144,1990.3 1143.5,2009.6 1143,2034.1 1142.5,2060.4 1142,2094.9 1141.5,2116.7 1141,2116.1 1140.5,2114.5 1140,2111.3 1139.5,2107.3 1139,2103.1 1138.5,2098.7 1138,2094.7 1137.5,2091.3 1137,2088.4 1136.5,2085.5 1136,2083.1 1135.5,2080.1 1135,2077.1 1134.5,2074.4 1134,2072.4 1133.5,2069.4 1133,2066.7 1132.5,2064.2 1132,2061.5 1131.5,2058.8 1131,2056.3 1130.5,2054.1 1130,2051.3 1129.5,2049.2 1129,2047.4 1128.5,2044.4 1128,2042 1127.5,2039.1 1127,2036.8 1126.5,2034.4 1126,2032 1125.5,2029.8 1125,2027.2 1124.5,2025.2 1124,2022.5 1123.5,2020.8 1123,2018.4 1122.5,2015.8 1122,2014.2 1121.5,2011.9 1121,2009.4 1120.5,2007.7 1120,2005.5 1119.5,2003.6 1119,2001.8 1118.5,1999.9 1118,1997.8 1117.5,1996.5 1117,1994.4 1116.5,1992.9 1116,1991.2 1115.5,1989.1 1115,1987.3 1114.5,1985.7 1114,1984 1113.5,1982.5 1113,1981.1 1112.5,1979.7 1112,1977.6 1111.5,1976.2 1111,1974.5 1110.5,1973.2 1110,1971.8 1109.5,1970.2 1109,1968.7 1108.5,1967.8 1108,1966.1 1107.5,1965 1107,1963.4 1106.5,1962.5 1106,1961 1105.5,1959.5 1105,1958.5 1104.5,1956.7 1104,1955.6 1103.5,1954.6 1103,1953.3 1102.5,1952.3 1102,1950.9 1101.5,1949.9 1101,1948.9 1100.5,1948.4 1100,1946.6 1099.5,1946.3 1099,1945 1098.5,1944.1 1098,1943 1097.5,1942 1097,1941.5 1096.5,1940.1 1096,1939.2 1095.5,1938.6 1095,1938 1094.5,1937.3 1094,1936.3 1093.5,1935.7 1093,1934.8 1092.5,1934.4 1092,1934 1091.5,1932.9 1091,1932.2 1090.5,1931.8 1090,1931.1 1089.5,1930.4 1089,1929.9 1088.5,1929.4 1088,1928.9 1087.5,1928.4 1087,1927.9 1086.5,1927.2 1086,1926.9 1085.5,1926.3 1085,1926.1 1084.5,1925.6 1084,1925.3 1083.5,1925 1083,1924.2 1082.5,1923.9 1082,1923.7 1081.5,1923 1081,1922.7 1080.5,1922.5 1080,1922.1 1079.5,1922 1079,1922 1078.5,1921.3 1078,1921 1077.5,1921.6 1077,1920.4 1076.5,1920.3 1076,1919.9 1075.5,1919.7 1075,1919.3 1074.5,1919.6 1074,1919.3 1073.5,1919 1073,1918.4 1072.5,1918.1 1072,1918.5 1071.5,1917.7 1071,1917.5 1070.5,1917.2 1070,1917.1 1069.5,1916.8 1069,1916.6 1068.5,1916.9 1068,1916.1 1067.5,1915.9 1067,1915.8 1066.5,1915.7 1066,1915.8 1065.5,1915.9 1065,1915.2 1064.5,1915.7 1064,1915.2 1063.5,1915.4 1063,1915.3 1062.5,1914.7 1062,1914.6 1061.5,1914.9 1061,1914.8 1060.5,1914.5 1060,1915.4 1059.5,1914.7 1059,1914.5 1058.5,1914.9 1058,1914.6 1057.5,1914.7 1057,1915 1056.5,1914.8 1056,1914.6 1055.5,1915.2 1055,1915 1054.5,1914.7 1054,1914.6 1053.5,1914.9 1053,1914.8 1052.5,1914.5 1052,1914.8 1051.5,1914.9 1051,1915 1050.5,1915.1 1050,1914.7 1049.5,1914.8 1049,1914.9 1048.5,1914.8 1048,1914.8 1047.5,1914.7 1047,1915 1046.5,1914.7 1046,1914.6 1045.5,1914.6 1045,1914.5 1044.5,1914.6 1044,1914.8 1043.5,1914.9 1043,1915 1042.5,1914.5 1042,1915.1 1041.5,1914.7 1041,1914.6 1040.5,1915.2 1040,1914.8 1039.5,1915.1 1039,1914.6 1038.5,1914.7 1038,1914.8 1037.5,1914.9 1037,1914.7 1036.5,1915.4 1036,1914.7 1035.5,1914.8 1035,1914.6 1034.5,1914.7 1034,1914.6 1033.5,1915 1033,1915 1032.5,1914.5 1032,1915.2 1031.5,1914.8 1031,1914.6 1030.5,1914.7 1030,1914.6 1029.5,1914.7 1029,1914.6 1028.5,1914.5 1028,1914.7 1027.5,1914.6 1027,1914.7 1026.5,1914.6 1026,1914.7 1025.5,1914.9 1025,1914.6 1024.5,1914.5 1024,1914.7 1023.5,1914.6 1023,1914.5 1022.5,1914.6 1022,1915 1021.5,1914.7 1021,1914.6 1020.5,1914.9 1020,1914.7 1019.5,1914.5 1019,1914.8 1018.5,1914.8 1018,1914.9 1017.5,1914.8 1017,1914.6 1016.5,1915.2 1016,1914.8 1015.5,1914.8 1015,1914.6 1014.5,1914.9 1014,1914.7 1013.5,1914.8 1013,1914.8 1012.5,1914.7 1012,1914.5 1011.5,1914.6 1011,1915 1010.5,1914.5 1010,1915.5 1009.5,1915 1009,1914.6 1008.5,1914.6 1008,1914.6 1007.5,1914.7 1007,1914.5 1006.5,1914.6 1006,1915.3 1005.5,1914.8 1005,1915.1 1004.5,1914.7 1004,1914.7 1003.5,1914.8 1003,1914.7 1002.5,1915 1002,1914.6 1001.5,1914.7 1001,1914.8 1000.5,1914.7 1000,1914.9 999.5,1914.6 999,1914.7 998.5,1914.5 998,1914.5 997.5,1914.9 997,1914.5 996.5,1914.7 996,1915 995.5,1914.9 995,1915 994.5,1914.5 994,1914.6 993.5,1914.5 993,1914.5 992.5,1914.8 992,1914.8 991.5,1914.7 991,1914.7 990.5,1914.9 990,1914.6 989.5,1914.9 989,1915.4 988.5,1914.5 988,1914.8 987.5,1915.1 987,1914.6 986.5,1914.7 986,1914.7 985.5,1914.9 985,1915.1 984.5,1915 984,1914.4 983.5,1914.4 983,1914.7 982.5,1914.5 982,1914.6 981.5,1914.4 981,1914.9 980.5,1914.5 980,1914.7 979.5,1914.7 979,1914.6 978.5,1914.7 978,1914.7 977.5,1914.6 977,1914.6 976.5,1915 976,1914.8 975.5,1914.9 975,1914.9 974.5,1914.8 974,1914.6 973.5,1914.7 973,1914.5 972.5,1914.8 972,1914.6 971.5,1914.6 971,1915.1 970.5,1915.2 970,1914.6 969.5,1914.6 969,1914.8 968.5,1914.6 968,1914.6 967.5,1914.5 967,1914.5 966.5,1915.1 966,1914.7 965.5,1914.9 965,1914.5 964.5,1914.6 964,1915 963.5,1914.7 963,1914.6 962.5,1914.4 962,1914.8 961.5,1914.7 961,1914.5 960.5,1914.6 960,1915 959.5,1914.6 959,1914.6 958.5,1914.6 958,1915.1 957.5,1914.4 957,1914.8 956.5,1914.6 956,1914.6 955.5,1914.5 955,1914.6 954.5,1914.5 954,1914.4 953.5,1914.6 953,1914.6 952.5,1914.8 952,1914.7 951.5,1915 951,1914.8 950.5,1914.7 950,1914.5 949.5,1914.6 949,1914.5 948.5,1914.5 948,1914.5 947.5,1914.4 947,1914.6 946.5,1914.8 946,1915.1 945.5,1914.5 945,1914.6 944.5,1914.4 944,1914.5 943.5,1914.9 943,1914.4 942.5,1914.7 942,1914.3 941.5,1914.7 941,1914.3 940.5,1914.7 940,1914.8 939.5,1914.2 939,1914.5 938.5,1914.3 938,1914.4 937.5,1913.9 937,1913.9 936.5,1914.3 936,1913.8 935.5,1914.1 935,1914.2 934.5,1914.1 934,1913.5 933.5,1913.7 933,1913.5 932.5,1913.5 932,1913.4 931.5,1913.2 931,1913.3 930.5,1913.1 930,1913 929.5,1913.2 929,1913.6 928.5,1912.7 928,1912.8 927.5,1912.5 927,1912.7 926.5,1912.1 926,1912 925.5,1911.8 925,1911.7 924.5,1911.5 924,1911.3 923.5,1911.2 923,1911 922.5,1910.8 922,1910.7 921.5,1910.5 921,1910.3 920.5,1910.2 920,1910 919.5,1909.8 919,1909.7 918.5,1909.5 918,1909.3 917.5,1909.2 917,1909 916.5,1908.9 916,1908.7 915.5,1908.6 915,1908.5 914.5,1908.4 914,1908.2 913.5,1908.1 913,1907.9 912.5,1907.8 912,1907.7 911.5,1907.5 911,1907.4 910.5,1907.2 910,1907.1 909.5,1907 909,1906.9 908.5,1906.7 908,1906.6 907.5,1906.5 907,1906.4 906.5,1906.4 906,1906.3 905.5,1906.2 905,1906.2 904.5,1906.2 904,1906.2 903.5,1906.1 903,1906.1 902.5,1906.1 902,1906.1 901.5,1906.1 901,1906 900.5,1906 900,1906 899.5,1906 899,1906 898.5,1906 898,1905.9 897.5,1905.9 897,1905.9 896.5,1905.9 896,1905.9 895.5,1905.9 895,1905.9 894.5,1905.8 894,1905.8 893.5,1905.8 893,1905.8 892.5,1905.8 892,1905.8 891.5,1905.8 891,1905.8 890.5,1905.7 890,1905.7 889.5,1905.7 889,1905.7 888.5,1905.7 888,1905.7 887.5,1905.7 887,1905.7 886.5,1905.7 886,1905.6 885.5,1905.6 885,1905.6 884.5,1905.6 884,1905.6 883.5,1905.6 883,1905.6 882.5,1905.6 882,1905.6 881.5,1905.6 881,1905.6 880.5,1905.6 880,1905.6 879.5,1905.6 879,1905.5 878.5,1905.5 878,1905.5 877.5,1905.5 877,1905.5 876.5,1905.5 876,1905.5 875.5,1905.5 875,1905.5 874.5,1905.5 874,1905.5 873.5,1905.5 873,1905.5 872.5,1905.5 872,1905.5 871.5,1905.5 871,1905.5 870.5,1905.5 870,1905.5 869.5,1905.5 869,1905.5 868.5,1905.5 868,1905.5 867.5,1905.5 867,1905.5 866.5,1905.5 866,1905.6 865.5,1905.6 865,1905.7 864.5,1905.8 864,1905.9 863.5,1906 863,1906.2 862.5,1906.5 862,1907 861.5,1907.7 861,1908.8 860.5,1910.2 860,1913.7 859.5,1920.3 859,1929.3 858.5,1943.9 858,1962.3 857.5,1977.2 857,1974.3 856.5,1969 856,1964.9 855.5,1961.1 855,1957.4 854.5,1953.9 854,1950.8 853.5,1948.2 853,1945.9 852.5,1943.7 852,1941.6 851.5,1939.6 851,1937.8 850.5,1936 850,1934.4 849.5,1932.9 849,1931.6 848.5,1930.3 848,1929.2 847.5,1928.1 847,1927.1 846.5,1926.1 846,1925.2 845.5,1924.3 845,1923.5 844.5,1922.7 844,1921.9 843.5,1921.2 843,1920.5 842.5,1919.8 842,1919.2 841.5,1918.7 841,1918.1 840.5,1917.6 840,1917.2 839.5,1916.7 839,1916.3 838.5,1915.9 838,1915.6 837.5,1915.2 837,1914.8 836.5,1914.5 836,1914.2 835.5,1913.9 835,1913.6 834.5,1913.3 834,1913 833.5,1912.7 833,1912.5 832.5,1912.2 832,1912 831.5,1911.8 831,1911.6 830.5,1911.4 830,1911.2 829.5,1911 829,1910.8 828.5,1910.6 828,1910.4 827.5,1910.3 827,1910.1 826.5,1909.9 826,1909.8 825.5,1909.6 825,1909.4 824.5,1909.3 824,1909.1 823.5,1909 823,1908.8 822.5,1908.7 822,1908.6 821.5,1908.4 821,1908.3 820.5,1908.2 820,1908.1 819.5,1908 819,1907.9 818.5,1907.7 818,1907.7 817.5,1907.6 817,1907.5 816.5,1907.4 816,1907.3 815.5,1907.2 815,1907.2 814.5,1907.1 814,1907 813.5,1907 813,1906.9 812.5,1906.8 812,1906.8 811.5,1906.7 811,1906.7 810.5,1906.6 810,1906.6 809.5,1906.5 809,1906.5 808.5,1906.4 808,1906.4 807.5,1906.3 807,1906.3 806.5,1906.2 806,1906.2 805.5,1906.1 805,1906.1 804.5,1906 804,1906 803.5,1906 803,1905.9 802.5,1905.9 802,1905.9 801.5,1905.8 801,1905.8 800.5,1905.8 800,1905.7 799.5,1905.7 799,1905.7 798.5,1905.6 798,1905.6 797.5,1905.6 797,1905.6 796.5,1905.5 796,1905.5 795.5,1905.5 795,1905.5 794.5,1905.4 794,1905.4 793.5,1905.4 793,1905.4 792.5,1905.3 792,1905.3 791.5,1905.3 791,1905.3 790.5,1905.3 790,1905.2 789.5,1905.2 789,1905.2 788.5,1905.2 788,1905.2 787.5,1905.1 787,1905.1 786.5,1905.1 786,1905.1 785.5,1905.1 785,1905 784.5,1905 784,1905 783.5,1905 783,1905 782.5,1904.9 782,1904.9 781.5,1904.9 781,1904.9 780.5,1904.9 780,1904.9 779.5,1904.8 779,1904.8 778.5,1904.8 778,1904.8 777.5,1904.8 777,1904.8 776.5,1904.7 776,1904.7 775.5,1904.7 775,1904.7 774.5,1904.7 774,1904.7 773.5,1904.7 773,1904.7 772.5,1904.6 772,1904.6 771.5,1904.6 771,1904.6 770.5,1904.6 770,1904.6 769.5,1904.6 769,1904.6 768.5,1904.6 768,1904.5 767.5,1904.5 767,1904.5 766.5,1904.5 766,1904.5 765.5,1904.5 765,1904.5 764.5,1904.5 764,1904.5 763.5,1904.5 763,1904.5 762.5,1904.5 762,1904.5 761.5,1904.5 761,1904.4 760.5,1904.4 760,1904.4 759.5,1904.4 759,1904.4 758.5,1904.4 758,1904.4 757.5,1904.4 757,1904.4 756.5,1904.4 756,1904.4 755.5,1904.4 755,1904.4 754.5,1904.4 754,1904.4 753.5,1904.4 753,1904.4 752.5,1904.4 752,1904.4 751.5,1904.4 751,1904.4 750.5,1904.4 750,1904.4 749.5,1904.4 749,1904.4 748.5,1904.4 748,1904.4 747.5,1904.4 747,1904.4 746.5,1904.4 746,1904.3 745.5,1904.3 745,1904.3 744.5,1904.3 744,1904.3 743.5,1904.3 743,1904.3 742.5,1904.3 742,1904.3 741.5,1904.3 741,1904.3 740.5,1904.3 740,1904.3 739.5,1904.3 739,1904.3 738.5,1904.3 738,1904.3 737.5,1904.3 737,1904.3 736.5,1904.3 736,1904.3 735.5,1904.3 735,1904.3 734.5,1904.3 734,1904.3 733.5,1904.3 733,1904.3 732.5,1904.3 732,1904.3 731.5,1904.3 731,1904.3 730.5,1904.3 730,1904.3 729.5,1904.3 729,1904.3 728.5,1904.3 728,1904.3 727.5,1904.2 727,1904.2 726.5,1904.2 726,1904.2 725.5,1904.2 725,1904.2 724.5,1904.2 724,1904.2 723.5,1904.2 723,1904.2 722.5,1904.2 722,1904.2 721.5,1904.2 721,1904.2 720.5,1904.2 720,1904.2 719.5,1904.2 719,1904.2 718.5,1904.2 718,1904.2 717.5,1904.2 717,1904.2 716.5,1904.2 716,1904.2 715.5,1904.2 715,1904.2 714.5,1904.2 714,1904.2 713.5,1904.2 713,1904.2 712.5,1904.2 712,1904.2 711.5,1904.2 711,1904.2 710.5,1904.2 710,1904.2 709.5,1904.2 709,1904.2 708.5,1904.2 708,1904.2 707.5,1904.2 707,1904.2 706.5,1904.2 706,1904.2 705.5,1904.2 705,1904.2 704.5,1904.2 704,1904.2 703.5,1904.2 703,1904.2 702.5,1904.2 702,1904.2 701.5,1904.2 701,1904.2 700.5,1904.2 700,1904.1 699.5,1904.1 699,1904.1 698.5,1904.1 698,1904.1 697.5,1904.1 697,1904.1 696.5,1904.1 696,1904.1 695.5,1904.1 695,1904.1 694.5,1904.1 694,1904.1 693.5,1904.1 693,1904.1 692.5,1904.1 692,1904.1 691.5,1904.1 691,1904.1 690.5,1904.1 690,1904.1 689.5,1904.1 689,1904.1 688.5,1904.1 688,1904.1 687.5,1904.1 687,1904.1 686.5,1904.1 686,1904.1 685.5,1904.1 685,1904.1 684.5,1904.1 684,1904.1 683.5,1904.1 683,1904.1 682.5,1904.1 682,1904.1 681.5,1904.1 681,1904.1 680.5,1904.1 680,1904.1 679.5,1904.1 679,1904.1 678.5,1904.1 678,1904.1 677.5,1904.1 677,1904.1 676.5,1904.1 676,1904.1 675.5,1904.1 675,1904.1 674.5,1904.1 674,1904.1 673.5,1904.1 673,1904.1 672.5,1904.1 672,1904.1 671.5,1904.1 671,1904.1 670.5,1904.1 670,1904.1 669.5,1904.1 669,1904.1 668.5,1904.1 668,1904.1 667.5,1904.1" fill="#0d0d0d" stroke="#0d0d0d" stroke-width="1.6" stroke-linejoin="round"/>
<polyline points="731.6,1921.2 731.6,2002.7 827.1,2002.7" fill="none" stroke="#0d0d0d" stroke-width="2"/>
<text transform="translate(723.2 1961.9) rotate(-90)" font-size="26.3" fill="#0d0d0d" text-anchor="middle">2 nA</text>
<text x="755.5" y="2033" font-size="26.1" fill="#0d0d0d">10 s</text>
<line x1="774.4" y1="2075.5" x2="774.4" y2="2241.8" stroke="#0d0d0d" stroke-width="2.3"/>
<line x1="765.5" y1="2110.2" x2="774.4" y2="2110.2" stroke="#0d0d0d" stroke-width="2.3"/>
<line x1="765.5" y1="2153.7" x2="774.4" y2="2153.7" stroke="#0d0d0d" stroke-width="2.3"/>
<line x1="765.5" y1="2197.6" x2="774.4" y2="2197.6" stroke="#0d0d0d" stroke-width="2.3"/>
<line x1="765.5" y1="2240.7" x2="774.4" y2="2240.7" stroke="#0d0d0d" stroke-width="2.3"/>
<text x="762" y="2118.4" font-size="23" fill="#0d0d0d" text-anchor="end">3</text>
<text x="762" y="2161.9" font-size="23" fill="#0d0d0d" text-anchor="end">2</text>
<text x="762" y="2205.8" font-size="23" fill="#0d0d0d" text-anchor="end">1</text>
<text x="762" y="2248.9" font-size="23" fill="#0d0d0d" text-anchor="end">0</text>
<line x1="801.5" y1="2196.7" x2="801.5" y2="2209.6" stroke="#0d0d0d" stroke-width="1.8"/>
<line x1="797" y1="2196.7" x2="806" y2="2196.7" stroke="#0d0d0d" stroke-width="1.8"/>
<rect x="782.9" y="2209.6" width="37.2" height="31.1" fill="#171717" stroke="#0d0d0d" stroke-width="1.9"/>
<line x1="865.8" y1="2101.3" x2="865.8" y2="2141.2" stroke="#0d0d0d" stroke-width="1.8"/>
<line x1="861.3" y1="2101.3" x2="870.3" y2="2101.3" stroke="#0d0d0d" stroke-width="1.8"/>
<rect x="847.2" y="2141.2" width="37.2" height="99.5" fill="#64b2a0" stroke="#0d0d0d" stroke-width="1.9"/>
<line x1="765.5" y1="2240.7" x2="892" y2="2240.7" stroke="#0d0d0d" stroke-width="2.3"/>
<text transform="translate(722.4 2157.7) rotate(-90)" font-size="26.3" fill="#0d0d0d" text-anchor="middle">max. current [nA]</text>
<text x="866.7" y="2075.2" font-size="30.5" fill="#0d0d0d" stroke="#0d0d0d" stroke-width="0.5" text-anchor="middle">*</text>
<text x="770.7" y="2278.9" font-size="26.1" fill="#0d0d0d" letter-spacing="-0.45">contr.</text>
<text x="839" y="2278.9" font-size="26.1" fill="#64b2a0">NAPQI</text>
<line x1="995.5" y1="2075.5" x2="995.5" y2="2241.8" stroke="#0d0d0d" stroke-width="2.3"/>
<line x1="985.3" y1="2093.3" x2="995.5" y2="2093.3" stroke="#0d0d0d" stroke-width="2.3"/>
<line x1="985.3" y1="2182.1" x2="995.5" y2="2182.1" stroke="#0d0d0d" stroke-width="2.3"/>
<line x1="991" y1="2123" x2="995.5" y2="2123" stroke="#0d0d0d" stroke-width="1.7"/>
<line x1="991" y1="2152.3" x2="995.5" y2="2152.3" stroke="#0d0d0d" stroke-width="1.7"/>
<line x1="991" y1="2210.9" x2="995.5" y2="2210.9" stroke="#0d0d0d" stroke-width="1.7"/>
<text x="980.9" y="2101.5" font-size="23" fill="#0d0d0d" text-anchor="end">45</text>
<text x="980.9" y="2190.3" font-size="23" fill="#0d0d0d" text-anchor="end">30</text>
<line x1="1022.3" y1="2119" x2="1022.3" y2="2122.6" stroke="#0d0d0d" stroke-width="1.8"/>
<line x1="1017.8" y1="2119" x2="1026.8" y2="2119" stroke="#0d0d0d" stroke-width="1.8"/>
<rect x="1004" y="2122.6" width="36.7" height="118.1" fill="#171717" stroke="#0d0d0d" stroke-width="1.9"/>
<line x1="1086.2" y1="2158.5" x2="1086.2" y2="2162.1" stroke="#0d0d0d" stroke-width="1.8"/>
<line x1="1081.8" y1="2158.5" x2="1090.8" y2="2158.5" stroke="#0d0d0d" stroke-width="1.8"/>
<rect x="1068.4" y="2162.1" width="35.8" height="78.6" fill="#64b2a0" stroke="#0d0d0d" stroke-width="1.9"/>
<line x1="989.7" y1="2240.7" x2="1111.8" y2="2240.7" stroke="#0d0d0d" stroke-width="2.3"/>
<text transform="translate(936.4 2156.5) rotate(-90)" font-size="26.3" fill="#0d0d0d" text-anchor="middle">threshold [°C]</text>
<text x="1087.4" y="2156.4" font-size="30.5" fill="#0d0d0d" stroke="#0d0d0d" stroke-width="0.5" text-anchor="middle">*</text>
<text x="1117.1" y="2234" font-size="22.9" fill="#0d0d0d">n = 9</text>
<text x="991.4" y="2278.9" font-size="26.1" fill="#0d0d0d" letter-spacing="-0.45">contr.</text>
<text x="1060" y="2278.9" font-size="26.1" fill="#64b2a0">NAPQI</text>
</g>
</svg>
</body></html>
